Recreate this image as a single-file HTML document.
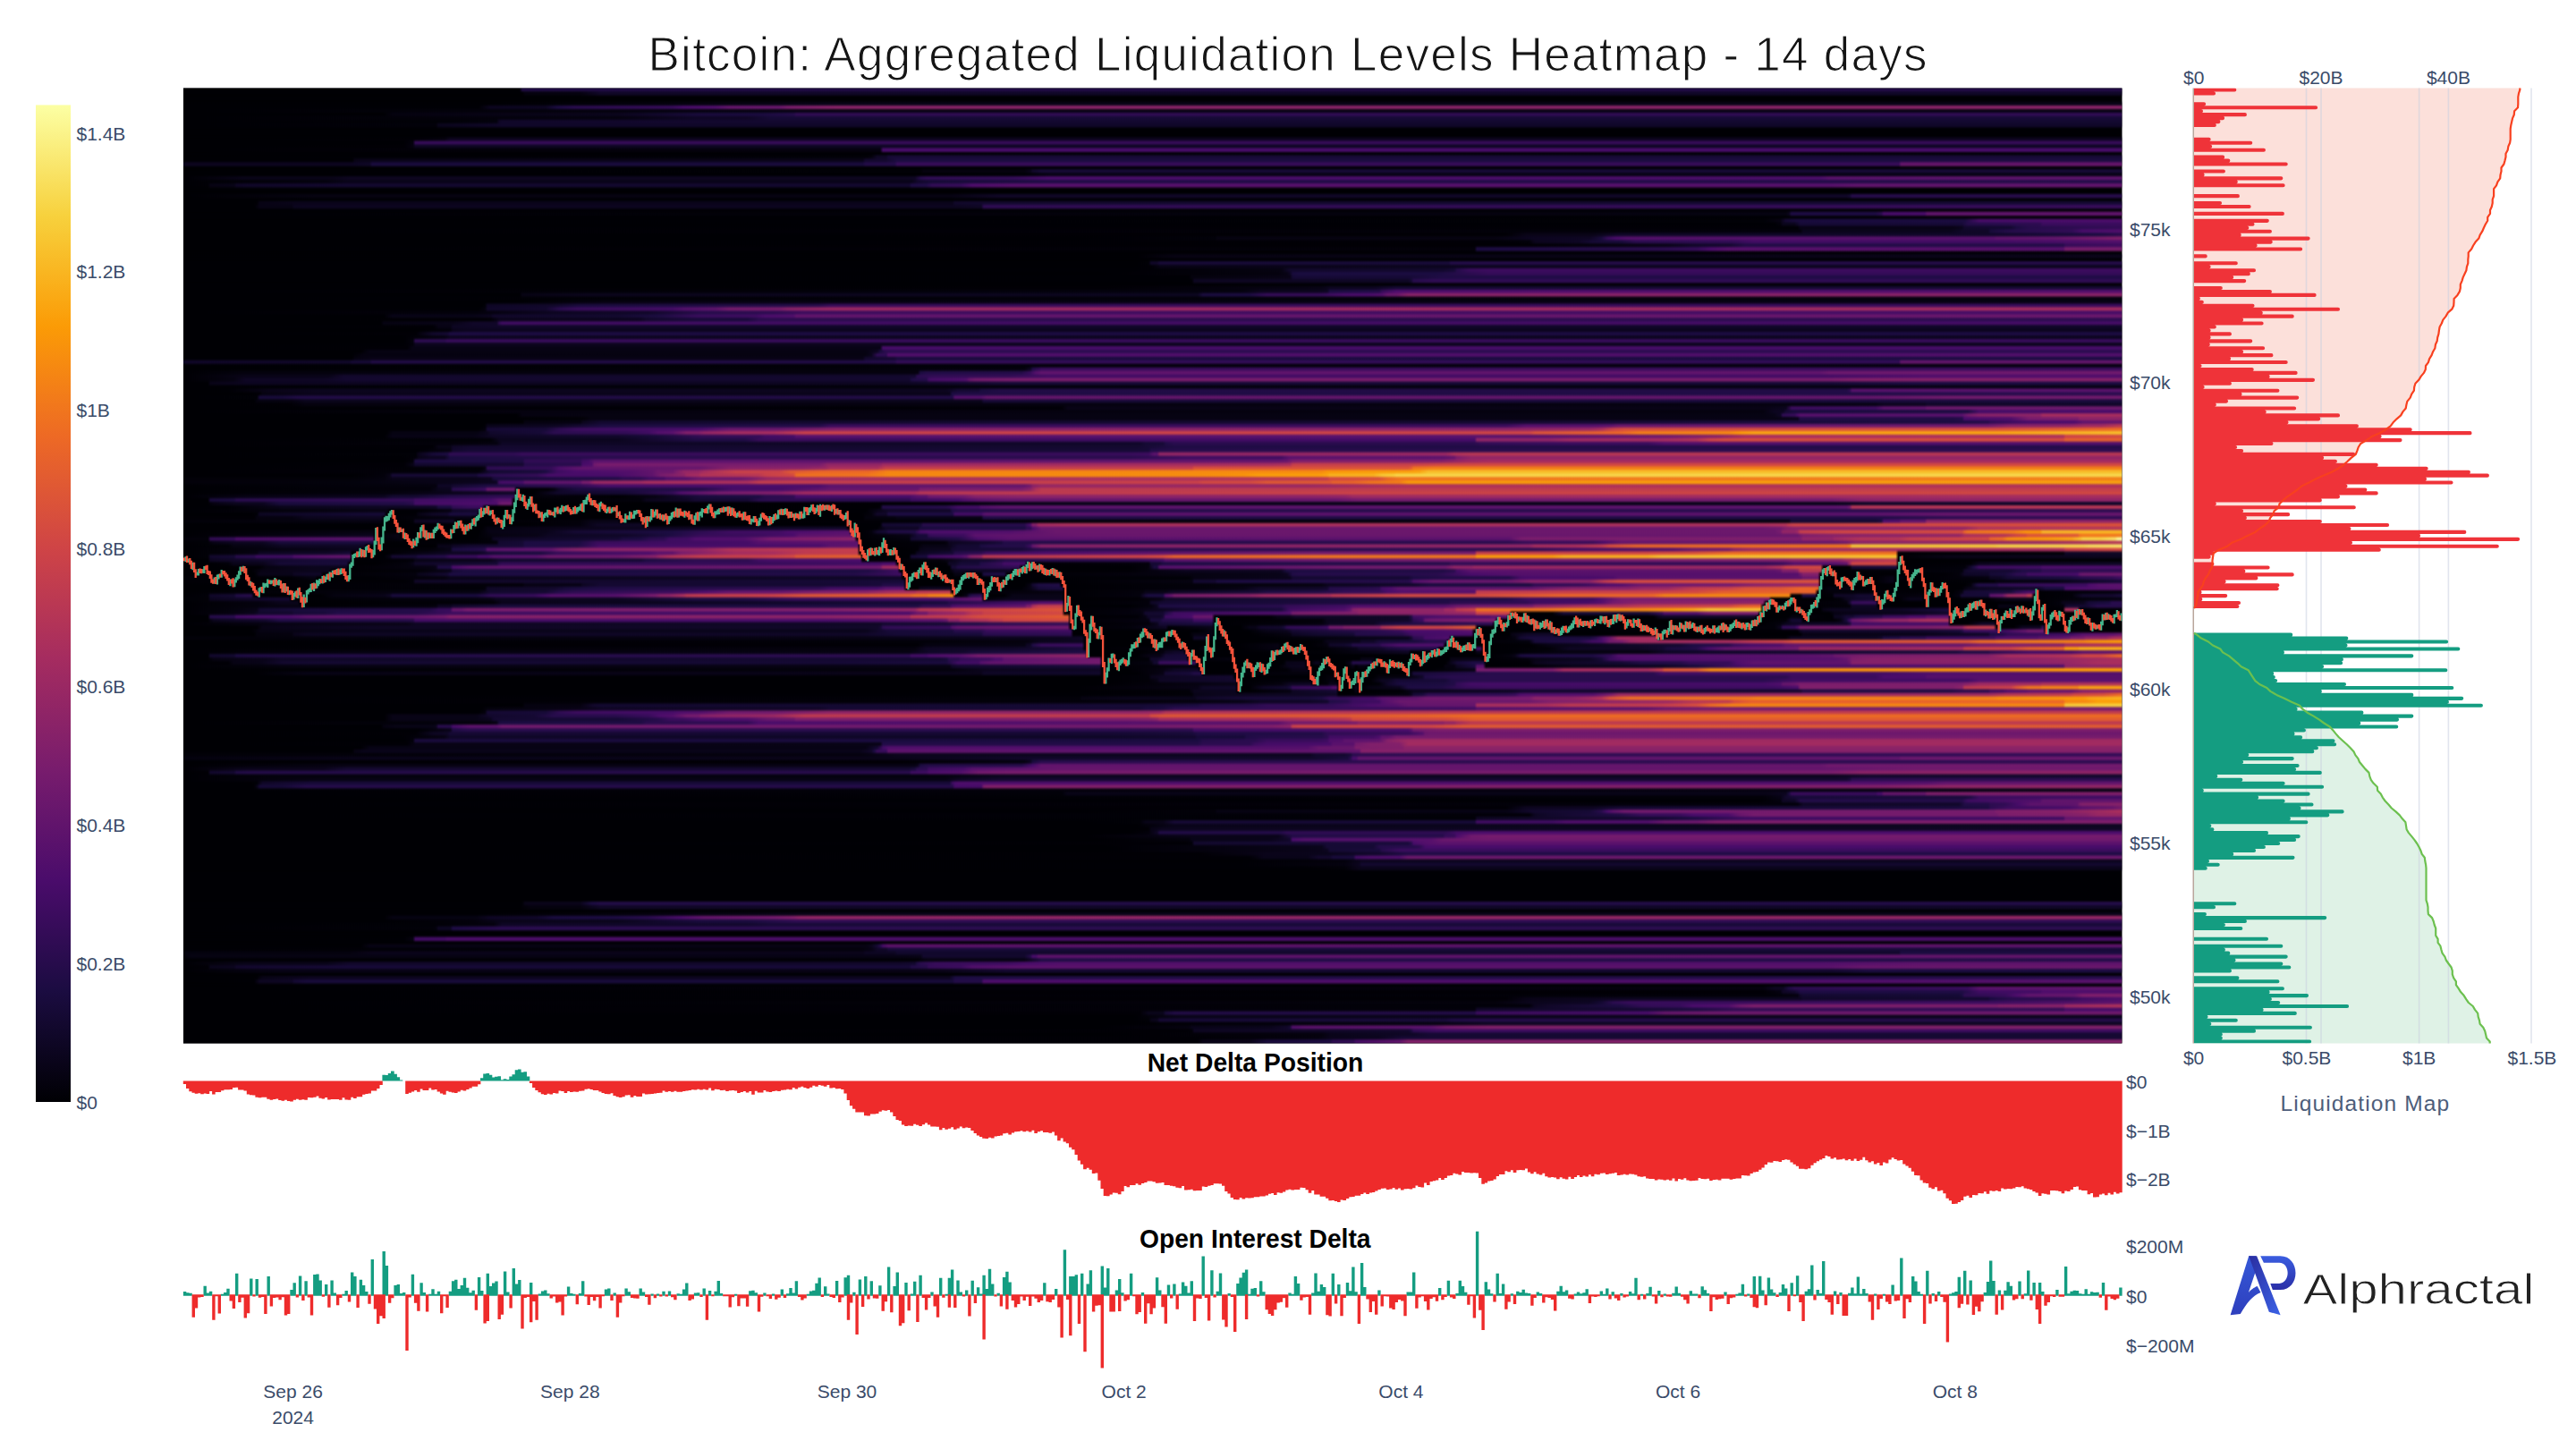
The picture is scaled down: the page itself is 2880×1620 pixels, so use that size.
<!DOCTYPE html><html><head><meta charset="utf-8"><title>Bitcoin: Aggregated Liquidation Levels Heatmap - 14 days</title>
<style>html,body{margin:0;padding:0;background:#fff}svg{display:block}text{font-family:"Liberation Sans", sans-serif}</style></head><body>
<svg width="2880" height="1620" viewBox="0 0 2880 1620">
<defs>
<linearGradient id="cb" x1="0" x2="0" y1="1" y2="0"><stop offset="0.0000" stop-color="#000004"/><stop offset="0.1111" stop-color="#1b0c41"/><stop offset="0.2222" stop-color="#4a0c6b"/><stop offset="0.3333" stop-color="#781c6d"/><stop offset="0.4444" stop-color="#a52c60"/><stop offset="0.5556" stop-color="#cf4446"/><stop offset="0.6667" stop-color="#ed6925"/><stop offset="0.7778" stop-color="#fb9b06"/><stop offset="0.8889" stop-color="#f7d13d"/><stop offset="1.0000" stop-color="#fcffa4"/></linearGradient>
<filter id="vb" x="0" y="-0.01" width="1" height="1.02" color-interpolation-filters="sRGB"><feGaussianBlur stdDeviation="0 0.85"/></filter>
<clipPath id="hc"><rect x="205" y="98.5" width="2167.5" height="1068"/></clipPath>
<linearGradient id="lg1" x1="0" x2="1" y1="0" y2="1"><stop offset="0" stop-color="#2a2da0"/><stop offset="1" stop-color="#3b62e6"/></linearGradient>
<linearGradient id="lg2" x1="0" x2="0" y1="0" y2="1"><stop offset="0" stop-color="#3558d8"/><stop offset="1" stop-color="#2e3fbd"/></linearGradient>
<linearGradient id="lg3" x1="0" x2="0" y1="0" y2="1"><stop offset="0" stop-color="#3a5de0"/><stop offset="1" stop-color="#2a2ea6"/></linearGradient>
<linearGradient id="h0" gradientUnits="userSpaceOnUse" x1="205" x2="2372.5" y1="0" y2="0"><stop offset="0" stop-color="#000004"/><stop offset="0.1719" stop-color="#000004"/><stop offset="0.1734" stop-color="#010006"/><stop offset="0.1749" stop-color="#210c47"/><stop offset="1" stop-color="#230c48"/></linearGradient>
<linearGradient id="h1" gradientUnits="userSpaceOnUse" x1="205" x2="2372.5" y1="0" y2="0"><stop offset="0" stop-color="#000004"/><stop offset="0.1749" stop-color="#000004"/><stop offset="0.1763" stop-color="#05020e"/><stop offset="0.2046" stop-color="#05020f"/><stop offset="0.215" stop-color="#100727"/><stop offset="1" stop-color="#100728"/></linearGradient>
<linearGradient id="h4" gradientUnits="userSpaceOnUse" x1="205" x2="2372.5" y1="0" y2="0"><stop offset="0" stop-color="#000004"/><stop offset="0.154" stop-color="#000004"/><stop offset="0.3341" stop-color="#080417"/><stop offset="1" stop-color="#090417"/></linearGradient>
<linearGradient id="h5" gradientUnits="userSpaceOnUse" x1="205" x2="2372.5" y1="0" y2="0"><stop offset="0" stop-color="#000004"/><stop offset="0.1525" stop-color="#000005"/><stop offset="0.1585" stop-color="#0c051f"/><stop offset="0.1868" stop-color="#0d0622"/><stop offset="0.1927" stop-color="#1b0c41"/><stop offset="0.2016" stop-color="#290c4e"/><stop offset="0.2522" stop-color="#370c5a"/><stop offset="0.2582" stop-color="#480c69"/><stop offset="0.2746" stop-color="#510f6b"/><stop offset="0.282" stop-color="#66166c"/><stop offset="0.3073" stop-color="#69176c"/><stop offset="0.3118" stop-color="#7a1d6c"/><stop offset="0.3371" stop-color="#8a2368"/><stop offset="1" stop-color="#8a2368"/></linearGradient>
<linearGradient id="h6" gradientUnits="userSpaceOnUse" x1="205" x2="2372.5" y1="0" y2="0"><stop offset="0" stop-color="#000004"/><stop offset="0.3192" stop-color="#060312"/><stop offset="1" stop-color="#060313"/></linearGradient>
<linearGradient id="h7" gradientUnits="userSpaceOnUse" x1="205" x2="2372.5" y1="0" y2="0"><stop offset="0" stop-color="#000004"/><stop offset="0.1034" stop-color="#000004"/><stop offset="0.1079" stop-color="#05020f"/><stop offset="0.224" stop-color="#0b051d"/><stop offset="0.2656" stop-color="#190b3b"/><stop offset="0.2969" stop-color="#1a0b3e"/><stop offset="0.3147" stop-color="#240c49"/><stop offset="0.3162" stop-color="#300c53"/><stop offset="1" stop-color="#300c54"/></linearGradient>
<linearGradient id="h8" gradientUnits="userSpaceOnUse" x1="205" x2="2372.5" y1="0" y2="0"><stop offset="0" stop-color="#000004"/><stop offset="0.2254" stop-color="#05020f"/><stop offset="0.2641" stop-color="#0e0625"/><stop offset="0.2909" stop-color="#0f0625"/><stop offset="0.3028" stop-color="#160a36"/><stop offset="1" stop-color="#170a37"/></linearGradient>
<linearGradient id="h9" gradientUnits="userSpaceOnUse" x1="205" x2="2372.5" y1="0" y2="0"><stop offset="0" stop-color="#000004"/><stop offset="0.1391" stop-color="#010107"/><stop offset="0.1615" stop-color="#03020c"/><stop offset="0.1629" stop-color="#0e0624"/><stop offset="0.1644" stop-color="#100729"/><stop offset="0.2954" stop-color="#13082f"/><stop offset="1" stop-color="#130930"/></linearGradient>
<linearGradient id="h10" gradientUnits="userSpaceOnUse" x1="205" x2="2372.5" y1="0" y2="0"><stop offset="0" stop-color="#000004"/><stop offset="0.1287" stop-color="#02010a"/><stop offset="0.1302" stop-color="#03010a"/><stop offset="0.1317" stop-color="#0a051c"/><stop offset="0.1644" stop-color="#100729"/><stop offset="1" stop-color="#100729"/></linearGradient>
<linearGradient id="h14" gradientUnits="userSpaceOnUse" x1="205" x2="2372.5" y1="0" y2="0"><stop offset="0" stop-color="#000004"/><stop offset="0.1198" stop-color="#010006"/><stop offset="0.1347" stop-color="#04020e"/><stop offset="0.1376" stop-color="#0c051f"/><stop offset="1" stop-color="#0c051f"/></linearGradient>
<linearGradient id="h15" gradientUnits="userSpaceOnUse" x1="205" x2="2372.5" y1="0" y2="0"><stop offset="0" stop-color="#000004"/><stop offset="0.1138" stop-color="#000004"/><stop offset="0.1183" stop-color="#04020d"/><stop offset="0.1198" stop-color="#370c5a"/><stop offset="1" stop-color="#370c5a"/></linearGradient>
<linearGradient id="h16" gradientUnits="userSpaceOnUse" x1="205" x2="2372.5" y1="0" y2="0"><stop offset="0" stop-color="#000004"/><stop offset="0.1138" stop-color="#010005"/><stop offset="0.1183" stop-color="#050210"/><stop offset="0.1198" stop-color="#0d0622"/><stop offset="1" stop-color="#0d0622"/></linearGradient>
<linearGradient id="h17" gradientUnits="userSpaceOnUse" x1="205" x2="2372.5" y1="0" y2="0"><stop offset="0" stop-color="#000004"/><stop offset="0.3594" stop-color="#060210"/><stop offset="0.3609" stop-color="#470c68"/><stop offset="0.3624" stop-color="#480c6a"/><stop offset="1" stop-color="#480c6a"/></linearGradient>
<linearGradient id="h19" gradientUnits="userSpaceOnUse" x1="205" x2="2372.5" y1="0" y2="0"><stop offset="0" stop-color="#000004"/><stop offset="0.3519" stop-color="#020108"/><stop offset="0.3549" stop-color="#04020c"/><stop offset="0.3579" stop-color="#0f0726"/><stop offset="0.3624" stop-color="#0f0726"/><stop offset="0.3638" stop-color="#160a36"/><stop offset="0.3668" stop-color="#170a37"/><stop offset="1" stop-color="#170a37"/></linearGradient>
<linearGradient id="h20" gradientUnits="userSpaceOnUse" x1="205" x2="2372.5" y1="0" y2="0"><stop offset="0" stop-color="#000004"/><stop offset="0.0871" stop-color="#000004"/><stop offset="0.0885" stop-color="#080315"/><stop offset="0.0915" stop-color="#090418"/><stop offset="0.349" stop-color="#090418"/><stop offset="0.3504" stop-color="#090419"/><stop offset="0.3519" stop-color="#13082e"/><stop offset="0.3624" stop-color="#13082e"/><stop offset="0.3683" stop-color="#1b0c40"/><stop offset="1" stop-color="#1b0c40"/></linearGradient>
<linearGradient id="h21" gradientUnits="userSpaceOnUse" x1="205" x2="2372.5" y1="0" y2="0"><stop offset="0" stop-color="#0c051f"/><stop offset="0.0856" stop-color="#0c0520"/><stop offset="0.096" stop-color="#0f0726"/><stop offset="0.0975" stop-color="#190b3d"/><stop offset="0.3504" stop-color="#190b3d"/><stop offset="0.3519" stop-color="#230c48"/><stop offset="0.3668" stop-color="#230c48"/><stop offset="0.3683" stop-color="#360c59"/><stop offset="0.8847" stop-color="#360c59"/><stop offset="0.8862" stop-color="#65156c"/><stop offset="1" stop-color="#65156c"/></linearGradient>
<linearGradient id="h23" gradientUnits="userSpaceOnUse" x1="205" x2="2372.5" y1="0" y2="0"><stop offset="0" stop-color="#000004"/><stop offset="0.3802" stop-color="#010107"/><stop offset="0.3817" stop-color="#05020f"/><stop offset="0.4338" stop-color="#05020f"/><stop offset="0.4368" stop-color="#0a041b"/><stop offset="0.4382" stop-color="#12082c"/><stop offset="0.4427" stop-color="#170a37"/><stop offset="1" stop-color="#170a38"/></linearGradient>
<linearGradient id="h24" gradientUnits="userSpaceOnUse" x1="205" x2="2372.5" y1="0" y2="0"><stop offset="0" stop-color="#000004"/><stop offset="0.3787" stop-color="#000004"/><stop offset="0.4338" stop-color="#010107"/><stop offset="0.4472" stop-color="#070314"/><stop offset="1" stop-color="#070315"/></linearGradient>
<linearGradient id="h25" gradientUnits="userSpaceOnUse" x1="205" x2="2372.5" y1="0" y2="0"><stop offset="0" stop-color="#000004"/><stop offset="0.0305" stop-color="#090418"/><stop offset="0.0766" stop-color="#090418"/><stop offset="0.0856" stop-color="#0d0620"/><stop offset="0.3698" stop-color="#0d0620"/><stop offset="0.3772" stop-color="#0e0623"/><stop offset="0.3802" stop-color="#250c4a"/><stop offset="0.3832" stop-color="#300c54"/><stop offset="0.4278" stop-color="#340c58"/><stop offset="0.4457" stop-color="#4b0c6b"/><stop offset="0.8445" stop-color="#4d0d6b"/><stop offset="0.849" stop-color="#5b126c"/><stop offset="1" stop-color="#5f136c"/></linearGradient>
<linearGradient id="h26" gradientUnits="userSpaceOnUse" x1="205" x2="2372.5" y1="0" y2="0"><stop offset="0" stop-color="#000004"/><stop offset="0.0737" stop-color="#04020e"/><stop offset="0.0841" stop-color="#090419"/><stop offset="0.3757" stop-color="#090419"/><stop offset="0.3787" stop-color="#11072a"/><stop offset="0.3862" stop-color="#150a35"/><stop offset="0.4457" stop-color="#1f0c45"/><stop offset="1" stop-color="#240c49"/></linearGradient>
<linearGradient id="h27" gradientUnits="userSpaceOnUse" x1="205" x2="2372.5" y1="0" y2="0"><stop offset="0" stop-color="#000004"/><stop offset="0.0126" stop-color="#010006"/><stop offset="0.0141" stop-color="#070313"/><stop offset="0.026" stop-color="#080417"/><stop offset="0.0275" stop-color="#0e0624"/><stop offset="0.032" stop-color="#100728"/><stop offset="0.0841" stop-color="#13082f"/><stop offset="0.3743" stop-color="#13082f"/><stop offset="0.3757" stop-color="#1e0c44"/><stop offset="0.3832" stop-color="#200c46"/><stop offset="0.3862" stop-color="#310c55"/><stop offset="0.401" stop-color="#360c59"/><stop offset="0.407" stop-color="#4e0d6b"/><stop offset="0.4278" stop-color="#57106c"/><stop offset="0.849" stop-color="#57106c"/><stop offset="0.8638" stop-color="#60146c"/><stop offset="1" stop-color="#61146c"/></linearGradient>
<linearGradient id="h30" gradientUnits="userSpaceOnUse" x1="205" x2="2372.5" y1="0" y2="0"><stop offset="0" stop-color="#000004"/><stop offset="0.0677" stop-color="#060311"/><stop offset="0.3951" stop-color="#060312"/><stop offset="0.4219" stop-color="#100727"/><stop offset="0.8519" stop-color="#100728"/><stop offset="0.8579" stop-color="#100728"/><stop offset="0.8594" stop-color="#130930"/><stop offset="0.8609" stop-color="#260c4b"/><stop offset="1" stop-color="#270c4b"/></linearGradient>
<linearGradient id="h32" gradientUnits="userSpaceOnUse" x1="205" x2="2372.5" y1="0" y2="0"><stop offset="0" stop-color="#000004"/><stop offset="0.035" stop-color="#000004"/><stop offset="0.0379" stop-color="#010005"/><stop offset="0.0394" stop-color="#070314"/><stop offset="0.0588" stop-color="#0a041a"/><stop offset="0.3966" stop-color="#0a041a"/><stop offset="0.3981" stop-color="#11082b"/><stop offset="0.4144" stop-color="#12082d"/><stop offset="1" stop-color="#140932"/></linearGradient>
<linearGradient id="h33" gradientUnits="userSpaceOnUse" x1="205" x2="2372.5" y1="0" y2="0"><stop offset="0" stop-color="#000004"/><stop offset="0.0365" stop-color="#000004"/><stop offset="0.0394" stop-color="#070314"/><stop offset="0.0558" stop-color="#070314"/><stop offset="0.0573" stop-color="#0b051e"/><stop offset="0.0632" stop-color="#0c051f"/><stop offset="0.3966" stop-color="#0c051f"/><stop offset="0.4115" stop-color="#0f0725"/><stop offset="0.4129" stop-color="#2c0c50"/><stop offset="0.4144" stop-color="#2e0c52"/><stop offset="1" stop-color="#360c59"/></linearGradient>
<linearGradient id="h35" gradientUnits="userSpaceOnUse" x1="205" x2="2372.5" y1="0" y2="0"><stop offset="0" stop-color="#000004"/><stop offset="0.8266" stop-color="#060312"/><stop offset="0.8281" stop-color="#0b051d"/><stop offset="0.8296" stop-color="#1e0c44"/><stop offset="0.8728" stop-color="#1e0c44"/><stop offset="0.8757" stop-color="#2b0c4f"/><stop offset="0.8772" stop-color="#470c69"/><stop offset="0.8981" stop-color="#490c6a"/><stop offset="0.8996" stop-color="#60146c"/><stop offset="1" stop-color="#60146c"/></linearGradient>
<linearGradient id="h37" gradientUnits="userSpaceOnUse" x1="205" x2="2372.5" y1="0" y2="0"><stop offset="0" stop-color="#000004"/><stop offset="0.8147" stop-color="#010107"/><stop offset="0.8237" stop-color="#070313"/><stop offset="0.8266" stop-color="#150934"/><stop offset="0.8326" stop-color="#190b3e"/><stop offset="0.9189" stop-color="#1b0c40"/><stop offset="0.9263" stop-color="#480c69"/><stop offset="1" stop-color="#4d0d6b"/></linearGradient>
<linearGradient id="h38" gradientUnits="userSpaceOnUse" x1="205" x2="2372.5" y1="0" y2="0"><stop offset="0" stop-color="#000004"/><stop offset="0.8207" stop-color="#000005"/><stop offset="0.8237" stop-color="#03010b"/><stop offset="0.8251" stop-color="#0a051b"/><stop offset="0.8311" stop-color="#0a051b"/><stop offset="0.8341" stop-color="#160a36"/><stop offset="0.9174" stop-color="#160a37"/><stop offset="0.9204" stop-color="#240c49"/><stop offset="0.9576" stop-color="#2d0c51"/><stop offset="0.9591" stop-color="#3a0c5d"/><stop offset="1" stop-color="#3a0c5d"/></linearGradient>
<linearGradient id="h39" gradientUnits="userSpaceOnUse" x1="205" x2="2372.5" y1="0" y2="0"><stop offset="0" stop-color="#000004"/><stop offset="0.8326" stop-color="#010006"/><stop offset="0.8341" stop-color="#070315"/><stop offset="0.9129" stop-color="#080315"/><stop offset="0.9174" stop-color="#0b051c"/><stop offset="0.9189" stop-color="#12082c"/><stop offset="0.9427" stop-color="#130930"/><stop offset="0.9457" stop-color="#1b0c40"/><stop offset="0.9516" stop-color="#260c4a"/><stop offset="1" stop-color="#330c56"/></linearGradient>
<linearGradient id="h40" gradientUnits="userSpaceOnUse" x1="205" x2="2372.5" y1="0" y2="0"><stop offset="0" stop-color="#000004"/><stop offset="0.8341" stop-color="#03010b"/><stop offset="0.8356" stop-color="#0a051b"/><stop offset="0.9115" stop-color="#0a051b"/><stop offset="0.9174" stop-color="#0f0727"/><stop offset="0.9308" stop-color="#100727"/><stop offset="0.9323" stop-color="#180b3b"/><stop offset="0.9412" stop-color="#250c4a"/><stop offset="0.974" stop-color="#320c56"/><stop offset="0.9799" stop-color="#490c6a"/><stop offset="1" stop-color="#500e6b"/></linearGradient>
<linearGradient id="h41" gradientUnits="userSpaceOnUse" x1="205" x2="2372.5" y1="0" y2="0"><stop offset="0" stop-color="#000004"/><stop offset="0.6823" stop-color="#010005"/><stop offset="0.6927" stop-color="#090417"/><stop offset="0.7269" stop-color="#090417"/><stop offset="0.7403" stop-color="#0f0727"/><stop offset="0.9308" stop-color="#100729"/><stop offset="0.9888" stop-color="#1b0c41"/><stop offset="1" stop-color="#290c4d"/></linearGradient>
<linearGradient id="h42" gradientUnits="userSpaceOnUse" x1="205" x2="2372.5" y1="0" y2="0"><stop offset="0" stop-color="#000004"/><stop offset="0.4621" stop-color="#000004"/><stop offset="0.532" stop-color="#02010a"/><stop offset="0.5335" stop-color="#060311"/><stop offset="0.6763" stop-color="#060311"/><stop offset="0.6957" stop-color="#0c0520"/><stop offset="0.7254" stop-color="#0e0623"/><stop offset="0.7314" stop-color="#190b3c"/><stop offset="0.7344" stop-color="#350c58"/><stop offset="0.7388" stop-color="#4b0c6b"/><stop offset="0.7448" stop-color="#56106c"/><stop offset="0.9338" stop-color="#59116c"/><stop offset="0.9353" stop-color="#60146c"/><stop offset="0.965" stop-color="#63156c"/><stop offset="1" stop-color="#811f6a"/></linearGradient>
<linearGradient id="h43" gradientUnits="userSpaceOnUse" x1="205" x2="2372.5" y1="0" y2="0"><stop offset="0" stop-color="#000004"/><stop offset="0.6763" stop-color="#010006"/><stop offset="0.6942" stop-color="#020109"/><stop offset="0.6972" stop-color="#0b051d"/><stop offset="0.7195" stop-color="#0e0624"/><stop offset="0.7269" stop-color="#160a35"/><stop offset="0.7418" stop-color="#180b3b"/><stop offset="0.7493" stop-color="#2a0c4f"/><stop offset="0.7984" stop-color="#310c55"/><stop offset="0.8103" stop-color="#420c64"/><stop offset="0.9353" stop-color="#420c64"/><stop offset="1" stop-color="#510f6b"/></linearGradient>
<linearGradient id="h44" gradientUnits="userSpaceOnUse" x1="205" x2="2372.5" y1="0" y2="0"><stop offset="0" stop-color="#000004"/><stop offset="0.6957" stop-color="#010005"/><stop offset="0.7656" stop-color="#090417"/><stop offset="0.779" stop-color="#100728"/><stop offset="0.7969" stop-color="#13082e"/><stop offset="0.8058" stop-color="#200c45"/><stop offset="0.9591" stop-color="#230c48"/><stop offset="0.9695" stop-color="#250c4a"/><stop offset="0.971" stop-color="#340c58"/><stop offset="0.9725" stop-color="#360c59"/><stop offset="1" stop-color="#3e0c60"/></linearGradient>
<linearGradient id="h45" gradientUnits="userSpaceOnUse" x1="205" x2="2372.5" y1="0" y2="0"><stop offset="0" stop-color="#000004"/><stop offset="0.6659" stop-color="#03010a"/><stop offset="0.6674" stop-color="#1b0c41"/><stop offset="0.7626" stop-color="#2a0c4e"/><stop offset="0.7805" stop-color="#340c58"/><stop offset="0.7879" stop-color="#4b0c6b"/><stop offset="0.7969" stop-color="#57106c"/><stop offset="0.9695" stop-color="#57106c"/><stop offset="0.971" stop-color="#771c6d"/><stop offset="1" stop-color="#771c6d"/></linearGradient>
<linearGradient id="h47" gradientUnits="userSpaceOnUse" x1="205" x2="2372.5" y1="0" y2="0"><stop offset="0" stop-color="#000004"/><stop offset="0.4918" stop-color="#000004"/><stop offset="0.5112" stop-color="#070313"/><stop offset="1" stop-color="#0a041a"/></linearGradient>
<linearGradient id="h49" gradientUnits="userSpaceOnUse" x1="205" x2="2372.5" y1="0" y2="0"><stop offset="0" stop-color="#000004"/><stop offset="0.4903" stop-color="#000004"/><stop offset="0.4978" stop-color="#010107"/><stop offset="0.4993" stop-color="#100729"/><stop offset="0.5022" stop-color="#110729"/><stop offset="0.5037" stop-color="#170a37"/><stop offset="0.6525" stop-color="#180b39"/><stop offset="0.654" stop-color="#220c47"/><stop offset="0.6659" stop-color="#240c49"/><stop offset="1" stop-color="#240c49"/></linearGradient>
<linearGradient id="h50" gradientUnits="userSpaceOnUse" x1="205" x2="2372.5" y1="0" y2="0"><stop offset="0" stop-color="#000004"/><stop offset="0.4888" stop-color="#000004"/><stop offset="0.4993" stop-color="#010006"/><stop offset="0.5037" stop-color="#070314"/><stop offset="0.6659" stop-color="#0c051f"/><stop offset="1" stop-color="#0c051f"/></linearGradient>
<linearGradient id="h51" gradientUnits="userSpaceOnUse" x1="205" x2="2372.5" y1="0" y2="0"><stop offset="0" stop-color="#000004"/><stop offset="0.4888" stop-color="#000005"/><stop offset="0.5662" stop-color="#060311"/><stop offset="0.5707" stop-color="#11082b"/><stop offset="0.6496" stop-color="#12082c"/><stop offset="0.6555" stop-color="#160a36"/><stop offset="0.657" stop-color="#240c49"/><stop offset="0.6629" stop-color="#370c5a"/><stop offset="0.6734" stop-color="#3c0c5e"/><stop offset="1" stop-color="#3c0c5e"/></linearGradient>
<linearGradient id="h52" gradientUnits="userSpaceOnUse" x1="205" x2="2372.5" y1="0" y2="0"><stop offset="0" stop-color="#000004"/><stop offset="0.4725" stop-color="#000004"/><stop offset="0.5647" stop-color="#05020e"/><stop offset="0.5692" stop-color="#070314"/><stop offset="0.5707" stop-color="#0c051f"/><stop offset="0.5722" stop-color="#180b3b"/><stop offset="0.5751" stop-color="#1a0c3f"/><stop offset="0.6466" stop-color="#1b0c41"/><stop offset="0.6734" stop-color="#350c58"/><stop offset="1" stop-color="#350c58"/></linearGradient>
<linearGradient id="h53" gradientUnits="userSpaceOnUse" x1="205" x2="2372.5" y1="0" y2="0"><stop offset="0" stop-color="#000004"/><stop offset="0.5186" stop-color="#000005"/><stop offset="0.5201" stop-color="#04020d"/><stop offset="0.5707" stop-color="#080315"/><stop offset="0.5722" stop-color="#140931"/><stop offset="0.5737" stop-color="#160a36"/><stop offset="0.6317" stop-color="#160a36"/><stop offset="0.6496" stop-color="#1f0c45"/><stop offset="1" stop-color="#1f0c45"/></linearGradient>
<linearGradient id="h54" gradientUnits="userSpaceOnUse" x1="205" x2="2372.5" y1="0" y2="0"><stop offset="0" stop-color="#000004"/><stop offset="0.5171" stop-color="#000005"/><stop offset="0.5201" stop-color="#010006"/><stop offset="0.5216" stop-color="#0d0621"/><stop offset="0.6317" stop-color="#0f0725"/><stop offset="0.6332" stop-color="#140931"/><stop offset="0.6347" stop-color="#270c4c"/><stop offset="0.6451" stop-color="#2f0c53"/><stop offset="1" stop-color="#2f0c53"/></linearGradient>
<linearGradient id="h56" gradientUnits="userSpaceOnUse" x1="205" x2="2372.5" y1="0" y2="0"><stop offset="0" stop-color="#000004"/><stop offset="0.4754" stop-color="#010005"/><stop offset="0.5871" stop-color="#070314"/><stop offset="0.5915" stop-color="#0c051f"/><stop offset="0.6138" stop-color="#0c051f"/><stop offset="0.6257" stop-color="#140932"/><stop offset="1" stop-color="#150933"/></linearGradient>
<linearGradient id="h57" gradientUnits="userSpaceOnUse" x1="205" x2="2372.5" y1="0" y2="0"><stop offset="0" stop-color="#000004"/><stop offset="0.5454" stop-color="#04020e"/><stop offset="0.5558" stop-color="#0b051c"/><stop offset="0.5856" stop-color="#0b051d"/><stop offset="0.59" stop-color="#0d0622"/><stop offset="0.5915" stop-color="#1a0c40"/><stop offset="0.6168" stop-color="#200c46"/><stop offset="0.6183" stop-color="#340c57"/><stop offset="0.6257" stop-color="#4c0d6b"/><stop offset="1" stop-color="#500e6b"/></linearGradient>
<linearGradient id="h58" gradientUnits="userSpaceOnUse" x1="205" x2="2372.5" y1="0" y2="0"><stop offset="0" stop-color="#000004"/><stop offset="0.1734" stop-color="#000004"/><stop offset="0.1749" stop-color="#070314"/><stop offset="0.2091" stop-color="#0b051c"/><stop offset="0.5231" stop-color="#0c0620"/><stop offset="0.526" stop-color="#1a0c3f"/><stop offset="0.5499" stop-color="#1b0c41"/><stop offset="0.5588" stop-color="#350c58"/><stop offset="0.5856" stop-color="#350c58"/><stop offset="0.599" stop-color="#490c6a"/><stop offset="0.6109" stop-color="#4a0c6b"/><stop offset="0.6183" stop-color="#530f6b"/><stop offset="0.6213" stop-color="#6a176c"/><stop offset="0.6257" stop-color="#6a176c"/><stop offset="0.6317" stop-color="#892268"/><stop offset="1" stop-color="#892268"/></linearGradient>
<linearGradient id="h59" gradientUnits="userSpaceOnUse" x1="205" x2="2372.5" y1="0" y2="0"><stop offset="0" stop-color="#000004"/><stop offset="1" stop-color="#04020e"/></linearGradient>
<linearGradient id="h60" gradientUnits="userSpaceOnUse" x1="205" x2="2372.5" y1="0" y2="0"><stop offset="0" stop-color="#000004"/><stop offset="0.1749" stop-color="#000004"/><stop offset="0.2165" stop-color="#060211"/><stop offset="1" stop-color="#070314"/></linearGradient>
<linearGradient id="h61" gradientUnits="userSpaceOnUse" x1="205" x2="2372.5" y1="0" y2="0"><stop offset="0" stop-color="#000004"/><stop offset="0.154" stop-color="#000004"/><stop offset="0.1555" stop-color="#010107"/><stop offset="0.157" stop-color="#0e0625"/><stop offset="0.1912" stop-color="#11082a"/><stop offset="0.2046" stop-color="#1a0b3e"/><stop offset="0.3207" stop-color="#250c4a"/><stop offset="0.3281" stop-color="#280c4d"/><stop offset="0.3341" stop-color="#370c5a"/><stop offset="1" stop-color="#3a0c5d"/></linearGradient>
<linearGradient id="h62" gradientUnits="userSpaceOnUse" x1="205" x2="2372.5" y1="0" y2="0"><stop offset="0" stop-color="#000004"/><stop offset="0.1525" stop-color="#000005"/><stop offset="0.1555" stop-color="#04020d"/><stop offset="0.157" stop-color="#100729"/><stop offset="0.1868" stop-color="#13082e"/><stop offset="0.1942" stop-color="#2a0c4f"/><stop offset="0.2031" stop-color="#390c5b"/><stop offset="0.2522" stop-color="#460c67"/><stop offset="0.2582" stop-color="#55106b"/><stop offset="0.2746" stop-color="#60146c"/><stop offset="0.282" stop-color="#781c6d"/><stop offset="0.3073" stop-color="#7b1d6c"/><stop offset="0.3118" stop-color="#8a2368"/><stop offset="0.3371" stop-color="#9e2962"/><stop offset="1" stop-color="#a62d5f"/></linearGradient>
<linearGradient id="h63" gradientUnits="userSpaceOnUse" x1="205" x2="2372.5" y1="0" y2="0"><stop offset="0" stop-color="#000004"/><stop offset="0.151" stop-color="#03010b"/><stop offset="0.1897" stop-color="#0c0520"/><stop offset="0.2403" stop-color="#100728"/><stop offset="0.2671" stop-color="#250c4a"/><stop offset="0.3043" stop-color="#2b0c50"/><stop offset="0.3192" stop-color="#3a0c5c"/><stop offset="1" stop-color="#450c66"/></linearGradient>
<linearGradient id="h64" gradientUnits="userSpaceOnUse" x1="205" x2="2372.5" y1="0" y2="0"><stop offset="0" stop-color="#000004"/><stop offset="0.1034" stop-color="#000004"/><stop offset="0.1079" stop-color="#080417"/><stop offset="0.1496" stop-color="#080417"/><stop offset="0.1585" stop-color="#0c051e"/><stop offset="0.16" stop-color="#11072a"/><stop offset="0.224" stop-color="#130930"/><stop offset="0.2448" stop-color="#1c0c41"/><stop offset="0.2656" stop-color="#390c5c"/><stop offset="0.2954" stop-color="#3e0c60"/><stop offset="0.2999" stop-color="#4c0d6b"/><stop offset="0.3147" stop-color="#520f6b"/><stop offset="0.3162" stop-color="#63156c"/><stop offset="0.3177" stop-color="#63156c"/><stop offset="1" stop-color="#6d186d"/></linearGradient>
<linearGradient id="h65" gradientUnits="userSpaceOnUse" x1="205" x2="2372.5" y1="0" y2="0"><stop offset="0" stop-color="#000004"/><stop offset="0.1585" stop-color="#010005"/><stop offset="0.1629" stop-color="#0a041a"/><stop offset="0.2359" stop-color="#0b051e"/><stop offset="0.2388" stop-color="#11082a"/><stop offset="0.2641" stop-color="#170a38"/><stop offset="0.2909" stop-color="#170a39"/><stop offset="0.2969" stop-color="#280c4d"/><stop offset="0.3028" stop-color="#2a0c4e"/><stop offset="1" stop-color="#2c0c50"/></linearGradient>
<linearGradient id="h66" gradientUnits="userSpaceOnUse" x1="205" x2="2372.5" y1="0" y2="0"><stop offset="0" stop-color="#000004"/><stop offset="0.1019" stop-color="#000004"/><stop offset="0.1034" stop-color="#060312"/><stop offset="0.1391" stop-color="#090418"/><stop offset="0.1496" stop-color="#110729"/><stop offset="0.1615" stop-color="#110729"/><stop offset="0.1629" stop-color="#300c53"/><stop offset="0.1644" stop-color="#3f0c61"/><stop offset="0.1689" stop-color="#410c63"/><stop offset="1" stop-color="#460c67"/></linearGradient>
<linearGradient id="h67" gradientUnits="userSpaceOnUse" x1="205" x2="2372.5" y1="0" y2="0"><stop offset="0" stop-color="#000004"/><stop offset="0.1287" stop-color="#010006"/><stop offset="0.1317" stop-color="#070314"/><stop offset="0.1376" stop-color="#070314"/><stop offset="0.1391" stop-color="#0d0622"/><stop offset="0.1644" stop-color="#100729"/><stop offset="1" stop-color="#100729"/></linearGradient>
<linearGradient id="h68" gradientUnits="userSpaceOnUse" x1="205" x2="2372.5" y1="0" y2="0"><stop offset="0" stop-color="#000004"/><stop offset="0.1213" stop-color="#000004"/><stop offset="0.1376" stop-color="#03010b"/><stop offset="0.1391" stop-color="#0a041a"/><stop offset="0.1466" stop-color="#0c051f"/><stop offset="1" stop-color="#0c051f"/></linearGradient>
<linearGradient id="h69" gradientUnits="userSpaceOnUse" x1="205" x2="2372.5" y1="0" y2="0"><stop offset="0" stop-color="#000004"/><stop offset="0.1198" stop-color="#010006"/><stop offset="0.1287" stop-color="#11082a"/><stop offset="0.1362" stop-color="#140932"/><stop offset="0.1376" stop-color="#1c0c42"/><stop offset="1" stop-color="#1c0c42"/></linearGradient>
<linearGradient id="h70" gradientUnits="userSpaceOnUse" x1="205" x2="2372.5" y1="0" y2="0"><stop offset="0" stop-color="#000004"/><stop offset="0.1124" stop-color="#000004"/><stop offset="0.1347" stop-color="#060312"/><stop offset="0.1376" stop-color="#0c051f"/><stop offset="1" stop-color="#0c051f"/></linearGradient>
<linearGradient id="h71" gradientUnits="userSpaceOnUse" x1="205" x2="2372.5" y1="0" y2="0"><stop offset="0" stop-color="#000004"/><stop offset="0.1138" stop-color="#000004"/><stop offset="0.1183" stop-color="#04020d"/><stop offset="0.1198" stop-color="#2d0c51"/><stop offset="0.1347" stop-color="#2d0c51"/><stop offset="0.1362" stop-color="#370c5a"/><stop offset="1" stop-color="#370c5a"/></linearGradient>
<linearGradient id="h72" gradientUnits="userSpaceOnUse" x1="205" x2="2372.5" y1="0" y2="0"><stop offset="0" stop-color="#000004"/><stop offset="0.1138" stop-color="#000005"/><stop offset="0.1183" stop-color="#03010b"/><stop offset="0.1198" stop-color="#0c051e"/><stop offset="1" stop-color="#0c051e"/></linearGradient>
<linearGradient id="h73" gradientUnits="userSpaceOnUse" x1="205" x2="2372.5" y1="0" y2="0"><stop offset="0" stop-color="#000004"/><stop offset="0.1153" stop-color="#010006"/><stop offset="0.1183" stop-color="#070314"/><stop offset="0.3594" stop-color="#080316"/><stop offset="0.3609" stop-color="#460c67"/><stop offset="0.3624" stop-color="#480c69"/><stop offset="1" stop-color="#480c69"/></linearGradient>
<linearGradient id="h74" gradientUnits="userSpaceOnUse" x1="205" x2="2372.5" y1="0" y2="0"><stop offset="0" stop-color="#000004"/><stop offset="0.0915" stop-color="#000004"/><stop offset="0.096" stop-color="#060312"/><stop offset="0.3519" stop-color="#060312"/><stop offset="0.3579" stop-color="#0d0621"/><stop offset="0.3594" stop-color="#180b3b"/><stop offset="0.3624" stop-color="#2a0c4e"/><stop offset="0.3668" stop-color="#2c0c50"/><stop offset="1" stop-color="#2c0c50"/></linearGradient>
<linearGradient id="h75" gradientUnits="userSpaceOnUse" x1="205" x2="2372.5" y1="0" y2="0"><stop offset="0" stop-color="#000004"/><stop offset="0.0871" stop-color="#000004"/><stop offset="0.093" stop-color="#050210"/><stop offset="0.3519" stop-color="#060311"/><stop offset="0.3549" stop-color="#0a051c"/><stop offset="0.3579" stop-color="#2e0c52"/><stop offset="0.3624" stop-color="#2e0c52"/><stop offset="0.3638" stop-color="#510e6b"/><stop offset="1" stop-color="#520f6b"/></linearGradient>
<linearGradient id="h76" gradientUnits="userSpaceOnUse" x1="205" x2="2372.5" y1="0" y2="0"><stop offset="0" stop-color="#000004"/><stop offset="0.0871" stop-color="#000004"/><stop offset="0.0885" stop-color="#050210"/><stop offset="0.0975" stop-color="#080315"/><stop offset="0.349" stop-color="#080315"/><stop offset="0.3504" stop-color="#080416"/><stop offset="0.3519" stop-color="#12082d"/><stop offset="0.3668" stop-color="#140931"/><stop offset="0.3683" stop-color="#190b3c"/><stop offset="1" stop-color="#1b0c41"/></linearGradient>
<linearGradient id="h77" gradientUnits="userSpaceOnUse" x1="205" x2="2372.5" y1="0" y2="0"><stop offset="0" stop-color="#11072a"/><stop offset="0.0856" stop-color="#11082b"/><stop offset="0.0871" stop-color="#160a35"/><stop offset="0.096" stop-color="#160a35"/><stop offset="0.0975" stop-color="#210c46"/><stop offset="0.3504" stop-color="#210c46"/><stop offset="0.3668" stop-color="#260c4b"/><stop offset="0.3683" stop-color="#330c57"/><stop offset="0.8847" stop-color="#330c57"/><stop offset="0.8862" stop-color="#65156c"/><stop offset="1" stop-color="#65156c"/></linearGradient>
<linearGradient id="h78" gradientUnits="userSpaceOnUse" x1="205" x2="2372.5" y1="0" y2="0"><stop offset="0" stop-color="#000004"/><stop offset="1" stop-color="#050210"/></linearGradient>
<linearGradient id="h79" gradientUnits="userSpaceOnUse" x1="205" x2="2372.5" y1="0" y2="0"><stop offset="0" stop-color="#000004"/><stop offset="0.4338" stop-color="#04020d"/><stop offset="0.4368" stop-color="#0d0621"/><stop offset="0.4382" stop-color="#200c46"/><stop offset="0.4427" stop-color="#380c5b"/><stop offset="1" stop-color="#390c5c"/></linearGradient>
<linearGradient id="h80" gradientUnits="userSpaceOnUse" x1="205" x2="2372.5" y1="0" y2="0"><stop offset="0" stop-color="#000004"/><stop offset="0.0305" stop-color="#04020d"/><stop offset="0.3787" stop-color="#05020e"/><stop offset="0.3802" stop-color="#1a0b3e"/><stop offset="0.3832" stop-color="#210c46"/><stop offset="0.4323" stop-color="#230c48"/><stop offset="0.4368" stop-color="#370c5a"/><stop offset="0.4397" stop-color="#55106b"/><stop offset="0.4427" stop-color="#61146c"/><stop offset="0.8445" stop-color="#63156c"/><stop offset="0.849" stop-color="#6e196d"/><stop offset="1" stop-color="#711a6d"/></linearGradient>
<linearGradient id="h81" gradientUnits="userSpaceOnUse" x1="205" x2="2372.5" y1="0" y2="0"><stop offset="0" stop-color="#000004"/><stop offset="0.032" stop-color="#090417"/><stop offset="0.0751" stop-color="#090418"/><stop offset="0.0826" stop-color="#12082c"/><stop offset="0.3698" stop-color="#12082d"/><stop offset="0.3772" stop-color="#140931"/><stop offset="0.3787" stop-color="#290c4e"/><stop offset="0.3876" stop-color="#310c54"/><stop offset="0.4263" stop-color="#320c55"/><stop offset="0.4457" stop-color="#420c64"/><stop offset="0.8445" stop-color="#420c64"/><stop offset="0.8966" stop-color="#4e0d6b"/><stop offset="1" stop-color="#4e0d6b"/></linearGradient>
<linearGradient id="h82" gradientUnits="userSpaceOnUse" x1="205" x2="2372.5" y1="0" y2="0"><stop offset="0" stop-color="#000004"/><stop offset="0.026" stop-color="#060311"/><stop offset="0.032" stop-color="#0e0624"/><stop offset="0.0722" stop-color="#0e0624"/><stop offset="0.0841" stop-color="#13082f"/><stop offset="0.3743" stop-color="#13082f"/><stop offset="0.3757" stop-color="#1d0c43"/><stop offset="0.3772" stop-color="#220c48"/><stop offset="0.3832" stop-color="#240c49"/><stop offset="0.3847" stop-color="#420c64"/><stop offset="0.3862" stop-color="#460c67"/><stop offset="0.4025" stop-color="#4e0d6b"/><stop offset="0.404" stop-color="#530f6b"/><stop offset="0.4055" stop-color="#68166c"/><stop offset="0.4085" stop-color="#731a6d"/><stop offset="0.4278" stop-color="#7b1d6c"/><stop offset="0.849" stop-color="#7b1d6c"/><stop offset="0.8638" stop-color="#852169"/><stop offset="1" stop-color="#872169"/></linearGradient>
<linearGradient id="h83" gradientUnits="userSpaceOnUse" x1="205" x2="2372.5" y1="0" y2="0"><stop offset="0" stop-color="#000004"/><stop offset="0.0126" stop-color="#000004"/><stop offset="0.0141" stop-color="#090418"/><stop offset="0.0335" stop-color="#0c0520"/><stop offset="0.3713" stop-color="#0d0622"/><stop offset="0.4263" stop-color="#160a36"/><stop offset="0.8504" stop-color="#160a36"/><stop offset="0.8906" stop-color="#1c0c42"/><stop offset="1" stop-color="#1c0c42"/></linearGradient>
<linearGradient id="h84" gradientUnits="userSpaceOnUse" x1="205" x2="2372.5" y1="0" y2="0"><stop offset="0" stop-color="#000004"/><stop offset="1" stop-color="#070315"/></linearGradient>
<linearGradient id="h85" gradientUnits="userSpaceOnUse" x1="205" x2="2372.5" y1="0" y2="0"><stop offset="0" stop-color="#000004"/><stop offset="0.0231" stop-color="#000005"/><stop offset="0.0454" stop-color="#0a0419"/><stop offset="0.0692" stop-color="#0b051e"/><stop offset="0.3936" stop-color="#0c051f"/><stop offset="0.3996" stop-color="#150933"/><stop offset="0.41" stop-color="#150933"/><stop offset="0.4115" stop-color="#1a0c3f"/><stop offset="0.4219" stop-color="#210c46"/><stop offset="0.8519" stop-color="#210c46"/><stop offset="0.8579" stop-color="#220c47"/><stop offset="0.8594" stop-color="#2e0c52"/><stop offset="0.8609" stop-color="#58116c"/><stop offset="1" stop-color="#5a126c"/></linearGradient>
<linearGradient id="h86" gradientUnits="userSpaceOnUse" x1="205" x2="2372.5" y1="0" y2="0"><stop offset="0" stop-color="#000004"/><stop offset="0.035" stop-color="#000004"/><stop offset="0.0394" stop-color="#010006"/><stop offset="0.0409" stop-color="#060311"/><stop offset="0.0662" stop-color="#0a041a"/><stop offset="0.3951" stop-color="#0a041a"/><stop offset="0.3966" stop-color="#1b0c41"/><stop offset="0.3996" stop-color="#1f0c44"/><stop offset="0.8698" stop-color="#200c46"/><stop offset="1" stop-color="#2a0c4e"/></linearGradient>
<linearGradient id="h87" gradientUnits="userSpaceOnUse" x1="205" x2="2372.5" y1="0" y2="0"><stop offset="0" stop-color="#000004"/><stop offset="0.0379" stop-color="#010107"/><stop offset="0.0394" stop-color="#180b3b"/><stop offset="0.0513" stop-color="#180b3b"/><stop offset="0.0588" stop-color="#210c47"/><stop offset="0.3966" stop-color="#220c47"/><stop offset="0.3981" stop-color="#55106b"/><stop offset="0.4115" stop-color="#55106b"/><stop offset="0.4144" stop-color="#66166c"/><stop offset="0.8713" stop-color="#66166c"/><stop offset="0.91" stop-color="#731a6d"/><stop offset="1" stop-color="#731a6d"/></linearGradient>
<linearGradient id="h88" gradientUnits="userSpaceOnUse" x1="205" x2="2372.5" y1="0" y2="0"><stop offset="0" stop-color="#000004"/><stop offset="0.0365" stop-color="#000004"/><stop offset="0.0379" stop-color="#04020e"/><stop offset="0.0558" stop-color="#05020f"/><stop offset="0.0632" stop-color="#0a051b"/><stop offset="0.4115" stop-color="#0a051b"/><stop offset="0.4129" stop-color="#160a36"/><stop offset="0.4144" stop-color="#170a37"/><stop offset="1" stop-color="#190b3d"/></linearGradient>
<linearGradient id="h89" gradientUnits="userSpaceOnUse" x1="205" x2="2372.5" y1="0" y2="0"><stop offset="0" stop-color="#000004"/><stop offset="0.0543" stop-color="#010005"/><stop offset="0.0632" stop-color="#05020f"/><stop offset="0.8281" stop-color="#050210"/><stop offset="0.8728" stop-color="#070313"/><stop offset="0.8772" stop-color="#0c051e"/><stop offset="0.8981" stop-color="#0c051f"/><stop offset="0.8996" stop-color="#100728"/><stop offset="1" stop-color="#100729"/></linearGradient>
<linearGradient id="h90" gradientUnits="userSpaceOnUse" x1="205" x2="2372.5" y1="0" y2="0"><stop offset="0" stop-color="#000004"/><stop offset="0.4531" stop-color="#010007"/><stop offset="0.4561" stop-color="#080316"/><stop offset="0.8162" stop-color="#080316"/><stop offset="0.8266" stop-color="#0b051d"/><stop offset="0.8296" stop-color="#3c0c5e"/><stop offset="0.8311" stop-color="#3d0c5f"/><stop offset="0.8728" stop-color="#3f0c61"/><stop offset="0.8772" stop-color="#5e136c"/><stop offset="0.8981" stop-color="#5f136c"/><stop offset="0.8996" stop-color="#6d186d"/><stop offset="1" stop-color="#6f196d"/></linearGradient>
<linearGradient id="h91" gradientUnits="userSpaceOnUse" x1="205" x2="2372.5" y1="0" y2="0"><stop offset="0" stop-color="#000004"/><stop offset="0.1734" stop-color="#05020f"/><stop offset="0.8147" stop-color="#05020f"/><stop offset="0.8207" stop-color="#0c0520"/><stop offset="0.8251" stop-color="#0c0520"/><stop offset="0.8266" stop-color="#150933"/><stop offset="0.8311" stop-color="#190b3d"/><stop offset="0.9204" stop-color="#1b0c41"/><stop offset="0.9263" stop-color="#450c67"/><stop offset="1" stop-color="#490c6a"/></linearGradient>
<linearGradient id="h92" gradientUnits="userSpaceOnUse" x1="205" x2="2372.5" y1="0" y2="0"><stop offset="0" stop-color="#000004"/><stop offset="0.1719" stop-color="#000004"/><stop offset="0.1749" stop-color="#050210"/><stop offset="0.2091" stop-color="#060311"/><stop offset="0.8147" stop-color="#060313"/><stop offset="0.8207" stop-color="#080417"/><stop offset="0.8237" stop-color="#0e0625"/><stop offset="0.8251" stop-color="#2e0c52"/><stop offset="0.8311" stop-color="#350c58"/><stop offset="0.8326" stop-color="#490c6a"/><stop offset="0.8341" stop-color="#57106c"/><stop offset="0.9174" stop-color="#58116c"/><stop offset="0.9204" stop-color="#721a6d"/><stop offset="0.9263" stop-color="#862169"/><stop offset="0.9576" stop-color="#8d2467"/><stop offset="0.9591" stop-color="#a62d5f"/><stop offset="1" stop-color="#a62d5f"/></linearGradient>
<linearGradient id="h93" gradientUnits="userSpaceOnUse" x1="205" x2="2372.5" y1="0" y2="0"><stop offset="0" stop-color="#000004"/><stop offset="0.1734" stop-color="#000004"/><stop offset="0.2061" stop-color="#020107"/><stop offset="0.2106" stop-color="#060311"/><stop offset="0.8207" stop-color="#070314"/><stop offset="0.8326" stop-color="#090419"/><stop offset="0.8341" stop-color="#200c45"/><stop offset="0.9129" stop-color="#200c45"/><stop offset="0.9174" stop-color="#260c4b"/><stop offset="0.9189" stop-color="#4b0c6b"/><stop offset="0.9427" stop-color="#4f0e6b"/><stop offset="0.9516" stop-color="#791c6d"/><stop offset="0.9769" stop-color="#7e1e6b"/><stop offset="0.9784" stop-color="#8e2467"/><stop offset="1" stop-color="#8e2467"/></linearGradient>
<linearGradient id="h94" gradientUnits="userSpaceOnUse" x1="205" x2="2372.5" y1="0" y2="0"><stop offset="0" stop-color="#000004"/><stop offset="0.1749" stop-color="#000004"/><stop offset="0.1763" stop-color="#050210"/><stop offset="0.2046" stop-color="#050210"/><stop offset="0.2061" stop-color="#0b051c"/><stop offset="0.215" stop-color="#12082e"/><stop offset="0.6838" stop-color="#140930"/><stop offset="0.9115" stop-color="#1b0c41"/><stop offset="0.9308" stop-color="#250c4a"/><stop offset="0.9323" stop-color="#300c54"/><stop offset="0.9531" stop-color="#490c6a"/><stop offset="0.9754" stop-color="#4d0d6b"/><stop offset="0.9799" stop-color="#61146c"/><stop offset="1" stop-color="#66166c"/></linearGradient>
<linearGradient id="h95" gradientUnits="userSpaceOnUse" x1="205" x2="2372.5" y1="0" y2="0"><stop offset="0" stop-color="#000004"/><stop offset="0.154" stop-color="#000004"/><stop offset="0.1555" stop-color="#010006"/><stop offset="0.157" stop-color="#090419"/><stop offset="0.1927" stop-color="#0d0621"/><stop offset="0.2165" stop-color="#1b0c40"/><stop offset="0.3281" stop-color="#230c48"/><stop offset="0.3341" stop-color="#380c5b"/><stop offset="0.6823" stop-color="#3a0c5c"/><stop offset="0.6927" stop-color="#55106b"/><stop offset="0.7269" stop-color="#55106b"/><stop offset="0.7359" stop-color="#5b126c"/><stop offset="0.7403" stop-color="#6a176c"/><stop offset="0.9308" stop-color="#70196d"/><stop offset="0.9412" stop-color="#882268"/><stop offset="0.9725" stop-color="#8f2466"/><stop offset="0.9814" stop-color="#a02a61"/><stop offset="0.9888" stop-color="#a02a61"/><stop offset="1" stop-color="#bc3952"/></linearGradient>
<linearGradient id="h96" gradientUnits="userSpaceOnUse" x1="205" x2="2372.5" y1="0" y2="0"><stop offset="0" stop-color="#000004"/><stop offset="0.1525" stop-color="#000004"/><stop offset="0.1555" stop-color="#03010b"/><stop offset="0.157" stop-color="#150934"/><stop offset="0.1868" stop-color="#170a37"/><stop offset="0.1942" stop-color="#2d0c51"/><stop offset="0.2031" stop-color="#3b0c5e"/><stop offset="0.2671" stop-color="#490c6a"/><stop offset="0.282" stop-color="#67166c"/><stop offset="0.3073" stop-color="#68166c"/><stop offset="0.3371" stop-color="#83206a"/><stop offset="0.6823" stop-color="#8c2367"/><stop offset="0.7254" stop-color="#992864"/><stop offset="0.7314" stop-color="#a82e5e"/><stop offset="0.7374" stop-color="#cb4249"/><stop offset="0.7433" stop-color="#d54b40"/><stop offset="0.9338" stop-color="#d74e3d"/><stop offset="1" stop-color="#ed6a24"/></linearGradient>
<linearGradient id="h97" gradientUnits="userSpaceOnUse" x1="205" x2="2372.5" y1="0" y2="0"><stop offset="0" stop-color="#000004"/><stop offset="0.1049" stop-color="#000004"/><stop offset="0.1079" stop-color="#060312"/><stop offset="0.151" stop-color="#060312"/><stop offset="0.157" stop-color="#0c051e"/><stop offset="0.1585" stop-color="#11082b"/><stop offset="0.1838" stop-color="#160a36"/><stop offset="0.1912" stop-color="#2b0c4f"/><stop offset="0.2284" stop-color="#320c56"/><stop offset="0.2403" stop-color="#400c62"/><stop offset="0.2448" stop-color="#520f6b"/><stop offset="0.2522" stop-color="#58116c"/><stop offset="0.2597" stop-color="#82206a"/><stop offset="0.2656" stop-color="#82206a"/><stop offset="0.2686" stop-color="#922565"/><stop offset="0.285" stop-color="#a42c60"/><stop offset="0.3043" stop-color="#a62d5f"/><stop offset="0.3207" stop-color="#ca4149"/><stop offset="0.6942" stop-color="#cf4545"/><stop offset="0.6972" stop-color="#db5339"/><stop offset="0.7418" stop-color="#ec6727"/><stop offset="0.7507" stop-color="#f37e18"/><stop offset="0.7969" stop-color="#f68911"/><stop offset="0.8028" stop-color="#fb9b06"/><stop offset="0.8103" stop-color="#faa611"/><stop offset="0.9353" stop-color="#faa611"/><stop offset="1" stop-color="#f8bf2b"/></linearGradient>
<linearGradient id="h98" gradientUnits="userSpaceOnUse" x1="205" x2="2372.5" y1="0" y2="0"><stop offset="0" stop-color="#000004"/><stop offset="0.1034" stop-color="#000004"/><stop offset="0.1079" stop-color="#070315"/><stop offset="0.1496" stop-color="#070315"/><stop offset="0.16" stop-color="#0e0624"/><stop offset="0.224" stop-color="#11082b"/><stop offset="0.2448" stop-color="#180b3a"/><stop offset="0.2671" stop-color="#310c54"/><stop offset="0.2969" stop-color="#340c58"/><stop offset="0.2999" stop-color="#400c62"/><stop offset="0.3147" stop-color="#450c67"/><stop offset="0.3162" stop-color="#57116c"/><stop offset="0.6957" stop-color="#5a126c"/><stop offset="0.7656" stop-color="#6f196d"/><stop offset="0.7924" stop-color="#882268"/><stop offset="0.8058" stop-color="#a72d5f"/><stop offset="0.9695" stop-color="#ac305c"/><stop offset="0.971" stop-color="#cc4248"/><stop offset="1" stop-color="#d44b40"/></linearGradient>
<linearGradient id="h99" gradientUnits="userSpaceOnUse" x1="205" x2="2372.5" y1="0" y2="0"><stop offset="0" stop-color="#000004"/><stop offset="0.1585" stop-color="#010107"/><stop offset="0.1629" stop-color="#0b051d"/><stop offset="0.224" stop-color="#0b051e"/><stop offset="0.2641" stop-color="#1f0c45"/><stop offset="0.2894" stop-color="#1f0c45"/><stop offset="0.2969" stop-color="#360c59"/><stop offset="0.3028" stop-color="#390c5b"/><stop offset="0.6659" stop-color="#470c69"/><stop offset="0.6674" stop-color="#902566"/><stop offset="0.7046" stop-color="#912566"/><stop offset="0.715" stop-color="#a02a62"/><stop offset="0.7626" stop-color="#a52c60"/><stop offset="0.7805" stop-color="#b03259"/><stop offset="0.7879" stop-color="#cf4446"/><stop offset="0.7954" stop-color="#d54b3f"/><stop offset="0.9695" stop-color="#d54c3f"/><stop offset="0.971" stop-color="#e5602d"/><stop offset="1" stop-color="#e5602d"/></linearGradient>
<linearGradient id="h100" gradientUnits="userSpaceOnUse" x1="205" x2="2372.5" y1="0" y2="0"><stop offset="0" stop-color="#000004"/><stop offset="0.1391" stop-color="#03010a"/><stop offset="0.1615" stop-color="#05020f"/><stop offset="0.1644" stop-color="#0e0624"/><stop offset="0.1689" stop-color="#0e0624"/><stop offset="0.4933" stop-color="#100729"/><stop offset="0.4963" stop-color="#150a34"/><stop offset="0.5052" stop-color="#160a35"/><stop offset="0.5067" stop-color="#1f0c45"/><stop offset="0.5112" stop-color="#290c4e"/><stop offset="0.6659" stop-color="#2a0c4e"/><stop offset="0.6689" stop-color="#320c56"/><stop offset="0.7121" stop-color="#3b0c5e"/><stop offset="0.7552" stop-color="#3b0c5e"/><stop offset="0.7641" stop-color="#500e6b"/><stop offset="0.785" stop-color="#520f6b"/><stop offset="1" stop-color="#520f6b"/></linearGradient>
<linearGradient id="h101" gradientUnits="userSpaceOnUse" x1="205" x2="2372.5" y1="0" y2="0"><stop offset="0" stop-color="#000004"/><stop offset="0.1287" stop-color="#010006"/><stop offset="0.1317" stop-color="#080416"/><stop offset="0.1376" stop-color="#080416"/><stop offset="0.1391" stop-color="#0f0726"/><stop offset="0.1481" stop-color="#13082e"/><stop offset="0.4918" stop-color="#13092f"/><stop offset="0.5112" stop-color="#1f0c44"/><stop offset="1" stop-color="#230c49"/></linearGradient>
<linearGradient id="h102" gradientUnits="userSpaceOnUse" x1="205" x2="2372.5" y1="0" y2="0"><stop offset="0" stop-color="#000004"/><stop offset="0.1213" stop-color="#000005"/><stop offset="0.1376" stop-color="#060311"/><stop offset="0.1391" stop-color="#11082c"/><stop offset="0.1466" stop-color="#150933"/><stop offset="0.4903" stop-color="#160a35"/><stop offset="0.4978" stop-color="#160a37"/><stop offset="0.4993" stop-color="#210c47"/><stop offset="0.5126" stop-color="#260c4b"/><stop offset="1" stop-color="#2c0c50"/></linearGradient>
<linearGradient id="h103" gradientUnits="userSpaceOnUse" x1="205" x2="2372.5" y1="0" y2="0"><stop offset="0" stop-color="#000004"/><stop offset="0.1198" stop-color="#010107"/><stop offset="0.1213" stop-color="#0a041a"/><stop offset="0.1287" stop-color="#170a38"/><stop offset="0.1362" stop-color="#1c0c42"/><stop offset="0.1376" stop-color="#2f0c53"/><stop offset="0.1704" stop-color="#2f0c53"/><stop offset="0.1749" stop-color="#380c5b"/><stop offset="0.4888" stop-color="#380c5b"/><stop offset="0.4978" stop-color="#3d0c5f"/><stop offset="0.5007" stop-color="#5c126c"/><stop offset="0.5022" stop-color="#5c126c"/><stop offset="0.5037" stop-color="#932665"/><stop offset="0.651" stop-color="#9b2863"/><stop offset="0.6555" stop-color="#b13359"/><stop offset="0.6659" stop-color="#b83754"/><stop offset="1" stop-color="#b83754"/></linearGradient>
<linearGradient id="h104" gradientUnits="userSpaceOnUse" x1="205" x2="2372.5" y1="0" y2="0"><stop offset="0" stop-color="#000004"/><stop offset="0.1124" stop-color="#000005"/><stop offset="0.1198" stop-color="#020108"/><stop offset="0.1213" stop-color="#080416"/><stop offset="0.1272" stop-color="#0c051f"/><stop offset="0.1347" stop-color="#0c051f"/><stop offset="0.1376" stop-color="#1a0c40"/><stop offset="0.2091" stop-color="#280c4d"/><stop offset="0.4888" stop-color="#290c4d"/><stop offset="0.5171" stop-color="#3d0c60"/><stop offset="0.5662" stop-color="#3e0c60"/><stop offset="0.5707" stop-color="#59116c"/><stop offset="0.6496" stop-color="#5a126c"/><stop offset="0.6555" stop-color="#65156c"/><stop offset="0.657" stop-color="#7b1d6c"/><stop offset="0.6644" stop-color="#912566"/><stop offset="1" stop-color="#922565"/></linearGradient>
<linearGradient id="h105" gradientUnits="userSpaceOnUse" x1="205" x2="2372.5" y1="0" y2="0"><stop offset="0" stop-color="#000004"/><stop offset="0.1138" stop-color="#000004"/><stop offset="0.1183" stop-color="#03010a"/><stop offset="0.1198" stop-color="#1c0c42"/><stop offset="0.1749" stop-color="#1e0c43"/><stop offset="0.1763" stop-color="#2f0c53"/><stop offset="0.1778" stop-color="#310c54"/><stop offset="0.2046" stop-color="#310c55"/><stop offset="0.2061" stop-color="#400c62"/><stop offset="0.2091" stop-color="#460c67"/><stop offset="0.2121" stop-color="#5a126c"/><stop offset="0.5647" stop-color="#63156c"/><stop offset="0.5692" stop-color="#68166c"/><stop offset="0.5722" stop-color="#7d1e6b"/><stop offset="0.5751" stop-color="#801f6b"/><stop offset="0.6481" stop-color="#811f6a"/><stop offset="0.6615" stop-color="#9b2863"/><stop offset="0.6734" stop-color="#a32b61"/><stop offset="1" stop-color="#a32b61"/></linearGradient>
<linearGradient id="h106" gradientUnits="userSpaceOnUse" x1="205" x2="2372.5" y1="0" y2="0"><stop offset="0" stop-color="#000004"/><stop offset="0.1138" stop-color="#010006"/><stop offset="0.1183" stop-color="#090418"/><stop offset="0.1198" stop-color="#12082e"/><stop offset="0.1749" stop-color="#140930"/><stop offset="0.1763" stop-color="#240c49"/><stop offset="0.2046" stop-color="#280c4c"/><stop offset="0.2061" stop-color="#480c69"/><stop offset="0.2106" stop-color="#4d0d6b"/><stop offset="0.2121" stop-color="#711a6d"/><stop offset="0.215" stop-color="#781c6d"/><stop offset="0.3281" stop-color="#791d6d"/><stop offset="0.3326" stop-color="#912566"/><stop offset="0.3594" stop-color="#922565"/><stop offset="0.3609" stop-color="#a02a61"/><stop offset="0.5603" stop-color="#a72d5f"/><stop offset="0.5707" stop-color="#ad305b"/><stop offset="0.5722" stop-color="#c43d4d"/><stop offset="0.5737" stop-color="#c73f4b"/><stop offset="0.6317" stop-color="#c7404b"/><stop offset="0.6496" stop-color="#d14743"/><stop offset="1" stop-color="#d14743"/></linearGradient>
<linearGradient id="h107" gradientUnits="userSpaceOnUse" x1="205" x2="2372.5" y1="0" y2="0"><stop offset="0" stop-color="#000004"/><stop offset="0.154" stop-color="#020108"/><stop offset="0.1555" stop-color="#060311"/><stop offset="0.157" stop-color="#2f0c53"/><stop offset="0.1897" stop-color="#350c58"/><stop offset="0.1942" stop-color="#4f0e6b"/><stop offset="0.2046" stop-color="#61146c"/><stop offset="0.2671" stop-color="#66166c"/><stop offset="0.282" stop-color="#872169"/><stop offset="0.3192" stop-color="#8b2368"/><stop offset="0.3311" stop-color="#992863"/><stop offset="0.3341" stop-color="#aa2f5d"/><stop offset="0.3579" stop-color="#aa2f5d"/><stop offset="0.3624" stop-color="#c63f4b"/><stop offset="0.5171" stop-color="#c7404b"/><stop offset="0.5201" stop-color="#c8404a"/><stop offset="0.5216" stop-color="#d9503b"/><stop offset="0.6317" stop-color="#dc5438"/><stop offset="0.6332" stop-color="#e35c31"/><stop offset="0.6347" stop-color="#f0751e"/><stop offset="0.6451" stop-color="#f38017"/><stop offset="1" stop-color="#f38017"/></linearGradient>
<linearGradient id="h108" gradientUnits="userSpaceOnUse" x1="205" x2="2372.5" y1="0" y2="0"><stop offset="0" stop-color="#000004"/><stop offset="0.1525" stop-color="#03010b"/><stop offset="0.1585" stop-color="#130930"/><stop offset="0.1838" stop-color="#180b3a"/><stop offset="0.1868" stop-color="#1a0c40"/><stop offset="0.1927" stop-color="#3c0c5f"/><stop offset="0.2016" stop-color="#4a0c6b"/><stop offset="0.2299" stop-color="#530f6b"/><stop offset="0.2418" stop-color="#61146c"/><stop offset="0.2448" stop-color="#6d186d"/><stop offset="0.2522" stop-color="#6d186d"/><stop offset="0.2537" stop-color="#771c6d"/><stop offset="0.2582" stop-color="#952665"/><stop offset="0.2656" stop-color="#982764"/><stop offset="0.2686" stop-color="#a72d5f"/><stop offset="0.285" stop-color="#c9414a"/><stop offset="0.3073" stop-color="#cb4249"/><stop offset="0.3132" stop-color="#de5735"/><stop offset="0.3266" stop-color="#ea6628"/><stop offset="0.3534" stop-color="#ed6925"/><stop offset="0.3638" stop-color="#f58513"/><stop offset="0.5871" stop-color="#f78d0f"/><stop offset="0.59" stop-color="#fa9808"/><stop offset="0.6347" stop-color="#fba10c"/><stop offset="0.6376" stop-color="#faa510"/><stop offset="0.6421" stop-color="#f8bd29"/><stop offset="1" stop-color="#f8bd29"/></linearGradient>
<linearGradient id="h109" gradientUnits="userSpaceOnUse" x1="205" x2="2372.5" y1="0" y2="0"><stop offset="0" stop-color="#000004"/><stop offset="0.0871" stop-color="#000004"/><stop offset="0.1034" stop-color="#03010b"/><stop offset="0.1064" stop-color="#080416"/><stop offset="0.1079" stop-color="#160a35"/><stop offset="0.151" stop-color="#160a35"/><stop offset="0.1525" stop-color="#1e0c44"/><stop offset="0.16" stop-color="#2a0c4f"/><stop offset="0.1823" stop-color="#330c56"/><stop offset="0.1882" stop-color="#480c69"/><stop offset="0.2225" stop-color="#480c69"/><stop offset="0.2418" stop-color="#5f136c"/><stop offset="0.2463" stop-color="#771c6d"/><stop offset="0.2582" stop-color="#8f2466"/><stop offset="0.2597" stop-color="#a02a61"/><stop offset="0.2656" stop-color="#a52c60"/><stop offset="0.2671" stop-color="#b13358"/><stop offset="0.2969" stop-color="#ba3853"/><stop offset="0.2999" stop-color="#c8404a"/><stop offset="0.3118" stop-color="#d14743"/><stop offset="0.3147" stop-color="#d64c3f"/><stop offset="0.3162" stop-color="#ee6d22"/><stop offset="0.3177" stop-color="#ef7120"/><stop offset="0.3504" stop-color="#f0741e"/><stop offset="0.3638" stop-color="#f68911"/><stop offset="0.5216" stop-color="#f78e0e"/><stop offset="0.5469" stop-color="#f9940a"/><stop offset="0.5543" stop-color="#fb9f0a"/><stop offset="0.5856" stop-color="#fb9f0a"/><stop offset="0.59" stop-color="#faa611"/><stop offset="0.5915" stop-color="#f9b31e"/><stop offset="0.6138" stop-color="#f9b31e"/><stop offset="0.6183" stop-color="#f8c834"/><stop offset="0.6243" stop-color="#f7d03c"/><stop offset="0.6257" stop-color="#f8d649"/><stop offset="1" stop-color="#f8d84d"/></linearGradient>
<linearGradient id="h110" gradientUnits="userSpaceOnUse" x1="205" x2="2372.5" y1="0" y2="0"><stop offset="0" stop-color="#020108"/><stop offset="0.0856" stop-color="#020108"/><stop offset="0.1034" stop-color="#04020e"/><stop offset="0.1079" stop-color="#090418"/><stop offset="0.1496" stop-color="#090418"/><stop offset="0.1585" stop-color="#0c051e"/><stop offset="0.16" stop-color="#170a37"/><stop offset="0.1615" stop-color="#190b3c"/><stop offset="0.224" stop-color="#210c47"/><stop offset="0.2269" stop-color="#2c0c51"/><stop offset="0.2359" stop-color="#2e0c52"/><stop offset="0.2403" stop-color="#3f0c62"/><stop offset="0.2478" stop-color="#430c64"/><stop offset="0.2493" stop-color="#510f6b"/><stop offset="0.2597" stop-color="#55106b"/><stop offset="0.2656" stop-color="#6a176c"/><stop offset="0.2879" stop-color="#6a176c"/><stop offset="0.2924" stop-color="#741b6d"/><stop offset="0.3013" stop-color="#962764"/><stop offset="0.3162" stop-color="#a12b61"/><stop offset="0.5231" stop-color="#ad315b"/><stop offset="0.5856" stop-color="#bd3a51"/><stop offset="0.59" stop-color="#c23d4e"/><stop offset="0.5915" stop-color="#d14644"/><stop offset="0.6168" stop-color="#d74e3d"/><stop offset="0.6213" stop-color="#e96429"/><stop offset="0.6272" stop-color="#f0741e"/><stop offset="1" stop-color="#f37e18"/></linearGradient>
<linearGradient id="h111" gradientUnits="userSpaceOnUse" x1="205" x2="2372.5" y1="0" y2="0"><stop offset="0" stop-color="#03010a"/><stop offset="0.0856" stop-color="#03020c"/><stop offset="0.16" stop-color="#0c051f"/><stop offset="0.1615" stop-color="#0e0624"/><stop offset="0.1629" stop-color="#3e0c60"/><stop offset="0.1644" stop-color="#450c67"/><stop offset="0.1749" stop-color="#470c68"/><stop offset="0.1763" stop-color="#5f136c"/><stop offset="0.2046" stop-color="#60146c"/><stop offset="0.2061" stop-color="#771c6d"/><stop offset="0.2091" stop-color="#7a1d6d"/><stop offset="0.2121" stop-color="#9a2863"/><stop offset="0.2359" stop-color="#9f2a62"/><stop offset="0.2388" stop-color="#a92e5e"/><stop offset="0.2909" stop-color="#ad315b"/><stop offset="0.2969" stop-color="#c43e4d"/><stop offset="0.5231" stop-color="#cb4249"/><stop offset="0.526" stop-color="#d34941"/><stop offset="0.5499" stop-color="#d44a41"/><stop offset="0.5588" stop-color="#e05933"/><stop offset="0.5915" stop-color="#e05933"/><stop offset="0.593" stop-color="#e8632a"/><stop offset="0.6034" stop-color="#e96429"/><stop offset="0.6124" stop-color="#f1761d"/><stop offset="0.6272" stop-color="#f38017"/><stop offset="0.6317" stop-color="#fb9c08"/><stop offset="1" stop-color="#faa30f"/></linearGradient>
<linearGradient id="h112" gradientUnits="userSpaceOnUse" x1="205" x2="2372.5" y1="0" y2="0"><stop offset="0" stop-color="#000004"/><stop offset="0.1287" stop-color="#04020e"/><stop offset="0.1302" stop-color="#05020f"/><stop offset="0.1317" stop-color="#0e0625"/><stop offset="0.1376" stop-color="#0e0625"/><stop offset="0.1391" stop-color="#13092f"/><stop offset="0.157" stop-color="#1d0c43"/><stop offset="0.2031" stop-color="#2e0c52"/><stop offset="0.2165" stop-color="#460c68"/><stop offset="0.3281" stop-color="#4b0c6b"/><stop offset="0.3341" stop-color="#5c126c"/><stop offset="0.4338" stop-color="#63156c"/><stop offset="0.4368" stop-color="#721a6d"/><stop offset="0.4382" stop-color="#872169"/><stop offset="0.4427" stop-color="#962764"/><stop offset="0.5796" stop-color="#982764"/><stop offset="0.6317" stop-color="#ae315a"/><stop offset="1" stop-color="#af325a"/></linearGradient>
<linearGradient id="h113" gradientUnits="userSpaceOnUse" x1="205" x2="2372.5" y1="0" y2="0"><stop offset="0" stop-color="#000004"/><stop offset="0.1272" stop-color="#03010b"/><stop offset="0.1317" stop-color="#0a051b"/><stop offset="0.1376" stop-color="#0b051d"/><stop offset="0.1391" stop-color="#290c4d"/><stop offset="0.154" stop-color="#380c5b"/><stop offset="0.1555" stop-color="#3d0c60"/><stop offset="0.157" stop-color="#6a176c"/><stop offset="0.1704" stop-color="#6d186d"/><stop offset="0.1719" stop-color="#000004"/><stop offset="0.1882" stop-color="#010005"/><stop offset="0.1912" stop-color="#050210"/><stop offset="0.1942" stop-color="#100729"/><stop offset="0.2031" stop-color="#1a0b3e"/><stop offset="0.2671" stop-color="#220c48"/><stop offset="0.2835" stop-color="#460c67"/><stop offset="0.3073" stop-color="#460c67"/><stop offset="0.3341" stop-color="#66166c"/><stop offset="0.3787" stop-color="#67166c"/><stop offset="0.3802" stop-color="#7a1d6d"/><stop offset="0.3832" stop-color="#7c1e6c"/><stop offset="0.4323" stop-color="#7d1e6c"/><stop offset="0.4368" stop-color="#8d2467"/><stop offset="0.4397" stop-color="#ae315a"/><stop offset="0.4427" stop-color="#bd3a51"/><stop offset="1" stop-color="#c53f4c"/></linearGradient>
<linearGradient id="h114" gradientUnits="userSpaceOnUse" x1="205" x2="2372.5" y1="0" y2="0"><stop offset="0" stop-color="#000004"/><stop offset="0.1049" stop-color="#04020d"/><stop offset="0.1704" stop-color="#100728"/><stop offset="0.1719" stop-color="#000004"/><stop offset="0.1808" stop-color="#000004"/><stop offset="0.1927" stop-color="#100729"/><stop offset="0.2284" stop-color="#150934"/><stop offset="0.2522" stop-color="#320c56"/><stop offset="0.2567" stop-color="#4f0e6b"/><stop offset="0.276" stop-color="#751b6d"/><stop offset="0.3073" stop-color="#821f6a"/><stop offset="0.3207" stop-color="#a12a61"/><stop offset="0.3772" stop-color="#a62c60"/><stop offset="0.3802" stop-color="#b53556"/><stop offset="0.3891" stop-color="#ba3853"/><stop offset="0.6079" stop-color="#cb4248"/><stop offset="1" stop-color="#d14743"/></linearGradient>
<linearGradient id="h115" gradientUnits="userSpaceOnUse" x1="205" x2="2372.5" y1="0" y2="0"><stop offset="0" stop-color="#000004"/><stop offset="0.032" stop-color="#070314"/><stop offset="0.1034" stop-color="#0b051e"/><stop offset="0.1079" stop-color="#130930"/><stop offset="0.1198" stop-color="#140931"/><stop offset="0.1376" stop-color="#240c49"/><stop offset="0.1704" stop-color="#310c55"/><stop offset="0.1719" stop-color="#000004"/><stop offset="0.1868" stop-color="#04020c"/><stop offset="0.224" stop-color="#000004"/><stop offset="0.2433" stop-color="#070313"/><stop offset="0.2671" stop-color="#1a0b3e"/><stop offset="0.2969" stop-color="#1d0c43"/><stop offset="0.2999" stop-color="#2a0c4e"/><stop offset="0.3147" stop-color="#300c54"/><stop offset="0.3162" stop-color="#460c67"/><stop offset="0.3177" stop-color="#470c68"/><stop offset="0.3743" stop-color="#480c69"/><stop offset="0.3787" stop-color="#58116c"/><stop offset="0.3832" stop-color="#58116c"/><stop offset="0.3847" stop-color="#6b176c"/><stop offset="0.3862" stop-color="#6e186d"/><stop offset="0.4025" stop-color="#721a6d"/><stop offset="0.4085" stop-color="#862169"/><stop offset="0.4308" stop-color="#8b2368"/><stop offset="0.5811" stop-color="#8d2367"/><stop offset="0.599" stop-color="#922566"/><stop offset="0.6034" stop-color="#9e2a62"/><stop offset="1" stop-color="#a62d5f"/></linearGradient>
<linearGradient id="h116" gradientUnits="userSpaceOnUse" x1="205" x2="2372.5" y1="0" y2="0"><stop offset="0" stop-color="#000004"/><stop offset="0.0126" stop-color="#000004"/><stop offset="0.0141" stop-color="#190b3c"/><stop offset="0.026" stop-color="#1b0c40"/><stop offset="0.0275" stop-color="#280c4d"/><stop offset="0.1183" stop-color="#340c57"/><stop offset="0.1198" stop-color="#400c62"/><stop offset="0.1585" stop-color="#450c67"/><stop offset="0.1629" stop-color="#57116c"/><stop offset="0.1689" stop-color="#57116c"/><stop offset="0.1704" stop-color="#000004"/><stop offset="0.2359" stop-color="#03010b"/><stop offset="0.2388" stop-color="#0a041b"/><stop offset="0.2597" stop-color="#0f0625"/><stop offset="0.2641" stop-color="#150932"/><stop offset="0.2909" stop-color="#150934"/><stop offset="0.2969" stop-color="#280c4d"/><stop offset="0.3028" stop-color="#2c0c50"/><stop offset="0.3743" stop-color="#2e0c52"/><stop offset="0.3757" stop-color="#3c0c5f"/><stop offset="0.3996" stop-color="#460c68"/><stop offset="0.4025" stop-color="#500e6b"/><stop offset="0.41" stop-color="#5e136c"/><stop offset="0.4263" stop-color="#66166c"/><stop offset="0.5945" stop-color="#67166c"/><stop offset="0.6064" stop-color="#741b6d"/><stop offset="0.8504" stop-color="#741b6d"/><stop offset="0.8653" stop-color="#892268"/><stop offset="0.8906" stop-color="#902466"/><stop offset="1" stop-color="#902466"/></linearGradient>
<linearGradient id="h117" gradientUnits="userSpaceOnUse" x1="205" x2="2372.5" y1="0" y2="0"><stop offset="0" stop-color="#000004"/><stop offset="0.0126" stop-color="#000004"/><stop offset="0.0156" stop-color="#060211"/><stop offset="0.026" stop-color="#0b051c"/><stop offset="0.0409" stop-color="#0c051f"/><stop offset="0.0499" stop-color="#190b3c"/><stop offset="0.1138" stop-color="#220c47"/><stop offset="0.1183" stop-color="#2b0c4f"/><stop offset="0.1198" stop-color="#430c65"/><stop offset="0.1615" stop-color="#4e0d6b"/><stop offset="0.1629" stop-color="#66166c"/><stop offset="0.1644" stop-color="#6e196d"/><stop offset="0.1689" stop-color="#6f196d"/><stop offset="0.1704" stop-color="#000004"/><stop offset="0.3921" stop-color="#010005"/><stop offset="0.4234" stop-color="#090418"/><stop offset="0.8519" stop-color="#090419"/><stop offset="0.8698" stop-color="#100728"/><stop offset="1" stop-color="#100729"/></linearGradient>
<linearGradient id="h118" gradientUnits="userSpaceOnUse" x1="205" x2="2372.5" y1="0" y2="0"><stop offset="0" stop-color="#000004"/><stop offset="0.0231" stop-color="#000005"/><stop offset="0.0513" stop-color="#0a051b"/><stop offset="0.1287" stop-color="#0f0726"/><stop offset="0.1302" stop-color="#110729"/><stop offset="0.1317" stop-color="#1b0c40"/><stop offset="0.1376" stop-color="#1b0c40"/><stop offset="0.1391" stop-color="#2f0c53"/><stop offset="0.1481" stop-color="#3a0c5c"/><stop offset="0.154" stop-color="#3a0c5c"/><stop offset="0.1555" stop-color="#000004"/><stop offset="0.3579" stop-color="#010005"/><stop offset="0.3594" stop-color="#020108"/><stop offset="0.3609" stop-color="#220c47"/><stop offset="0.3936" stop-color="#260c4b"/><stop offset="0.3996" stop-color="#420c64"/><stop offset="0.41" stop-color="#420c64"/><stop offset="0.4115" stop-color="#520f6b"/><stop offset="0.4219" stop-color="#5d136c"/><stop offset="0.8519" stop-color="#5d136c"/><stop offset="0.8579" stop-color="#60146c"/><stop offset="0.8594" stop-color="#731a6d"/><stop offset="0.8609" stop-color="#b63656"/><stop offset="1" stop-color="#b93754"/></linearGradient>
<linearGradient id="h119" gradientUnits="userSpaceOnUse" x1="205" x2="2372.5" y1="0" y2="0"><stop offset="0" stop-color="#000004"/><stop offset="0.096" stop-color="#070314"/><stop offset="0.1049" stop-color="#070314"/><stop offset="0.1064" stop-color="#000004"/><stop offset="0.1213" stop-color="#000005"/><stop offset="0.1376" stop-color="#060211"/><stop offset="0.1391" stop-color="#100728"/><stop offset="0.1525" stop-color="#13082f"/><stop offset="0.154" stop-color="#000004"/><stop offset="0.3519" stop-color="#000005"/><stop offset="0.3638" stop-color="#100727"/><stop offset="0.3951" stop-color="#100728"/><stop offset="0.3966" stop-color="#1e0c44"/><stop offset="0.3996" stop-color="#230c48"/><stop offset="1" stop-color="#2c0c50"/></linearGradient>
<linearGradient id="h120" gradientUnits="userSpaceOnUse" x1="205" x2="2372.5" y1="0" y2="0"><stop offset="0" stop-color="#000004"/><stop offset="0.035" stop-color="#000004"/><stop offset="0.0379" stop-color="#010107"/><stop offset="0.0394" stop-color="#0d0622"/><stop offset="0.099" stop-color="#150a35"/><stop offset="0.1034" stop-color="#150a35"/><stop offset="0.1049" stop-color="#000004"/><stop offset="0.1198" stop-color="#010006"/><stop offset="0.1213" stop-color="#070313"/><stop offset="0.1287" stop-color="#0f0725"/><stop offset="0.1362" stop-color="#11082b"/><stop offset="0.1376" stop-color="#190b3d"/><stop offset="0.151" stop-color="#190b3d"/><stop offset="0.1525" stop-color="#000004"/><stop offset="0.349" stop-color="#000004"/><stop offset="0.3549" stop-color="#04020c"/><stop offset="0.3579" stop-color="#110729"/><stop offset="0.3624" stop-color="#110729"/><stop offset="0.3638" stop-color="#1d0c43"/><stop offset="0.3966" stop-color="#1d0c43"/><stop offset="0.3981" stop-color="#430c65"/><stop offset="0.4115" stop-color="#430c65"/><stop offset="0.4129" stop-color="#56106c"/><stop offset="0.4144" stop-color="#5c126c"/><stop offset="0.8713" stop-color="#5c126c"/><stop offset="0.91" stop-color="#67166c"/><stop offset="1" stop-color="#67166c"/></linearGradient>
<linearGradient id="h121" gradientUnits="userSpaceOnUse" x1="205" x2="2372.5" y1="0" y2="0"><stop offset="0" stop-color="#010005"/><stop offset="0.0365" stop-color="#010005"/><stop offset="0.0379" stop-color="#05020f"/><stop offset="0.0558" stop-color="#050210"/><stop offset="0.0632" stop-color="#0b051d"/><stop offset="0.1019" stop-color="#0d0620"/><stop offset="0.1034" stop-color="#000004"/><stop offset="0.1481" stop-color="#070314"/><stop offset="0.1496" stop-color="#000004"/><stop offset="0.3504" stop-color="#000004"/><stop offset="0.3519" stop-color="#04020d"/><stop offset="0.3668" stop-color="#04020d"/><stop offset="0.3683" stop-color="#070315"/><stop offset="0.4115" stop-color="#070315"/><stop offset="0.4129" stop-color="#1f0c44"/><stop offset="0.4144" stop-color="#200c45"/><stop offset="0.8713" stop-color="#200c45"/><stop offset="0.91" stop-color="#2d0c51"/><stop offset="1" stop-color="#300c54"/></linearGradient>
<linearGradient id="h122" gradientUnits="userSpaceOnUse" x1="205" x2="2372.5" y1="0" y2="0"><stop offset="0" stop-color="#020108"/><stop offset="0.1019" stop-color="#060312"/><stop offset="0.1034" stop-color="#000004"/><stop offset="0.1138" stop-color="#000004"/><stop offset="0.1183" stop-color="#010107"/><stop offset="0.1198" stop-color="#0e0623"/><stop offset="0.1362" stop-color="#0e0623"/><stop offset="0.1391" stop-color="#0e0623"/><stop offset="0.1406" stop-color="#000004"/><stop offset="0.2046" stop-color="#03010a"/><stop offset="0.2106" stop-color="#080416"/><stop offset="0.224" stop-color="#080416"/><stop offset="0.2254" stop-color="#000004"/><stop offset="0.8266" stop-color="#05020f"/><stop offset="0.8281" stop-color="#060312"/><stop offset="0.8296" stop-color="#140931"/><stop offset="0.8728" stop-color="#140931"/><stop offset="0.8757" stop-color="#190b3d"/><stop offset="0.8772" stop-color="#4c0d6b"/><stop offset="0.8847" stop-color="#500e6b"/><stop offset="0.8862" stop-color="#61146c"/><stop offset="0.8981" stop-color="#61146c"/><stop offset="0.8996" stop-color="#8e2467"/><stop offset="1" stop-color="#902466"/></linearGradient>
<linearGradient id="h123" gradientUnits="userSpaceOnUse" x1="205" x2="2372.5" y1="0" y2="0"><stop offset="0" stop-color="#000004"/><stop offset="0.1749" stop-color="#000004"/><stop offset="0.2046" stop-color="#03010c"/><stop offset="0.2135" stop-color="#0e0623"/><stop offset="0.2359" stop-color="#0e0624"/><stop offset="0.2374" stop-color="#000004"/><stop offset="0.3594" stop-color="#000005"/><stop offset="0.3609" stop-color="#140932"/><stop offset="0.3802" stop-color="#150a35"/><stop offset="0.3817" stop-color="#270c4c"/><stop offset="0.4338" stop-color="#270c4c"/><stop offset="0.4368" stop-color="#4d0d6b"/><stop offset="0.4382" stop-color="#842069"/><stop offset="0.4397" stop-color="#842069"/><stop offset="0.4412" stop-color="#a22b61"/><stop offset="0.4546" stop-color="#ab305c"/><stop offset="0.8162" stop-color="#ab305c"/><stop offset="0.8266" stop-color="#b33457"/><stop offset="0.8281" stop-color="#c43e4d"/><stop offset="0.8311" stop-color="#cf4446"/><stop offset="1" stop-color="#db5239"/></linearGradient>
<linearGradient id="h124" gradientUnits="userSpaceOnUse" x1="205" x2="2372.5" y1="0" y2="0"><stop offset="0" stop-color="#000004"/><stop offset="0.154" stop-color="#000004"/><stop offset="0.157" stop-color="#050210"/><stop offset="0.2046" stop-color="#0a041a"/><stop offset="0.3415" stop-color="#11082a"/><stop offset="0.343" stop-color="#000004"/><stop offset="0.3579" stop-color="#000005"/><stop offset="0.3624" stop-color="#0d0622"/><stop offset="0.3787" stop-color="#0e0623"/><stop offset="0.3802" stop-color="#180b3a"/><stop offset="0.3832" stop-color="#190b3d"/><stop offset="0.4338" stop-color="#1b0c41"/><stop offset="0.4353" stop-color="#2c0c50"/><stop offset="0.4368" stop-color="#2c0c51"/><stop offset="0.4382" stop-color="#470c68"/><stop offset="0.4427" stop-color="#69176c"/><stop offset="0.8147" stop-color="#6a176c"/><stop offset="0.8237" stop-color="#711a6d"/><stop offset="0.8266" stop-color="#83206a"/><stop offset="0.8326" stop-color="#892268"/><stop offset="0.9189" stop-color="#902466"/><stop offset="0.9263" stop-color="#af325a"/><stop offset="1" stop-color="#b33457"/></linearGradient>
<linearGradient id="h125" gradientUnits="userSpaceOnUse" x1="205" x2="2372.5" y1="0" y2="0"><stop offset="0" stop-color="#000004"/><stop offset="0.0975" stop-color="#060311"/><stop offset="0.099" stop-color="#000004"/><stop offset="0.1525" stop-color="#000004"/><stop offset="0.1585" stop-color="#070315"/><stop offset="0.1868" stop-color="#090419"/><stop offset="0.2016" stop-color="#150933"/><stop offset="0.2522" stop-color="#1c0c42"/><stop offset="0.282" stop-color="#3e0c60"/><stop offset="0.3073" stop-color="#410c63"/><stop offset="0.3118" stop-color="#4a0c6b"/><stop offset="0.343" stop-color="#58116c"/><stop offset="0.3445" stop-color="#000004"/><stop offset="0.349" stop-color="#000004"/><stop offset="0.3549" stop-color="#03010c"/><stop offset="0.3579" stop-color="#11082b"/><stop offset="0.3624" stop-color="#150a35"/><stop offset="0.3638" stop-color="#1e0c43"/><stop offset="0.3772" stop-color="#210c47"/><stop offset="0.3802" stop-color="#460c67"/><stop offset="0.3832" stop-color="#4d0d6b"/><stop offset="0.4263" stop-color="#520f6b"/><stop offset="0.4501" stop-color="#6a176c"/><stop offset="0.8207" stop-color="#6c186c"/><stop offset="0.8237" stop-color="#771c6d"/><stop offset="0.8251" stop-color="#932565"/><stop offset="0.8311" stop-color="#932565"/><stop offset="0.8326" stop-color="#a02a62"/><stop offset="0.8341" stop-color="#c63f4b"/><stop offset="0.8504" stop-color="#d14644"/><stop offset="0.9174" stop-color="#d64c3f"/><stop offset="0.9189" stop-color="#eb6727"/><stop offset="0.9204" stop-color="#f1761d"/><stop offset="0.9442" stop-color="#f37d19"/><stop offset="0.9501" stop-color="#fa9609"/><stop offset="0.9576" stop-color="#fa9609"/><stop offset="0.9591" stop-color="#f9b723"/><stop offset="1" stop-color="#f9b723"/></linearGradient>
<linearGradient id="h126" gradientUnits="userSpaceOnUse" x1="205" x2="2372.5" y1="0" y2="0"><stop offset="0" stop-color="#000004"/><stop offset="0.0975" stop-color="#0b051d"/><stop offset="0.099" stop-color="#000004"/><stop offset="0.1109" stop-color="#070313"/><stop offset="0.1124" stop-color="#000004"/><stop offset="0.151" stop-color="#000004"/><stop offset="0.16" stop-color="#060311"/><stop offset="0.1823" stop-color="#080416"/><stop offset="0.1882" stop-color="#0d0622"/><stop offset="0.2284" stop-color="#0f0727"/><stop offset="0.2507" stop-color="#1b0c40"/><stop offset="0.2671" stop-color="#360c59"/><stop offset="0.2969" stop-color="#3c0c5e"/><stop offset="0.3147" stop-color="#4a0c6b"/><stop offset="0.3177" stop-color="#5b126c"/><stop offset="0.346" stop-color="#61146c"/><stop offset="0.3475" stop-color="#000004"/><stop offset="0.3743" stop-color="#070314"/><stop offset="0.3787" stop-color="#170a39"/><stop offset="0.3832" stop-color="#170a39"/><stop offset="0.3847" stop-color="#310c55"/><stop offset="0.3862" stop-color="#360c59"/><stop offset="0.4025" stop-color="#3c0c5e"/><stop offset="0.4085" stop-color="#5b126c"/><stop offset="0.4621" stop-color="#68166c"/><stop offset="0.8326" stop-color="#69176c"/><stop offset="0.8356" stop-color="#7f1e6b"/><stop offset="0.8519" stop-color="#862169"/><stop offset="0.9159" stop-color="#8f2466"/><stop offset="0.9189" stop-color="#a82e5e"/><stop offset="0.9397" stop-color="#b23358"/><stop offset="0.9457" stop-color="#ca4149"/><stop offset="0.9501" stop-color="#d04545"/><stop offset="0.9516" stop-color="#da523a"/><stop offset="0.9754" stop-color="#dc5438"/><stop offset="0.9769" stop-color="#de5636"/><stop offset="0.9784" stop-color="#ef7021"/><stop offset="0.9799" stop-color="#f1761d"/><stop offset="1" stop-color="#f1761d"/></linearGradient>
<linearGradient id="h127" gradientUnits="userSpaceOnUse" x1="205" x2="2372.5" y1="0" y2="0"><stop offset="0" stop-color="#03010a"/><stop offset="0.0126" stop-color="#03010a"/><stop offset="0.0141" stop-color="#320c55"/><stop offset="0.026" stop-color="#360c59"/><stop offset="0.0275" stop-color="#4d0d6b"/><stop offset="0.0975" stop-color="#5e136c"/><stop offset="0.099" stop-color="#000004"/><stop offset="0.1124" stop-color="#050210"/><stop offset="0.1138" stop-color="#000004"/><stop offset="0.1496" stop-color="#000004"/><stop offset="0.1585" stop-color="#03010a"/><stop offset="0.16" stop-color="#0c0620"/><stop offset="0.1615" stop-color="#0e0624"/><stop offset="0.224" stop-color="#140932"/><stop offset="0.2269" stop-color="#1a0b3e"/><stop offset="0.2359" stop-color="#1b0c41"/><stop offset="0.2403" stop-color="#290c4d"/><stop offset="0.2478" stop-color="#2d0c51"/><stop offset="0.2507" stop-color="#3e0c60"/><stop offset="0.2597" stop-color="#3f0c61"/><stop offset="0.2641" stop-color="#4f0e6b"/><stop offset="0.2894" stop-color="#520f6b"/><stop offset="0.3028" stop-color="#791c6d"/><stop offset="0.346" stop-color="#8d2367"/><stop offset="0.3475" stop-color="#000004"/><stop offset="0.3743" stop-color="#04020e"/><stop offset="0.3757" stop-color="#130930"/><stop offset="0.3996" stop-color="#210c46"/><stop offset="0.41" stop-color="#4c0d6b"/><stop offset="0.4263" stop-color="#5a116c"/><stop offset="0.6838" stop-color="#5b126c"/><stop offset="0.6897" stop-color="#781c6d"/><stop offset="0.6927" stop-color="#7b1d6c"/><stop offset="0.8341" stop-color="#801f6b"/><stop offset="0.8356" stop-color="#942665"/><stop offset="0.8504" stop-color="#942665"/><stop offset="0.8519" stop-color="#a02a62"/><stop offset="0.8653" stop-color="#b53556"/><stop offset="0.8847" stop-color="#b63655"/><stop offset="0.8906" stop-color="#c8404a"/><stop offset="0.9308" stop-color="#d44a40"/><stop offset="0.9323" stop-color="#eb6727"/><stop offset="0.9382" stop-color="#ef6f21"/><stop offset="0.9412" stop-color="#f88f0d"/><stop offset="0.9621" stop-color="#fb9e09"/><stop offset="0.974" stop-color="#faaa15"/><stop offset="0.9784" stop-color="#f8c430"/><stop offset="0.9799" stop-color="#f7d546"/><stop offset="0.9888" stop-color="#f7d546"/><stop offset="0.9963" stop-color="#f9e569"/><stop offset="0.9978" stop-color="#fbf995"/><stop offset="1" stop-color="#fcffa4"/></linearGradient>
<linearGradient id="h128" gradientUnits="userSpaceOnUse" x1="205" x2="2372.5" y1="0" y2="0"><stop offset="0" stop-color="#010005"/><stop offset="0.0126" stop-color="#010107"/><stop offset="0.0156" stop-color="#070315"/><stop offset="0.026" stop-color="#0c051f"/><stop offset="0.0409" stop-color="#0d0621"/><stop offset="0.0499" stop-color="#180a39"/><stop offset="0.0871" stop-color="#190b3d"/><stop offset="0.0975" stop-color="#190b3d"/><stop offset="0.099" stop-color="#000004"/><stop offset="0.16" stop-color="#020109"/><stop offset="0.1615" stop-color="#03010b"/><stop offset="0.1629" stop-color="#13082f"/><stop offset="0.1749" stop-color="#150a34"/><stop offset="0.1763" stop-color="#1c0c42"/><stop offset="0.2046" stop-color="#1d0c43"/><stop offset="0.2135" stop-color="#390c5b"/><stop offset="0.2909" stop-color="#450c67"/><stop offset="0.2969" stop-color="#540f6b"/><stop offset="0.3475" stop-color="#5c126c"/><stop offset="0.349" stop-color="#000004"/><stop offset="0.3921" stop-color="#020109"/><stop offset="0.3936" stop-color="#04020c"/><stop offset="0.3951" stop-color="#0c051e"/><stop offset="0.4159" stop-color="#12082d"/><stop offset="0.4219" stop-color="#180a39"/><stop offset="0.4234" stop-color="#210c46"/><stop offset="0.6823" stop-color="#280c4d"/><stop offset="0.6942" stop-color="#350c58"/><stop offset="0.7269" stop-color="#370c5a"/><stop offset="0.7329" stop-color="#490c6a"/><stop offset="0.7418" stop-color="#63156c"/><stop offset="0.8519" stop-color="#65166c"/><stop offset="0.8579" stop-color="#6f196d"/><stop offset="0.8624" stop-color="#852169"/><stop offset="0.9561" stop-color="#942665"/><stop offset="1" stop-color="#b43556"/></linearGradient>
<linearGradient id="h129" gradientUnits="userSpaceOnUse" x1="205" x2="2372.5" y1="0" y2="0"><stop offset="0" stop-color="#000004"/><stop offset="0.0231" stop-color="#010107"/><stop offset="0.026" stop-color="#060311"/><stop offset="0.0394" stop-color="#060313"/><stop offset="0.0513" stop-color="#0d0622"/><stop offset="0.093" stop-color="#0e0624"/><stop offset="0.0945" stop-color="#000004"/><stop offset="0.1287" stop-color="#000004"/><stop offset="0.1302" stop-color="#010005"/><stop offset="0.1317" stop-color="#090419"/><stop offset="0.1376" stop-color="#090419"/><stop offset="0.1391" stop-color="#0e0624"/><stop offset="0.1481" stop-color="#13082e"/><stop offset="0.1749" stop-color="#170a37"/><stop offset="0.1763" stop-color="#1d0c43"/><stop offset="0.2031" stop-color="#1f0c44"/><stop offset="0.215" stop-color="#440c66"/><stop offset="0.3281" stop-color="#490c6a"/><stop offset="0.3341" stop-color="#5a126c"/><stop offset="0.3475" stop-color="#5e136c"/><stop offset="0.349" stop-color="#000004"/><stop offset="0.3787" stop-color="#010007"/><stop offset="0.3817" stop-color="#070314"/><stop offset="0.3936" stop-color="#070314"/><stop offset="0.3996" stop-color="#140932"/><stop offset="0.41" stop-color="#140932"/><stop offset="0.4115" stop-color="#1b0c41"/><stop offset="0.4159" stop-color="#220c47"/><stop offset="0.4338" stop-color="#240c49"/><stop offset="0.4368" stop-color="#3b0c5e"/><stop offset="0.4382" stop-color="#66166c"/><stop offset="0.4427" stop-color="#892268"/><stop offset="0.6942" stop-color="#942665"/><stop offset="0.6972" stop-color="#a82e5e"/><stop offset="0.718" stop-color="#ab2f5c"/><stop offset="0.7314" stop-color="#c13c4f"/><stop offset="0.7359" stop-color="#d74e3d"/><stop offset="0.7493" stop-color="#e96529"/><stop offset="0.8519" stop-color="#f1771c"/><stop offset="0.8579" stop-color="#f2791b"/><stop offset="0.8594" stop-color="#f68a10"/><stop offset="0.8609" stop-color="#f8c834"/><stop offset="0.9338" stop-color="#f7cd39"/><stop offset="0.9368" stop-color="#f7d443"/><stop offset="0.9799" stop-color="#f8d84d"/><stop offset="0.9829" stop-color="#f8de5a"/><stop offset="1" stop-color="#f9e469"/></linearGradient>
<linearGradient id="h130" gradientUnits="userSpaceOnUse" x1="205" x2="2372.5" y1="0" y2="0"><stop offset="0" stop-color="#000004"/><stop offset="0.0856" stop-color="#0a041b"/><stop offset="0.09" stop-color="#0a041b"/><stop offset="0.0915" stop-color="#000004"/><stop offset="0.1272" stop-color="#020108"/><stop offset="0.1376" stop-color="#080416"/><stop offset="0.1391" stop-color="#1a0c3f"/><stop offset="0.154" stop-color="#240c49"/><stop offset="0.1555" stop-color="#2a0c4f"/><stop offset="0.157" stop-color="#5c126c"/><stop offset="0.1897" stop-color="#62146c"/><stop offset="0.1942" stop-color="#7a1d6c"/><stop offset="0.2046" stop-color="#8b2368"/><stop offset="0.2671" stop-color="#922565"/><stop offset="0.282" stop-color="#b13358"/><stop offset="0.3356" stop-color="#c33d4e"/><stop offset="0.3475" stop-color="#c53e4c"/><stop offset="0.349" stop-color="#000004"/><stop offset="0.3698" stop-color="#000004"/><stop offset="0.3787" stop-color="#010006"/><stop offset="0.3802" stop-color="#080417"/><stop offset="0.3832" stop-color="#0a051b"/><stop offset="0.3951" stop-color="#0b051c"/><stop offset="0.3966" stop-color="#13082e"/><stop offset="0.3996" stop-color="#150933"/><stop offset="0.4323" stop-color="#160a35"/><stop offset="0.4397" stop-color="#240c49"/><stop offset="0.4472" stop-color="#290c4e"/><stop offset="0.6957" stop-color="#2b0c50"/><stop offset="0.7165" stop-color="#400c62"/><stop offset="0.7686" stop-color="#510f6b"/><stop offset="0.779" stop-color="#68176c"/><stop offset="0.7969" stop-color="#70196d"/><stop offset="0.7999" stop-color="#862169"/><stop offset="0.8088" stop-color="#992863"/><stop offset="0.9591" stop-color="#a92e5e"/><stop offset="0.9695" stop-color="#ac305c"/><stop offset="0.971" stop-color="#c33d4d"/><stop offset="0.9725" stop-color="#c73f4b"/><stop offset="1" stop-color="#d44a41"/></linearGradient>
<linearGradient id="h131" gradientUnits="userSpaceOnUse" x1="205" x2="2372.5" y1="0" y2="0"><stop offset="0" stop-color="#000004"/><stop offset="0.0275" stop-color="#04020c"/><stop offset="0.0379" stop-color="#070313"/><stop offset="0.0394" stop-color="#0d0622"/><stop offset="0.0737" stop-color="#0f0726"/><stop offset="0.0856" stop-color="#150934"/><stop offset="0.0871" stop-color="#000004"/><stop offset="0.1049" stop-color="#000004"/><stop offset="0.1376" stop-color="#0d0621"/><stop offset="0.1525" stop-color="#0d0622"/><stop offset="0.1585" stop-color="#160a35"/><stop offset="0.1659" stop-color="#180b3b"/><stop offset="0.1838" stop-color="#190b3d"/><stop offset="0.1927" stop-color="#330c57"/><stop offset="0.2403" stop-color="#4a0c6b"/><stop offset="0.2448" stop-color="#58116c"/><stop offset="0.2522" stop-color="#5b126c"/><stop offset="0.2567" stop-color="#771c6d"/><stop offset="0.285" stop-color="#a52c60"/><stop offset="0.3043" stop-color="#a72d5f"/><stop offset="0.3207" stop-color="#be3a50"/><stop offset="0.3475" stop-color="#c33d4d"/><stop offset="0.349" stop-color="#000004"/><stop offset="0.3757" stop-color="#000005"/><stop offset="0.3772" stop-color="#020108"/><stop offset="0.3787" stop-color="#0c0520"/><stop offset="0.3966" stop-color="#150934"/><stop offset="0.3981" stop-color="#240c49"/><stop offset="0.4115" stop-color="#2d0c51"/><stop offset="0.4144" stop-color="#3d0c5f"/><stop offset="0.4457" stop-color="#4e0d6b"/><stop offset="0.5841" stop-color="#781c6d"/><stop offset="0.6659" stop-color="#7b1d6c"/><stop offset="0.6674" stop-color="#c7404b"/><stop offset="0.7507" stop-color="#d14644"/><stop offset="0.779" stop-color="#da513a"/><stop offset="0.7984" stop-color="#ee6d23"/><stop offset="0.8504" stop-color="#ef7021"/><stop offset="0.8832" stop-color="#ef7120"/><stop offset="0.8847" stop-color="#000004"/><stop offset="0.9695" stop-color="#020108"/><stop offset="0.971" stop-color="#0e0625"/><stop offset="1" stop-color="#0f0725"/></linearGradient>
<linearGradient id="h132" gradientUnits="userSpaceOnUse" x1="205" x2="2372.5" y1="0" y2="0"><stop offset="0" stop-color="#000004"/><stop offset="0.0126" stop-color="#020108"/><stop offset="0.0141" stop-color="#12082d"/><stop offset="0.026" stop-color="#150934"/><stop offset="0.0275" stop-color="#260c4a"/><stop offset="0.0365" stop-color="#2b0c50"/><stop offset="0.0379" stop-color="#3c0c5f"/><stop offset="0.0543" stop-color="#3d0c5f"/><stop offset="0.0558" stop-color="#3e0c61"/><stop offset="0.0573" stop-color="#510e6b"/><stop offset="0.0856" stop-color="#66166c"/><stop offset="0.0871" stop-color="#000004"/><stop offset="0.1034" stop-color="#000005"/><stop offset="0.1064" stop-color="#070314"/><stop offset="0.1079" stop-color="#150932"/><stop offset="0.1198" stop-color="#160a35"/><stop offset="0.1213" stop-color="#1d0c43"/><stop offset="0.1347" stop-color="#250c4a"/><stop offset="0.1376" stop-color="#380c5b"/><stop offset="0.151" stop-color="#390c5c"/><stop offset="0.1525" stop-color="#480c69"/><stop offset="0.157" stop-color="#480c6a"/><stop offset="0.16" stop-color="#57116c"/><stop offset="0.1823" stop-color="#5a126c"/><stop offset="0.1882" stop-color="#6c186c"/><stop offset="0.224" stop-color="#6e196d"/><stop offset="0.2433" stop-color="#892268"/><stop offset="0.2463" stop-color="#9f2a62"/><stop offset="0.2522" stop-color="#b13359"/><stop offset="0.2671" stop-color="#c53e4c"/><stop offset="0.2969" stop-color="#c8404a"/><stop offset="0.3147" stop-color="#d44a40"/><stop offset="0.3162" stop-color="#e05933"/><stop offset="0.349" stop-color="#e5602d"/><stop offset="0.3504" stop-color="#000004"/><stop offset="0.3743" stop-color="#000004"/><stop offset="0.3757" stop-color="#160a36"/><stop offset="0.3832" stop-color="#1a0b3e"/><stop offset="0.3847" stop-color="#3c0c5f"/><stop offset="0.3862" stop-color="#410c63"/><stop offset="0.401" stop-color="#4f0e6b"/><stop offset="0.404" stop-color="#5f136c"/><stop offset="0.4055" stop-color="#7c1e6c"/><stop offset="0.407" stop-color="#892268"/><stop offset="0.4115" stop-color="#942665"/><stop offset="0.4129" stop-color="#bb3952"/><stop offset="0.4933" stop-color="#cd4347"/><stop offset="0.5052" stop-color="#d74e3d"/><stop offset="0.5112" stop-color="#e8632b"/><stop offset="0.6004" stop-color="#f1781c"/><stop offset="0.6659" stop-color="#f1781c"/><stop offset="0.6674" stop-color="#fb9c07"/><stop offset="0.7061" stop-color="#fb9e09"/><stop offset="0.7121" stop-color="#f9b01c"/><stop offset="0.7552" stop-color="#f9b01c"/><stop offset="0.7626" stop-color="#f8c32f"/><stop offset="0.8832" stop-color="#f8c32f"/><stop offset="0.8847" stop-color="#000004"/><stop offset="0.91" stop-color="#080417"/><stop offset="1" stop-color="#0c051f"/></linearGradient>
<linearGradient id="h133" gradientUnits="userSpaceOnUse" x1="205" x2="2372.5" y1="0" y2="0"><stop offset="0" stop-color="#000004"/><stop offset="0.0126" stop-color="#000004"/><stop offset="0.0141" stop-color="#0c0520"/><stop offset="0.0156" stop-color="#0d0621"/><stop offset="0.0722" stop-color="#170a38"/><stop offset="0.0856" stop-color="#170a38"/><stop offset="0.0871" stop-color="#000004"/><stop offset="0.1138" stop-color="#010007"/><stop offset="0.1183" stop-color="#020108"/><stop offset="0.1198" stop-color="#080416"/><stop offset="0.1585" stop-color="#0a041a"/><stop offset="0.1629" stop-color="#12082d"/><stop offset="0.2359" stop-color="#150934"/><stop offset="0.2388" stop-color="#1b0c41"/><stop offset="0.2641" stop-color="#2c0c50"/><stop offset="0.2909" stop-color="#2d0c51"/><stop offset="0.2969" stop-color="#400c62"/><stop offset="0.3028" stop-color="#450c67"/><stop offset="0.346" stop-color="#4a0c6b"/><stop offset="0.349" stop-color="#4b0c6b"/><stop offset="0.3504" stop-color="#000004"/><stop offset="0.3906" stop-color="#03010a"/><stop offset="0.4025" stop-color="#11082a"/><stop offset="0.4159" stop-color="#140932"/><stop offset="0.4249" stop-color="#250c4a"/><stop offset="0.4918" stop-color="#2f0c53"/><stop offset="0.5037" stop-color="#3e0c61"/><stop offset="0.5052" stop-color="#430c64"/><stop offset="0.5067" stop-color="#59116c"/><stop offset="0.6004" stop-color="#6f196d"/><stop offset="0.8266" stop-color="#801f6b"/><stop offset="0.8296" stop-color="#8a2368"/><stop offset="0.8549" stop-color="#8e2467"/><stop offset="0.8579" stop-color="#a02a61"/><stop offset="0.8624" stop-color="#aa2f5d"/><stop offset="0.8817" stop-color="#bd3a51"/><stop offset="0.8832" stop-color="#bd3a51"/><stop offset="0.8847" stop-color="#000004"/><stop offset="1" stop-color="#000004"/></linearGradient>
<linearGradient id="h134" gradientUnits="userSpaceOnUse" x1="205" x2="2372.5" y1="0" y2="0"><stop offset="0" stop-color="#000004"/><stop offset="0.0141" stop-color="#000004"/><stop offset="0.0231" stop-color="#020109"/><stop offset="0.026" stop-color="#090419"/><stop offset="0.0409" stop-color="#0a041a"/><stop offset="0.0499" stop-color="#160a35"/><stop offset="0.0841" stop-color="#180b3a"/><stop offset="0.0856" stop-color="#000004"/><stop offset="0.099" stop-color="#000004"/><stop offset="0.1153" stop-color="#04020d"/><stop offset="0.1183" stop-color="#080417"/><stop offset="0.1198" stop-color="#100728"/><stop offset="0.1615" stop-color="#160a35"/><stop offset="0.1629" stop-color="#290c4e"/><stop offset="0.1644" stop-color="#310c54"/><stop offset="0.2924" stop-color="#360c59"/><stop offset="0.3594" stop-color="#430c65"/><stop offset="0.3609" stop-color="#4b0d6b"/><stop offset="0.3668" stop-color="#4d0d6b"/><stop offset="0.3683" stop-color="#000004"/><stop offset="0.3936" stop-color="#010006"/><stop offset="0.3951" stop-color="#0f0725"/><stop offset="0.3981" stop-color="#0f0726"/><stop offset="0.401" stop-color="#160a36"/><stop offset="0.41" stop-color="#160a37"/><stop offset="0.4115" stop-color="#210c47"/><stop offset="0.4219" stop-color="#360c59"/><stop offset="0.4234" stop-color="#440c66"/><stop offset="0.4338" stop-color="#460c68"/><stop offset="0.4353" stop-color="#000004"/><stop offset="0.4978" stop-color="#03010b"/><stop offset="0.4993" stop-color="#140932"/><stop offset="0.5037" stop-color="#150932"/><stop offset="0.5052" stop-color="#1b0c41"/><stop offset="0.5126" stop-color="#1d0c43"/><stop offset="0.6525" stop-color="#260c4b"/><stop offset="0.654" stop-color="#320c55"/><stop offset="0.8162" stop-color="#320c56"/><stop offset="0.8251" stop-color="#3b0c5d"/><stop offset="0.8311" stop-color="#55106b"/><stop offset="0.8519" stop-color="#57106c"/><stop offset="0.8564" stop-color="#60146c"/><stop offset="0.8579" stop-color="#65156c"/><stop offset="0.8594" stop-color="#9a2863"/><stop offset="0.8609" stop-color="#d04545"/><stop offset="0.8757" stop-color="#d24842"/><stop offset="0.8832" stop-color="#d24842"/><stop offset="0.8847" stop-color="#000004"/><stop offset="0.9219" stop-color="#010006"/><stop offset="0.9263" stop-color="#0b051d"/><stop offset="1" stop-color="#0f0725"/></linearGradient>
<linearGradient id="h135" gradientUnits="userSpaceOnUse" x1="205" x2="2372.5" y1="0" y2="0"><stop offset="0" stop-color="#000004"/><stop offset="0.0394" stop-color="#010005"/><stop offset="0.0424" stop-color="#060311"/><stop offset="0.0677" stop-color="#0b051d"/><stop offset="0.0841" stop-color="#0b051d"/><stop offset="0.0856" stop-color="#000004"/><stop offset="0.1287" stop-color="#070313"/><stop offset="0.1302" stop-color="#0a041a"/><stop offset="0.1317" stop-color="#1f0c44"/><stop offset="0.1376" stop-color="#1f0c45"/><stop offset="0.1391" stop-color="#4a0c6b"/><stop offset="0.1481" stop-color="#5e136c"/><stop offset="0.1644" stop-color="#61146c"/><stop offset="0.3579" stop-color="#6f196d"/><stop offset="0.3594" stop-color="#741b6d"/><stop offset="0.3609" stop-color="#9e2962"/><stop offset="0.3683" stop-color="#a52c60"/><stop offset="0.3698" stop-color="#000004"/><stop offset="0.3951" stop-color="#000004"/><stop offset="0.3966" stop-color="#160a35"/><stop offset="0.3981" stop-color="#160a35"/><stop offset="0.3996" stop-color="#200c45"/><stop offset="0.4308" stop-color="#320c56"/><stop offset="0.4323" stop-color="#000004"/><stop offset="0.4888" stop-color="#000005"/><stop offset="0.4978" stop-color="#04020c"/><stop offset="0.5007" stop-color="#1a0b3e"/><stop offset="0.5022" stop-color="#1a0c3f"/><stop offset="0.5037" stop-color="#56106c"/><stop offset="0.6004" stop-color="#721a6d"/><stop offset="0.651" stop-color="#721a6d"/><stop offset="0.6555" stop-color="#912566"/><stop offset="0.6644" stop-color="#912566"/><stop offset="0.6659" stop-color="#9b2863"/><stop offset="0.8147" stop-color="#9b2863"/><stop offset="0.8237" stop-color="#b33457"/><stop offset="0.8266" stop-color="#cd4347"/><stop offset="0.8326" stop-color="#d24842"/><stop offset="0.8445" stop-color="#d34942"/><stop offset="0.846" stop-color="#000004"/><stop offset="0.8594" stop-color="#000004"/><stop offset="0.8609" stop-color="#150933"/><stop offset="0.8832" stop-color="#190b3c"/><stop offset="0.8847" stop-color="#000004"/><stop offset="0.9189" stop-color="#02010a"/><stop offset="0.9234" stop-color="#1b0c41"/><stop offset="0.9263" stop-color="#3e0c60"/><stop offset="0.9576" stop-color="#420c63"/><stop offset="0.9591" stop-color="#4e0d6b"/><stop offset="1" stop-color="#4e0d6b"/></linearGradient>
<linearGradient id="h136" gradientUnits="userSpaceOnUse" x1="205" x2="2372.5" y1="0" y2="0"><stop offset="0" stop-color="#000004"/><stop offset="0.035" stop-color="#000004"/><stop offset="0.0409" stop-color="#080315"/><stop offset="0.0647" stop-color="#0b051c"/><stop offset="0.0751" stop-color="#0b051c"/><stop offset="0.0766" stop-color="#000004"/><stop offset="0.1213" stop-color="#020108"/><stop offset="0.1376" stop-color="#090419"/><stop offset="0.1391" stop-color="#160a36"/><stop offset="0.1451" stop-color="#1a0c3f"/><stop offset="0.346" stop-color="#1d0c43"/><stop offset="0.3534" stop-color="#200c45"/><stop offset="0.3683" stop-color="#3d0c5f"/><stop offset="0.3698" stop-color="#000004"/><stop offset="0.3951" stop-color="#000004"/><stop offset="0.3981" stop-color="#0c0520"/><stop offset="0.4144" stop-color="#0e0623"/><stop offset="0.4263" stop-color="#0e0624"/><stop offset="0.4278" stop-color="#000004"/><stop offset="0.4888" stop-color="#010006"/><stop offset="0.5171" stop-color="#0b051e"/><stop offset="0.5662" stop-color="#0d0621"/><stop offset="0.5692" stop-color="#1a0c3f"/><stop offset="0.5707" stop-color="#1d0c42"/><stop offset="0.6496" stop-color="#200c45"/><stop offset="0.6555" stop-color="#2b0c4f"/><stop offset="0.657" stop-color="#420c64"/><stop offset="0.6644" stop-color="#5a126c"/><stop offset="0.8207" stop-color="#5d136c"/><stop offset="0.8237" stop-color="#66166c"/><stop offset="0.8251" stop-color="#7e1e6b"/><stop offset="0.8311" stop-color="#7e1e6b"/><stop offset="0.8326" stop-color="#892268"/><stop offset="0.8341" stop-color="#ba3853"/><stop offset="0.8445" stop-color="#ba3853"/><stop offset="0.846" stop-color="#000004"/><stop offset="0.9174" stop-color="#03020c"/><stop offset="0.9189" stop-color="#100728"/><stop offset="0.9204" stop-color="#13092f"/><stop offset="0.9427" stop-color="#150933"/><stop offset="0.9487" stop-color="#1f0c45"/><stop offset="0.9576" stop-color="#210c47"/><stop offset="0.9591" stop-color="#2e0c52"/><stop offset="1" stop-color="#2e0c52"/></linearGradient>
<linearGradient id="h137" gradientUnits="userSpaceOnUse" x1="205" x2="2372.5" y1="0" y2="0"><stop offset="0" stop-color="#000004"/><stop offset="0.0365" stop-color="#000004"/><stop offset="0.0394" stop-color="#090418"/><stop offset="0.0558" stop-color="#090419"/><stop offset="0.0573" stop-color="#0e0623"/><stop offset="0.0632" stop-color="#0f0727"/><stop offset="0.0707" stop-color="#0f0727"/><stop offset="0.0722" stop-color="#000004"/><stop offset="0.1198" stop-color="#04020e"/><stop offset="0.1213" stop-color="#0a051b"/><stop offset="0.1362" stop-color="#140931"/><stop offset="0.1376" stop-color="#1c0c42"/><stop offset="0.346" stop-color="#230c48"/><stop offset="0.3698" stop-color="#3d0c60"/><stop offset="0.3713" stop-color="#000004"/><stop offset="0.3966" stop-color="#000004"/><stop offset="0.3981" stop-color="#060312"/><stop offset="0.401" stop-color="#060312"/><stop offset="0.4025" stop-color="#000004"/><stop offset="0.4115" stop-color="#000004"/><stop offset="0.4129" stop-color="#1a0c3f"/><stop offset="0.4144" stop-color="#1d0c43"/><stop offset="0.4234" stop-color="#1e0c44"/><stop offset="0.4249" stop-color="#000004"/><stop offset="0.5647" stop-color="#090418"/><stop offset="0.5692" stop-color="#0c051f"/><stop offset="0.5722" stop-color="#200c46"/><stop offset="0.5751" stop-color="#240c49"/><stop offset="0.6466" stop-color="#280c4d"/><stop offset="0.6644" stop-color="#4a0c6b"/><stop offset="0.6853" stop-color="#54106b"/><stop offset="0.8326" stop-color="#56106c"/><stop offset="0.8356" stop-color="#83206a"/><stop offset="0.8385" stop-color="#83206a"/><stop offset="0.843" stop-color="#83206a"/><stop offset="0.8445" stop-color="#000004"/><stop offset="0.9085" stop-color="#010006"/><stop offset="0.9159" stop-color="#04020c"/><stop offset="0.9189" stop-color="#0f0727"/><stop offset="0.9308" stop-color="#100729"/><stop offset="0.9323" stop-color="#160a36"/><stop offset="0.9397" stop-color="#180b3b"/><stop offset="0.9457" stop-color="#2c0c51"/><stop offset="0.9501" stop-color="#300c54"/><stop offset="0.9516" stop-color="#400c62"/><stop offset="0.9754" stop-color="#450c66"/><stop offset="0.9769" stop-color="#490c6a"/><stop offset="0.9784" stop-color="#65156c"/><stop offset="0.9799" stop-color="#6b186c"/><stop offset="1" stop-color="#6d186d"/></linearGradient>
<linearGradient id="h138" gradientUnits="userSpaceOnUse" x1="205" x2="2372.5" y1="0" y2="0"><stop offset="0" stop-color="#010107"/><stop offset="0.0543" stop-color="#000004"/><stop offset="0.0677" stop-color="#060313"/><stop offset="0.0692" stop-color="#000004"/><stop offset="0.096" stop-color="#000005"/><stop offset="0.1347" stop-color="#05020e"/><stop offset="0.1376" stop-color="#090419"/><stop offset="0.3698" stop-color="#100728"/><stop offset="0.3713" stop-color="#000004"/><stop offset="0.5186" stop-color="#010107"/><stop offset="0.5216" stop-color="#060312"/><stop offset="0.5707" stop-color="#0a041b"/><stop offset="0.5722" stop-color="#13082e"/><stop offset="0.5737" stop-color="#140931"/><stop offset="0.6317" stop-color="#150933"/><stop offset="0.6347" stop-color="#1c0c42"/><stop offset="0.6496" stop-color="#230c48"/><stop offset="0.6838" stop-color="#230c49"/><stop offset="0.6897" stop-color="#450c66"/><stop offset="0.6927" stop-color="#490c6a"/><stop offset="0.7269" stop-color="#490c6a"/><stop offset="0.7374" stop-color="#4d0d6b"/><stop offset="0.7403" stop-color="#58116c"/><stop offset="0.8281" stop-color="#59116c"/><stop offset="0.8341" stop-color="#5c126c"/><stop offset="0.8356" stop-color="#6b186c"/><stop offset="0.843" stop-color="#6c186c"/><stop offset="0.8445" stop-color="#000004"/><stop offset="0.8728" stop-color="#000004"/><stop offset="0.8817" stop-color="#080316"/><stop offset="0.8832" stop-color="#000004"/><stop offset="0.8862" stop-color="#05020f"/><stop offset="0.8891" stop-color="#000004"/><stop offset="0.8981" stop-color="#000004"/><stop offset="0.9308" stop-color="#050210"/><stop offset="0.9323" stop-color="#0d0621"/><stop offset="0.9368" stop-color="#0d0622"/><stop offset="0.9412" stop-color="#150a34"/><stop offset="0.9725" stop-color="#1a0c3f"/><stop offset="0.9799" stop-color="#280c4d"/><stop offset="0.9948" stop-color="#300c53"/><stop offset="1" stop-color="#3f0c61"/></linearGradient>
<linearGradient id="h139" gradientUnits="userSpaceOnUse" x1="205" x2="2372.5" y1="0" y2="0"><stop offset="0" stop-color="#010006"/><stop offset="0.1138" stop-color="#010005"/><stop offset="0.1183" stop-color="#020109"/><stop offset="0.1198" stop-color="#100727"/><stop offset="0.3713" stop-color="#170a38"/><stop offset="0.3728" stop-color="#000004"/><stop offset="0.4531" stop-color="#000004"/><stop offset="0.5201" stop-color="#060311"/><stop offset="0.5216" stop-color="#130930"/><stop offset="0.532" stop-color="#140931"/><stop offset="0.5335" stop-color="#1a0c3f"/><stop offset="0.6317" stop-color="#260c4b"/><stop offset="0.6332" stop-color="#320c55"/><stop offset="0.6347" stop-color="#500e6b"/><stop offset="0.6451" stop-color="#67166c"/><stop offset="0.6823" stop-color="#68176c"/><stop offset="0.6957" stop-color="#872169"/><stop offset="0.7254" stop-color="#892268"/><stop offset="0.7329" stop-color="#bc3951"/><stop offset="0.7403" stop-color="#d24842"/><stop offset="0.8371" stop-color="#d9513b"/><stop offset="0.843" stop-color="#d9513a"/><stop offset="0.8445" stop-color="#000004"/><stop offset="0.8728" stop-color="#000004"/><stop offset="0.8802" stop-color="#070314"/><stop offset="0.8817" stop-color="#070314"/><stop offset="0.8832" stop-color="#000004"/><stop offset="0.9338" stop-color="#010107"/><stop offset="0.9353" stop-color="#050210"/><stop offset="0.965" stop-color="#070315"/><stop offset="1" stop-color="#180a39"/></linearGradient>
<linearGradient id="h140" gradientUnits="userSpaceOnUse" x1="205" x2="2372.5" y1="0" y2="0"><stop offset="0" stop-color="#000004"/><stop offset="0.1749" stop-color="#03010a"/><stop offset="0.1763" stop-color="#070314"/><stop offset="0.2046" stop-color="#070315"/><stop offset="0.2061" stop-color="#0d0621"/><stop offset="0.215" stop-color="#140931"/><stop offset="0.3281" stop-color="#140932"/><stop offset="0.3594" stop-color="#180a39"/><stop offset="0.3609" stop-color="#200c45"/><stop offset="0.3713" stop-color="#210c47"/><stop offset="0.3728" stop-color="#000004"/><stop offset="0.4338" stop-color="#000004"/><stop offset="0.4368" stop-color="#070313"/><stop offset="0.4382" stop-color="#13082f"/><stop offset="0.4412" stop-color="#1c0c41"/><stop offset="0.4516" stop-color="#200c45"/><stop offset="0.4531" stop-color="#000004"/><stop offset="0.5871" stop-color="#060311"/><stop offset="0.59" stop-color="#0b051d"/><stop offset="0.6347" stop-color="#11082b"/><stop offset="0.6421" stop-color="#1a0b3e"/><stop offset="0.6942" stop-color="#1b0c41"/><stop offset="0.6972" stop-color="#2e0c52"/><stop offset="0.7195" stop-color="#340c58"/><stop offset="0.7344" stop-color="#4f0e6b"/><stop offset="0.7418" stop-color="#530f6b"/><stop offset="0.7507" stop-color="#6a176c"/><stop offset="0.7969" stop-color="#721a6d"/><stop offset="0.8103" stop-color="#882268"/><stop offset="0.843" stop-color="#9a2863"/><stop offset="0.8445" stop-color="#000004"/><stop offset="0.9189" stop-color="#000004"/><stop offset="0.9219" stop-color="#04020c"/><stop offset="0.9249" stop-color="#190b3b"/><stop offset="0.9263" stop-color="#200c46"/><stop offset="0.9353" stop-color="#210c46"/><stop offset="0.9368" stop-color="#2f0c53"/><stop offset="0.9814" stop-color="#3d0c60"/><stop offset="0.9829" stop-color="#4b0c6b"/><stop offset="0.9888" stop-color="#58116c"/><stop offset="1" stop-color="#5a126c"/></linearGradient>
<linearGradient id="h141" gradientUnits="userSpaceOnUse" x1="205" x2="2372.5" y1="0" y2="0"><stop offset="0" stop-color="#000004"/><stop offset="0.154" stop-color="#020108"/><stop offset="0.1555" stop-color="#03010b"/><stop offset="0.157" stop-color="#0f0726"/><stop offset="0.1912" stop-color="#12082c"/><stop offset="0.1972" stop-color="#180b3a"/><stop offset="0.2121" stop-color="#1e0c44"/><stop offset="0.3281" stop-color="#300c53"/><stop offset="0.3341" stop-color="#400c62"/><stop offset="0.3579" stop-color="#460c68"/><stop offset="0.3624" stop-color="#5a126c"/><stop offset="0.3713" stop-color="#5d136c"/><stop offset="0.3728" stop-color="#000004"/><stop offset="0.3787" stop-color="#000004"/><stop offset="0.3802" stop-color="#0a041a"/><stop offset="0.3832" stop-color="#0c0520"/><stop offset="0.3951" stop-color="#0d0621"/><stop offset="0.3966" stop-color="#000004"/><stop offset="0.4323" stop-color="#000005"/><stop offset="0.4368" stop-color="#070314"/><stop offset="0.4412" stop-color="#160a36"/><stop offset="0.4487" stop-color="#190b3d"/><stop offset="0.4531" stop-color="#190b3e"/><stop offset="0.4546" stop-color="#000004"/><stop offset="0.5216" stop-color="#03010b"/><stop offset="0.5469" stop-color="#070314"/><stop offset="0.5543" stop-color="#0f0725"/><stop offset="0.5856" stop-color="#100728"/><stop offset="0.59" stop-color="#13082f"/><stop offset="0.5915" stop-color="#240c49"/><stop offset="0.6138" stop-color="#290c4d"/><stop offset="0.6168" stop-color="#2d0c51"/><stop offset="0.6183" stop-color="#430c65"/><stop offset="0.6228" stop-color="#4d0d6b"/><stop offset="0.6272" stop-color="#5e136c"/><stop offset="0.6957" stop-color="#62156c"/><stop offset="0.7031" stop-color="#741b6d"/><stop offset="0.7165" stop-color="#872169"/><stop offset="0.7448" stop-color="#892268"/><stop offset="0.7537" stop-color="#9a2863"/><stop offset="0.7656" stop-color="#9c2962"/><stop offset="0.779" stop-color="#c03b4f"/><stop offset="0.7969" stop-color="#c9414a"/><stop offset="0.8058" stop-color="#da523a"/><stop offset="0.8237" stop-color="#dd5636"/><stop offset="0.8341" stop-color="#ec6727"/><stop offset="0.843" stop-color="#ec6726"/><stop offset="0.8445" stop-color="#000004"/><stop offset="0.849" stop-color="#04020e"/><stop offset="0.8594" stop-color="#04020e"/><stop offset="0.8609" stop-color="#000004"/><stop offset="0.9174" stop-color="#000004"/><stop offset="0.9204" stop-color="#080417"/><stop offset="0.9263" stop-color="#0d0621"/><stop offset="0.9576" stop-color="#11082b"/><stop offset="0.9606" stop-color="#1a0c3f"/><stop offset="0.9695" stop-color="#1a0c3f"/><stop offset="0.971" stop-color="#470c69"/><stop offset="0.9725" stop-color="#4b0c6b"/><stop offset="1" stop-color="#59116c"/></linearGradient>
<linearGradient id="h142" gradientUnits="userSpaceOnUse" x1="205" x2="2372.5" y1="0" y2="0"><stop offset="0" stop-color="#000004"/><stop offset="0.1525" stop-color="#060312"/><stop offset="0.1585" stop-color="#12082d"/><stop offset="0.1868" stop-color="#140931"/><stop offset="0.1942" stop-color="#230c48"/><stop offset="0.2016" stop-color="#2c0c50"/><stop offset="0.2522" stop-color="#3a0c5c"/><stop offset="0.2686" stop-color="#4d0d6b"/><stop offset="0.282" stop-color="#62146c"/><stop offset="0.3073" stop-color="#65156c"/><stop offset="0.3266" stop-color="#7d1e6c"/><stop offset="0.3519" stop-color="#882268"/><stop offset="0.3638" stop-color="#a22b61"/><stop offset="0.3772" stop-color="#aa2f5d"/><stop offset="0.3787" stop-color="#b73655"/><stop offset="0.3951" stop-color="#be3a50"/><stop offset="0.3966" stop-color="#000004"/><stop offset="0.4501" stop-color="#060210"/><stop offset="0.4531" stop-color="#060211"/><stop offset="0.4546" stop-color="#000004"/><stop offset="0.4948" stop-color="#04020c"/><stop offset="0.4963" stop-color="#080416"/><stop offset="0.5067" stop-color="#080416"/><stop offset="0.5097" stop-color="#0d0622"/><stop offset="0.5543" stop-color="#160a36"/><stop offset="0.5588" stop-color="#1c0c42"/><stop offset="0.5856" stop-color="#1e0c44"/><stop offset="0.599" stop-color="#310c55"/><stop offset="0.6168" stop-color="#350c58"/><stop offset="0.6213" stop-color="#480c69"/><stop offset="0.6287" stop-color="#530f6b"/><stop offset="0.6659" stop-color="#56106c"/><stop offset="0.6674" stop-color="#c03b4f"/><stop offset="0.7626" stop-color="#cc4248"/><stop offset="0.7805" stop-color="#d24842"/><stop offset="0.7939" stop-color="#e25c31"/><stop offset="0.8385" stop-color="#e96429"/><stop offset="0.8415" stop-color="#e96429"/><stop offset="0.843" stop-color="#000004"/><stop offset="0.8504" stop-color="#03010b"/><stop offset="0.9129" stop-color="#000004"/><stop offset="0.9174" stop-color="#060311"/><stop offset="0.9189" stop-color="#150934"/><stop offset="0.9427" stop-color="#190b3c"/><stop offset="0.9457" stop-color="#2d0c51"/><stop offset="0.9516" stop-color="#430c65"/><stop offset="0.9546" stop-color="#430c65"/><stop offset="0.9561" stop-color="#000004"/><stop offset="1" stop-color="#050210"/></linearGradient>
<linearGradient id="h143" gradientUnits="userSpaceOnUse" x1="205" x2="2372.5" y1="0" y2="0"><stop offset="0" stop-color="#000005"/><stop offset="0.0126" stop-color="#020109"/><stop offset="0.0141" stop-color="#100729"/><stop offset="0.026" stop-color="#13092f"/><stop offset="0.0275" stop-color="#200c45"/><stop offset="0.032" stop-color="#250c4a"/><stop offset="0.035" stop-color="#260c4a"/><stop offset="0.0365" stop-color="#000004"/><stop offset="0.0707" stop-color="#000004"/><stop offset="0.0781" stop-color="#050210"/><stop offset="0.1034" stop-color="#090419"/><stop offset="0.1064" stop-color="#0e0623"/><stop offset="0.1079" stop-color="#190b3c"/><stop offset="0.151" stop-color="#190b3d"/><stop offset="0.1585" stop-color="#300c54"/><stop offset="0.1808" stop-color="#360c59"/><stop offset="0.1868" stop-color="#4b0c6b"/><stop offset="0.1897" stop-color="#530f6b"/><stop offset="0.2225" stop-color="#54106b"/><stop offset="0.2433" stop-color="#781c6d"/><stop offset="0.2463" stop-color="#8b2367"/><stop offset="0.2507" stop-color="#8e2467"/><stop offset="0.2582" stop-color="#ad315b"/><stop offset="0.2597" stop-color="#bc3952"/><stop offset="0.2671" stop-color="#c43d4d"/><stop offset="0.3043" stop-color="#cd4347"/><stop offset="0.3192" stop-color="#dc5537"/><stop offset="0.3743" stop-color="#e9632a"/><stop offset="0.3772" stop-color="#ef7220"/><stop offset="0.3832" stop-color="#f0741e"/><stop offset="0.3847" stop-color="#f48216"/><stop offset="0.3966" stop-color="#f78c0f"/><stop offset="0.3981" stop-color="#000004"/><stop offset="0.401" stop-color="#000004"/><stop offset="0.404" stop-color="#080417"/><stop offset="0.4055" stop-color="#1a0c3e"/><stop offset="0.407" stop-color="#260c4b"/><stop offset="0.4115" stop-color="#300c54"/><stop offset="0.4129" stop-color="#000004"/><stop offset="0.4234" stop-color="#000004"/><stop offset="0.4278" stop-color="#080416"/><stop offset="0.4531" stop-color="#090417"/><stop offset="0.4546" stop-color="#000004"/><stop offset="0.4933" stop-color="#04020e"/><stop offset="0.4963" stop-color="#170a37"/><stop offset="0.4978" stop-color="#1a0c40"/><stop offset="0.5052" stop-color="#1b0c41"/><stop offset="0.5067" stop-color="#530f6b"/><stop offset="0.5097" stop-color="#66166c"/><stop offset="0.5112" stop-color="#7a1d6c"/><stop offset="0.5499" stop-color="#8b2368"/><stop offset="0.5573" stop-color="#9f2a62"/><stop offset="0.5915" stop-color="#ae315a"/><stop offset="0.593" stop-color="#bb3853"/><stop offset="0.6317" stop-color="#d34942"/><stop offset="0.6659" stop-color="#d34942"/><stop offset="0.7121" stop-color="#ea6529"/><stop offset="0.7552" stop-color="#ea6529"/><stop offset="0.7582" stop-color="#ec6826"/><stop offset="0.7641" stop-color="#f48315"/><stop offset="0.785" stop-color="#f58712"/><stop offset="0.8281" stop-color="#f68812"/><stop offset="0.8296" stop-color="#000004"/><stop offset="0.8341" stop-color="#000004"/><stop offset="0.8356" stop-color="#1d0c43"/><stop offset="0.8415" stop-color="#1d0c43"/><stop offset="0.843" stop-color="#000004"/><stop offset="0.8504" stop-color="#010107"/><stop offset="0.8519" stop-color="#0f0725"/><stop offset="0.8609" stop-color="#0f0725"/><stop offset="0.8638" stop-color="#13092f"/><stop offset="0.8713" stop-color="#13092f"/><stop offset="0.8728" stop-color="#000004"/><stop offset="0.8966" stop-color="#05020e"/><stop offset="0.8981" stop-color="#000004"/><stop offset="0.9115" stop-color="#000005"/><stop offset="0.9159" stop-color="#050210"/><stop offset="0.9174" stop-color="#160a35"/><stop offset="0.9308" stop-color="#160a37"/><stop offset="0.9323" stop-color="#5c126c"/><stop offset="0.9382" stop-color="#6a176c"/><stop offset="0.9412" stop-color="#9d2962"/><stop offset="0.9501" stop-color="#a62d5f"/><stop offset="0.9516" stop-color="#bb3952"/><stop offset="0.9531" stop-color="#be3b50"/><stop offset="0.9546" stop-color="#000004"/><stop offset="0.974" stop-color="#020109"/><stop offset="0.9799" stop-color="#11082b"/><stop offset="0.9948" stop-color="#13082e"/><stop offset="1" stop-color="#190b3c"/></linearGradient>
<linearGradient id="h144" gradientUnits="userSpaceOnUse" x1="205" x2="2372.5" y1="0" y2="0"><stop offset="0" stop-color="#010107"/><stop offset="0.0126" stop-color="#020107"/><stop offset="0.0141" stop-color="#0c051f"/><stop offset="0.0484" stop-color="#13082e"/><stop offset="0.0543" stop-color="#13082e"/><stop offset="0.0558" stop-color="#000004"/><stop offset="0.1496" stop-color="#05020f"/><stop offset="0.1585" stop-color="#060312"/><stop offset="0.1615" stop-color="#0c051e"/><stop offset="0.224" stop-color="#0c0520"/><stop offset="0.2641" stop-color="#1e0c43"/><stop offset="0.2894" stop-color="#1f0c45"/><stop offset="0.3162" stop-color="#380c5b"/><stop offset="0.3906" stop-color="#4b0c6b"/><stop offset="0.4115" stop-color="#67166c"/><stop offset="0.4129" stop-color="#000004"/><stop offset="0.4249" stop-color="#090419"/><stop offset="0.4531" stop-color="#0a041a"/><stop offset="0.4546" stop-color="#000004"/><stop offset="0.4918" stop-color="#010005"/><stop offset="0.5037" stop-color="#060211"/><stop offset="0.5067" stop-color="#100727"/><stop offset="0.6094" stop-color="#1b0c41"/><stop offset="0.6823" stop-color="#210c46"/><stop offset="0.6942" stop-color="#3d0c5f"/><stop offset="0.7269" stop-color="#3e0c60"/><stop offset="0.7299" stop-color="#4a0c6b"/><stop offset="0.7418" stop-color="#791c6d"/><stop offset="0.8132" stop-color="#7e1e6b"/><stop offset="0.8177" stop-color="#7e1e6b"/><stop offset="0.8192" stop-color="#000004"/><stop offset="0.8504" stop-color="#000004"/><stop offset="0.8549" stop-color="#020109"/><stop offset="0.8579" stop-color="#0b051c"/><stop offset="0.8624" stop-color="#0f0727"/><stop offset="0.8698" stop-color="#13082e"/><stop offset="0.8713" stop-color="#13082e"/><stop offset="0.8728" stop-color="#000004"/><stop offset="0.8847" stop-color="#000004"/><stop offset="0.8906" stop-color="#090419"/><stop offset="0.8966" stop-color="#090419"/><stop offset="0.8981" stop-color="#000004"/><stop offset="0.9308" stop-color="#010005"/><stop offset="0.9397" stop-color="#0a041a"/><stop offset="0.9531" stop-color="#0a051b"/><stop offset="0.9546" stop-color="#000004"/><stop offset="1" stop-color="#060311"/></linearGradient>
<linearGradient id="h145" gradientUnits="userSpaceOnUse" x1="205" x2="2372.5" y1="0" y2="0"><stop offset="0" stop-color="#000004"/><stop offset="0.0409" stop-color="#05020f"/><stop offset="0.0499" stop-color="#0a041a"/><stop offset="0.0588" stop-color="#0a041a"/><stop offset="0.0603" stop-color="#000004"/><stop offset="0.16" stop-color="#020108"/><stop offset="0.1644" stop-color="#0a041b"/><stop offset="0.2359" stop-color="#0b051d"/><stop offset="0.3802" stop-color="#160a37"/><stop offset="0.3936" stop-color="#190b3e"/><stop offset="0.3951" stop-color="#230c48"/><stop offset="0.4353" stop-color="#420c64"/><stop offset="0.4427" stop-color="#510f6b"/><stop offset="0.4531" stop-color="#530f6b"/><stop offset="0.4546" stop-color="#000004"/><stop offset="0.4978" stop-color="#03010b"/><stop offset="0.4993" stop-color="#0f0726"/><stop offset="0.5052" stop-color="#140932"/><stop offset="0.6525" stop-color="#200c45"/><stop offset="0.654" stop-color="#290c4d"/><stop offset="0.6927" stop-color="#2e0c52"/><stop offset="0.6972" stop-color="#3b0c5e"/><stop offset="0.724" stop-color="#440c66"/><stop offset="0.7314" stop-color="#530f6b"/><stop offset="0.7374" stop-color="#731a6d"/><stop offset="0.7493" stop-color="#852169"/><stop offset="0.8118" stop-color="#8c2367"/><stop offset="0.8147" stop-color="#8c2367"/><stop offset="0.8162" stop-color="#000004"/><stop offset="0.8564" stop-color="#03010a"/><stop offset="0.8579" stop-color="#04020c"/><stop offset="0.8594" stop-color="#11082a"/><stop offset="0.8609" stop-color="#340c58"/><stop offset="0.8668" stop-color="#370c5a"/><stop offset="0.8728" stop-color="#380c5b"/><stop offset="0.8743" stop-color="#000004"/><stop offset="0.9606" stop-color="#000004"/><stop offset="0.968" stop-color="#03020c"/><stop offset="0.9695" stop-color="#0a041a"/><stop offset="0.9799" stop-color="#0b051c"/><stop offset="0.9829" stop-color="#160a36"/><stop offset="0.9933" stop-color="#1a0c3f"/><stop offset="0.9948" stop-color="#280c4d"/><stop offset="1" stop-color="#280c4d"/></linearGradient>
<linearGradient id="h146" gradientUnits="userSpaceOnUse" x1="205" x2="2372.5" y1="0" y2="0"><stop offset="0" stop-color="#000004"/><stop offset="0.0513" stop-color="#060311"/><stop offset="0.0603" stop-color="#060311"/><stop offset="0.0618" stop-color="#000004"/><stop offset="0.1287" stop-color="#04020c"/><stop offset="0.1302" stop-color="#04020d"/><stop offset="0.1317" stop-color="#0c051f"/><stop offset="0.1376" stop-color="#0c051f"/><stop offset="0.1391" stop-color="#11082a"/><stop offset="0.1644" stop-color="#180b3b"/><stop offset="0.3787" stop-color="#1e0c44"/><stop offset="0.3817" stop-color="#2f0c53"/><stop offset="0.3951" stop-color="#330c56"/><stop offset="0.3966" stop-color="#480c69"/><stop offset="0.3996" stop-color="#500e6b"/><stop offset="0.4338" stop-color="#61146c"/><stop offset="0.4353" stop-color="#7c1d6c"/><stop offset="0.4368" stop-color="#7f1e6b"/><stop offset="0.4382" stop-color="#aa2f5d"/><stop offset="0.4412" stop-color="#c13c4f"/><stop offset="0.4531" stop-color="#c63f4c"/><stop offset="0.4546" stop-color="#000004"/><stop offset="0.4888" stop-color="#000005"/><stop offset="0.4993" stop-color="#04020e"/><stop offset="0.5022" stop-color="#0c0620"/><stop offset="0.5037" stop-color="#1c0c42"/><stop offset="0.5662" stop-color="#280c4d"/><stop offset="0.5692" stop-color="#330c56"/><stop offset="0.599" stop-color="#3f0c61"/><stop offset="0.6034" stop-color="#500e6b"/><stop offset="0.651" stop-color="#55106b"/><stop offset="0.657" stop-color="#6b176c"/><stop offset="0.6659" stop-color="#731a6d"/><stop offset="0.6957" stop-color="#781c6d"/><stop offset="0.6972" stop-color="#8c2367"/><stop offset="0.7254" stop-color="#b03259"/><stop offset="0.7418" stop-color="#b03259"/><stop offset="0.7522" stop-color="#c03b50"/><stop offset="0.7969" stop-color="#d24743"/><stop offset="0.8028" stop-color="#e15a32"/><stop offset="0.8103" stop-color="#e7622c"/><stop offset="0.8132" stop-color="#e7622c"/><stop offset="0.8147" stop-color="#000004"/><stop offset="0.8594" stop-color="#020108"/><stop offset="0.8609" stop-color="#0e0623"/><stop offset="0.8713" stop-color="#0e0624"/><stop offset="0.8728" stop-color="#0e0624"/><stop offset="0.8743" stop-color="#000004"/><stop offset="0.9353" stop-color="#000004"/><stop offset="0.9368" stop-color="#070315"/><stop offset="0.9457" stop-color="#070315"/><stop offset="0.9472" stop-color="#000004"/><stop offset="0.9591" stop-color="#000004"/><stop offset="0.9695" stop-color="#03010a"/><stop offset="0.971" stop-color="#110729"/><stop offset="0.9725" stop-color="#140931"/><stop offset="0.9814" stop-color="#140931"/><stop offset="0.9874" stop-color="#260c4b"/><stop offset="1" stop-color="#260c4b"/></linearGradient>
<linearGradient id="h147" gradientUnits="userSpaceOnUse" x1="205" x2="2372.5" y1="0" y2="0"><stop offset="0" stop-color="#000004"/><stop offset="0.0275" stop-color="#04020e"/><stop offset="0.0379" stop-color="#090417"/><stop offset="0.0394" stop-color="#12082d"/><stop offset="0.0409" stop-color="#130930"/><stop offset="0.0588" stop-color="#180b3a"/><stop offset="0.1272" stop-color="#250c4a"/><stop offset="0.1317" stop-color="#350c59"/><stop offset="0.1376" stop-color="#370c5a"/><stop offset="0.1391" stop-color="#6b176c"/><stop offset="0.1436" stop-color="#6c186c"/><stop offset="0.1466" stop-color="#7b1d6c"/><stop offset="0.3311" stop-color="#82206a"/><stop offset="0.3772" stop-color="#952665"/><stop offset="0.3802" stop-color="#b93754"/><stop offset="0.3951" stop-color="#c03c4f"/><stop offset="0.3981" stop-color="#cb4248"/><stop offset="0.4531" stop-color="#db5339"/><stop offset="0.4546" stop-color="#000004"/><stop offset="0.4874" stop-color="#03010b"/><stop offset="0.5171" stop-color="#12082d"/><stop offset="0.5662" stop-color="#180b3b"/><stop offset="0.5707" stop-color="#3f0c61"/><stop offset="0.599" stop-color="#510e6b"/><stop offset="0.6019" stop-color="#63156c"/><stop offset="0.6034" stop-color="#862169"/><stop offset="0.6064" stop-color="#902566"/><stop offset="0.6496" stop-color="#902566"/><stop offset="0.651" stop-color="#a22b61"/><stop offset="0.6555" stop-color="#a42b60"/><stop offset="0.657" stop-color="#bc3952"/><stop offset="0.6659" stop-color="#cc4248"/><stop offset="0.6674" stop-color="#ef7021"/><stop offset="0.7031" stop-color="#f1761d"/><stop offset="0.7165" stop-color="#f58712"/><stop offset="0.7507" stop-color="#f58712"/><stop offset="0.7686" stop-color="#fb9b06"/><stop offset="0.779" stop-color="#faa813"/><stop offset="0.7865" stop-color="#f8c32f"/><stop offset="0.8132" stop-color="#f8c32f"/><stop offset="0.8147" stop-color="#000004"/><stop offset="0.8445" stop-color="#000004"/><stop offset="0.846" stop-color="#070314"/><stop offset="0.8504" stop-color="#0c051e"/><stop offset="0.8817" stop-color="#0c051f"/><stop offset="0.91" stop-color="#190b3d"/><stop offset="0.9115" stop-color="#000004"/><stop offset="0.9695" stop-color="#000004"/><stop offset="0.971" stop-color="#ad315b"/><stop offset="0.9725" stop-color="#ae315a"/><stop offset="0.9769" stop-color="#ae315a"/><stop offset="0.9784" stop-color="#000004"/><stop offset="1" stop-color="#000004"/></linearGradient>
<linearGradient id="h148" gradientUnits="userSpaceOnUse" x1="205" x2="2372.5" y1="0" y2="0"><stop offset="0" stop-color="#000004"/><stop offset="0.026" stop-color="#060211"/><stop offset="0.0365" stop-color="#0a051b"/><stop offset="0.0394" stop-color="#11082c"/><stop offset="0.0558" stop-color="#12082d"/><stop offset="0.0573" stop-color="#160a36"/><stop offset="0.0722" stop-color="#180a39"/><stop offset="0.0796" stop-color="#210c47"/><stop offset="0.1198" stop-color="#240c49"/><stop offset="0.1376" stop-color="#3b0c5e"/><stop offset="0.3743" stop-color="#490c6a"/><stop offset="0.3787" stop-color="#68166c"/><stop offset="0.3832" stop-color="#69176c"/><stop offset="0.3847" stop-color="#842069"/><stop offset="0.4025" stop-color="#9c2963"/><stop offset="0.407" stop-color="#b93754"/><stop offset="0.4115" stop-color="#bb3852"/><stop offset="0.4129" stop-color="#c7404b"/><stop offset="0.4531" stop-color="#d24843"/><stop offset="0.4546" stop-color="#000004"/><stop offset="0.4933" stop-color="#04020e"/><stop offset="0.4948" stop-color="#070314"/><stop offset="0.4963" stop-color="#13092f"/><stop offset="0.5052" stop-color="#140930"/><stop offset="0.5067" stop-color="#200c45"/><stop offset="0.5112" stop-color="#3f0c61"/><stop offset="0.5201" stop-color="#420c64"/><stop offset="0.5692" stop-color="#510e6b"/><stop offset="0.5707" stop-color="#56106c"/><stop offset="0.5722" stop-color="#771c6d"/><stop offset="0.5751" stop-color="#7c1d6c"/><stop offset="0.6049" stop-color="#82206a"/><stop offset="0.6064" stop-color="#8c2367"/><stop offset="0.6451" stop-color="#8d2367"/><stop offset="0.6659" stop-color="#9b2963"/><stop offset="0.6674" stop-color="#cc4348"/><stop offset="0.6749" stop-color="#ce4347"/><stop offset="0.6838" stop-color="#ce4347"/><stop offset="0.6853" stop-color="#000004"/><stop offset="0.7061" stop-color="#000004"/><stop offset="0.7121" stop-color="#160a35"/><stop offset="0.7552" stop-color="#160a36"/><stop offset="0.7626" stop-color="#370c5a"/><stop offset="0.7641" stop-color="#520f6b"/><stop offset="0.7805" stop-color="#520f6b"/><stop offset="0.785" stop-color="#6d186d"/><stop offset="0.7894" stop-color="#781c6d"/><stop offset="0.8118" stop-color="#781c6d"/><stop offset="0.8132" stop-color="#000004"/><stop offset="0.849" stop-color="#000004"/><stop offset="0.8519" stop-color="#070314"/><stop offset="0.8906" stop-color="#0b051c"/><stop offset="0.91" stop-color="#11082b"/><stop offset="0.9115" stop-color="#000004"/><stop offset="1" stop-color="#000004"/></linearGradient>
<linearGradient id="h149" gradientUnits="userSpaceOnUse" x1="205" x2="2372.5" y1="0" y2="0"><stop offset="0" stop-color="#000004"/><stop offset="0.0126" stop-color="#000004"/><stop offset="0.0141" stop-color="#260c4b"/><stop offset="0.026" stop-color="#2a0c4f"/><stop offset="0.0275" stop-color="#430c65"/><stop offset="0.0379" stop-color="#4c0d6b"/><stop offset="0.0543" stop-color="#4e0d6b"/><stop offset="0.0632" stop-color="#5f136c"/><stop offset="0.0751" stop-color="#64156c"/><stop offset="0.1198" stop-color="#69176c"/><stop offset="0.1347" stop-color="#771c6d"/><stop offset="0.1376" stop-color="#862169"/><stop offset="0.3311" stop-color="#8e2467"/><stop offset="0.3743" stop-color="#9f2a62"/><stop offset="0.3757" stop-color="#bb3853"/><stop offset="0.401" stop-color="#c8404a"/><stop offset="0.41" stop-color="#d64d3e"/><stop offset="0.4561" stop-color="#e25b31"/><stop offset="0.4576" stop-color="#000004"/><stop offset="0.4918" stop-color="#010006"/><stop offset="0.4963" stop-color="#070313"/><stop offset="0.4978" stop-color="#100728"/><stop offset="0.5037" stop-color="#100728"/><stop offset="0.5052" stop-color="#140931"/><stop offset="0.5067" stop-color="#3d0c60"/><stop offset="0.5186" stop-color="#470c68"/><stop offset="0.5201" stop-color="#4c0d6b"/><stop offset="0.5216" stop-color="#68166c"/><stop offset="0.5305" stop-color="#6a176c"/><stop offset="0.532" stop-color="#000004"/><stop offset="0.5603" stop-color="#010006"/><stop offset="0.5647" stop-color="#080316"/><stop offset="0.5707" stop-color="#080416"/><stop offset="0.5737" stop-color="#0e0625"/><stop offset="0.6317" stop-color="#0f0726"/><stop offset="0.6332" stop-color="#190b3d"/><stop offset="0.6347" stop-color="#400c62"/><stop offset="0.6496" stop-color="#4e0e6b"/><stop offset="0.6734" stop-color="#500e6b"/><stop offset="0.6749" stop-color="#5a126c"/><stop offset="0.6823" stop-color="#5a126c"/><stop offset="0.6838" stop-color="#000004"/><stop offset="0.7582" stop-color="#000004"/><stop offset="0.7626" stop-color="#0f0726"/><stop offset="0.8103" stop-color="#0f0726"/><stop offset="0.8118" stop-color="#000004"/><stop offset="0.8281" stop-color="#000004"/><stop offset="0.8296" stop-color="#04020e"/><stop offset="0.8504" stop-color="#000004"/><stop offset="0.8519" stop-color="#0c0620"/><stop offset="0.8549" stop-color="#0c0620"/><stop offset="0.8579" stop-color="#150933"/><stop offset="0.8609" stop-color="#150933"/><stop offset="0.8624" stop-color="#1b0c41"/><stop offset="0.8653" stop-color="#220c48"/><stop offset="0.8757" stop-color="#270c4b"/><stop offset="0.8772" stop-color="#3a0c5d"/><stop offset="0.8876" stop-color="#3e0c60"/><stop offset="0.8906" stop-color="#4a0c6b"/><stop offset="0.8981" stop-color="#4a0c6b"/><stop offset="0.8996" stop-color="#5c126c"/><stop offset="0.904" stop-color="#5d136c"/><stop offset="0.91" stop-color="#5d136c"/><stop offset="0.9115" stop-color="#000004"/><stop offset="1" stop-color="#000004"/></linearGradient>
<linearGradient id="h150" gradientUnits="userSpaceOnUse" x1="205" x2="2372.5" y1="0" y2="0"><stop offset="0" stop-color="#000004"/><stop offset="0.0126" stop-color="#000004"/><stop offset="0.0156" stop-color="#0b051c"/><stop offset="0.0424" stop-color="#12082d"/><stop offset="0.0499" stop-color="#200c46"/><stop offset="0.1138" stop-color="#250c4a"/><stop offset="0.1183" stop-color="#280c4c"/><stop offset="0.1198" stop-color="#430c65"/><stop offset="0.3311" stop-color="#4a0c6b"/><stop offset="0.3906" stop-color="#5c126c"/><stop offset="0.3936" stop-color="#66166c"/><stop offset="0.3951" stop-color="#8b2367"/><stop offset="0.3996" stop-color="#8d2367"/><stop offset="0.401" stop-color="#a42b60"/><stop offset="0.4144" stop-color="#b13359"/><stop offset="0.4174" stop-color="#bf3b50"/><stop offset="0.4219" stop-color="#c23d4e"/><stop offset="0.4234" stop-color="#ce4347"/><stop offset="0.4561" stop-color="#d34a41"/><stop offset="0.4576" stop-color="#000004"/><stop offset="0.4978" stop-color="#050210"/><stop offset="0.4993" stop-color="#180b3a"/><stop offset="0.5037" stop-color="#180b3a"/><stop offset="0.5052" stop-color="#240c49"/><stop offset="0.5201" stop-color="#280c4d"/><stop offset="0.5216" stop-color="#3f0c61"/><stop offset="0.5305" stop-color="#400c62"/><stop offset="0.532" stop-color="#000004"/><stop offset="0.5871" stop-color="#03010a"/><stop offset="0.59" stop-color="#0b051c"/><stop offset="0.6317" stop-color="#100728"/><stop offset="0.6332" stop-color="#160a35"/><stop offset="0.6347" stop-color="#2d0c51"/><stop offset="0.6391" stop-color="#3d0c5f"/><stop offset="0.6406" stop-color="#69176c"/><stop offset="0.6421" stop-color="#70196d"/><stop offset="0.6659" stop-color="#7e1e6b"/><stop offset="0.6763" stop-color="#7e1e6b"/><stop offset="0.6778" stop-color="#000004"/><stop offset="0.8162" stop-color="#000004"/><stop offset="0.8266" stop-color="#020108"/><stop offset="0.8296" stop-color="#12082d"/><stop offset="0.8311" stop-color="#13082f"/><stop offset="0.8341" stop-color="#13082f"/><stop offset="0.8356" stop-color="#000004"/><stop offset="0.8519" stop-color="#010005"/><stop offset="0.8549" stop-color="#060311"/><stop offset="0.8579" stop-color="#190b3c"/><stop offset="0.8594" stop-color="#3c0c5f"/><stop offset="0.8609" stop-color="#6a176c"/><stop offset="0.8772" stop-color="#962764"/><stop offset="0.8891" stop-color="#962764"/><stop offset="0.8906" stop-color="#a52c60"/><stop offset="0.8996" stop-color="#ad315b"/><stop offset="0.91" stop-color="#ad315b"/><stop offset="0.9115" stop-color="#000004"/><stop offset="1" stop-color="#000004"/></linearGradient>
<linearGradient id="h151" gradientUnits="userSpaceOnUse" x1="205" x2="2372.5" y1="0" y2="0"><stop offset="0" stop-color="#000004"/><stop offset="0.0513" stop-color="#070314"/><stop offset="0.1153" stop-color="#090417"/><stop offset="0.1198" stop-color="#0d0621"/><stop offset="0.3594" stop-color="#0f0725"/><stop offset="0.3609" stop-color="#13082e"/><stop offset="0.3936" stop-color="#150932"/><stop offset="0.3996" stop-color="#1e0c44"/><stop offset="0.41" stop-color="#1f0c45"/><stop offset="0.4159" stop-color="#2b0c4f"/><stop offset="0.4561" stop-color="#320c55"/><stop offset="0.4576" stop-color="#000004"/><stop offset="0.4978" stop-color="#03010b"/><stop offset="0.5022" stop-color="#0b051c"/><stop offset="0.5037" stop-color="#160a35"/><stop offset="0.5305" stop-color="#1b0c41"/><stop offset="0.532" stop-color="#000004"/><stop offset="0.5871" stop-color="#05020f"/><stop offset="0.5915" stop-color="#0d0622"/><stop offset="0.6138" stop-color="#0e0623"/><stop offset="0.6183" stop-color="#170a39"/><stop offset="0.6257" stop-color="#1c0c42"/><stop offset="0.6719" stop-color="#2f0c53"/><stop offset="0.6749" stop-color="#2f0c53"/><stop offset="0.6763" stop-color="#000004"/><stop offset="0.8147" stop-color="#000004"/><stop offset="0.8237" stop-color="#04020d"/><stop offset="0.8266" stop-color="#0b051d"/><stop offset="0.8326" stop-color="#0e0624"/><stop offset="0.8579" stop-color="#0f0727"/><stop offset="0.8594" stop-color="#170a38"/><stop offset="0.8609" stop-color="#410c63"/><stop offset="0.9085" stop-color="#450c66"/><stop offset="0.91" stop-color="#450c66"/><stop offset="0.9115" stop-color="#000004"/><stop offset="0.9204" stop-color="#010006"/><stop offset="0.9278" stop-color="#0f0727"/><stop offset="0.9338" stop-color="#0f0727"/><stop offset="0.9353" stop-color="#000004"/><stop offset="1" stop-color="#000004"/></linearGradient>
<linearGradient id="h152" gradientUnits="userSpaceOnUse" x1="205" x2="2372.5" y1="0" y2="0"><stop offset="0" stop-color="#000004"/><stop offset="0.035" stop-color="#000004"/><stop offset="0.0379" stop-color="#010005"/><stop offset="0.0409" stop-color="#080316"/><stop offset="0.096" stop-color="#0e0623"/><stop offset="0.3579" stop-color="#11082a"/><stop offset="0.3594" stop-color="#150932"/><stop offset="0.3609" stop-color="#2c0c51"/><stop offset="0.3624" stop-color="#310c55"/><stop offset="0.3951" stop-color="#370c5a"/><stop offset="0.3966" stop-color="#56106c"/><stop offset="0.3996" stop-color="#62146c"/><stop offset="0.4561" stop-color="#721a6d"/><stop offset="0.4576" stop-color="#000004"/><stop offset="0.4888" stop-color="#03020c"/><stop offset="0.5067" stop-color="#0e0624"/><stop offset="0.5082" stop-color="#000004"/><stop offset="0.5305" stop-color="#090419"/><stop offset="0.532" stop-color="#000004"/><stop offset="0.5454" stop-color="#000004"/><stop offset="0.5499" stop-color="#080417"/><stop offset="0.5528" stop-color="#080417"/><stop offset="0.5558" stop-color="#11072a"/><stop offset="0.5662" stop-color="#12082d"/><stop offset="0.5677" stop-color="#180b3b"/><stop offset="0.5692" stop-color="#2d0c51"/><stop offset="0.5707" stop-color="#320c56"/><stop offset="0.5856" stop-color="#350c58"/><stop offset="0.59" stop-color="#400c62"/><stop offset="0.5915" stop-color="#751b6d"/><stop offset="0.5975" stop-color="#761b6d"/><stop offset="0.599" stop-color="#84206a"/><stop offset="0.6168" stop-color="#882268"/><stop offset="0.6183" stop-color="#b33458"/><stop offset="0.6272" stop-color="#cf4446"/><stop offset="0.6496" stop-color="#cf4446"/><stop offset="0.6644" stop-color="#e25c31"/><stop offset="0.6659" stop-color="#e25c31"/><stop offset="0.6674" stop-color="#000004"/><stop offset="0.8207" stop-color="#020109"/><stop offset="0.8237" stop-color="#0c051f"/><stop offset="0.8251" stop-color="#320c56"/><stop offset="0.8311" stop-color="#370c5a"/><stop offset="0.8326" stop-color="#4f0e6b"/><stop offset="0.8341" stop-color="#7a1d6c"/><stop offset="0.8996" stop-color="#7f1e6b"/><stop offset="0.9174" stop-color="#8d2467"/><stop offset="0.9189" stop-color="#ad305b"/><stop offset="0.9204" stop-color="#bd3a51"/><stop offset="0.9293" stop-color="#c43e4d"/><stop offset="0.9338" stop-color="#c43e4d"/><stop offset="0.9353" stop-color="#000004"/><stop offset="0.9442" stop-color="#000004"/><stop offset="0.9487" stop-color="#0b051e"/><stop offset="0.9576" stop-color="#0d0620"/><stop offset="0.9591" stop-color="#300c53"/><stop offset="0.9606" stop-color="#000004"/><stop offset="1" stop-color="#000004"/></linearGradient>
<linearGradient id="h153" gradientUnits="userSpaceOnUse" x1="205" x2="2372.5" y1="0" y2="0"><stop offset="0" stop-color="#000004"/><stop offset="0.035" stop-color="#000004"/><stop offset="0.0394" stop-color="#060312"/><stop offset="0.0945" stop-color="#090419"/><stop offset="0.3519" stop-color="#0a051b"/><stop offset="0.3638" stop-color="#170a37"/><stop offset="0.3966" stop-color="#190b3c"/><stop offset="0.3981" stop-color="#250c4a"/><stop offset="0.4115" stop-color="#270c4b"/><stop offset="0.4144" stop-color="#370c5a"/><stop offset="0.4576" stop-color="#3e0c60"/><stop offset="0.4591" stop-color="#000004"/><stop offset="0.5231" stop-color="#000005"/><stop offset="0.5305" stop-color="#060312"/><stop offset="0.532" stop-color="#000004"/><stop offset="0.5499" stop-color="#000005"/><stop offset="0.5588" stop-color="#080417"/><stop offset="0.5692" stop-color="#0a051b"/><stop offset="0.5722" stop-color="#140931"/><stop offset="0.6183" stop-color="#2b0c50"/><stop offset="0.6272" stop-color="#370c5a"/><stop offset="0.6317" stop-color="#490c6b"/><stop offset="0.6481" stop-color="#4a0c6b"/><stop offset="0.6644" stop-color="#5a116c"/><stop offset="0.6659" stop-color="#000004"/><stop offset="0.8326" stop-color="#010006"/><stop offset="0.8341" stop-color="#0d0621"/><stop offset="0.8356" stop-color="#110729"/><stop offset="0.8966" stop-color="#12082c"/><stop offset="0.9159" stop-color="#180a39"/><stop offset="0.9174" stop-color="#1f0c44"/><stop offset="0.9189" stop-color="#360c59"/><stop offset="0.9397" stop-color="#3e0c60"/><stop offset="0.9501" stop-color="#64156c"/><stop offset="0.9516" stop-color="#721a6d"/><stop offset="0.9591" stop-color="#731a6d"/><stop offset="0.9606" stop-color="#000004"/><stop offset="1" stop-color="#000004"/></linearGradient>
<linearGradient id="h154" gradientUnits="userSpaceOnUse" x1="205" x2="2372.5" y1="0" y2="0"><stop offset="0" stop-color="#000004"/><stop offset="0.0365" stop-color="#000004"/><stop offset="0.0379" stop-color="#04020d"/><stop offset="0.0558" stop-color="#05020e"/><stop offset="0.0573" stop-color="#0a041a"/><stop offset="0.0632" stop-color="#0d0621"/><stop offset="0.0915" stop-color="#0e0624"/><stop offset="0.349" stop-color="#100728"/><stop offset="0.3683" stop-color="#160a36"/><stop offset="0.4115" stop-color="#180b3b"/><stop offset="0.4129" stop-color="#280c4d"/><stop offset="0.4576" stop-color="#2f0c53"/><stop offset="0.4591" stop-color="#000004"/><stop offset="0.5186" stop-color="#000004"/><stop offset="0.5216" stop-color="#060312"/><stop offset="0.5305" stop-color="#060313"/><stop offset="0.532" stop-color="#000004"/><stop offset="0.5499" stop-color="#000004"/><stop offset="0.5707" stop-color="#060311"/><stop offset="0.5722" stop-color="#0d0622"/><stop offset="0.5856" stop-color="#13092f"/><stop offset="0.6034" stop-color="#150a34"/><stop offset="0.6049" stop-color="#230c48"/><stop offset="0.6287" stop-color="#280c4c"/><stop offset="0.6347" stop-color="#410c63"/><stop offset="0.6496" stop-color="#480c69"/><stop offset="0.6644" stop-color="#480c69"/><stop offset="0.6659" stop-color="#000004"/><stop offset="0.6838" stop-color="#000004"/><stop offset="0.6853" stop-color="#070313"/><stop offset="0.6927" stop-color="#100728"/><stop offset="0.7061" stop-color="#100728"/><stop offset="0.7076" stop-color="#000004"/><stop offset="0.8341" stop-color="#000004"/><stop offset="0.8356" stop-color="#070314"/><stop offset="0.8981" stop-color="#090419"/><stop offset="0.9308" stop-color="#100729"/><stop offset="0.9323" stop-color="#1c0c42"/><stop offset="0.9382" stop-color="#210c46"/><stop offset="0.9412" stop-color="#300c54"/><stop offset="0.974" stop-color="#410c63"/><stop offset="0.9799" stop-color="#58116c"/><stop offset="0.9948" stop-color="#5d126c"/><stop offset="1" stop-color="#6b176c"/></linearGradient>
<linearGradient id="h155" gradientUnits="userSpaceOnUse" x1="205" x2="2372.5" y1="0" y2="0"><stop offset="0" stop-color="#020109"/><stop offset="0.3504" stop-color="#070314"/><stop offset="0.4531" stop-color="#0c051e"/><stop offset="0.4635" stop-color="#100727"/><stop offset="0.465" stop-color="#000004"/><stop offset="0.5171" stop-color="#000004"/><stop offset="0.5201" stop-color="#000005"/><stop offset="0.5216" stop-color="#0f0727"/><stop offset="0.529" stop-color="#0f0727"/><stop offset="0.5305" stop-color="#000004"/><stop offset="0.535" stop-color="#060311"/><stop offset="0.5365" stop-color="#000004"/><stop offset="0.5603" stop-color="#000005"/><stop offset="0.6317" stop-color="#0a051c"/><stop offset="0.6332" stop-color="#12082c"/><stop offset="0.6347" stop-color="#2c0c50"/><stop offset="0.6391" stop-color="#320c55"/><stop offset="0.6406" stop-color="#460c68"/><stop offset="0.6525" stop-color="#4f0e6b"/><stop offset="0.654" stop-color="#000004"/><stop offset="0.6823" stop-color="#010006"/><stop offset="0.6868" stop-color="#05020f"/><stop offset="0.6897" stop-color="#130930"/><stop offset="0.6942" stop-color="#180b3b"/><stop offset="0.7254" stop-color="#1a0b3e"/><stop offset="0.7284" stop-color="#280c4d"/><stop offset="0.7329" stop-color="#540f6b"/><stop offset="0.7359" stop-color="#6b176c"/><stop offset="0.7403" stop-color="#a32b61"/><stop offset="0.7597" stop-color="#a72d5f"/><stop offset="0.7612" stop-color="#000004"/><stop offset="0.8266" stop-color="#020108"/><stop offset="0.8296" stop-color="#0d0621"/><stop offset="0.8728" stop-color="#0e0623"/><stop offset="0.8757" stop-color="#11082b"/><stop offset="0.8772" stop-color="#1c0c42"/><stop offset="0.8847" stop-color="#1e0c44"/><stop offset="0.8862" stop-color="#2a0c4f"/><stop offset="0.8981" stop-color="#2a0c4f"/><stop offset="0.8996" stop-color="#3a0c5d"/><stop offset="0.9338" stop-color="#3b0c5d"/><stop offset="0.9353" stop-color="#4b0c6b"/><stop offset="0.9397" stop-color="#510e6b"/><stop offset="0.9561" stop-color="#510e6b"/><stop offset="0.9576" stop-color="#5a126c"/><stop offset="0.968" stop-color="#5f136c"/><stop offset="0.9725" stop-color="#69176c"/><stop offset="0.974" stop-color="#781c6d"/><stop offset="0.9799" stop-color="#7b1d6c"/><stop offset="0.9814" stop-color="#8b2368"/><stop offset="0.9918" stop-color="#8f2466"/><stop offset="0.9948" stop-color="#a52c60"/><stop offset="1" stop-color="#b03259"/></linearGradient>
<linearGradient id="h156" gradientUnits="userSpaceOnUse" x1="205" x2="2372.5" y1="0" y2="0"><stop offset="0" stop-color="#000004"/><stop offset="0.3802" stop-color="#020109"/><stop offset="0.4353" stop-color="#05020e"/><stop offset="0.4412" stop-color="#0a041b"/><stop offset="0.4635" stop-color="#0d0621"/><stop offset="0.465" stop-color="#000004"/><stop offset="0.5811" stop-color="#000004"/><stop offset="0.5871" stop-color="#010107"/><stop offset="0.59" stop-color="#090419"/><stop offset="0.6064" stop-color="#0a041a"/><stop offset="0.6079" stop-color="#100728"/><stop offset="0.6138" stop-color="#100728"/><stop offset="0.6168" stop-color="#180a39"/><stop offset="0.6347" stop-color="#190b3c"/><stop offset="0.6421" stop-color="#260c4b"/><stop offset="0.651" stop-color="#260c4b"/><stop offset="0.6525" stop-color="#000004"/><stop offset="0.6927" stop-color="#03020c"/><stop offset="0.6942" stop-color="#04020e"/><stop offset="0.6972" stop-color="#180b3b"/><stop offset="0.7195" stop-color="#200c45"/><stop offset="0.7269" stop-color="#410c63"/><stop offset="0.7314" stop-color="#460c68"/><stop offset="0.7329" stop-color="#540f6b"/><stop offset="0.7359" stop-color="#721a6d"/><stop offset="0.7418" stop-color="#791c6d"/><stop offset="0.7463" stop-color="#982764"/><stop offset="0.7507" stop-color="#a12b61"/><stop offset="0.7984" stop-color="#a92e5d"/><stop offset="0.8103" stop-color="#c13c4e"/><stop offset="0.8251" stop-color="#cb4248"/><stop offset="0.8311" stop-color="#dc5438"/><stop offset="0.9204" stop-color="#de5735"/><stop offset="0.9263" stop-color="#ed6b24"/><stop offset="0.9338" stop-color="#ed6b24"/><stop offset="0.9368" stop-color="#f1761d"/><stop offset="0.9799" stop-color="#f58414"/><stop offset="0.9829" stop-color="#f8900d"/><stop offset="1" stop-color="#fb9c07"/></linearGradient>
<linearGradient id="h157" gradientUnits="userSpaceOnUse" x1="205" x2="2372.5" y1="0" y2="0"><stop offset="0" stop-color="#000004"/><stop offset="0.3787" stop-color="#010006"/><stop offset="0.3832" stop-color="#050210"/><stop offset="0.4338" stop-color="#060312"/><stop offset="0.4353" stop-color="#0e0624"/><stop offset="0.4368" stop-color="#0f0726"/><stop offset="0.4382" stop-color="#1f0c45"/><stop offset="0.4427" stop-color="#380c5b"/><stop offset="0.4635" stop-color="#3b0c5e"/><stop offset="0.465" stop-color="#000004"/><stop offset="0.5439" stop-color="#000004"/><stop offset="0.5647" stop-color="#070313"/><stop offset="0.5662" stop-color="#000004"/><stop offset="0.5811" stop-color="#000004"/><stop offset="0.59" stop-color="#05020f"/><stop offset="0.5915" stop-color="#100728"/><stop offset="0.599" stop-color="#12082d"/><stop offset="0.6019" stop-color="#160a36"/><stop offset="0.6034" stop-color="#240c49"/><stop offset="0.6168" stop-color="#270c4b"/><stop offset="0.6183" stop-color="#380c5b"/><stop offset="0.6272" stop-color="#4f0e6b"/><stop offset="0.6496" stop-color="#4f0e6b"/><stop offset="0.651" stop-color="#000004"/><stop offset="0.6957" stop-color="#010005"/><stop offset="0.7046" stop-color="#070314"/><stop offset="0.7716" stop-color="#140931"/><stop offset="0.779" stop-color="#1e0c44"/><stop offset="0.7969" stop-color="#260c4b"/><stop offset="0.7999" stop-color="#380c5b"/><stop offset="0.8088" stop-color="#480c6a"/><stop offset="0.8237" stop-color="#4e0d6b"/><stop offset="0.8266" stop-color="#5d136c"/><stop offset="0.8341" stop-color="#64156c"/><stop offset="0.9189" stop-color="#67166c"/><stop offset="0.9263" stop-color="#791c6d"/><stop offset="0.9695" stop-color="#872169"/><stop offset="0.971" stop-color="#a02a61"/><stop offset="0.9725" stop-color="#a32b61"/><stop offset="1" stop-color="#af325a"/></linearGradient>
<linearGradient id="h158" gradientUnits="userSpaceOnUse" x1="205" x2="2372.5" y1="0" y2="0"><stop offset="0" stop-color="#000004"/><stop offset="0.3772" stop-color="#05020e"/><stop offset="0.3832" stop-color="#0e0623"/><stop offset="0.4278" stop-color="#100728"/><stop offset="0.4635" stop-color="#190b3c"/><stop offset="0.465" stop-color="#010006"/><stop offset="0.4665" stop-color="#000004"/><stop offset="0.5126" stop-color="#03010b"/><stop offset="0.5231" stop-color="#000004"/><stop offset="0.526" stop-color="#05020e"/><stop offset="0.5275" stop-color="#000004"/><stop offset="0.5454" stop-color="#000004"/><stop offset="0.5647" stop-color="#060312"/><stop offset="0.5662" stop-color="#000004"/><stop offset="0.5856" stop-color="#000004"/><stop offset="0.6049" stop-color="#090419"/><stop offset="0.6064" stop-color="#0f0726"/><stop offset="0.6183" stop-color="#12082c"/><stop offset="0.6213" stop-color="#180a39"/><stop offset="0.6317" stop-color="#210c47"/><stop offset="0.6466" stop-color="#210c47"/><stop offset="0.6481" stop-color="#000004"/><stop offset="0.6659" stop-color="#000004"/><stop offset="0.6674" stop-color="#400c62"/><stop offset="0.6689" stop-color="#400c62"/><stop offset="0.6704" stop-color="#000004"/><stop offset="0.7046" stop-color="#020108"/><stop offset="0.715" stop-color="#0e0623"/><stop offset="0.7507" stop-color="#0e0623"/><stop offset="0.7626" stop-color="#13082f"/><stop offset="0.7656" stop-color="#1a0b3e"/><stop offset="0.7775" stop-color="#1f0c45"/><stop offset="0.7805" stop-color="#240c49"/><stop offset="0.7865" stop-color="#480c69"/><stop offset="0.7954" stop-color="#64156c"/><stop offset="0.8311" stop-color="#721a6d"/><stop offset="0.8326" stop-color="#751b6d"/><stop offset="0.8341" stop-color="#9a2863"/><stop offset="0.9174" stop-color="#a72d5f"/><stop offset="0.9189" stop-color="#c8404a"/><stop offset="0.9204" stop-color="#cc4248"/><stop offset="0.9427" stop-color="#cf4446"/><stop offset="0.9516" stop-color="#e5602d"/><stop offset="0.9695" stop-color="#ec6726"/><stop offset="0.971" stop-color="#fb9f0a"/><stop offset="0.9769" stop-color="#fb9f0a"/><stop offset="0.9784" stop-color="#faad18"/><stop offset="1" stop-color="#faae19"/></linearGradient>
<linearGradient id="h159" gradientUnits="userSpaceOnUse" x1="205" x2="2372.5" y1="0" y2="0"><stop offset="0" stop-color="#000004"/><stop offset="0.0841" stop-color="#050210"/><stop offset="0.3743" stop-color="#060312"/><stop offset="0.3847" stop-color="#0f0727"/><stop offset="0.4025" stop-color="#12082c"/><stop offset="0.407" stop-color="#160a37"/><stop offset="0.465" stop-color="#1e0c44"/><stop offset="0.4665" stop-color="#000004"/><stop offset="0.4933" stop-color="#000004"/><stop offset="0.5052" stop-color="#05020f"/><stop offset="0.5067" stop-color="#0b051c"/><stop offset="0.5112" stop-color="#100728"/><stop offset="0.5156" stop-color="#100728"/><stop offset="0.5171" stop-color="#000004"/><stop offset="0.5915" stop-color="#010107"/><stop offset="0.6317" stop-color="#0e0623"/><stop offset="0.6332" stop-color="#000004"/><stop offset="0.6659" stop-color="#000004"/><stop offset="0.6674" stop-color="#070314"/><stop offset="0.6689" stop-color="#080315"/><stop offset="0.6704" stop-color="#000004"/><stop offset="0.6838" stop-color="#000005"/><stop offset="0.7121" stop-color="#060311"/><stop offset="0.7552" stop-color="#060311"/><stop offset="0.7641" stop-color="#0e0625"/><stop offset="0.9144" stop-color="#180b3b"/><stop offset="0.9174" stop-color="#1f0c45"/><stop offset="0.9308" stop-color="#200c45"/><stop offset="0.9323" stop-color="#2b0c4f"/><stop offset="0.9531" stop-color="#440c66"/><stop offset="0.974" stop-color="#470c68"/><stop offset="0.9799" stop-color="#5b126c"/><stop offset="1" stop-color="#60146c"/></linearGradient>
<linearGradient id="h160" gradientUnits="userSpaceOnUse" x1="205" x2="2372.5" y1="0" y2="0"><stop offset="0" stop-color="#000004"/><stop offset="0.0126" stop-color="#000004"/><stop offset="0.0141" stop-color="#12082c"/><stop offset="0.026" stop-color="#130930"/><stop offset="0.0275" stop-color="#1c0c42"/><stop offset="0.0335" stop-color="#1f0c44"/><stop offset="0.3713" stop-color="#2d0c51"/><stop offset="0.3743" stop-color="#2e0c52"/><stop offset="0.3757" stop-color="#410c63"/><stop offset="0.3832" stop-color="#430c65"/><stop offset="0.3847" stop-color="#4d0d6b"/><stop offset="0.401" stop-color="#58116c"/><stop offset="0.41" stop-color="#771c6d"/><stop offset="0.465" stop-color="#8f2466"/><stop offset="0.4665" stop-color="#000004"/><stop offset="0.4918" stop-color="#000004"/><stop offset="0.4978" stop-color="#070314"/><stop offset="0.5037" stop-color="#070314"/><stop offset="0.5067" stop-color="#150934"/><stop offset="0.5171" stop-color="#170a38"/><stop offset="0.5186" stop-color="#000004"/><stop offset="0.6734" stop-color="#000004"/><stop offset="0.6838" stop-color="#04020c"/><stop offset="0.6868" stop-color="#080417"/><stop offset="0.6897" stop-color="#190b3c"/><stop offset="0.6927" stop-color="#1d0c43"/><stop offset="0.7269" stop-color="#1e0c44"/><stop offset="0.7359" stop-color="#330c57"/><stop offset="0.7403" stop-color="#510f6b"/><stop offset="0.8341" stop-color="#5a116c"/><stop offset="0.8504" stop-color="#60146c"/><stop offset="0.8519" stop-color="#6b176c"/><stop offset="0.8653" stop-color="#7a1d6c"/><stop offset="0.9308" stop-color="#83206a"/><stop offset="0.9412" stop-color="#a72d5f"/><stop offset="0.965" stop-color="#af315a"/><stop offset="0.9725" stop-color="#b53556"/><stop offset="0.9814" stop-color="#d14644"/><stop offset="0.9888" stop-color="#d14644"/><stop offset="1" stop-color="#ee6c23"/></linearGradient>
<linearGradient id="h161" gradientUnits="userSpaceOnUse" x1="205" x2="2372.5" y1="0" y2="0"><stop offset="0" stop-color="#000004"/><stop offset="0.0126" stop-color="#000004"/><stop offset="0.0156" stop-color="#060311"/><stop offset="0.0424" stop-color="#0a041a"/><stop offset="0.0499" stop-color="#0f0726"/><stop offset="0.3906" stop-color="#150934"/><stop offset="0.3936" stop-color="#180b3a"/><stop offset="0.3951" stop-color="#280c4d"/><stop offset="0.3996" stop-color="#290c4d"/><stop offset="0.401" stop-color="#340c58"/><stop offset="0.4159" stop-color="#3e0c60"/><stop offset="0.4189" stop-color="#4c0d6b"/><stop offset="0.4219" stop-color="#4d0d6b"/><stop offset="0.4234" stop-color="#5e136c"/><stop offset="0.4725" stop-color="#71196d"/><stop offset="0.474" stop-color="#000004"/><stop offset="0.4978" stop-color="#010107"/><stop offset="0.4993" stop-color="#100728"/><stop offset="0.5022" stop-color="#100729"/><stop offset="0.5052" stop-color="#170a38"/><stop offset="0.5171" stop-color="#180b3a"/><stop offset="0.5186" stop-color="#000004"/><stop offset="0.5394" stop-color="#04020e"/><stop offset="0.5409" stop-color="#000004"/><stop offset="0.6064" stop-color="#000004"/><stop offset="0.6079" stop-color="#070314"/><stop offset="0.6138" stop-color="#070314"/><stop offset="0.6153" stop-color="#000004"/><stop offset="0.6525" stop-color="#000004"/><stop offset="0.654" stop-color="#070313"/><stop offset="0.6659" stop-color="#080315"/><stop offset="0.6689" stop-color="#080315"/><stop offset="0.6704" stop-color="#000004"/><stop offset="0.6927" stop-color="#03010a"/><stop offset="0.6972" stop-color="#080416"/><stop offset="0.7254" stop-color="#0d0621"/><stop offset="0.7314" stop-color="#170a37"/><stop offset="0.7359" stop-color="#390c5c"/><stop offset="0.7433" stop-color="#4e0d6b"/><stop offset="0.8519" stop-color="#57116c"/><stop offset="0.8579" stop-color="#64156c"/><stop offset="0.8609" stop-color="#7d1e6c"/><stop offset="0.8698" stop-color="#852169"/><stop offset="0.9561" stop-color="#902466"/><stop offset="1" stop-color="#aa2f5d"/></linearGradient>
<linearGradient id="h162" gradientUnits="userSpaceOnUse" x1="205" x2="2372.5" y1="0" y2="0"><stop offset="0" stop-color="#000004"/><stop offset="0.0231" stop-color="#010006"/><stop offset="0.026" stop-color="#070314"/><stop offset="0.0394" stop-color="#080417"/><stop offset="0.0513" stop-color="#13082e"/><stop offset="0.0692" stop-color="#140931"/><stop offset="0.3311" stop-color="#150934"/><stop offset="0.3936" stop-color="#1a0b3e"/><stop offset="0.3996" stop-color="#3f0c62"/><stop offset="0.41" stop-color="#410c63"/><stop offset="0.4115" stop-color="#54106b"/><stop offset="0.4159" stop-color="#5f136c"/><stop offset="0.4725" stop-color="#731a6d"/><stop offset="0.474" stop-color="#000004"/><stop offset="0.4978" stop-color="#04020e"/><stop offset="0.4993" stop-color="#070314"/><stop offset="0.5007" stop-color="#12082d"/><stop offset="0.5022" stop-color="#140930"/><stop offset="0.5037" stop-color="#370c5a"/><stop offset="0.5216" stop-color="#3b0c5e"/><stop offset="0.5231" stop-color="#000004"/><stop offset="0.5662" stop-color="#000004"/><stop offset="0.5677" stop-color="#010107"/><stop offset="0.5692" stop-color="#090419"/><stop offset="0.5781" stop-color="#0a041a"/><stop offset="0.5796" stop-color="#000004"/><stop offset="0.5811" stop-color="#000004"/><stop offset="0.5841" stop-color="#0a051c"/><stop offset="0.5856" stop-color="#0a051c"/><stop offset="0.5871" stop-color="#000004"/><stop offset="0.599" stop-color="#000004"/><stop offset="0.6019" stop-color="#0a041a"/><stop offset="0.6034" stop-color="#230c48"/><stop offset="0.6079" stop-color="#240c49"/><stop offset="0.6124" stop-color="#240c49"/><stop offset="0.6138" stop-color="#000004"/><stop offset="0.651" stop-color="#000004"/><stop offset="0.657" stop-color="#140932"/><stop offset="0.6659" stop-color="#1d0c43"/><stop offset="0.6704" stop-color="#1d0c43"/><stop offset="0.6719" stop-color="#000004"/><stop offset="0.6942" stop-color="#010006"/><stop offset="0.6972" stop-color="#0a041a"/><stop offset="0.7046" stop-color="#0d0622"/><stop offset="0.7418" stop-color="#140932"/><stop offset="0.7522" stop-color="#200c45"/><stop offset="0.7716" stop-color="#230c48"/><stop offset="0.7775" stop-color="#330c57"/><stop offset="0.7969" stop-color="#360c59"/><stop offset="0.8013" stop-color="#4d0d6b"/><stop offset="0.8103" stop-color="#5e136c"/><stop offset="0.8579" stop-color="#5f136c"/><stop offset="0.8594" stop-color="#68166c"/><stop offset="0.8609" stop-color="#852169"/><stop offset="0.9353" stop-color="#872169"/><stop offset="0.9695" stop-color="#912566"/><stop offset="0.9874" stop-color="#a92e5e"/><stop offset="1" stop-color="#a92e5d"/></linearGradient>
<linearGradient id="h163" gradientUnits="userSpaceOnUse" x1="205" x2="2372.5" y1="0" y2="0"><stop offset="0" stop-color="#000004"/><stop offset="0.0662" stop-color="#060311"/><stop offset="0.3951" stop-color="#070314"/><stop offset="0.3966" stop-color="#0f0727"/><stop offset="0.3996" stop-color="#13082e"/><stop offset="0.4725" stop-color="#170a39"/><stop offset="0.474" stop-color="#000004"/><stop offset="0.5216" stop-color="#05020f"/><stop offset="0.5231" stop-color="#000004"/><stop offset="0.5647" stop-color="#000004"/><stop offset="0.5707" stop-color="#0a051b"/><stop offset="0.5781" stop-color="#0b051d"/><stop offset="0.5796" stop-color="#000004"/><stop offset="0.6004" stop-color="#000004"/><stop offset="0.6034" stop-color="#070315"/><stop offset="0.6049" stop-color="#000004"/><stop offset="0.6064" stop-color="#050210"/><stop offset="0.6094" stop-color="#050210"/><stop offset="0.6109" stop-color="#000004"/><stop offset="0.6496" stop-color="#000004"/><stop offset="0.651" stop-color="#05020f"/><stop offset="0.6555" stop-color="#050210"/><stop offset="0.657" stop-color="#0d0621"/><stop offset="0.6659" stop-color="#190b3d"/><stop offset="0.6674" stop-color="#5a126c"/><stop offset="0.6704" stop-color="#5b126c"/><stop offset="0.6719" stop-color="#000004"/><stop offset="0.6972" stop-color="#010107"/><stop offset="0.7165" stop-color="#090419"/><stop offset="0.7626" stop-color="#0d0622"/><stop offset="0.7805" stop-color="#1a0b3e"/><stop offset="0.8058" stop-color="#4b0c6b"/><stop offset="0.9695" stop-color="#510e6b"/><stop offset="0.971" stop-color="#8c2367"/><stop offset="1" stop-color="#922565"/></linearGradient>
<linearGradient id="h164" gradientUnits="userSpaceOnUse" x1="205" x2="2372.5" y1="0" y2="0"><stop offset="0" stop-color="#000004"/><stop offset="0.3966" stop-color="#04020d"/><stop offset="0.4144" stop-color="#0c051e"/><stop offset="0.4725" stop-color="#0e0623"/><stop offset="0.474" stop-color="#000004"/><stop offset="0.4874" stop-color="#000004"/><stop offset="0.5052" stop-color="#060211"/><stop offset="0.5112" stop-color="#0d0622"/><stop offset="0.5231" stop-color="#0e0624"/><stop offset="0.5246" stop-color="#000004"/><stop offset="0.5692" stop-color="#010006"/><stop offset="0.5722" stop-color="#070313"/><stop offset="0.5796" stop-color="#080315"/><stop offset="0.5811" stop-color="#000004"/><stop offset="0.6436" stop-color="#000004"/><stop offset="0.6659" stop-color="#080416"/><stop offset="0.6674" stop-color="#771c6d"/><stop offset="0.7061" stop-color="#7c1d6c"/><stop offset="0.7121" stop-color="#a62c5f"/><stop offset="0.7552" stop-color="#a82e5e"/><stop offset="0.7626" stop-color="#c8404a"/><stop offset="0.7641" stop-color="#df5834"/><stop offset="0.7805" stop-color="#e05934"/><stop offset="0.7879" stop-color="#f78c0f"/><stop offset="1" stop-color="#fb9b06"/></linearGradient>
<linearGradient id="h165" gradientUnits="userSpaceOnUse" x1="205" x2="2372.5" y1="0" y2="0"><stop offset="0" stop-color="#000004"/><stop offset="0.0365" stop-color="#000004"/><stop offset="0.0632" stop-color="#070315"/><stop offset="0.4115" stop-color="#0a041a"/><stop offset="0.4129" stop-color="#0f0726"/><stop offset="0.4725" stop-color="#11082b"/><stop offset="0.474" stop-color="#000004"/><stop offset="0.4918" stop-color="#000004"/><stop offset="0.5052" stop-color="#080315"/><stop offset="0.5067" stop-color="#140931"/><stop offset="0.5186" stop-color="#170a38"/><stop offset="0.5216" stop-color="#210c46"/><stop offset="0.5246" stop-color="#210c47"/><stop offset="0.526" stop-color="#000004"/><stop offset="0.5796" stop-color="#04020d"/><stop offset="0.5811" stop-color="#000004"/><stop offset="0.6317" stop-color="#000004"/><stop offset="0.6332" stop-color="#070314"/><stop offset="0.6347" stop-color="#180a39"/><stop offset="0.6749" stop-color="#270c4c"/><stop offset="0.7582" stop-color="#2a0c4f"/><stop offset="0.7626" stop-color="#410c63"/><stop offset="0.8713" stop-color="#410c63"/><stop offset="0.904" stop-color="#500e6b"/><stop offset="1" stop-color="#530f6b"/></linearGradient>
<linearGradient id="h166" gradientUnits="userSpaceOnUse" x1="205" x2="2372.5" y1="0" y2="0"><stop offset="0" stop-color="#000004"/><stop offset="0.4769" stop-color="#000004"/><stop offset="0.4978" stop-color="#020109"/><stop offset="0.4993" stop-color="#0a041a"/><stop offset="0.5052" stop-color="#0d0622"/><stop offset="0.5409" stop-color="#13082e"/><stop offset="0.5424" stop-color="#000004"/><stop offset="0.5871" stop-color="#000004"/><stop offset="0.593" stop-color="#04020c"/><stop offset="0.5945" stop-color="#000004"/><stop offset="0.6138" stop-color="#000004"/><stop offset="0.6168" stop-color="#04020d"/><stop offset="0.6317" stop-color="#04020d"/><stop offset="0.6391" stop-color="#100729"/><stop offset="0.6406" stop-color="#1e0c44"/><stop offset="0.654" stop-color="#280c4d"/><stop offset="0.8266" stop-color="#2a0c4e"/><stop offset="0.8296" stop-color="#390c5c"/><stop offset="0.8728" stop-color="#390c5c"/><stop offset="0.8772" stop-color="#4a0c6b"/><stop offset="0.8981" stop-color="#4b0c6b"/><stop offset="0.8996" stop-color="#55106b"/><stop offset="1" stop-color="#55106b"/></linearGradient>
<linearGradient id="h167" gradientUnits="userSpaceOnUse" x1="205" x2="2372.5" y1="0" y2="0"><stop offset="0" stop-color="#000004"/><stop offset="0.4754" stop-color="#000004"/><stop offset="0.4978" stop-color="#020108"/><stop offset="0.5022" stop-color="#070314"/><stop offset="0.5037" stop-color="#0e0624"/><stop offset="0.5424" stop-color="#12082c"/><stop offset="0.5439" stop-color="#000004"/><stop offset="0.5796" stop-color="#03010c"/><stop offset="0.5871" stop-color="#000004"/><stop offset="0.593" stop-color="#050210"/><stop offset="0.5945" stop-color="#000004"/><stop offset="0.6124" stop-color="#000004"/><stop offset="0.6183" stop-color="#0d0621"/><stop offset="0.6213" stop-color="#0d0621"/><stop offset="0.6257" stop-color="#150934"/><stop offset="0.651" stop-color="#170a37"/><stop offset="0.654" stop-color="#200c46"/><stop offset="0.6659" stop-color="#280c4c"/><stop offset="0.8147" stop-color="#290c4e"/><stop offset="0.8311" stop-color="#3f0c61"/><stop offset="0.9204" stop-color="#410c63"/><stop offset="0.9263" stop-color="#55106b"/><stop offset="1" stop-color="#58116c"/></linearGradient>
<linearGradient id="h168" gradientUnits="userSpaceOnUse" x1="205" x2="2372.5" y1="0" y2="0"><stop offset="0" stop-color="#000004"/><stop offset="0.4754" stop-color="#000004"/><stop offset="0.5424" stop-color="#090417"/><stop offset="0.5439" stop-color="#000004"/><stop offset="0.5454" stop-color="#000004"/><stop offset="0.5662" stop-color="#05020f"/><stop offset="0.5707" stop-color="#0d0621"/><stop offset="0.5811" stop-color="#0d0622"/><stop offset="0.5826" stop-color="#000004"/><stop offset="0.59" stop-color="#020108"/><stop offset="0.5915" stop-color="#090418"/><stop offset="0.5945" stop-color="#090418"/><stop offset="0.596" stop-color="#000004"/><stop offset="0.6109" stop-color="#000004"/><stop offset="0.6168" stop-color="#010107"/><stop offset="0.6213" stop-color="#100729"/><stop offset="0.6272" stop-color="#1a0b3e"/><stop offset="0.6496" stop-color="#1b0c40"/><stop offset="0.6555" stop-color="#220c47"/><stop offset="0.657" stop-color="#320c56"/><stop offset="0.6644" stop-color="#440c66"/><stop offset="0.8147" stop-color="#460c68"/><stop offset="0.8237" stop-color="#4f0e6b"/><stop offset="0.8251" stop-color="#64156c"/><stop offset="0.8311" stop-color="#6b176c"/><stop offset="0.8341" stop-color="#7c1d6c"/><stop offset="0.9174" stop-color="#7d1e6c"/><stop offset="0.9263" stop-color="#9d2962"/><stop offset="0.9576" stop-color="#a12b61"/><stop offset="0.9591" stop-color="#ad315b"/><stop offset="1" stop-color="#ad315b"/></linearGradient>
<linearGradient id="h169" gradientUnits="userSpaceOnUse" x1="205" x2="2372.5" y1="0" y2="0"><stop offset="0" stop-color="#000004"/><stop offset="0.4591" stop-color="#000004"/><stop offset="0.5231" stop-color="#080316"/><stop offset="0.526" stop-color="#0f0726"/><stop offset="0.5424" stop-color="#100729"/><stop offset="0.5439" stop-color="#000004"/><stop offset="0.5499" stop-color="#000004"/><stop offset="0.5573" stop-color="#0e0624"/><stop offset="0.5692" stop-color="#130930"/><stop offset="0.5707" stop-color="#190b3d"/><stop offset="0.5722" stop-color="#360c59"/><stop offset="0.5915" stop-color="#400c62"/><stop offset="0.593" stop-color="#540f6b"/><stop offset="0.5945" stop-color="#540f6b"/><stop offset="0.596" stop-color="#000004"/><stop offset="0.6034" stop-color="#000004"/><stop offset="0.6049" stop-color="#0b051c"/><stop offset="0.6064" stop-color="#000004"/><stop offset="0.6079" stop-color="#000004"/><stop offset="0.6124" stop-color="#060312"/><stop offset="0.6272" stop-color="#0b051d"/><stop offset="0.6317" stop-color="#1d0c43"/><stop offset="0.6481" stop-color="#1f0c44"/><stop offset="0.6615" stop-color="#370c5a"/><stop offset="0.6734" stop-color="#3d0c5f"/><stop offset="0.8207" stop-color="#3e0c61"/><stop offset="0.8326" stop-color="#4c0d6b"/><stop offset="0.8341" stop-color="#801f6b"/><stop offset="0.9129" stop-color="#801f6b"/><stop offset="0.9174" stop-color="#8e2467"/><stop offset="0.9189" stop-color="#c03b4f"/><stop offset="0.9427" stop-color="#c9414a"/><stop offset="0.9457" stop-color="#e05934"/><stop offset="0.9516" stop-color="#f1791b"/><stop offset="0.9576" stop-color="#f1791b"/><stop offset="0.9591" stop-color="#f58514"/><stop offset="0.9769" stop-color="#f58514"/><stop offset="0.9784" stop-color="#faa410"/><stop offset="1" stop-color="#faa410"/></linearGradient>
<linearGradient id="h170" gradientUnits="userSpaceOnUse" x1="205" x2="2372.5" y1="0" y2="0"><stop offset="0" stop-color="#000004"/><stop offset="0.4561" stop-color="#000004"/><stop offset="0.5186" stop-color="#020108"/><stop offset="0.5216" stop-color="#0b051c"/><stop offset="0.5424" stop-color="#0b051e"/><stop offset="0.5439" stop-color="#000004"/><stop offset="0.5499" stop-color="#000004"/><stop offset="0.5707" stop-color="#050210"/><stop offset="0.5722" stop-color="#0d0621"/><stop offset="0.5737" stop-color="#0e0623"/><stop offset="0.5945" stop-color="#140931"/><stop offset="0.596" stop-color="#000004"/><stop offset="0.6034" stop-color="#000004"/><stop offset="0.6049" stop-color="#070314"/><stop offset="0.6064" stop-color="#000004"/><stop offset="0.6079" stop-color="#000004"/><stop offset="0.6287" stop-color="#010006"/><stop offset="0.6347" stop-color="#0a041b"/><stop offset="0.6838" stop-color="#0d0621"/><stop offset="0.6912" stop-color="#12082d"/><stop offset="0.8341" stop-color="#12082d"/><stop offset="0.8356" stop-color="#1b0c41"/><stop offset="0.9115" stop-color="#1b0c41"/><stop offset="0.9174" stop-color="#280c4c"/><stop offset="0.9308" stop-color="#280c4d"/><stop offset="0.9323" stop-color="#3c0c5e"/><stop offset="0.9382" stop-color="#400c62"/><stop offset="0.9412" stop-color="#4f0e6b"/><stop offset="0.9501" stop-color="#54106b"/><stop offset="0.9531" stop-color="#60146c"/><stop offset="0.974" stop-color="#65156c"/><stop offset="0.9799" stop-color="#83206a"/><stop offset="1" stop-color="#902466"/></linearGradient>
<linearGradient id="h171" gradientUnits="userSpaceOnUse" x1="205" x2="2372.5" y1="0" y2="0"><stop offset="0" stop-color="#000004"/><stop offset="0.4621" stop-color="#000005"/><stop offset="0.5201" stop-color="#020108"/><stop offset="0.5216" stop-color="#080417"/><stop offset="0.5335" stop-color="#0b051c"/><stop offset="0.5945" stop-color="#0f0725"/><stop offset="0.596" stop-color="#000004"/><stop offset="0.6317" stop-color="#05020f"/><stop offset="0.6332" stop-color="#090419"/><stop offset="0.6347" stop-color="#150934"/><stop offset="0.6391" stop-color="#180b3b"/><stop offset="0.6421" stop-color="#2d0c51"/><stop offset="0.6823" stop-color="#2f0c53"/><stop offset="0.6868" stop-color="#360c59"/><stop offset="0.6897" stop-color="#4c0d6b"/><stop offset="0.6927" stop-color="#510e6b"/><stop offset="0.7269" stop-color="#540f6b"/><stop offset="0.7359" stop-color="#761b6d"/><stop offset="0.7403" stop-color="#972764"/><stop offset="0.7418" stop-color="#992864"/><stop offset="0.9308" stop-color="#9d2962"/><stop offset="0.9397" stop-color="#b33457"/><stop offset="0.9725" stop-color="#c13c4f"/><stop offset="0.9754" stop-color="#d04545"/><stop offset="0.9903" stop-color="#d74e3d"/><stop offset="1" stop-color="#ee6c23"/></linearGradient>
<linearGradient id="h172" gradientUnits="userSpaceOnUse" x1="205" x2="2372.5" y1="0" y2="0"><stop offset="0" stop-color="#000004"/><stop offset="0.4621" stop-color="#020109"/><stop offset="0.4635" stop-color="#060311"/><stop offset="0.4874" stop-color="#0a051b"/><stop offset="0.5216" stop-color="#0a051b"/><stop offset="0.5231" stop-color="#0f0726"/><stop offset="0.5499" stop-color="#170a37"/><stop offset="0.5811" stop-color="#180b3a"/><stop offset="0.5871" stop-color="#1c0c41"/><stop offset="0.5915" stop-color="#320c55"/><stop offset="0.599" stop-color="#320c56"/><stop offset="0.6079" stop-color="#440c65"/><stop offset="0.6138" stop-color="#440c65"/><stop offset="0.6183" stop-color="#5a126c"/><stop offset="0.6362" stop-color="#63156c"/><stop offset="0.6406" stop-color="#70196d"/><stop offset="0.6942" stop-color="#791c6d"/><stop offset="0.6972" stop-color="#8e2467"/><stop offset="0.7165" stop-color="#8f2466"/><stop offset="0.7254" stop-color="#a12b61"/><stop offset="0.7314" stop-color="#b43457"/><stop offset="0.7359" stop-color="#da523a"/><stop offset="0.7463" stop-color="#ef7021"/><stop offset="0.8073" stop-color="#f27a1a"/><stop offset="0.8118" stop-color="#f48414"/><stop offset="0.9338" stop-color="#f58414"/><stop offset="0.9368" stop-color="#f78e0e"/><stop offset="0.9799" stop-color="#fb9b06"/><stop offset="0.9829" stop-color="#faa612"/><stop offset="1" stop-color="#f9b31e"/></linearGradient>
<linearGradient id="h173" gradientUnits="userSpaceOnUse" x1="205" x2="2372.5" y1="0" y2="0"><stop offset="0" stop-color="#000004"/><stop offset="0.4754" stop-color="#03010a"/><stop offset="0.5216" stop-color="#05020e"/><stop offset="0.5454" stop-color="#070314"/><stop offset="0.5558" stop-color="#0e0623"/><stop offset="0.5811" stop-color="#0e0624"/><stop offset="0.59" stop-color="#12082c"/><stop offset="0.5915" stop-color="#200c45"/><stop offset="0.6004" stop-color="#280c4c"/><stop offset="0.6034" stop-color="#390c5c"/><stop offset="0.6168" stop-color="#3e0c60"/><stop offset="0.6183" stop-color="#500e6b"/><stop offset="0.6272" stop-color="#69176c"/><stop offset="0.6942" stop-color="#6c186c"/><stop offset="0.7046" stop-color="#7f1f6b"/><stop offset="0.7656" stop-color="#9b2863"/><stop offset="0.779" stop-color="#b63655"/><stop offset="0.7969" stop-color="#bd3a51"/><stop offset="0.7999" stop-color="#d44a41"/><stop offset="0.8088" stop-color="#e45d2f"/><stop offset="0.9695" stop-color="#eb6727"/><stop offset="0.971" stop-color="#f48315"/><stop offset="0.9725" stop-color="#f68812"/><stop offset="0.9814" stop-color="#f68812"/><stop offset="0.9874" stop-color="#fb9d08"/><stop offset="1" stop-color="#fb9d08"/></linearGradient>
<linearGradient id="h174" gradientUnits="userSpaceOnUse" x1="205" x2="2372.5" y1="0" y2="0"><stop offset="0" stop-color="#000004"/><stop offset="0.1749" stop-color="#000004"/><stop offset="0.1763" stop-color="#050210"/><stop offset="0.2046" stop-color="#060210"/><stop offset="0.2121" stop-color="#13082e"/><stop offset="0.215" stop-color="#130930"/><stop offset="0.4948" stop-color="#160a35"/><stop offset="0.5231" stop-color="#1b0c41"/><stop offset="0.526" stop-color="#240c49"/><stop offset="0.5499" stop-color="#260c4b"/><stop offset="0.5588" stop-color="#320c56"/><stop offset="0.5915" stop-color="#330c57"/><stop offset="0.6124" stop-color="#4c0d6b"/><stop offset="0.6257" stop-color="#55106b"/><stop offset="0.6317" stop-color="#64156c"/><stop offset="0.6659" stop-color="#64156c"/><stop offset="0.6674" stop-color="#a92f5d"/><stop offset="0.7031" stop-color="#ac305c"/><stop offset="0.715" stop-color="#bd3a51"/><stop offset="0.7626" stop-color="#c53e4c"/><stop offset="0.7805" stop-color="#d74e3d"/><stop offset="0.7879" stop-color="#ee6c23"/><stop offset="0.7984" stop-color="#f58513"/><stop offset="0.9695" stop-color="#f68911"/><stop offset="0.971" stop-color="#f7cd39"/><stop offset="1" stop-color="#f7d03c"/></linearGradient>
<linearGradient id="h175" gradientUnits="userSpaceOnUse" x1="205" x2="2372.5" y1="0" y2="0"><stop offset="0" stop-color="#000004"/><stop offset="0.154" stop-color="#000004"/><stop offset="0.157" stop-color="#04020c"/><stop offset="0.2031" stop-color="#080315"/><stop offset="0.2165" stop-color="#0e0623"/><stop offset="0.3281" stop-color="#100727"/><stop offset="0.3341" stop-color="#140932"/><stop offset="0.4933" stop-color="#150933"/><stop offset="0.4963" stop-color="#190b3d"/><stop offset="0.5052" stop-color="#1a0b3e"/><stop offset="0.5112" stop-color="#2b0c4f"/><stop offset="0.6659" stop-color="#400c62"/><stop offset="0.6674" stop-color="#510e6b"/><stop offset="0.6689" stop-color="#510f6b"/><stop offset="0.7552" stop-color="#5a126c"/><stop offset="0.7641" stop-color="#6b176c"/><stop offset="0.7879" stop-color="#711a6d"/><stop offset="1" stop-color="#711a6d"/></linearGradient>
<linearGradient id="h176" gradientUnits="userSpaceOnUse" x1="205" x2="2372.5" y1="0" y2="0"><stop offset="0" stop-color="#000004"/><stop offset="0.1525" stop-color="#000004"/><stop offset="0.1555" stop-color="#04020c"/><stop offset="0.157" stop-color="#150933"/><stop offset="0.1868" stop-color="#170a38"/><stop offset="0.1942" stop-color="#2f0c53"/><stop offset="0.2031" stop-color="#3d0c5f"/><stop offset="0.2522" stop-color="#480c69"/><stop offset="0.2567" stop-color="#500e6b"/><stop offset="0.2671" stop-color="#520f6b"/><stop offset="0.282" stop-color="#70196d"/><stop offset="0.3073" stop-color="#711a6d"/><stop offset="0.3341" stop-color="#8f2466"/><stop offset="0.4918" stop-color="#902566"/><stop offset="0.5037" stop-color="#9b2863"/><stop offset="0.5067" stop-color="#b03359"/><stop offset="0.5112" stop-color="#b33458"/><stop offset="0.7626" stop-color="#c13c4e"/><stop offset="1" stop-color="#c13c4e"/></linearGradient>
<linearGradient id="h177" gradientUnits="userSpaceOnUse" x1="205" x2="2372.5" y1="0" y2="0"><stop offset="0" stop-color="#000004"/><stop offset="0.1034" stop-color="#000004"/><stop offset="0.1079" stop-color="#080416"/><stop offset="0.151" stop-color="#080416"/><stop offset="0.1585" stop-color="#12082d"/><stop offset="0.1808" stop-color="#150933"/><stop offset="0.1912" stop-color="#270c4c"/><stop offset="0.2225" stop-color="#290c4d"/><stop offset="0.2403" stop-color="#390c5c"/><stop offset="0.2463" stop-color="#4e0d6b"/><stop offset="0.2522" stop-color="#530f6b"/><stop offset="0.2597" stop-color="#741b6d"/><stop offset="0.2656" stop-color="#751b6d"/><stop offset="0.2671" stop-color="#83206a"/><stop offset="0.276" stop-color="#8d2467"/><stop offset="0.3043" stop-color="#992863"/><stop offset="0.3207" stop-color="#be3a50"/><stop offset="0.4978" stop-color="#c23d4e"/><stop offset="0.4993" stop-color="#d64c3e"/><stop offset="0.5052" stop-color="#dd5636"/><stop offset="0.599" stop-color="#e15a32"/><stop offset="0.6659" stop-color="#ee6c23"/><stop offset="1" stop-color="#ee6c23"/></linearGradient>
<linearGradient id="h178" gradientUnits="userSpaceOnUse" x1="205" x2="2372.5" y1="0" y2="0"><stop offset="0" stop-color="#000004"/><stop offset="0.1034" stop-color="#000004"/><stop offset="0.1079" stop-color="#080416"/><stop offset="0.1496" stop-color="#080416"/><stop offset="0.1585" stop-color="#0b051e"/><stop offset="0.16" stop-color="#13082f"/><stop offset="0.1615" stop-color="#140931"/><stop offset="0.224" stop-color="#160a36"/><stop offset="0.2448" stop-color="#260c4b"/><stop offset="0.2507" stop-color="#390c5b"/><stop offset="0.2582" stop-color="#3b0c5d"/><stop offset="0.2656" stop-color="#4b0c6b"/><stop offset="0.2909" stop-color="#4e0d6b"/><stop offset="0.3013" stop-color="#67166c"/><stop offset="0.3147" stop-color="#6c186c"/><stop offset="0.3162" stop-color="#7d1e6c"/><stop offset="0.4888" stop-color="#7e1e6b"/><stop offset="0.4993" stop-color="#852169"/><stop offset="0.5022" stop-color="#8f2466"/><stop offset="0.5037" stop-color="#a32b61"/><stop offset="0.5662" stop-color="#a72d5f"/><stop offset="0.599" stop-color="#b63656"/><stop offset="0.6019" stop-color="#be3a51"/><stop offset="0.6034" stop-color="#d34941"/><stop offset="0.651" stop-color="#d44b40"/><stop offset="0.6659" stop-color="#e35c30"/><stop offset="1" stop-color="#e35c30"/></linearGradient>
<linearGradient id="h179" gradientUnits="userSpaceOnUse" x1="205" x2="2372.5" y1="0" y2="0"><stop offset="0" stop-color="#000004"/><stop offset="0.1585" stop-color="#04020d"/><stop offset="0.1615" stop-color="#070314"/><stop offset="0.1629" stop-color="#190b3c"/><stop offset="0.1644" stop-color="#1b0c41"/><stop offset="0.2359" stop-color="#1e0c44"/><stop offset="0.2388" stop-color="#290c4e"/><stop offset="0.2909" stop-color="#320c56"/><stop offset="0.2969" stop-color="#4a0c6b"/><stop offset="0.5647" stop-color="#5a116c"/><stop offset="0.5707" stop-color="#721a6d"/><stop offset="0.6004" stop-color="#751b6d"/><stop offset="0.6049" stop-color="#781c6d"/><stop offset="0.6064" stop-color="#862169"/><stop offset="0.6496" stop-color="#862169"/><stop offset="0.651" stop-color="#912566"/><stop offset="0.6555" stop-color="#922566"/><stop offset="0.657" stop-color="#a12b61"/><stop offset="0.6644" stop-color="#bb3852"/><stop offset="0.6734" stop-color="#be3a50"/><stop offset="1" stop-color="#be3a50"/></linearGradient>
<linearGradient id="h180" gradientUnits="userSpaceOnUse" x1="205" x2="2372.5" y1="0" y2="0"><stop offset="0" stop-color="#000004"/><stop offset="0.1019" stop-color="#000004"/><stop offset="0.1034" stop-color="#050210"/><stop offset="0.1094" stop-color="#080416"/><stop offset="0.1287" stop-color="#080417"/><stop offset="0.1302" stop-color="#0b051c"/><stop offset="0.1317" stop-color="#280c4c"/><stop offset="0.1376" stop-color="#280c4c"/><stop offset="0.1391" stop-color="#460c68"/><stop offset="0.1481" stop-color="#5e136c"/><stop offset="0.1615" stop-color="#5e136c"/><stop offset="0.1644" stop-color="#711a6d"/><stop offset="0.4725" stop-color="#721a6d"/><stop offset="0.5618" stop-color="#811f6a"/><stop offset="0.5707" stop-color="#8e2467"/><stop offset="0.5722" stop-color="#c9404a"/><stop offset="0.5751" stop-color="#cf4446"/><stop offset="0.6436" stop-color="#d04644"/><stop offset="0.66" stop-color="#e05933"/><stop offset="1" stop-color="#e25c31"/></linearGradient>
<linearGradient id="h181" gradientUnits="userSpaceOnUse" x1="205" x2="2372.5" y1="0" y2="0"><stop offset="0" stop-color="#000004"/><stop offset="0.1213" stop-color="#000005"/><stop offset="0.1376" stop-color="#090419"/><stop offset="0.1391" stop-color="#1e0c43"/><stop offset="0.1466" stop-color="#280c4d"/><stop offset="0.5171" stop-color="#2a0c4e"/><stop offset="0.5201" stop-color="#2c0c50"/><stop offset="0.5216" stop-color="#420c64"/><stop offset="0.6317" stop-color="#4b0c6b"/><stop offset="0.6332" stop-color="#57106c"/><stop offset="0.6347" stop-color="#711a6d"/><stop offset="0.6481" stop-color="#7c1d6c"/><stop offset="1" stop-color="#7c1d6c"/></linearGradient>
<linearGradient id="h182" gradientUnits="userSpaceOnUse" x1="205" x2="2372.5" y1="0" y2="0"><stop offset="0" stop-color="#000004"/><stop offset="0.1198" stop-color="#010006"/><stop offset="0.1287" stop-color="#0d0621"/><stop offset="0.1362" stop-color="#0f0726"/><stop offset="0.1376" stop-color="#150933"/><stop offset="0.4769" stop-color="#150933"/><stop offset="0.5201" stop-color="#180b39"/><stop offset="0.5231" stop-color="#1f0c45"/><stop offset="0.5871" stop-color="#210c46"/><stop offset="0.59" stop-color="#2f0c53"/><stop offset="0.6317" stop-color="#3b0c5e"/><stop offset="0.6391" stop-color="#520f6b"/><stop offset="0.6406" stop-color="#6a176c"/><stop offset="0.6436" stop-color="#6e186d"/><stop offset="1" stop-color="#6e186d"/></linearGradient>
<linearGradient id="h183" gradientUnits="userSpaceOnUse" x1="205" x2="2372.5" y1="0" y2="0"><stop offset="0" stop-color="#000004"/><stop offset="0.1124" stop-color="#000005"/><stop offset="0.1347" stop-color="#070313"/><stop offset="0.1376" stop-color="#0f0727"/><stop offset="0.4754" stop-color="#0f0727"/><stop offset="0.5216" stop-color="#13082f"/><stop offset="0.5231" stop-color="#170a39"/><stop offset="0.5469" stop-color="#170a39"/><stop offset="0.5484" stop-color="#1f0c45"/><stop offset="0.5543" stop-color="#240c49"/><stop offset="0.5871" stop-color="#260c4b"/><stop offset="0.59" stop-color="#2e0c52"/><stop offset="0.5915" stop-color="#410c63"/><stop offset="0.6138" stop-color="#430c64"/><stop offset="0.6168" stop-color="#4d0d6b"/><stop offset="0.6183" stop-color="#5f136c"/><stop offset="0.6213" stop-color="#5f136c"/><stop offset="0.6257" stop-color="#741b6d"/><stop offset="1" stop-color="#771c6d"/></linearGradient>
<linearGradient id="h184" gradientUnits="userSpaceOnUse" x1="205" x2="2372.5" y1="0" y2="0"><stop offset="0" stop-color="#000004"/><stop offset="0.1138" stop-color="#000004"/><stop offset="0.1183" stop-color="#03010b"/><stop offset="0.1198" stop-color="#190b3c"/><stop offset="0.5231" stop-color="#1a0c40"/><stop offset="0.526" stop-color="#250c4a"/><stop offset="0.5528" stop-color="#2a0c4f"/><stop offset="0.5588" stop-color="#390c5c"/><stop offset="0.5856" stop-color="#390c5c"/><stop offset="0.59" stop-color="#3f0c61"/><stop offset="0.5915" stop-color="#510e6b"/><stop offset="0.5975" stop-color="#530f6b"/><stop offset="0.599" stop-color="#5d136c"/><stop offset="0.6168" stop-color="#61146c"/><stop offset="0.6213" stop-color="#862169"/><stop offset="0.6317" stop-color="#9f2a62"/><stop offset="1" stop-color="#a02a61"/></linearGradient>
<linearGradient id="h185" gradientUnits="userSpaceOnUse" x1="205" x2="2372.5" y1="0" y2="0"><stop offset="0" stop-color="#000004"/><stop offset="0.1153" stop-color="#010006"/><stop offset="0.1198" stop-color="#080315"/><stop offset="0.3594" stop-color="#080416"/><stop offset="0.3609" stop-color="#220c47"/><stop offset="0.3624" stop-color="#220c48"/><stop offset="0.5231" stop-color="#230c48"/><stop offset="0.526" stop-color="#2c0c50"/><stop offset="0.5499" stop-color="#2c0c50"/><stop offset="0.5528" stop-color="#3b0c5e"/><stop offset="0.5588" stop-color="#440c66"/><stop offset="0.5915" stop-color="#490c6a"/><stop offset="0.593" stop-color="#59116c"/><stop offset="0.6034" stop-color="#59116c"/><stop offset="0.6049" stop-color="#731a6d"/><stop offset="0.6124" stop-color="#801f6b"/><stop offset="0.6272" stop-color="#83206a"/><stop offset="0.6317" stop-color="#a22b61"/><stop offset="1" stop-color="#a22b61"/></linearGradient>
<linearGradient id="h186" gradientUnits="userSpaceOnUse" x1="205" x2="2372.5" y1="0" y2="0"><stop offset="0" stop-color="#000004"/><stop offset="0.0915" stop-color="#000004"/><stop offset="0.096" stop-color="#070314"/><stop offset="0.3519" stop-color="#070315"/><stop offset="0.3579" stop-color="#140931"/><stop offset="0.3609" stop-color="#3f0c62"/><stop offset="0.3638" stop-color="#510e6b"/><stop offset="0.5796" stop-color="#530f6b"/><stop offset="0.5856" stop-color="#66166c"/><stop offset="0.6034" stop-color="#68176c"/><stop offset="0.6049" stop-color="#7d1e6b"/><stop offset="0.6287" stop-color="#811f6a"/><stop offset="0.6302" stop-color="#8b2367"/><stop offset="1" stop-color="#8b2367"/></linearGradient>
<linearGradient id="h187" gradientUnits="userSpaceOnUse" x1="205" x2="2372.5" y1="0" y2="0"><stop offset="0" stop-color="#000004"/><stop offset="0.0871" stop-color="#000004"/><stop offset="0.0885" stop-color="#070313"/><stop offset="0.093" stop-color="#090419"/><stop offset="0.349" stop-color="#090419"/><stop offset="0.3549" stop-color="#11072a"/><stop offset="0.3564" stop-color="#1d0c43"/><stop offset="0.3579" stop-color="#380c5a"/><stop offset="0.3624" stop-color="#380c5b"/><stop offset="0.3638" stop-color="#5e136c"/><stop offset="0.6064" stop-color="#62146c"/><stop offset="0.6079" stop-color="#862169"/><stop offset="1" stop-color="#862169"/></linearGradient>
<linearGradient id="h188" gradientUnits="userSpaceOnUse" x1="205" x2="2372.5" y1="0" y2="0"><stop offset="0" stop-color="#020108"/><stop offset="0.349" stop-color="#05020f"/><stop offset="0.3683" stop-color="#0b051c"/><stop offset="0.5811" stop-color="#0c0520"/><stop offset="0.5841" stop-color="#12082d"/><stop offset="0.599" stop-color="#13082f"/><stop offset="0.6019" stop-color="#180b39"/><stop offset="0.6034" stop-color="#280c4c"/><stop offset="0.6079" stop-color="#2c0c50"/><stop offset="1" stop-color="#330c56"/></linearGradient>
<linearGradient id="h189" gradientUnits="userSpaceOnUse" x1="205" x2="2372.5" y1="0" y2="0"><stop offset="0" stop-color="#04020e"/><stop offset="0.0975" stop-color="#090419"/><stop offset="0.3668" stop-color="#090419"/><stop offset="0.4368" stop-color="#100729"/><stop offset="0.5811" stop-color="#11082a"/><stop offset="0.6004" stop-color="#180b3b"/><stop offset="0.6019" stop-color="#260c4b"/><stop offset="0.6034" stop-color="#490c6a"/><stop offset="0.6049" stop-color="#490c6a"/><stop offset="0.6064" stop-color="#62156c"/><stop offset="0.8847" stop-color="#62156c"/><stop offset="0.8862" stop-color="#6d186d"/><stop offset="1" stop-color="#6d186d"/></linearGradient>
<linearGradient id="h190" gradientUnits="userSpaceOnUse" x1="205" x2="2372.5" y1="0" y2="0"><stop offset="0" stop-color="#000004"/><stop offset="0.3683" stop-color="#010005"/><stop offset="0.4338" stop-color="#04020e"/><stop offset="0.4368" stop-color="#0c051e"/><stop offset="0.4382" stop-color="#180b3b"/><stop offset="0.4427" stop-color="#280c4d"/><stop offset="1" stop-color="#2c0c50"/></linearGradient>
<linearGradient id="h191" gradientUnits="userSpaceOnUse" x1="205" x2="2372.5" y1="0" y2="0"><stop offset="0" stop-color="#000004"/><stop offset="0.0856" stop-color="#070313"/><stop offset="0.3772" stop-color="#070314"/><stop offset="0.3787" stop-color="#0a051b"/><stop offset="0.3802" stop-color="#1a0c3f"/><stop offset="0.3832" stop-color="#220c47"/><stop offset="0.4323" stop-color="#260c4b"/><stop offset="0.4382" stop-color="#480c69"/><stop offset="0.4427" stop-color="#62146c"/><stop offset="0.8445" stop-color="#66166c"/><stop offset="0.849" stop-color="#70196d"/><stop offset="1" stop-color="#731a6d"/></linearGradient>
<linearGradient id="h192" gradientUnits="userSpaceOnUse" x1="205" x2="2372.5" y1="0" y2="0"><stop offset="0" stop-color="#000004"/><stop offset="0.032" stop-color="#0a041a"/><stop offset="0.0722" stop-color="#0a041a"/><stop offset="0.0841" stop-color="#140930"/><stop offset="0.3743" stop-color="#140931"/><stop offset="0.3772" stop-color="#180b3b"/><stop offset="0.3787" stop-color="#2a0c4f"/><stop offset="0.3832" stop-color="#2b0c50"/><stop offset="0.3847" stop-color="#3d0c5f"/><stop offset="0.4025" stop-color="#450c66"/><stop offset="0.407" stop-color="#56106c"/><stop offset="0.4516" stop-color="#64156c"/><stop offset="0.8445" stop-color="#64156c"/><stop offset="0.8966" stop-color="#6f196d"/><stop offset="1" stop-color="#6f196d"/></linearGradient>
<linearGradient id="h193" gradientUnits="userSpaceOnUse" x1="205" x2="2372.5" y1="0" y2="0"><stop offset="0" stop-color="#000004"/><stop offset="0.0126" stop-color="#010005"/><stop offset="0.0141" stop-color="#12082d"/><stop offset="0.026" stop-color="#140931"/><stop offset="0.0275" stop-color="#200c45"/><stop offset="0.0335" stop-color="#240c49"/><stop offset="0.3713" stop-color="#290c4d"/><stop offset="0.3743" stop-color="#290c4e"/><stop offset="0.3757" stop-color="#3e0c61"/><stop offset="0.3832" stop-color="#400c62"/><stop offset="0.3847" stop-color="#4d0d6b"/><stop offset="0.401" stop-color="#55106b"/><stop offset="0.41" stop-color="#731a6d"/><stop offset="0.4263" stop-color="#791c6d"/><stop offset="0.849" stop-color="#7a1d6d"/><stop offset="0.8653" stop-color="#8c2367"/><stop offset="1" stop-color="#902466"/></linearGradient>
<linearGradient id="h194" gradientUnits="userSpaceOnUse" x1="205" x2="2372.5" y1="0" y2="0"><stop offset="0" stop-color="#000004"/><stop offset="0.0499" stop-color="#04020d"/><stop offset="0.3906" stop-color="#04020e"/><stop offset="0.4249" stop-color="#0c051e"/><stop offset="0.8519" stop-color="#0c051e"/><stop offset="0.8698" stop-color="#11072a"/><stop offset="1" stop-color="#11082b"/></linearGradient>
<linearGradient id="h195" gradientUnits="userSpaceOnUse" x1="205" x2="2372.5" y1="0" y2="0"><stop offset="0" stop-color="#000004"/><stop offset="0.0692" stop-color="#070313"/><stop offset="0.3936" stop-color="#070314"/><stop offset="0.3996" stop-color="#0d0622"/><stop offset="0.4234" stop-color="#13082e"/><stop offset="0.8519" stop-color="#13082e"/><stop offset="0.8579" stop-color="#13082f"/><stop offset="0.8594" stop-color="#170a38"/><stop offset="0.8609" stop-color="#2a0c4e"/><stop offset="1" stop-color="#2b0c4f"/></linearGradient>
<linearGradient id="h196" gradientUnits="userSpaceOnUse" x1="205" x2="2372.5" y1="0" y2="0"><stop offset="0" stop-color="#000004"/><stop offset="0.035" stop-color="#000004"/><stop offset="0.0379" stop-color="#010107"/><stop offset="0.0409" stop-color="#0f0727"/><stop offset="0.0662" stop-color="#170a38"/><stop offset="0.3951" stop-color="#170a38"/><stop offset="0.3966" stop-color="#390c5c"/><stop offset="0.3981" stop-color="#490c6b"/><stop offset="0.3996" stop-color="#4e0d6b"/><stop offset="0.8698" stop-color="#510e6b"/><stop offset="0.8996" stop-color="#55106b"/><stop offset="0.9085" stop-color="#61146c"/><stop offset="1" stop-color="#61146c"/></linearGradient>
<linearGradient id="h197" gradientUnits="userSpaceOnUse" x1="205" x2="2372.5" y1="0" y2="0"><stop offset="0" stop-color="#000004"/><stop offset="0.035" stop-color="#000004"/><stop offset="0.0365" stop-color="#010006"/><stop offset="0.0379" stop-color="#080417"/><stop offset="0.0394" stop-color="#160a37"/><stop offset="0.0513" stop-color="#160a37"/><stop offset="0.0632" stop-color="#250c4a"/><stop offset="0.3966" stop-color="#250c4a"/><stop offset="0.3981" stop-color="#460c67"/><stop offset="0.4115" stop-color="#460c67"/><stop offset="0.4129" stop-color="#7a1d6c"/><stop offset="0.4144" stop-color="#821f6a"/><stop offset="0.8713" stop-color="#821f6a"/><stop offset="0.91" stop-color="#912566"/><stop offset="1" stop-color="#922565"/></linearGradient>
<linearGradient id="h198" gradientUnits="userSpaceOnUse" x1="205" x2="2372.5" y1="0" y2="0"><stop offset="0" stop-color="#000004"/><stop offset="1" stop-color="#070314"/></linearGradient>
<linearGradient id="h199" gradientUnits="userSpaceOnUse" x1="205" x2="2372.5" y1="0" y2="0"><stop offset="0" stop-color="#000004"/><stop offset="0.4531" stop-color="#020109"/><stop offset="0.4561" stop-color="#090418"/><stop offset="0.8162" stop-color="#090418"/><stop offset="0.8266" stop-color="#0c051f"/><stop offset="0.8281" stop-color="#190b3d"/><stop offset="0.8296" stop-color="#370c5a"/><stop offset="0.8311" stop-color="#390c5c"/><stop offset="0.8728" stop-color="#3a0c5d"/><stop offset="0.8743" stop-color="#490c6a"/><stop offset="0.8757" stop-color="#490c6a"/><stop offset="0.8772" stop-color="#65156c"/><stop offset="0.8981" stop-color="#67166c"/><stop offset="0.8996" stop-color="#7e1e6b"/><stop offset="1" stop-color="#811f6a"/></linearGradient>
<linearGradient id="h200" gradientUnits="userSpaceOnUse" x1="205" x2="2372.5" y1="0" y2="0"><stop offset="0" stop-color="#000004"/><stop offset="0.8147" stop-color="#020108"/><stop offset="0.8237" stop-color="#070315"/><stop offset="0.8266" stop-color="#12082d"/><stop offset="0.8326" stop-color="#170a38"/><stop offset="0.9189" stop-color="#180b3b"/><stop offset="0.9219" stop-color="#1e0c43"/><stop offset="0.9263" stop-color="#3b0c5e"/><stop offset="1" stop-color="#3f0c62"/></linearGradient>
<linearGradient id="h201" gradientUnits="userSpaceOnUse" x1="205" x2="2372.5" y1="0" y2="0"><stop offset="0" stop-color="#000004"/><stop offset="0.8132" stop-color="#000005"/><stop offset="0.8237" stop-color="#04020e"/><stop offset="0.8251" stop-color="#0e0624"/><stop offset="0.8311" stop-color="#0f0726"/><stop offset="0.8341" stop-color="#230c48"/><stop offset="0.9174" stop-color="#240c49"/><stop offset="0.9204" stop-color="#3d0c60"/><stop offset="0.9576" stop-color="#520f6b"/><stop offset="0.9591" stop-color="#61146c"/><stop offset="1" stop-color="#61146c"/></linearGradient>
<linearGradient id="h202" gradientUnits="userSpaceOnUse" x1="205" x2="2372.5" y1="0" y2="0"><stop offset="0" stop-color="#000004"/><stop offset="0.8326" stop-color="#03010b"/><stop offset="0.8356" stop-color="#0f0726"/><stop offset="0.9159" stop-color="#11082b"/><stop offset="0.9189" stop-color="#210c47"/><stop offset="0.9308" stop-color="#230c48"/><stop offset="0.9323" stop-color="#2d0c51"/><stop offset="0.9397" stop-color="#310c55"/><stop offset="0.9472" stop-color="#4a0c6b"/><stop offset="0.9531" stop-color="#5d136c"/><stop offset="0.9754" stop-color="#60146c"/><stop offset="0.9769" stop-color="#63156c"/><stop offset="0.9784" stop-color="#7d1e6c"/><stop offset="0.9799" stop-color="#83206a"/><stop offset="1" stop-color="#852169"/></linearGradient>
<linearGradient id="h203" gradientUnits="userSpaceOnUse" x1="205" x2="2372.5" y1="0" y2="0"><stop offset="0" stop-color="#000004"/><stop offset="0.6823" stop-color="#010006"/><stop offset="0.6927" stop-color="#0d0620"/><stop offset="0.7269" stop-color="#0d0621"/><stop offset="0.7403" stop-color="#140932"/><stop offset="0.9115" stop-color="#190b3d"/><stop offset="0.9308" stop-color="#1e0c44"/><stop offset="0.9323" stop-color="#2b0c50"/><stop offset="0.9412" stop-color="#3e0c60"/><stop offset="0.9725" stop-color="#480c69"/><stop offset="0.9799" stop-color="#5a126c"/><stop offset="0.9948" stop-color="#65156c"/><stop offset="1" stop-color="#761b6d"/></linearGradient>
<linearGradient id="h204" gradientUnits="userSpaceOnUse" x1="205" x2="2372.5" y1="0" y2="0"><stop offset="0" stop-color="#000004"/><stop offset="0.4621" stop-color="#000004"/><stop offset="0.532" stop-color="#03010a"/><stop offset="0.5335" stop-color="#070313"/><stop offset="0.6823" stop-color="#070315"/><stop offset="0.6957" stop-color="#12082d"/><stop offset="0.7254" stop-color="#160a35"/><stop offset="0.7314" stop-color="#280c4d"/><stop offset="0.7344" stop-color="#480c69"/><stop offset="0.7374" stop-color="#5b126c"/><stop offset="0.7433" stop-color="#6f196d"/><stop offset="0.7493" stop-color="#721a6d"/><stop offset="0.9338" stop-color="#771c6d"/><stop offset="0.9353" stop-color="#801f6b"/><stop offset="0.968" stop-color="#872169"/><stop offset="1" stop-color="#ab2f5c"/></linearGradient>
<linearGradient id="h205" gradientUnits="userSpaceOnUse" x1="205" x2="2372.5" y1="0" y2="0"><stop offset="0" stop-color="#000004"/><stop offset="0.6942" stop-color="#020109"/><stop offset="0.6972" stop-color="#0d0622"/><stop offset="0.7046" stop-color="#11082b"/><stop offset="0.7418" stop-color="#200c46"/><stop offset="0.7522" stop-color="#360c59"/><stop offset="0.7716" stop-color="#380c5b"/><stop offset="0.779" stop-color="#4a0c6b"/><stop offset="0.7969" stop-color="#4c0d6b"/><stop offset="0.8028" stop-color="#68166c"/><stop offset="0.8103" stop-color="#751b6d"/><stop offset="0.9353" stop-color="#751b6d"/><stop offset="0.9368" stop-color="#7d1e6c"/><stop offset="0.9695" stop-color="#801f6b"/><stop offset="0.9814" stop-color="#882268"/><stop offset="0.9874" stop-color="#982764"/><stop offset="1" stop-color="#992863"/></linearGradient>
<linearGradient id="h206" gradientUnits="userSpaceOnUse" x1="205" x2="2372.5" y1="0" y2="0"><stop offset="0" stop-color="#000004"/><stop offset="0.6659" stop-color="#010107"/><stop offset="0.6674" stop-color="#0d0621"/><stop offset="0.7626" stop-color="#150934"/><stop offset="0.7775" stop-color="#1c0c42"/><stop offset="0.8058" stop-color="#3e0c61"/><stop offset="0.9695" stop-color="#400c62"/><stop offset="0.971" stop-color="#64156c"/><stop offset="1" stop-color="#68176c"/></linearGradient>
<linearGradient id="h207" gradientUnits="userSpaceOnUse" x1="205" x2="2372.5" y1="0" y2="0"><stop offset="0" stop-color="#000004"/><stop offset="0.4635" stop-color="#000004"/><stop offset="0.4933" stop-color="#010107"/><stop offset="0.4963" stop-color="#080417"/><stop offset="0.5052" stop-color="#090417"/><stop offset="0.5112" stop-color="#160a35"/><stop offset="0.6659" stop-color="#160a37"/><stop offset="0.6674" stop-color="#3f0c61"/><stop offset="0.6689" stop-color="#400c62"/><stop offset="0.7061" stop-color="#400c62"/><stop offset="0.7135" stop-color="#500e6b"/><stop offset="0.7552" stop-color="#510e6b"/><stop offset="0.7641" stop-color="#6a176c"/><stop offset="0.7805" stop-color="#6b176c"/><stop offset="0.7909" stop-color="#7e1e6b"/><stop offset="1" stop-color="#7e1e6b"/></linearGradient>
<linearGradient id="h208" gradientUnits="userSpaceOnUse" x1="205" x2="2372.5" y1="0" y2="0"><stop offset="0" stop-color="#000004"/><stop offset="0.4918" stop-color="#000004"/><stop offset="0.5112" stop-color="#090419"/><stop offset="1" stop-color="#0d0621"/></linearGradient>
<linearGradient id="h209" gradientUnits="userSpaceOnUse" x1="205" x2="2372.5" y1="0" y2="0"><stop offset="0" stop-color="#000004"/><stop offset="0.4903" stop-color="#000004"/><stop offset="0.4978" stop-color="#010005"/><stop offset="0.4993" stop-color="#070315"/><stop offset="0.5052" stop-color="#0b051d"/><stop offset="0.5126" stop-color="#0b051e"/><stop offset="1" stop-color="#0f0725"/></linearGradient>
<linearGradient id="h210" gradientUnits="userSpaceOnUse" x1="205" x2="2372.5" y1="0" y2="0"><stop offset="0" stop-color="#000004"/><stop offset="0.4888" stop-color="#000004"/><stop offset="0.4978" stop-color="#03010b"/><stop offset="0.5022" stop-color="#0f0625"/><stop offset="0.5037" stop-color="#200c45"/><stop offset="0.5662" stop-color="#240c49"/><stop offset="0.5692" stop-color="#2e0c52"/><stop offset="0.651" stop-color="#2e0c52"/><stop offset="0.657" stop-color="#430c65"/><stop offset="0.6659" stop-color="#4c0d6b"/><stop offset="1" stop-color="#4c0d6b"/></linearGradient>
<linearGradient id="h211" gradientUnits="userSpaceOnUse" x1="205" x2="2372.5" y1="0" y2="0"><stop offset="0" stop-color="#000004"/><stop offset="0.465" stop-color="#000004"/><stop offset="0.5171" stop-color="#090418"/><stop offset="0.5647" stop-color="#090419"/><stop offset="0.5722" stop-color="#210c46"/><stop offset="0.6496" stop-color="#250c4a"/><stop offset="0.651" stop-color="#340c58"/><stop offset="0.6555" stop-color="#360c59"/><stop offset="0.657" stop-color="#4b0c6b"/><stop offset="0.6644" stop-color="#6f196d"/><stop offset="0.6734" stop-color="#751b6d"/><stop offset="1" stop-color="#751b6d"/></linearGradient>
<linearGradient id="h212" gradientUnits="userSpaceOnUse" x1="205" x2="2372.5" y1="0" y2="0"><stop offset="0" stop-color="#000004"/><stop offset="0.4725" stop-color="#000004"/><stop offset="0.5186" stop-color="#04020c"/><stop offset="0.5201" stop-color="#080417"/><stop offset="0.5603" stop-color="#090419"/><stop offset="0.5692" stop-color="#100727"/><stop offset="0.5707" stop-color="#12082d"/><stop offset="0.5722" stop-color="#4b0c6b"/><stop offset="0.5781" stop-color="#54106b"/><stop offset="0.6436" stop-color="#57106c"/><stop offset="0.6496" stop-color="#69176c"/><stop offset="0.6734" stop-color="#6f196d"/><stop offset="1" stop-color="#6f196d"/></linearGradient>
<linearGradient id="h213" gradientUnits="userSpaceOnUse" x1="205" x2="2372.5" y1="0" y2="0"><stop offset="0" stop-color="#000004"/><stop offset="0.5171" stop-color="#010006"/><stop offset="0.5201" stop-color="#020109"/><stop offset="0.5216" stop-color="#13092f"/><stop offset="0.6317" stop-color="#180b3a"/><stop offset="0.6332" stop-color="#240c49"/><stop offset="0.6347" stop-color="#480c69"/><stop offset="0.6406" stop-color="#530f6b"/><stop offset="0.6481" stop-color="#5b126c"/><stop offset="1" stop-color="#5b126c"/></linearGradient>
<linearGradient id="h214" gradientUnits="userSpaceOnUse" x1="205" x2="2372.5" y1="0" y2="0"><stop offset="0" stop-color="#000004"/><stop offset="0.4754" stop-color="#000004"/><stop offset="0.5871" stop-color="#0a051b"/><stop offset="0.59" stop-color="#150a34"/><stop offset="0.6138" stop-color="#150a34"/><stop offset="0.6168" stop-color="#240c49"/><stop offset="0.6347" stop-color="#260c4b"/><stop offset="0.6376" stop-color="#2c0c50"/><stop offset="0.6406" stop-color="#460c68"/><stop offset="0.6421" stop-color="#480c6a"/><stop offset="1" stop-color="#480c6a"/></linearGradient>
<linearGradient id="h215" gradientUnits="userSpaceOnUse" x1="205" x2="2372.5" y1="0" y2="0"><stop offset="0" stop-color="#000004"/><stop offset="0.4754" stop-color="#000004"/><stop offset="0.5856" stop-color="#0a041a"/><stop offset="0.59" stop-color="#0c051f"/><stop offset="0.5915" stop-color="#150a34"/><stop offset="0.6168" stop-color="#190b3c"/><stop offset="0.6183" stop-color="#260c4b"/><stop offset="0.6272" stop-color="#3a0c5d"/><stop offset="1" stop-color="#3c0c5e"/></linearGradient>
<linearGradient id="h216" gradientUnits="userSpaceOnUse" x1="205" x2="2372.5" y1="0" y2="0"><stop offset="0" stop-color="#000004"/><stop offset="0.5231" stop-color="#010005"/><stop offset="0.5588" stop-color="#0a041a"/><stop offset="0.59" stop-color="#0a051b"/><stop offset="0.6168" stop-color="#12082d"/><stop offset="0.6317" stop-color="#1f0c45"/><stop offset="1" stop-color="#1f0c45"/></linearGradient>
<linearGradient id="h217" gradientUnits="userSpaceOnUse" x1="205" x2="2372.5" y1="0" y2="0"><stop offset="0" stop-color="#000004"/><stop offset="0.5499" stop-color="#010006"/><stop offset="0.5573" stop-color="#090419"/><stop offset="0.5796" stop-color="#090419"/><stop offset="0.5856" stop-color="#13082e"/><stop offset="0.5915" stop-color="#13082e"/><stop offset="0.593" stop-color="#190b3c"/><stop offset="0.6034" stop-color="#190b3d"/><stop offset="0.6049" stop-color="#430c65"/><stop offset="0.6124" stop-color="#4f0e6b"/><stop offset="0.6272" stop-color="#500e6b"/><stop offset="0.6317" stop-color="#6e186d"/><stop offset="1" stop-color="#6e186d"/></linearGradient>
<linearGradient id="h218" gradientUnits="userSpaceOnUse" x1="205" x2="2372.5" y1="0" y2="0"><stop offset="0" stop-color="#000004"/><stop offset="0.5439" stop-color="#000004"/><stop offset="0.599" stop-color="#03010b"/><stop offset="0.6079" stop-color="#0b051d"/><stop offset="1" stop-color="#0b051d"/></linearGradient>
<linearGradient id="h219" gradientUnits="userSpaceOnUse" x1="205" x2="2372.5" y1="0" y2="0"><stop offset="0" stop-color="#000004"/><stop offset="0.5439" stop-color="#000005"/><stop offset="0.599" stop-color="#050210"/><stop offset="0.6064" stop-color="#0c051f"/><stop offset="0.6079" stop-color="#13082f"/><stop offset="1" stop-color="#13082f"/></linearGradient>
<linearGradient id="h220" gradientUnits="userSpaceOnUse" x1="205" x2="2372.5" y1="0" y2="0"><stop offset="0" stop-color="#000004"/><stop offset="0.5811" stop-color="#000005"/><stop offset="0.599" stop-color="#020108"/><stop offset="0.6064" stop-color="#0a041a"/><stop offset="1" stop-color="#0a041a"/></linearGradient>
<linearGradient id="h230" gradientUnits="userSpaceOnUse" x1="205" x2="2372.5" y1="0" y2="0"><stop offset="0" stop-color="#000004"/><stop offset="0.1734" stop-color="#000004"/><stop offset="0.1749" stop-color="#010107"/><stop offset="0.1763" stop-color="#090418"/><stop offset="0.1793" stop-color="#0a041a"/><stop offset="0.2046" stop-color="#0a041a"/><stop offset="0.2106" stop-color="#1b0c40"/><stop offset="0.215" stop-color="#220c47"/><stop offset="1" stop-color="#230c48"/></linearGradient>
<linearGradient id="h231" gradientUnits="userSpaceOnUse" x1="205" x2="2372.5" y1="0" y2="0"><stop offset="0" stop-color="#000004"/><stop offset="0.1734" stop-color="#000004"/><stop offset="0.1793" stop-color="#05020f"/><stop offset="0.2046" stop-color="#05020f"/><stop offset="0.215" stop-color="#100727"/><stop offset="1" stop-color="#100728"/></linearGradient>
<linearGradient id="h233" gradientUnits="userSpaceOnUse" x1="205" x2="2372.5" y1="0" y2="0"><stop offset="0" stop-color="#000004"/><stop offset="0.1525" stop-color="#000004"/><stop offset="0.3356" stop-color="#090418"/><stop offset="1" stop-color="#090418"/></linearGradient>
<linearGradient id="h234" gradientUnits="userSpaceOnUse" x1="205" x2="2372.5" y1="0" y2="0"><stop offset="0" stop-color="#000004"/><stop offset="0.1034" stop-color="#000004"/><stop offset="0.1079" stop-color="#060312"/><stop offset="0.151" stop-color="#060312"/><stop offset="0.1585" stop-color="#0e0624"/><stop offset="0.1823" stop-color="#100729"/><stop offset="0.1912" stop-color="#1a0c3f"/><stop offset="0.2225" stop-color="#1d0c43"/><stop offset="0.2403" stop-color="#2a0c4e"/><stop offset="0.2567" stop-color="#4c0d6b"/><stop offset="0.2686" stop-color="#64156c"/><stop offset="0.3043" stop-color="#751b6d"/><stop offset="0.3147" stop-color="#83206a"/><stop offset="0.3177" stop-color="#912566"/><stop offset="0.3266" stop-color="#952665"/><stop offset="1" stop-color="#962764"/></linearGradient>
<linearGradient id="h235" gradientUnits="userSpaceOnUse" x1="205" x2="2372.5" y1="0" y2="0"><stop offset="0" stop-color="#000004"/><stop offset="0.1034" stop-color="#000004"/><stop offset="0.1496" stop-color="#03010b"/><stop offset="0.1629" stop-color="#090419"/><stop offset="0.224" stop-color="#0a051b"/><stop offset="0.2656" stop-color="#190b3d"/><stop offset="0.2909" stop-color="#1a0c3f"/><stop offset="0.3162" stop-color="#2f0c53"/><stop offset="1" stop-color="#300c54"/></linearGradient>
<linearGradient id="h236" gradientUnits="userSpaceOnUse" x1="205" x2="2372.5" y1="0" y2="0"><stop offset="0" stop-color="#000004"/><stop offset="0.1302" stop-color="#010107"/><stop offset="0.16" stop-color="#04020d"/><stop offset="0.1644" stop-color="#0e0624"/><stop offset="0.2909" stop-color="#12082d"/><stop offset="0.3028" stop-color="#170a37"/><stop offset="1" stop-color="#170a38"/></linearGradient>
<linearGradient id="h237" gradientUnits="userSpaceOnUse" x1="205" x2="2372.5" y1="0" y2="0"><stop offset="0" stop-color="#000004"/><stop offset="0.1287" stop-color="#020109"/><stop offset="0.1302" stop-color="#04020d"/><stop offset="0.1317" stop-color="#0d0622"/><stop offset="0.1376" stop-color="#0d0622"/><stop offset="0.1391" stop-color="#1d0c43"/><stop offset="0.1644" stop-color="#2a0c4f"/><stop offset="1" stop-color="#2b0c4f"/></linearGradient>
<linearGradient id="h240" gradientUnits="userSpaceOnUse" x1="205" x2="2372.5" y1="0" y2="0"><stop offset="0" stop-color="#000004"/><stop offset="0.1138" stop-color="#000005"/><stop offset="0.1183" stop-color="#060311"/><stop offset="0.1198" stop-color="#420c64"/><stop offset="0.1347" stop-color="#430c65"/><stop offset="0.1362" stop-color="#4c0d6b"/><stop offset="1" stop-color="#4c0d6b"/></linearGradient>
<linearGradient id="h242" gradientUnits="userSpaceOnUse" x1="205" x2="2372.5" y1="0" y2="0"><stop offset="0" stop-color="#000004"/><stop offset="0.0915" stop-color="#000004"/><stop offset="0.096" stop-color="#070314"/><stop offset="0.3519" stop-color="#070314"/><stop offset="0.3549" stop-color="#0b051c"/><stop offset="0.3579" stop-color="#160a35"/><stop offset="0.3594" stop-color="#270c4c"/><stop offset="0.3609" stop-color="#490c6a"/><stop offset="0.3638" stop-color="#5d126c"/><stop offset="1" stop-color="#5f136c"/></linearGradient>
<linearGradient id="h243" gradientUnits="userSpaceOnUse" x1="205" x2="2372.5" y1="0" y2="0"><stop offset="0" stop-color="#000004"/><stop offset="0.349" stop-color="#04020c"/><stop offset="0.3549" stop-color="#070314"/><stop offset="0.3579" stop-color="#0f0726"/><stop offset="0.3624" stop-color="#0f0727"/><stop offset="0.3638" stop-color="#160a36"/><stop offset="0.3683" stop-color="#170a38"/><stop offset="1" stop-color="#170a38"/></linearGradient>
<linearGradient id="h244" gradientUnits="userSpaceOnUse" x1="205" x2="2372.5" y1="0" y2="0"><stop offset="0" stop-color="#04020e"/><stop offset="0.0856" stop-color="#05020e"/><stop offset="0.0975" stop-color="#0a041a"/><stop offset="0.3504" stop-color="#0a041a"/><stop offset="0.3519" stop-color="#0d0622"/><stop offset="0.3668" stop-color="#0d0622"/><stop offset="0.3683" stop-color="#11082c"/><stop offset="0.8847" stop-color="#11082c"/><stop offset="0.8862" stop-color="#1b0c40"/><stop offset="1" stop-color="#1b0c40"/></linearGradient>
<linearGradient id="h245" gradientUnits="userSpaceOnUse" x1="205" x2="2372.5" y1="0" y2="0"><stop offset="0" stop-color="#020109"/><stop offset="0.0037" stop-color="#060312"/><stop offset="0.3683" stop-color="#070315"/><stop offset="0.3802" stop-color="#080417"/><stop offset="0.3817" stop-color="#12082d"/><stop offset="0.4338" stop-color="#12082d"/><stop offset="0.4368" stop-color="#250c4a"/><stop offset="0.4382" stop-color="#490c6b"/><stop offset="0.4397" stop-color="#490c6b"/><stop offset="0.4412" stop-color="#5d126c"/><stop offset="1" stop-color="#65156c"/></linearGradient>
<linearGradient id="h246" gradientUnits="userSpaceOnUse" x1="205" x2="2372.5" y1="0" y2="0"><stop offset="0" stop-color="#000004"/><stop offset="0.3787" stop-color="#010006"/><stop offset="0.3832" stop-color="#060311"/><stop offset="0.4338" stop-color="#070313"/><stop offset="0.4427" stop-color="#1f0c44"/><stop offset="1" stop-color="#220c47"/></linearGradient>
<linearGradient id="h247" gradientUnits="userSpaceOnUse" x1="205" x2="2372.5" y1="0" y2="0"><stop offset="0" stop-color="#000004"/><stop offset="0.032" stop-color="#090418"/><stop offset="0.0737" stop-color="#090418"/><stop offset="0.0856" stop-color="#11072a"/><stop offset="0.3698" stop-color="#11072a"/><stop offset="0.3772" stop-color="#13082f"/><stop offset="0.3787" stop-color="#210c46"/><stop offset="0.3802" stop-color="#290c4d"/><stop offset="0.3876" stop-color="#380c5b"/><stop offset="0.4249" stop-color="#3f0c61"/><stop offset="0.4338" stop-color="#4a0c6b"/><stop offset="0.4516" stop-color="#520f6b"/><stop offset="0.8445" stop-color="#520f6b"/><stop offset="0.8966" stop-color="#5f136c"/><stop offset="1" stop-color="#5f136c"/></linearGradient>
<linearGradient id="h248" gradientUnits="userSpaceOnUse" x1="205" x2="2372.5" y1="0" y2="0"><stop offset="0" stop-color="#000004"/><stop offset="0.0126" stop-color="#010006"/><stop offset="0.0141" stop-color="#0a051b"/><stop offset="0.026" stop-color="#0c051f"/><stop offset="0.0275" stop-color="#11082b"/><stop offset="0.032" stop-color="#13082f"/><stop offset="0.0841" stop-color="#170a38"/><stop offset="0.3743" stop-color="#170a38"/><stop offset="0.3757" stop-color="#220c47"/><stop offset="0.3832" stop-color="#270c4b"/><stop offset="0.3847" stop-color="#350c58"/><stop offset="0.401" stop-color="#3c0c5e"/><stop offset="0.407" stop-color="#510f6b"/><stop offset="0.4323" stop-color="#5b126c"/><stop offset="0.849" stop-color="#5b126c"/><stop offset="0.8653" stop-color="#67166c"/><stop offset="1" stop-color="#69176c"/></linearGradient>
<linearGradient id="h249" gradientUnits="userSpaceOnUse" x1="205" x2="2372.5" y1="0" y2="0"><stop offset="0" stop-color="#000004"/><stop offset="0.0499" stop-color="#070315"/><stop offset="0.3713" stop-color="#080315"/><stop offset="0.3921" stop-color="#090418"/><stop offset="0.4249" stop-color="#13082f"/><stop offset="0.8504" stop-color="#13082f"/><stop offset="0.8698" stop-color="#1b0c40"/><stop offset="1" stop-color="#1c0c42"/></linearGradient>
<linearGradient id="h251" gradientUnits="userSpaceOnUse" x1="205" x2="2372.5" y1="0" y2="0"><stop offset="0" stop-color="#000004"/><stop offset="0.035" stop-color="#000004"/><stop offset="0.0379" stop-color="#010005"/><stop offset="0.0409" stop-color="#080416"/><stop offset="0.0662" stop-color="#0c051f"/><stop offset="0.3951" stop-color="#0c051f"/><stop offset="0.3981" stop-color="#1a0c40"/><stop offset="0.3996" stop-color="#1c0c42"/><stop offset="0.4219" stop-color="#1e0c43"/><stop offset="1" stop-color="#260c4b"/></linearGradient>
<linearGradient id="h252" gradientUnits="userSpaceOnUse" x1="205" x2="2372.5" y1="0" y2="0"><stop offset="0" stop-color="#000004"/><stop offset="0.0365" stop-color="#000005"/><stop offset="0.0394" stop-color="#0d0621"/><stop offset="0.0558" stop-color="#0e0624"/><stop offset="0.0573" stop-color="#140932"/><stop offset="0.0632" stop-color="#180b3a"/><stop offset="0.3966" stop-color="#180b3a"/><stop offset="0.3981" stop-color="#230c48"/><stop offset="0.4115" stop-color="#230c48"/><stop offset="0.4129" stop-color="#4d0d6b"/><stop offset="0.8713" stop-color="#500e6b"/><stop offset="1" stop-color="#5a126c"/></linearGradient>
<linearGradient id="h254" gradientUnits="userSpaceOnUse" x1="205" x2="2372.5" y1="0" y2="0"><stop offset="0" stop-color="#000004"/><stop offset="0.8147" stop-color="#05020f"/><stop offset="0.8207" stop-color="#0d0621"/><stop offset="0.8251" stop-color="#0d0621"/><stop offset="0.8281" stop-color="#1e0c44"/><stop offset="0.8311" stop-color="#2c0c50"/><stop offset="0.9204" stop-color="#3a0c5d"/><stop offset="0.9263" stop-color="#5b126c"/><stop offset="1" stop-color="#60146c"/></linearGradient>
<linearGradient id="h255" gradientUnits="userSpaceOnUse" x1="205" x2="2372.5" y1="0" y2="0"><stop offset="0" stop-color="#000004"/><stop offset="0.8147" stop-color="#010005"/><stop offset="0.8237" stop-color="#050210"/><stop offset="0.8251" stop-color="#0f0625"/><stop offset="0.8311" stop-color="#12082d"/><stop offset="0.8341" stop-color="#1d0c43"/><stop offset="0.9174" stop-color="#1e0c44"/><stop offset="0.9263" stop-color="#3d0c60"/><stop offset="0.9576" stop-color="#430c65"/><stop offset="0.9591" stop-color="#4e0d6b"/><stop offset="1" stop-color="#4e0d6b"/></linearGradient>
<linearGradient id="h256" gradientUnits="userSpaceOnUse" x1="205" x2="2372.5" y1="0" y2="0"><stop offset="0" stop-color="#000004"/><stop offset="0.8207" stop-color="#020109"/><stop offset="0.8326" stop-color="#050210"/><stop offset="0.8341" stop-color="#11072a"/><stop offset="0.8356" stop-color="#140931"/><stop offset="0.9159" stop-color="#160a36"/><stop offset="0.9174" stop-color="#1a0c3f"/><stop offset="0.9189" stop-color="#2d0c51"/><stop offset="0.9397" stop-color="#380c5b"/><stop offset="0.9457" stop-color="#4e0d6b"/><stop offset="0.9516" stop-color="#60146c"/><stop offset="0.9754" stop-color="#66166c"/><stop offset="0.9799" stop-color="#7f1e6b"/><stop offset="1" stop-color="#7f1f6b"/></linearGradient>
<linearGradient id="h257" gradientUnits="userSpaceOnUse" x1="205" x2="2372.5" y1="0" y2="0"><stop offset="0" stop-color="#000004"/><stop offset="0.6823" stop-color="#010005"/><stop offset="0.6927" stop-color="#080316"/><stop offset="0.7403" stop-color="#0c051f"/><stop offset="0.8341" stop-color="#0c0520"/><stop offset="0.8356" stop-color="#100728"/><stop offset="0.9308" stop-color="#130930"/><stop offset="0.9323" stop-color="#190b3e"/><stop offset="0.9412" stop-color="#260c4a"/><stop offset="0.9725" stop-color="#2f0c53"/><stop offset="0.9799" stop-color="#400c62"/><stop offset="1" stop-color="#500e6b"/></linearGradient>
<linearGradient id="h258" gradientUnits="userSpaceOnUse" x1="205" x2="2372.5" y1="0" y2="0"><stop offset="0" stop-color="#000004"/><stop offset="0.6763" stop-color="#04020c"/><stop offset="0.6957" stop-color="#0b051c"/><stop offset="0.7254" stop-color="#0d0622"/><stop offset="0.7314" stop-color="#140932"/><stop offset="0.7374" stop-color="#2a0c4e"/><stop offset="0.7463" stop-color="#370c5a"/><stop offset="0.9338" stop-color="#3b0c5e"/><stop offset="1" stop-color="#5b126c"/></linearGradient>
<linearGradient id="h259" gradientUnits="userSpaceOnUse" x1="205" x2="2372.5" y1="0" y2="0"><stop offset="0" stop-color="#000004"/><stop offset="0.6942" stop-color="#020109"/><stop offset="0.6972" stop-color="#0c0520"/><stop offset="0.7046" stop-color="#110729"/><stop offset="0.7418" stop-color="#1d0c43"/><stop offset="0.7522" stop-color="#310c55"/><stop offset="0.7716" stop-color="#360c5a"/><stop offset="0.779" stop-color="#4b0c6b"/><stop offset="0.7969" stop-color="#510e6b"/><stop offset="0.8028" stop-color="#70196d"/><stop offset="0.8103" stop-color="#7e1e6b"/><stop offset="0.9353" stop-color="#7e1e6b"/><stop offset="0.9368" stop-color="#852169"/><stop offset="0.9695" stop-color="#892268"/><stop offset="0.971" stop-color="#9c2963"/><stop offset="0.9725" stop-color="#a02a61"/><stop offset="1" stop-color="#b03359"/></linearGradient>
<linearGradient id="h260" gradientUnits="userSpaceOnUse" x1="205" x2="2372.5" y1="0" y2="0"><stop offset="0" stop-color="#000004"/><stop offset="0.6659" stop-color="#03010a"/><stop offset="0.6674" stop-color="#0f0727"/><stop offset="0.7507" stop-color="#140931"/><stop offset="0.7805" stop-color="#1b0c40"/><stop offset="0.7999" stop-color="#2f0c52"/><stop offset="0.9695" stop-color="#310c55"/><stop offset="0.971" stop-color="#440c66"/><stop offset="1" stop-color="#460c67"/></linearGradient>
<linearGradient id="h261" gradientUnits="userSpaceOnUse" x1="205" x2="2372.5" y1="0" y2="0"><stop offset="0" stop-color="#000004"/><stop offset="0.4933" stop-color="#010006"/><stop offset="0.4978" stop-color="#0a051b"/><stop offset="0.5052" stop-color="#0a051b"/><stop offset="0.5067" stop-color="#170a37"/><stop offset="0.5112" stop-color="#220c47"/><stop offset="0.6659" stop-color="#230c48"/><stop offset="0.6674" stop-color="#3b0c5e"/><stop offset="0.6689" stop-color="#3d0c5f"/><stop offset="0.7552" stop-color="#4b0c6b"/><stop offset="0.7641" stop-color="#67166c"/><stop offset="0.7879" stop-color="#70196d"/><stop offset="1" stop-color="#70196d"/></linearGradient>
<linearGradient id="h262" gradientUnits="userSpaceOnUse" x1="205" x2="2372.5" y1="0" y2="0"><stop offset="0" stop-color="#000004"/><stop offset="0.4903" stop-color="#000004"/><stop offset="0.5126" stop-color="#080416"/><stop offset="1" stop-color="#0a041b"/></linearGradient>
<linearGradient id="h263" gradientUnits="userSpaceOnUse" x1="205" x2="2372.5" y1="0" y2="0"><stop offset="0" stop-color="#000004"/><stop offset="0.4888" stop-color="#000004"/><stop offset="0.4978" stop-color="#010107"/><stop offset="0.4993" stop-color="#090417"/><stop offset="0.5022" stop-color="#0b051e"/><stop offset="0.5037" stop-color="#150934"/><stop offset="0.5275" stop-color="#170a37"/><stop offset="0.651" stop-color="#180b3a"/><stop offset="0.654" stop-color="#1f0c44"/><stop offset="0.6659" stop-color="#240c49"/><stop offset="1" stop-color="#240c49"/></linearGradient>
<linearGradient id="h264" gradientUnits="userSpaceOnUse" x1="205" x2="2372.5" y1="0" y2="0"><stop offset="0" stop-color="#000004"/><stop offset="0.4874" stop-color="#000004"/><stop offset="0.6496" stop-color="#060311"/><stop offset="0.6734" stop-color="#0d0621"/><stop offset="1" stop-color="#0d0621"/></linearGradient>
<linearGradient id="h265" gradientUnits="userSpaceOnUse" x1="205" x2="2372.5" y1="0" y2="0"><stop offset="0" stop-color="#000004"/><stop offset="0.4725" stop-color="#000004"/><stop offset="0.5186" stop-color="#050210"/><stop offset="0.5201" stop-color="#090419"/><stop offset="0.5603" stop-color="#0a051b"/><stop offset="0.5692" stop-color="#11072a"/><stop offset="0.5707" stop-color="#160a35"/><stop offset="0.5722" stop-color="#520f6b"/><stop offset="0.5781" stop-color="#5b126c"/><stop offset="0.6436" stop-color="#5d136c"/><stop offset="0.651" stop-color="#741b6d"/><stop offset="0.6734" stop-color="#83206a"/><stop offset="1" stop-color="#83206a"/></linearGradient>
<linearGradient id="h266" gradientUnits="userSpaceOnUse" x1="205" x2="2372.5" y1="0" y2="0"><stop offset="0" stop-color="#000004"/><stop offset="0.5171" stop-color="#010006"/><stop offset="0.5201" stop-color="#020108"/><stop offset="0.5216" stop-color="#0d0621"/><stop offset="0.6317" stop-color="#12082c"/><stop offset="0.6332" stop-color="#170a39"/><stop offset="0.6347" stop-color="#2d0c51"/><stop offset="0.6466" stop-color="#3b0c5e"/><stop offset="1" stop-color="#3c0c5e"/></linearGradient>
<linearGradient id="h267" gradientUnits="userSpaceOnUse" x1="205" x2="2372.5" y1="0" y2="0"><stop offset="0" stop-color="#000004"/><stop offset="0.4754" stop-color="#000004"/><stop offset="0.5871" stop-color="#05020e"/><stop offset="0.5915" stop-color="#090419"/><stop offset="0.6347" stop-color="#0f0726"/><stop offset="0.6421" stop-color="#150933"/><stop offset="1" stop-color="#150933"/></linearGradient>
<linearGradient id="h268" gradientUnits="userSpaceOnUse" x1="205" x2="2372.5" y1="0" y2="0"><stop offset="0" stop-color="#000004"/><stop offset="0.5216" stop-color="#010006"/><stop offset="0.5856" stop-color="#05020e"/><stop offset="0.5915" stop-color="#0a041a"/><stop offset="0.6168" stop-color="#0b051e"/><stop offset="0.6287" stop-color="#150933"/><stop offset="1" stop-color="#150933"/></linearGradient>
<linearGradient id="h269" gradientUnits="userSpaceOnUse" x1="205" x2="2372.5" y1="0" y2="0"><stop offset="0" stop-color="#000004"/><stop offset="0.5231" stop-color="#010006"/><stop offset="0.526" stop-color="#090418"/><stop offset="0.5499" stop-color="#0a0419"/><stop offset="0.5588" stop-color="#190b3d"/><stop offset="0.5915" stop-color="#1d0c43"/><stop offset="0.593" stop-color="#2e0c52"/><stop offset="0.6034" stop-color="#310c55"/><stop offset="0.6049" stop-color="#450c66"/><stop offset="0.6272" stop-color="#61146c"/><stop offset="0.6317" stop-color="#83206a"/><stop offset="1" stop-color="#83206a"/></linearGradient>
</defs>
<rect width="2880" height="1620" fill="#fff"/>
<text id="title" x="724.5" y="79.3" font-size="53" fill="#151515" stroke="#fff" stroke-width="1.1" textLength="1430" lengthAdjust="spacing">Bitcoin: Aggregated Liquidation Levels Heatmap - 14 days</text>
<rect x="40" y="117.4" width="39" height="1114.6" fill="url(#cb)"/>
<text x="85.5" y="1239.5" font-size="21" fill="#3a4b69">$0</text>
<text x="85.5" y="1084.8" font-size="21" fill="#3a4b69">$0.2B</text>
<text x="85.5" y="930.1" font-size="21" fill="#3a4b69">$0.4B</text>
<text x="85.5" y="775.4" font-size="21" fill="#3a4b69">$0.6B</text>
<text x="85.5" y="620.7" font-size="21" fill="#3a4b69">$0.8B</text>
<text x="85.5" y="466.0" font-size="21" fill="#3a4b69">$1B</text>
<text x="85.5" y="311.3" font-size="21" fill="#3a4b69">$1.2B</text>
<text x="85.5" y="156.6" font-size="21" fill="#3a4b69">$1.4B</text>
<rect x="205" y="98.5" width="2167.5" height="1068" fill="#000004"/>
<g clip-path="url(#hc)"><g filter="url(#vb)">
<rect x="205" y="98.20" width="2167.5" height="4.56" fill="url(#h0)"/>
<rect x="205" y="102.16" width="2167.5" height="4.56" fill="url(#h1)"/>
<rect x="205" y="114.02" width="2167.5" height="4.56" fill="url(#h4)"/>
<rect x="205" y="117.98" width="2167.5" height="4.56" fill="url(#h5)"/>
<rect x="205" y="121.93" width="2167.5" height="4.56" fill="url(#h6)"/>
<rect x="205" y="125.89" width="2167.5" height="4.56" fill="url(#h7)"/>
<rect x="205" y="129.84" width="2167.5" height="4.56" fill="url(#h8)"/>
<rect x="205" y="133.80" width="2167.5" height="4.56" fill="url(#h9)"/>
<rect x="205" y="137.76" width="2167.5" height="4.56" fill="url(#h10)"/>
<rect x="205" y="153.58" width="2167.5" height="4.56" fill="url(#h14)"/>
<rect x="205" y="157.53" width="2167.5" height="4.56" fill="url(#h15)"/>
<rect x="205" y="161.49" width="2167.5" height="4.56" fill="url(#h16)"/>
<rect x="205" y="165.44" width="2167.5" height="4.56" fill="url(#h17)"/>
<rect x="205" y="173.36" width="2167.5" height="4.56" fill="url(#h19)"/>
<rect x="205" y="177.31" width="2167.5" height="4.56" fill="url(#h20)"/>
<rect x="205" y="181.27" width="2167.5" height="4.56" fill="url(#h21)"/>
<rect x="205" y="189.18" width="2167.5" height="4.56" fill="url(#h23)"/>
<rect x="205" y="193.13" width="2167.5" height="4.56" fill="url(#h24)"/>
<rect x="205" y="197.09" width="2167.5" height="4.56" fill="url(#h25)"/>
<rect x="205" y="201.04" width="2167.5" height="4.56" fill="url(#h26)"/>
<rect x="205" y="205.00" width="2167.5" height="4.56" fill="url(#h27)"/>
<rect x="205" y="216.87" width="2167.5" height="4.56" fill="url(#h30)"/>
<rect x="205" y="224.78" width="2167.5" height="4.56" fill="url(#h32)"/>
<rect x="205" y="228.73" width="2167.5" height="4.56" fill="url(#h33)"/>
<rect x="205" y="236.64" width="2167.5" height="4.56" fill="url(#h35)"/>
<rect x="205" y="244.56" width="2167.5" height="4.56" fill="url(#h37)"/>
<rect x="205" y="248.51" width="2167.5" height="4.56" fill="url(#h38)"/>
<rect x="205" y="252.47" width="2167.5" height="4.56" fill="url(#h39)"/>
<rect x="205" y="256.42" width="2167.5" height="4.56" fill="url(#h40)"/>
<rect x="205" y="260.38" width="2167.5" height="4.56" fill="url(#h41)"/>
<rect x="205" y="264.33" width="2167.5" height="4.56" fill="url(#h42)"/>
<rect x="205" y="268.29" width="2167.5" height="4.56" fill="url(#h43)"/>
<rect x="205" y="272.24" width="2167.5" height="4.56" fill="url(#h44)"/>
<rect x="205" y="276.20" width="2167.5" height="4.56" fill="url(#h45)"/>
<rect x="205" y="284.11" width="2167.5" height="4.56" fill="url(#h47)"/>
<rect x="205" y="292.02" width="2167.5" height="4.56" fill="url(#h49)"/>
<rect x="205" y="295.98" width="2167.5" height="4.56" fill="url(#h50)"/>
<rect x="205" y="299.93" width="2167.5" height="4.56" fill="url(#h51)"/>
<rect x="205" y="303.89" width="2167.5" height="4.56" fill="url(#h52)"/>
<rect x="205" y="307.84" width="2167.5" height="4.56" fill="url(#h53)"/>
<rect x="205" y="311.80" width="2167.5" height="4.56" fill="url(#h54)"/>
<rect x="205" y="319.71" width="2167.5" height="4.56" fill="url(#h56)"/>
<rect x="205" y="323.67" width="2167.5" height="4.56" fill="url(#h57)"/>
<rect x="205" y="327.62" width="2167.5" height="4.56" fill="url(#h58)"/>
<rect x="205" y="331.58" width="2167.5" height="4.56" fill="url(#h59)"/>
<rect x="205" y="335.53" width="2167.5" height="4.56" fill="url(#h60)"/>
<rect x="205" y="339.49" width="2167.5" height="4.56" fill="url(#h61)"/>
<rect x="205" y="343.44" width="2167.5" height="4.56" fill="url(#h62)"/>
<rect x="205" y="347.40" width="2167.5" height="4.56" fill="url(#h63)"/>
<rect x="205" y="351.36" width="2167.5" height="4.56" fill="url(#h64)"/>
<rect x="205" y="355.31" width="2167.5" height="4.56" fill="url(#h65)"/>
<rect x="205" y="359.27" width="2167.5" height="4.56" fill="url(#h66)"/>
<rect x="205" y="363.22" width="2167.5" height="4.56" fill="url(#h67)"/>
<rect x="205" y="367.18" width="2167.5" height="4.56" fill="url(#h68)"/>
<rect x="205" y="371.13" width="2167.5" height="4.56" fill="url(#h69)"/>
<rect x="205" y="375.09" width="2167.5" height="4.56" fill="url(#h70)"/>
<rect x="205" y="379.04" width="2167.5" height="4.56" fill="url(#h71)"/>
<rect x="205" y="383.00" width="2167.5" height="4.56" fill="url(#h72)"/>
<rect x="205" y="386.96" width="2167.5" height="4.56" fill="url(#h73)"/>
<rect x="205" y="390.91" width="2167.5" height="4.56" fill="url(#h74)"/>
<rect x="205" y="394.87" width="2167.5" height="4.56" fill="url(#h75)"/>
<rect x="205" y="398.82" width="2167.5" height="4.56" fill="url(#h76)"/>
<rect x="205" y="402.78" width="2167.5" height="4.56" fill="url(#h77)"/>
<rect x="205" y="406.73" width="2167.5" height="4.56" fill="url(#h78)"/>
<rect x="205" y="410.69" width="2167.5" height="4.56" fill="url(#h79)"/>
<rect x="205" y="414.64" width="2167.5" height="4.56" fill="url(#h80)"/>
<rect x="205" y="418.60" width="2167.5" height="4.56" fill="url(#h81)"/>
<rect x="205" y="422.56" width="2167.5" height="4.56" fill="url(#h82)"/>
<rect x="205" y="426.51" width="2167.5" height="4.56" fill="url(#h83)"/>
<rect x="205" y="430.47" width="2167.5" height="4.56" fill="url(#h84)"/>
<rect x="205" y="434.42" width="2167.5" height="4.56" fill="url(#h85)"/>
<rect x="205" y="438.38" width="2167.5" height="4.56" fill="url(#h86)"/>
<rect x="205" y="442.33" width="2167.5" height="4.56" fill="url(#h87)"/>
<rect x="205" y="446.29" width="2167.5" height="4.56" fill="url(#h88)"/>
<rect x="205" y="450.24" width="2167.5" height="4.56" fill="url(#h89)"/>
<rect x="205" y="454.20" width="2167.5" height="4.56" fill="url(#h90)"/>
<rect x="205" y="458.16" width="2167.5" height="4.56" fill="url(#h91)"/>
<rect x="205" y="462.11" width="2167.5" height="4.56" fill="url(#h92)"/>
<rect x="205" y="466.07" width="2167.5" height="4.56" fill="url(#h93)"/>
<rect x="205" y="470.02" width="2167.5" height="4.56" fill="url(#h94)"/>
<rect x="205" y="473.98" width="2167.5" height="4.56" fill="url(#h95)"/>
<rect x="205" y="477.93" width="2167.5" height="4.56" fill="url(#h96)"/>
<rect x="205" y="481.89" width="2167.5" height="4.56" fill="url(#h97)"/>
<rect x="205" y="485.84" width="2167.5" height="4.56" fill="url(#h98)"/>
<rect x="205" y="489.80" width="2167.5" height="4.56" fill="url(#h99)"/>
<rect x="205" y="493.76" width="2167.5" height="4.56" fill="url(#h100)"/>
<rect x="205" y="497.71" width="2167.5" height="4.56" fill="url(#h101)"/>
<rect x="205" y="501.67" width="2167.5" height="4.56" fill="url(#h102)"/>
<rect x="205" y="505.62" width="2167.5" height="4.56" fill="url(#h103)"/>
<rect x="205" y="509.58" width="2167.5" height="4.56" fill="url(#h104)"/>
<rect x="205" y="513.53" width="2167.5" height="4.56" fill="url(#h105)"/>
<rect x="205" y="517.49" width="2167.5" height="4.56" fill="url(#h106)"/>
<rect x="205" y="521.44" width="2167.5" height="4.56" fill="url(#h107)"/>
<rect x="205" y="525.40" width="2167.5" height="4.56" fill="url(#h108)"/>
<rect x="205" y="529.36" width="2167.5" height="4.56" fill="url(#h109)"/>
<rect x="205" y="533.31" width="2167.5" height="4.56" fill="url(#h110)"/>
<rect x="205" y="537.27" width="2167.5" height="4.56" fill="url(#h111)"/>
<rect x="205" y="541.22" width="2167.5" height="4.56" fill="url(#h112)"/>
<rect x="205" y="545.18" width="2167.5" height="4.56" fill="url(#h113)"/>
<rect x="205" y="549.13" width="2167.5" height="4.56" fill="url(#h114)"/>
<rect x="205" y="553.09" width="2167.5" height="4.56" fill="url(#h115)"/>
<rect x="205" y="557.04" width="2167.5" height="4.56" fill="url(#h116)"/>
<rect x="205" y="561.00" width="2167.5" height="4.56" fill="url(#h117)"/>
<rect x="205" y="564.96" width="2167.5" height="4.56" fill="url(#h118)"/>
<rect x="205" y="568.91" width="2167.5" height="4.56" fill="url(#h119)"/>
<rect x="205" y="572.87" width="2167.5" height="4.56" fill="url(#h120)"/>
<rect x="205" y="576.82" width="2167.5" height="4.56" fill="url(#h121)"/>
<rect x="205" y="580.78" width="2167.5" height="4.56" fill="url(#h122)"/>
<rect x="205" y="584.73" width="2167.5" height="4.56" fill="url(#h123)"/>
<rect x="205" y="588.69" width="2167.5" height="4.56" fill="url(#h124)"/>
<rect x="205" y="592.64" width="2167.5" height="4.56" fill="url(#h125)"/>
<rect x="205" y="596.60" width="2167.5" height="4.56" fill="url(#h126)"/>
<rect x="205" y="600.56" width="2167.5" height="4.56" fill="url(#h127)"/>
<rect x="205" y="604.51" width="2167.5" height="4.56" fill="url(#h128)"/>
<rect x="205" y="608.47" width="2167.5" height="4.56" fill="url(#h129)"/>
<rect x="205" y="612.42" width="2167.5" height="4.56" fill="url(#h130)"/>
<rect x="205" y="616.38" width="2167.5" height="4.56" fill="url(#h131)"/>
<rect x="205" y="620.33" width="2167.5" height="4.56" fill="url(#h132)"/>
<rect x="205" y="624.29" width="2167.5" height="4.56" fill="url(#h133)"/>
<rect x="205" y="628.24" width="2167.5" height="4.56" fill="url(#h134)"/>
<rect x="205" y="632.20" width="2167.5" height="4.56" fill="url(#h135)"/>
<rect x="205" y="636.16" width="2167.5" height="4.56" fill="url(#h136)"/>
<rect x="205" y="640.11" width="2167.5" height="4.56" fill="url(#h137)"/>
<rect x="205" y="644.07" width="2167.5" height="4.56" fill="url(#h138)"/>
<rect x="205" y="648.02" width="2167.5" height="4.56" fill="url(#h139)"/>
<rect x="205" y="651.98" width="2167.5" height="4.56" fill="url(#h140)"/>
<rect x="205" y="655.93" width="2167.5" height="4.56" fill="url(#h141)"/>
<rect x="205" y="659.89" width="2167.5" height="4.56" fill="url(#h142)"/>
<rect x="205" y="663.84" width="2167.5" height="4.56" fill="url(#h143)"/>
<rect x="205" y="667.80" width="2167.5" height="4.56" fill="url(#h144)"/>
<rect x="205" y="671.76" width="2167.5" height="4.56" fill="url(#h145)"/>
<rect x="205" y="675.71" width="2167.5" height="4.56" fill="url(#h146)"/>
<rect x="205" y="679.67" width="2167.5" height="4.56" fill="url(#h147)"/>
<rect x="205" y="683.62" width="2167.5" height="4.56" fill="url(#h148)"/>
<rect x="205" y="687.58" width="2167.5" height="4.56" fill="url(#h149)"/>
<rect x="205" y="691.53" width="2167.5" height="4.56" fill="url(#h150)"/>
<rect x="205" y="695.49" width="2167.5" height="4.56" fill="url(#h151)"/>
<rect x="205" y="699.44" width="2167.5" height="4.56" fill="url(#h152)"/>
<rect x="205" y="703.40" width="2167.5" height="4.56" fill="url(#h153)"/>
<rect x="205" y="707.36" width="2167.5" height="4.56" fill="url(#h154)"/>
<rect x="205" y="711.31" width="2167.5" height="4.56" fill="url(#h155)"/>
<rect x="205" y="715.27" width="2167.5" height="4.56" fill="url(#h156)"/>
<rect x="205" y="719.22" width="2167.5" height="4.56" fill="url(#h157)"/>
<rect x="205" y="723.18" width="2167.5" height="4.56" fill="url(#h158)"/>
<rect x="205" y="727.13" width="2167.5" height="4.56" fill="url(#h159)"/>
<rect x="205" y="731.09" width="2167.5" height="4.56" fill="url(#h160)"/>
<rect x="205" y="735.04" width="2167.5" height="4.56" fill="url(#h161)"/>
<rect x="205" y="739.00" width="2167.5" height="4.56" fill="url(#h162)"/>
<rect x="205" y="742.96" width="2167.5" height="4.56" fill="url(#h163)"/>
<rect x="205" y="746.91" width="2167.5" height="4.56" fill="url(#h164)"/>
<rect x="205" y="750.87" width="2167.5" height="4.56" fill="url(#h165)"/>
<rect x="205" y="754.82" width="2167.5" height="4.56" fill="url(#h166)"/>
<rect x="205" y="758.78" width="2167.5" height="4.56" fill="url(#h167)"/>
<rect x="205" y="762.73" width="2167.5" height="4.56" fill="url(#h168)"/>
<rect x="205" y="766.69" width="2167.5" height="4.56" fill="url(#h169)"/>
<rect x="205" y="770.64" width="2167.5" height="4.56" fill="url(#h170)"/>
<rect x="205" y="774.60" width="2167.5" height="4.56" fill="url(#h171)"/>
<rect x="205" y="778.56" width="2167.5" height="4.56" fill="url(#h172)"/>
<rect x="205" y="782.51" width="2167.5" height="4.56" fill="url(#h173)"/>
<rect x="205" y="786.47" width="2167.5" height="4.56" fill="url(#h174)"/>
<rect x="205" y="790.42" width="2167.5" height="4.56" fill="url(#h175)"/>
<rect x="205" y="794.38" width="2167.5" height="4.56" fill="url(#h176)"/>
<rect x="205" y="798.33" width="2167.5" height="4.56" fill="url(#h177)"/>
<rect x="205" y="802.29" width="2167.5" height="4.56" fill="url(#h178)"/>
<rect x="205" y="806.24" width="2167.5" height="4.56" fill="url(#h179)"/>
<rect x="205" y="810.20" width="2167.5" height="4.56" fill="url(#h180)"/>
<rect x="205" y="814.16" width="2167.5" height="4.56" fill="url(#h181)"/>
<rect x="205" y="818.11" width="2167.5" height="4.56" fill="url(#h182)"/>
<rect x="205" y="822.07" width="2167.5" height="4.56" fill="url(#h183)"/>
<rect x="205" y="826.02" width="2167.5" height="4.56" fill="url(#h184)"/>
<rect x="205" y="829.98" width="2167.5" height="4.56" fill="url(#h185)"/>
<rect x="205" y="833.93" width="2167.5" height="4.56" fill="url(#h186)"/>
<rect x="205" y="837.89" width="2167.5" height="4.56" fill="url(#h187)"/>
<rect x="205" y="841.84" width="2167.5" height="4.56" fill="url(#h188)"/>
<rect x="205" y="845.80" width="2167.5" height="4.56" fill="url(#h189)"/>
<rect x="205" y="849.76" width="2167.5" height="4.56" fill="url(#h190)"/>
<rect x="205" y="853.71" width="2167.5" height="4.56" fill="url(#h191)"/>
<rect x="205" y="857.67" width="2167.5" height="4.56" fill="url(#h192)"/>
<rect x="205" y="861.62" width="2167.5" height="4.56" fill="url(#h193)"/>
<rect x="205" y="865.58" width="2167.5" height="4.56" fill="url(#h194)"/>
<rect x="205" y="869.53" width="2167.5" height="4.56" fill="url(#h195)"/>
<rect x="205" y="873.49" width="2167.5" height="4.56" fill="url(#h196)"/>
<rect x="205" y="877.44" width="2167.5" height="4.56" fill="url(#h197)"/>
<rect x="205" y="881.40" width="2167.5" height="4.56" fill="url(#h198)"/>
<rect x="205" y="885.36" width="2167.5" height="4.56" fill="url(#h199)"/>
<rect x="205" y="889.31" width="2167.5" height="4.56" fill="url(#h200)"/>
<rect x="205" y="893.27" width="2167.5" height="4.56" fill="url(#h201)"/>
<rect x="205" y="897.22" width="2167.5" height="4.56" fill="url(#h202)"/>
<rect x="205" y="901.18" width="2167.5" height="4.56" fill="url(#h203)"/>
<rect x="205" y="905.13" width="2167.5" height="4.56" fill="url(#h204)"/>
<rect x="205" y="909.09" width="2167.5" height="4.56" fill="url(#h205)"/>
<rect x="205" y="913.04" width="2167.5" height="4.56" fill="url(#h206)"/>
<rect x="205" y="917.00" width="2167.5" height="4.56" fill="url(#h207)"/>
<rect x="205" y="920.96" width="2167.5" height="4.56" fill="url(#h208)"/>
<rect x="205" y="924.91" width="2167.5" height="4.56" fill="url(#h209)"/>
<rect x="205" y="928.87" width="2167.5" height="4.56" fill="url(#h210)"/>
<rect x="205" y="932.82" width="2167.5" height="4.56" fill="url(#h211)"/>
<rect x="205" y="936.78" width="2167.5" height="4.56" fill="url(#h212)"/>
<rect x="205" y="940.73" width="2167.5" height="4.56" fill="url(#h213)"/>
<rect x="205" y="944.69" width="2167.5" height="4.56" fill="url(#h214)"/>
<rect x="205" y="948.64" width="2167.5" height="4.56" fill="url(#h215)"/>
<rect x="205" y="952.60" width="2167.5" height="4.56" fill="url(#h216)"/>
<rect x="205" y="956.56" width="2167.5" height="4.56" fill="url(#h217)"/>
<rect x="205" y="960.51" width="2167.5" height="4.56" fill="url(#h218)"/>
<rect x="205" y="964.47" width="2167.5" height="4.56" fill="url(#h219)"/>
<rect x="205" y="968.42" width="2167.5" height="4.56" fill="url(#h220)"/>
<rect x="205" y="1007.98" width="2167.5" height="4.56" fill="url(#h230)"/>
<rect x="205" y="1011.93" width="2167.5" height="4.56" fill="url(#h231)"/>
<rect x="205" y="1019.84" width="2167.5" height="4.56" fill="url(#h233)"/>
<rect x="205" y="1023.80" width="2167.5" height="4.56" fill="url(#h234)"/>
<rect x="205" y="1027.76" width="2167.5" height="4.56" fill="url(#h235)"/>
<rect x="205" y="1031.71" width="2167.5" height="4.56" fill="url(#h236)"/>
<rect x="205" y="1035.67" width="2167.5" height="4.56" fill="url(#h237)"/>
<rect x="205" y="1047.53" width="2167.5" height="4.56" fill="url(#h240)"/>
<rect x="205" y="1055.44" width="2167.5" height="4.56" fill="url(#h242)"/>
<rect x="205" y="1059.40" width="2167.5" height="4.56" fill="url(#h243)"/>
<rect x="205" y="1063.36" width="2167.5" height="4.56" fill="url(#h244)"/>
<rect x="205" y="1067.31" width="2167.5" height="4.56" fill="url(#h245)"/>
<rect x="205" y="1071.27" width="2167.5" height="4.56" fill="url(#h246)"/>
<rect x="205" y="1075.22" width="2167.5" height="4.56" fill="url(#h247)"/>
<rect x="205" y="1079.18" width="2167.5" height="4.56" fill="url(#h248)"/>
<rect x="205" y="1083.13" width="2167.5" height="4.56" fill="url(#h249)"/>
<rect x="205" y="1091.04" width="2167.5" height="4.56" fill="url(#h251)"/>
<rect x="205" y="1095.00" width="2167.5" height="4.56" fill="url(#h252)"/>
<rect x="205" y="1102.91" width="2167.5" height="4.56" fill="url(#h254)"/>
<rect x="205" y="1106.87" width="2167.5" height="4.56" fill="url(#h255)"/>
<rect x="205" y="1110.82" width="2167.5" height="4.56" fill="url(#h256)"/>
<rect x="205" y="1114.78" width="2167.5" height="4.56" fill="url(#h257)"/>
<rect x="205" y="1118.73" width="2167.5" height="4.56" fill="url(#h258)"/>
<rect x="205" y="1122.69" width="2167.5" height="4.56" fill="url(#h259)"/>
<rect x="205" y="1126.64" width="2167.5" height="4.56" fill="url(#h260)"/>
<rect x="205" y="1130.60" width="2167.5" height="4.56" fill="url(#h261)"/>
<rect x="205" y="1134.56" width="2167.5" height="4.56" fill="url(#h262)"/>
<rect x="205" y="1138.51" width="2167.5" height="4.56" fill="url(#h263)"/>
<rect x="205" y="1142.47" width="2167.5" height="4.56" fill="url(#h264)"/>
<rect x="205" y="1146.42" width="2167.5" height="4.56" fill="url(#h265)"/>
<rect x="205" y="1150.38" width="2167.5" height="4.56" fill="url(#h266)"/>
<rect x="205" y="1154.33" width="2167.5" height="4.56" fill="url(#h267)"/>
<rect x="205" y="1158.29" width="2167.5" height="4.56" fill="url(#h268)"/>
<rect x="205" y="1162.24" width="2167.5" height="4.56" fill="url(#h269)"/>
</g></g>
<g clip-path="url(#hc)" fill="none" stroke-width="2.3"><path stroke="#45b48c" d="M207.4 622.3V627.9M210.6 624.4V629.0M215.5 628.8V637.3M220.3 639.4V643.6M221.9 636.0V643.6M226.8 636.3V640.8M228.4 633.1V641.0M239.7 645.6V652.7M242.9 642.5V653.6M244.5 641.7V647.6M247.7 636.9V645.8M257.4 647.4V655.2M262.3 647.5V656.2M263.9 645.2V651.6M265.5 642.5V648.7M267.1 638.3V647.0M268.7 633.4V642.8M271.9 632.8V639.2M280.0 649.8V655.2M289.7 657.2V667.7M291.3 656.3V661.5M294.5 651.5V663.3M296.1 652.3V657.2M297.7 651.8V655.7M299.3 647.5V656.9M302.6 648.6V653.3M304.2 648.8V652.4M307.4 646.1V655.6M310.6 649.2V654.2M312.2 648.0V654.5M317.1 652.0V662.2M320.3 655.5V661.4M323.5 660.0V665.3M328.4 662.9V670.6M330.0 661.2V667.3M333.2 657.5V669.1M339.7 664.6V679.1M342.9 660.1V673.5M344.5 658.7V664.4M346.1 657.6V662.2M347.7 652.7V662.1M351.0 651.4V661.1M354.2 648.3V657.8M355.8 648.8V655.2M357.4 647.1V653.2M360.6 644.1V652.4M363.9 644.5V651.0M365.5 641.8V647.9M368.7 639.5V649.7M371.9 637.7V645.7M376.8 636.0V643.1M380.0 636.6V642.6M381.6 635.2V642.0M389.7 643.1V650.3M391.3 630.6V647.9M392.9 628.4V634.7M394.5 620.1V632.7M396.1 618.9V623.9M397.7 618.3V622.5M400.9 616.6V623.0M402.6 612.7V622.3M405.8 614.5V622.3M409.0 611.2V622.7M410.6 610.1V615.6M417.1 614.7V623.2M418.7 604.5V620.4M420.3 590.1V609.1M426.7 600.4V615.2M428.4 588.6V607.4M430.0 578.3V593.6M431.6 576.8V583.4M433.2 576.9V582.8M434.8 573.8V581.8M436.4 571.2V578.6M438.0 570.0V575.5M446.1 589.4V595.8M449.3 591.6V595.1M452.6 595.4V602.9M462.2 602.6V612.3M465.5 600.8V610.8M467.1 595.1V607.3M470.3 589.2V601.8M471.9 587.0V593.8M475.1 592.4V601.5M478.4 595.3V602.9M481.6 595.8V602.0M484.8 591.7V601.9M486.4 589.6V596.1M488.0 588.5V594.0M489.6 584.8V592.2M504.2 591.6V602.2M507.4 587.0V596.0M509.0 583.4V591.4M512.2 582.2V590.8M513.8 581.9V587.8M520.3 586.6V597.6M523.5 586.0V593.4M526.7 584.4V591.8M528.4 580.3V588.0M531.6 578.4V588.4M533.2 577.0V582.8M534.8 575.4V581.8M536.4 569.1V579.2M539.6 571.2V578.1M541.3 567.8V575.6M544.5 565.6V574.2M547.7 570.6V576.4M549.3 570.5V575.0M555.8 578.5V585.5M562.2 582.0V591.6M563.8 575.7V589.0M565.4 569.9V579.2M568.7 575.1V579.7M571.9 578.3V586.2M573.5 569.2V583.1M575.1 561.6V573.8M576.7 552.7V567.1M578.3 546.5V559.2M583.2 555.7V560.1M584.8 552.8V561.1M589.6 562.7V570.0M591.2 557.7V566.6M592.9 554.9V563.9M597.7 564.1V571.2M604.1 572.6V578.7M607.4 574.9V583.2M609.0 573.4V579.1M610.6 572.7V576.7M612.2 569.8V578.6M617.1 572.4V576.1M620.3 567.4V578.6M621.9 567.5V572.7M625.1 569.4V573.8M626.7 567.7V574.9M628.3 564.7V572.5M631.6 565.7V571.7M633.2 565.1V570.9M641.2 566.9V574.8M644.5 567.3V574.5M646.1 566.9V572.5M647.7 566.3V570.7M649.3 563.5V571.1M652.5 559.0V572.7M654.1 558.7V563.9M655.8 555.5V564.0M657.4 552.8V559.3M662.2 559.3V565.2M670.3 562.3V572.2M671.9 560.8V566.2M678.3 568.8V573.9M679.9 566.8V572.6M683.2 568.4V573.8M684.8 567.0V572.6M688.0 567.3V571.7M691.2 572.5V577.0M697.7 580.2V584.3M699.3 574.2V584.4M702.5 576.2V581.3M704.1 571.8V581.2M707.4 575.2V580.0M709.0 570.8V579.7M710.6 570.8V575.6M712.2 570.1V574.5M720.3 578.5V584.6M723.5 577.0V589.1M726.7 577.3V583.5M728.3 569.1V581.6M731.6 571.7V578.5M733.2 569.6V576.4M736.4 574.3V579.3M739.6 575.5V581.3M742.8 575.5V582.4M747.7 576.9V586.0M749.3 576.7V582.4M750.9 572.9V580.5M752.5 572.1V578.5M755.7 567.5V577.7M759.0 568.8V578.4M765.4 570.7V578.7M771.9 575.1V580.5M776.7 576.2V586.7M778.3 573.3V581.5M781.5 572.5V582.4M783.2 571.8V576.7M784.8 568.2V578.4M786.4 568.9V573.1M791.2 565.5V574.2M792.8 563.5V569.6M799.3 571.4V579.2M800.9 571.2V575.6M802.5 569.5V575.2M804.1 568.2V575.0M807.4 567.4V573.0M810.6 567.0V572.3M812.2 566.8V571.7M815.4 566.2V574.5M818.6 567.6V575.9M823.5 573.5V579.1M825.1 572.7V577.4M831.5 572.3V581.5M839.6 579.8V586.5M841.2 580.2V583.5M842.8 577.0V584.3M847.7 582.3V588.3M849.3 578.8V587.5M850.9 574.4V582.7M860.6 576.9V587.3M863.8 577.8V585.1M865.4 575.0V582.6M868.6 575.4V580.7M870.2 570.2V580.3M873.5 568.8V575.8M876.7 569.0V575.7M878.3 568.2V574.9M883.2 572.1V578.9M886.4 573.9V578.6M889.6 573.4V579.4M894.4 571.7V580.6M897.7 574.2V579.8M899.3 566.7V579.2M904.1 568.1V576.0M905.7 566.9V573.0M907.3 564.3V571.1M912.2 567.9V574.1M913.8 564.4V572.0M917.0 563.7V577.7M921.9 565.1V570.7M925.1 564.4V570.0M929.9 564.7V571.9M934.8 569.1V574.4M938.0 570.0V575.4M944.4 575.9V581.1M946.0 573.1V580.2M949.3 581.2V587.1M955.7 584.4V600.4M970.2 614.3V627.4M973.5 612.3V621.3M978.3 612.4V621.5M981.5 615.0V620.6M983.1 611.3V621.3M986.4 606.2V617.9M988.0 601.2V612.4M994.4 614.2V620.7M996.0 613.9V621.0M999.3 612.0V620.5M1007.3 630.3V637.2M1015.4 651.2V659.3M1017.0 644.7V656.8M1018.6 644.4V650.4M1020.2 641.1V649.2M1021.8 639.7V644.9M1026.7 637.1V647.1M1028.3 634.6V641.1M1031.5 631.3V643.6M1033.1 628.5V636.1M1041.2 639.8V647.8M1042.8 636.9V644.9M1046.0 634.6V642.8M1049.3 638.9V645.2M1054.1 643.2V649.4M1062.2 647.9V651.5M1068.6 658.3V664.6M1070.2 657.0V663.3M1071.8 653.6V661.2M1073.5 648.5V659.5M1075.1 644.7V653.9M1076.7 643.0V649.2M1078.3 642.0V647.5M1079.9 640.5V647.0M1083.1 639.9V646.8M1088.0 640.0V646.4M1094.4 646.2V654.0M1102.5 664.0V670.2M1104.1 656.7V667.4M1105.7 655.1V662.3M1107.3 650.9V660.2M1108.9 644.2V655.8M1113.8 645.9V651.1M1118.6 651.9V661.2M1121.8 648.1V656.7M1125.1 644.5V653.9M1126.7 642.5V649.1M1128.3 642.1V647.4M1131.5 640.7V648.5M1133.1 638.1V644.9M1134.7 636.0V642.7M1136.3 636.0V643.4M1139.6 635.7V645.0M1142.8 634.1V641.5M1144.4 632.8V639.7M1147.6 631.1V641.2M1149.2 627.7V635.1M1152.5 629.9V638.3M1154.1 628.3V636.3M1158.9 632.3V636.7M1162.2 630.6V638.7M1168.6 635.5V643.1M1173.4 636.9V643.4M1176.7 634.9V642.0M1179.9 636.6V644.3M1184.7 639.3V646.2M1192.8 673.9V683.7M1194.4 665.9V677.6M1200.9 699.7V704.3M1202.5 685.5V703.4M1204.1 676.7V689.7M1217.0 713.8V734.9M1218.6 697.5V718.7M1220.2 688.5V704.4M1228.3 706.8V714.5M1229.9 700.3V710.3M1236.3 751.8V764.5M1237.9 746.2V757.4M1239.6 735.5V750.4M1242.8 730.8V742.0M1244.4 730.5V735.4M1250.9 739.5V750.2M1252.5 737.4V743.9M1254.1 736.8V742.0M1255.7 735.3V740.8M1260.5 738.2V744.8M1262.1 729.2V743.3M1263.8 724.7V734.3M1265.4 720.3V728.6M1267.0 720.3V725.2M1268.6 717.9V724.9M1271.8 713.1V723.4M1275.0 708.6V718.6M1276.7 706.2V713.2M1278.3 702.4V712.3M1284.7 707.4V713.8M1291.2 714.5V724.8M1294.4 719.8V726.8M1296.0 718.1V724.2M1297.6 717.6V724.2M1299.2 713.4V724.3M1300.8 712.5V717.8M1304.1 706.5V717.3M1305.7 705.7V711.2M1308.9 705.5V712.0M1310.5 704.0V710.2M1321.8 717.5V724.6M1331.5 730.0V742.9M1333.1 726.5V733.9M1346.0 734.3V754.0M1347.6 722.1V739.0M1349.2 711.5V727.9M1355.7 723.8V734.8M1357.3 711.3V728.8M1358.9 696.0V715.3M1360.5 690.3V700.2M1368.6 704.4V711.7M1386.3 761.8V773.8M1387.9 752.0V767.2M1389.5 745.4V757.6M1391.2 740.4V752.3M1392.8 738.5V744.5M1396.0 740.4V747.0M1402.4 745.9V757.0M1404.1 743.5V750.1M1405.7 740.2V747.8M1407.3 740.8V746.1M1410.5 741.7V752.0M1415.3 748.8V753.8M1417.0 742.3V753.1M1418.6 740.7V747.8M1420.2 735.1V745.3M1421.8 727.3V740.0M1425.0 729.1V738.0M1426.6 726.7V732.5M1429.9 727.3V732.0M1431.5 726.2V731.7M1433.1 723.1V730.2M1436.3 719.6V727.5M1437.9 718.4V724.0M1442.8 722.0V728.4M1447.6 723.9V731.5M1449.2 723.2V731.8M1452.4 723.5V730.1M1454.1 719.9V727.3M1471.8 757.0V765.2M1473.4 750.6V766.5M1475.0 746.5V755.7M1476.6 744.3V750.1M1478.2 741.0V749.2M1479.9 736.3V747.3M1483.1 734.3V742.0M1494.4 751.7V756.5M1499.2 765.7V772.8M1500.8 756.9V770.0M1502.4 747.2V760.8M1504.0 745.2V753.2M1510.5 762.1V769.7M1512.1 760.7V765.7M1513.7 758.0V765.9M1515.3 751.3V764.2M1517.0 750.3V755.8M1521.8 757.3V772.4M1523.4 750.9V763.2M1525.0 751.3V757.5M1528.2 748.6V756.8M1529.9 745.3V753.0M1531.5 744.9V750.5M1533.1 742.0V748.2M1536.3 739.6V747.3M1539.5 736.2V744.4M1547.6 739.3V745.8M1552.4 743.3V753.0M1554.0 737.3V747.0M1560.5 740.8V745.5M1563.7 739.7V747.6M1566.9 740.6V746.7M1575.0 739.9V756.2M1576.6 736.5V744.0M1578.2 730.4V740.4M1581.5 732.0V736.9M1589.5 737.8V744.4M1591.1 728.1V742.2M1594.4 733.1V740.2M1596.0 731.8V737.7M1597.6 729.7V736.2M1600.8 726.9V735.3M1602.4 727.1V731.8M1605.7 728.4V734.6M1607.3 725.1V733.5M1610.5 727.0V733.3M1612.1 727.3V732.2M1613.7 726.3V731.1M1615.3 723.4V729.6M1616.9 722.7V729.1M1618.6 716.2V726.4M1621.8 713.7V723.2M1623.4 710.8V718.0M1628.2 716.5V724.5M1631.5 720.7V727.1M1634.7 723.7V729.3M1636.3 721.8V728.1M1637.9 721.3V728.1M1641.1 718.3V727.0M1646.0 720.4V727.5M1647.6 720.1V724.8M1649.2 707.7V725.3M1650.8 703.3V713.3M1654.0 701.1V710.8M1662.1 734.1V740.3M1663.7 731.1V739.7M1665.3 716.8V736.1M1666.9 708.6V721.3M1668.5 703.7V712.8M1670.2 703.3V708.7M1671.8 694.1V707.4M1673.4 693.4V700.7M1675.0 689.7V698.0M1681.4 696.0V705.7M1684.7 695.3V701.5M1686.3 687.7V699.7M1689.5 685.1V692.0M1692.7 685.4V690.7M1697.6 689.3V695.2M1702.4 689.7V695.9M1704.0 685.4V694.1M1707.3 687.7V696.0M1712.1 692.1V698.4M1716.9 693.4V702.7M1721.8 695.7V703.8M1723.4 696.2V702.0M1725.0 694.0V701.1M1728.2 692.6V702.3M1733.1 694.3V704.4M1736.3 701.0V707.5M1739.5 703.5V708.9M1744.3 705.0V710.8M1746.0 701.4V710.0M1747.6 699.7V707.7M1752.4 702.8V707.7M1754.0 700.4V706.7M1755.6 699.2V704.5M1757.2 696.8V703.4M1758.9 693.5V702.3M1760.5 690.3V698.0M1765.3 692.5V701.4M1770.1 694.2V700.9M1773.4 694.3V699.8M1778.2 693.4V702.4M1783.0 692.3V699.9M1784.7 691.5V696.2M1787.9 693.0V696.9M1789.5 688.5V697.5M1791.1 688.8V694.4M1794.3 689.0V698.2M1799.2 693.0V701.4M1802.4 691.7V698.1M1804.0 687.3V697.7M1807.2 687.1V696.3M1808.9 686.5V692.2M1812.1 687.4V694.5M1818.5 695.2V702.5M1820.1 692.2V699.8M1826.6 691.6V701.7M1831.4 691.4V701.0M1836.3 698.8V705.9M1839.5 699.3V705.2M1844.3 701.8V705.9M1850.8 701.4V709.4M1854.0 707.8V715.4M1858.8 705.5V715.2M1860.5 703.8V709.3M1862.1 703.7V707.9M1865.3 702.1V710.1M1866.9 694.2V706.0M1870.1 698.8V709.6M1873.4 699.1V704.5M1878.2 695.7V706.2M1881.4 698.6V703.4M1884.7 694.6V706.6M1887.9 695.7V703.4M1891.1 697.7V702.4M1892.7 695.9V701.9M1897.6 700.6V707.1M1900.8 699.3V706.5M1905.6 702.1V708.8M1907.2 700.8V706.5M1915.3 699.2V707.6M1918.5 702.3V707.2M1920.1 701.2V707.3M1921.7 699.4V707.7M1925.0 696.8V704.2M1928.2 697.6V705.1M1933.0 701.2V706.9M1934.6 698.0V705.8M1936.3 697.6V703.3M1937.9 696.0V701.9M1939.5 693.6V699.9M1942.7 694.8V701.8M1947.5 696.4V703.5M1952.4 696.2V704.2M1954.0 696.0V700.9M1957.2 697.9V704.7M1958.8 693.4V701.9M1962.1 692.5V700.0M1965.3 689.1V698.6M1968.5 684.3V695.7M1971.7 677.6V689.9M1975.0 673.6V683.5M1978.2 670.7V681.6M1979.8 669.8V676.0M1987.9 678.7V684.8M1989.5 676.8V682.4M1992.7 676.7V681.2M1995.9 673.7V681.6M1997.5 671.9V678.2M2000.8 670.3V677.7M2002.4 667.9V675.8M2004.0 668.1V672.5M2008.8 678.5V684.4M2013.7 680.8V685.6M2021.7 684.0V695.2M2023.3 681.3V687.8M2025.0 675.9V685.2M2026.6 675.5V680.8M2028.2 672.9V679.7M2031.4 667.5V679.6M2033.0 664.0V673.5M2034.6 655.3V669.4M2036.2 644.1V659.3M2037.9 636.5V648.0M2039.5 635.1V641.0M2042.7 633.9V644.2M2044.3 633.0V638.0M2049.1 638.7V644.3M2058.8 645.4V656.9M2060.4 644.9V650.4M2071.7 648.5V660.0M2073.3 646.0V654.4M2075.0 645.1V651.5M2076.6 639.0V649.6M2081.4 643.8V647.9M2084.6 650.3V655.6M2086.2 648.3V653.9M2087.9 647.1V653.4M2091.1 645.1V653.0M2099.1 666.2V671.4M2104.0 670.0V681.3M2105.6 670.3V675.7M2107.2 663.7V674.3M2108.8 660.5V667.6M2116.9 662.7V672.4M2118.5 657.1V667.3M2120.1 650.8V660.7M2121.7 636.6V656.0M2123.3 628.0V642.0M2124.9 621.9V631.7M2136.2 645.3V657.4M2137.8 642.1V649.4M2139.5 639.8V646.6M2141.1 636.2V644.0M2142.7 636.8V642.3M2144.3 636.3V640.4M2145.9 635.6V640.3M2155.6 661.4V678.7M2157.2 659.1V666.0M2158.8 651.1V662.6M2165.3 657.5V667.4M2168.5 657.5V666.3M2170.1 654.9V662.8M2171.7 651.0V659.0M2183.0 686.3V696.2M2184.6 682.2V692.8M2186.2 679.3V689.2M2192.7 683.3V690.9M2195.9 683.3V689.9M2197.5 679.7V689.2M2199.1 679.1V684.7M2200.7 675.6V684.6M2204.0 675.1V682.7M2205.6 673.8V680.3M2207.2 672.4V679.4M2210.4 671.8V681.8M2213.6 670.8V677.6M2220.1 681.4V689.2M2224.9 680.8V691.4M2229.8 682.1V692.6M2236.2 693.2V706.1M2237.8 688.9V697.1M2241.1 685.2V693.0M2242.7 682.6V689.7M2247.5 680.3V691.0M2250.7 686.3V690.0M2252.4 682.3V690.1M2254.0 678.0V686.6M2257.2 678.6V684.1M2260.4 677.3V685.1M2263.6 681.2V685.5M2268.5 681.2V689.7M2271.7 683.4V693.4M2273.3 677.4V688.2M2274.9 666.2V682.4M2276.5 658.3V672.3M2283.0 678.7V693.7M2284.6 675.9V682.8M2289.4 698.2V709.2M2291.1 695.9V702.7M2292.7 686.9V699.4M2294.3 684.7V692.4M2295.9 683.5V690.2M2302.3 682.8V694.2M2304.0 683.8V689.0M2312.0 701.3V707.9M2313.6 692.9V706.6M2315.2 690.1V698.4M2316.9 688.8V694.9M2320.1 681.7V693.5M2323.3 681.0V692.2M2326.5 681.4V687.5M2334.6 690.2V698.1M2339.4 696.1V705.7M2344.3 698.8V703.5M2349.1 694.8V704.7M2350.7 686.4V699.2M2354.0 685.3V693.2M2357.2 686.2V692.5M2363.6 686.8V697.3M2365.2 686.4V690.3M2366.9 682.0V689.9M2371.7 685.4V694.2"/><path stroke="#f4523b" d="M205.8 623.4V627.2M209.0 621.4V629.1M212.3 624.0V631.3M213.9 626.7V635.9M217.1 628.8V639.9M218.7 636.3V646.0M223.5 635.4V641.0M225.2 636.1V641.3M230.0 632.4V637.1M231.6 631.7V641.9M233.2 637.9V643.0M234.8 638.6V647.0M236.4 642.3V651.7M238.1 647.4V652.7M241.3 645.0V653.0M246.1 641.5V645.8M249.3 638.0V642.3M251.0 637.9V644.6M252.6 640.2V646.9M254.2 642.3V649.5M255.8 646.0V654.1M259.0 647.5V652.5M260.6 646.2V656.6M270.3 633.8V639.0M273.5 633.0V641.0M275.2 635.2V648.2M276.8 642.7V649.9M278.4 645.3V654.4M281.6 650.7V657.0M283.2 651.8V660.4M284.8 655.0V663.2M286.4 659.6V665.7M288.1 661.6V666.4M292.9 655.9V662.8M301.0 648.4V652.7M305.8 648.3V655.0M309.0 647.4V653.9M313.9 649.0V658.1M315.5 652.6V662.4M318.7 652.0V663.0M321.9 655.7V665.1M325.1 659.7V664.8M326.8 660.5V671.1M331.6 660.2V668.6M334.8 656.8V665.6M336.4 662.0V673.8M338.0 667.3V679.3M341.3 667.8V674.5M349.3 651.9V659.5M352.6 652.2V658.3M359.0 647.3V652.1M362.2 643.5V651.7M367.1 641.5V648.2M370.3 640.0V645.2M373.5 637.5V642.0M375.1 636.9V642.6M378.4 635.4V642.9M383.2 635.4V641.0M384.8 635.6V643.9M386.4 638.7V648.1M388.0 643.5V650.3M399.3 616.6V623.2M404.2 613.9V623.3M407.4 614.9V623.3M412.2 609.1V617.9M413.8 613.1V617.7M415.5 614.1V624.3M421.9 589.3V605.0M423.5 600.7V614.4M425.1 608.5V616.2M439.7 570.3V580.0M441.3 575.9V585.7M442.9 581.0V589.1M444.5 584.6V595.6M447.7 589.5V595.1M450.9 590.8V601.8M454.2 596.0V603.0M455.8 597.6V606.0M457.4 601.7V609.1M459.0 604.5V610.1M460.6 605.2V613.2M463.8 604.5V609.9M468.7 595.3V601.4M473.5 586.5V600.4M476.7 593.0V603.8M480.0 595.6V601.9M483.2 595.7V601.9M491.3 585.5V590.9M492.9 587.6V592.6M494.5 587.8V596.8M496.1 591.4V598.3M497.7 594.6V600.1M499.3 595.4V601.6M500.9 598.1V601.8M502.5 598.0V602.5M505.8 591.7V596.2M510.6 583.9V590.9M515.4 581.7V590.4M517.1 585.6V593.8M518.7 588.8V597.4M521.9 587.2V593.7M525.1 585.0V591.2M530.0 579.2V586.5M538.0 567.5V578.5M542.9 567.7V574.2M546.1 566.0V575.5M550.9 569.9V580.0M552.5 575.3V583.6M554.2 579.6V586.4M557.4 578.7V584.3M559.0 580.8V585.1M560.6 580.9V590.0M567.1 570.0V580.6M570.3 575.5V585.9M580.0 546.7V556.4M581.6 552.2V559.8M586.4 554.1V566.1M588.0 560.7V568.7M594.5 554.9V566.7M596.1 562.4V572.5M599.3 563.3V574.3M600.9 570.5V574.4M602.5 571.1V579.2M605.8 572.3V583.1M613.8 569.9V575.4M615.4 570.6V576.2M618.7 572.0V576.8M623.5 566.6V574.8M630.0 565.9V572.6M634.8 564.4V571.4M636.4 567.1V572.4M638.0 569.1V575.6M639.6 570.7V574.9M642.9 565.7V574.4M650.9 562.5V572.0M659.0 551.4V561.2M660.6 557.0V564.7M663.8 559.1V565.2M665.4 559.3V567.0M667.0 562.7V568.1M668.7 564.0V571.5M673.5 562.5V569.3M675.1 564.0V570.9M676.7 564.5V572.9M681.6 566.5V573.9M686.4 566.7V571.3M689.6 565.1V578.9M692.8 571.6V580.6M694.5 576.0V584.8M696.1 579.5V584.1M700.9 576.2V580.6M705.8 572.4V579.8M713.8 570.0V574.3M715.4 570.4V578.0M717.0 574.1V582.8M718.7 578.1V586.6M721.9 577.6V590.2M725.1 577.6V583.0M729.9 569.5V578.5M734.8 569.4V579.8M738.0 574.0V580.7M741.2 575.2V582.5M744.5 573.9V581.1M746.1 576.6V586.6M754.1 571.4V578.5M757.4 568.5V578.7M760.6 568.5V576.8M762.2 571.8V576.7M763.8 572.3V577.5M767.0 571.5V576.8M768.6 572.9V578.2M770.3 571.2V581.3M773.5 575.1V585.5M775.1 580.7V586.4M779.9 572.2V582.5M788.0 568.9V573.7M789.6 568.1V574.0M794.5 563.4V573.5M796.1 566.8V577.3M797.7 573.0V579.2M805.7 567.9V573.1M809.0 566.4V573.1M813.8 566.2V576.7M817.0 567.5V576.9M820.3 568.3V577.2M821.9 571.4V578.4M826.7 571.3V578.4M828.3 574.2V578.3M829.9 574.1V581.8M833.2 572.2V581.0M834.8 576.9V582.0M836.4 576.3V582.6M838.0 576.0V586.0M844.4 576.9V584.1M846.1 579.8V587.9M852.5 572.9V578.8M854.1 573.8V580.5M855.7 576.1V581.3M857.3 577.0V583.0M859.0 579.2V587.6M862.2 578.1V586.2M867.0 574.1V581.2M871.9 569.4V575.5M875.1 569.3V576.1M879.9 568.7V576.5M881.5 571.8V579.4M884.8 572.1V578.9M888.0 574.6V582.2M891.2 574.0V579.0M892.8 574.6V580.6M896.1 571.8V579.4M900.9 566.9V571.9M902.5 567.1V576.0M909.0 563.7V572.2M910.6 567.3V575.0M915.4 564.9V576.1M918.6 564.9V571.2M920.2 563.7V570.4M923.5 564.4V569.8M926.7 564.5V571.0M928.3 565.8V571.3M931.5 563.6V569.6M933.1 564.2V575.7M936.4 568.3V575.4M939.6 570.0V579.3M941.2 574.5V580.2M942.8 575.8V582.3M947.7 571.2V588.5M950.9 582.0V595.5M952.5 590.5V599.2M954.1 592.8V600.6M957.3 585.8V595.8M958.9 589.2V601.2M960.6 595.3V608.6M962.2 603.3V616.5M963.8 610.8V620.0M965.4 615.1V623.7M967.0 617.9V624.8M968.6 620.8V626.4M971.8 613.1V621.4M975.1 612.7V620.2M976.7 616.1V620.5M979.9 611.9V619.9M984.8 611.7V618.7M989.6 603.7V612.9M991.2 608.0V617.8M992.8 613.7V621.2M997.7 614.9V620.7M1000.9 612.6V619.4M1002.5 614.9V625.7M1004.1 621.5V628.8M1005.7 623.7V636.3M1008.9 630.8V636.9M1010.6 632.9V644.0M1012.2 638.9V645.4M1013.8 640.9V658.1M1023.5 639.8V645.4M1025.1 639.6V647.3M1029.9 634.4V643.3M1034.7 628.3V637.1M1036.4 632.2V640.4M1038.0 635.0V645.9M1039.6 639.3V646.2M1044.4 636.4V641.9M1047.6 634.7V643.3M1050.9 638.3V645.1M1052.5 640.7V647.8M1055.7 642.4V647.1M1057.3 642.2V651.6M1058.9 645.6V651.9M1060.5 647.2V651.7M1063.8 647.8V653.0M1065.4 647.8V660.1M1067.0 656.4V665.6M1081.5 640.0V646.0M1084.7 640.0V644.7M1086.4 640.2V645.3M1089.6 640.0V646.2M1091.2 641.8V647.3M1092.8 643.7V654.0M1096.0 646.7V652.1M1097.6 647.8V653.8M1099.3 650.0V662.7M1100.9 658.0V670.8M1110.5 645.6V651.0M1112.2 645.1V651.1M1115.4 645.2V655.8M1117.0 651.0V660.9M1120.2 650.7V657.6M1123.4 648.5V653.8M1129.9 641.7V647.0M1138.0 636.6V643.6M1141.2 635.6V640.0M1146.0 633.7V641.0M1150.9 628.6V638.5M1155.7 627.9V635.4M1157.3 630.0V637.0M1160.5 631.9V639.8M1163.8 631.0V637.0M1165.4 631.7V640.9M1167.0 634.8V642.2M1170.2 636.4V643.6M1171.8 636.9V643.0M1175.1 636.1V641.8M1178.3 635.6V643.6M1181.5 636.9V645.9M1183.1 639.6V645.7M1186.3 639.8V648.3M1188.0 643.9V653.1M1189.6 648.9V657.1M1191.2 653.2V684.3M1196.0 667.0V682.9M1197.6 677.1V696.9M1199.2 692.4V703.4M1205.7 676.4V687.9M1207.3 682.0V688.9M1208.9 683.6V693.7M1210.5 689.5V696.5M1212.1 692.7V708.8M1213.8 704.3V711.3M1215.4 706.7V735.5M1221.8 688.7V700.8M1223.4 696.1V706.2M1225.0 702.2V708.0M1226.7 703.6V714.2M1231.5 700.7V715.1M1233.1 710.0V745.9M1234.7 740.0V764.6M1241.2 735.9V741.0M1246.0 731.6V741.4M1247.6 736.8V745.9M1249.2 740.2V749.3M1257.3 736.7V742.6M1258.9 737.4V744.8M1270.2 717.3V724.0M1273.4 712.4V718.9M1279.9 702.2V706.9M1281.5 703.1V710.5M1283.1 705.9V713.6M1286.3 708.1V714.3M1287.9 710.1V719.8M1289.6 714.4V724.1M1292.8 715.3V728.0M1302.5 712.5V717.3M1307.3 705.4V711.4M1312.1 704.5V709.8M1313.7 704.8V712.6M1315.4 708.4V715.8M1317.0 711.8V718.7M1318.6 713.8V724.6M1320.2 719.3V725.9M1323.4 717.9V724.2M1325.0 719.0V726.6M1326.6 722.7V731.6M1328.3 725.9V734.1M1329.9 728.9V743.2M1334.7 726.4V737.7M1336.3 733.1V737.8M1337.9 733.6V741.2M1339.6 735.6V741.2M1341.2 736.3V746.0M1342.8 741.8V750.2M1344.4 746.1V754.1M1350.8 709.1V727.3M1352.5 723.4V729.5M1354.1 724.6V735.6M1362.1 691.0V698.5M1363.7 694.3V705.0M1365.4 699.2V708.4M1367.0 703.1V711.6M1370.2 705.8V714.2M1371.8 709.3V719.9M1373.4 715.7V721.9M1375.0 717.6V726.7M1376.6 723.0V731.0M1378.3 725.1V740.2M1379.9 734.8V747.7M1381.5 742.4V752.0M1383.1 747.4V762.5M1384.7 758.5V773.1M1394.4 736.8V747.2M1397.6 740.8V747.4M1399.2 741.7V751.3M1400.8 745.7V757.2M1408.9 740.3V751.0M1412.1 742.2V750.5M1413.7 745.9V754.6M1423.4 727.6V738.9M1428.3 726.6V732.4M1434.7 722.2V729.0M1439.5 717.7V726.3M1441.2 721.2V729.1M1444.4 722.8V728.6M1446.0 724.5V731.5M1450.8 723.0V729.7M1455.7 720.8V726.6M1457.3 722.9V727.9M1458.9 723.2V731.9M1460.5 727.6V737.4M1462.1 732.8V744.8M1463.7 738.7V749.0M1465.3 745.3V760.0M1467.0 755.0V761.1M1468.6 756.3V765.2M1470.2 759.1V765.2M1481.5 737.0V743.1M1484.7 734.0V740.2M1486.3 736.3V744.9M1487.9 741.0V746.3M1489.5 742.0V748.3M1491.1 743.8V749.5M1492.8 744.8V757.3M1496.0 751.5V760.1M1497.6 756.3V772.5M1505.7 745.4V759.1M1507.3 755.4V762.5M1508.9 758.4V769.9M1518.6 751.2V763.5M1520.2 759.2V774.4M1526.6 750.2V756.9M1534.7 740.7V747.5M1537.9 739.6V743.9M1541.1 736.5V740.6M1542.8 736.7V741.5M1544.4 736.9V745.7M1546.0 740.4V745.7M1549.2 740.4V746.4M1550.8 741.9V752.6M1555.7 739.1V745.2M1557.3 738.2V745.5M1558.9 739.9V746.8M1562.1 740.4V746.2M1565.3 740.9V746.5M1568.6 741.9V750.0M1570.2 745.1V751.1M1571.8 747.1V751.9M1573.4 747.3V755.4M1579.8 730.8V736.7M1583.1 731.2V738.5M1584.7 732.2V738.5M1586.3 734.3V740.8M1587.9 737.1V745.3M1592.7 728.2V741.1M1599.2 729.6V733.9M1604.0 726.1V734.3M1608.9 725.5V732.4M1620.2 715.6V722.9M1625.0 712.8V724.3M1626.6 718.0V724.1M1629.8 717.7V726.6M1633.1 721.9V729.2M1639.5 720.6V726.9M1642.7 718.3V727.4M1644.4 720.3V727.8M1652.4 703.0V710.3M1655.6 702.2V713.1M1657.3 708.8V719.6M1658.9 715.2V733.1M1660.5 728.7V739.8M1676.6 689.7V698.2M1678.2 692.8V702.3M1679.8 697.7V705.8M1683.1 696.8V701.0M1687.9 688.0V693.1M1691.1 684.7V689.0M1694.3 684.3V691.4M1696.0 686.0V696.9M1699.2 689.5V693.8M1700.8 689.7V695.8M1705.6 685.2V695.5M1708.9 688.8V697.3M1710.5 692.4V698.3M1713.7 691.4V697.7M1715.3 692.5V705.2M1718.5 694.3V703.6M1720.2 698.7V703.1M1726.6 694.3V703.0M1729.8 692.6V700.5M1731.4 696.4V703.7M1734.7 695.4V707.6M1737.9 701.0V708.8M1741.1 702.3V707.7M1742.7 702.8V710.8M1749.2 700.1V704.8M1750.8 699.6V707.3M1762.1 688.4V697.9M1763.7 690.6V701.4M1766.9 691.8V699.0M1768.5 694.4V700.1M1771.8 694.0V699.7M1775.0 693.9V699.6M1776.6 695.6V702.1M1779.8 692.9V700.3M1781.4 694.7V698.7M1786.3 692.0V696.9M1792.7 689.3V696.8M1796.0 688.7V696.6M1797.6 692.9V701.0M1800.8 691.9V698.7M1805.6 687.1V694.4M1810.5 686.5V694.2M1813.7 687.2V693.7M1815.3 689.0V697.0M1816.9 692.3V703.7M1821.8 692.6V696.6M1823.4 692.7V700.3M1825.0 697.0V701.8M1828.2 692.9V696.6M1829.8 692.9V700.1M1833.0 692.2V702.1M1834.7 697.0V705.9M1837.9 698.9V705.1M1841.1 698.8V706.6M1842.7 700.5V707.0M1845.9 702.1V708.7M1847.6 702.9V710.6M1849.2 704.7V710.0M1852.4 703.0V714.3M1855.6 708.3V712.4M1857.2 708.2V715.6M1863.7 704.6V712.8M1868.5 693.0V709.0M1871.7 699.2V704.2M1875.0 699.6V705.6M1876.6 701.4V706.8M1879.8 696.6V702.8M1883.0 698.7V706.5M1886.3 695.1V702.2M1889.5 694.4V702.9M1894.3 696.7V705.2M1895.9 700.6V706.2M1899.2 700.7V706.0M1902.4 698.7V708.0M1904.0 703.4V709.6M1908.8 699.3V705.5M1910.5 701.8V706.3M1912.1 702.4V708.3M1913.7 702.9V707.0M1916.9 699.2V708.6M1923.4 699.6V704.8M1926.6 696.1V707.0M1929.8 698.2V704.3M1931.4 700.4V706.8M1941.1 692.6V702.0M1944.3 695.1V702.1M1945.9 696.5V702.4M1949.2 696.0V702.3M1950.8 698.0V704.6M1955.6 696.7V704.3M1960.4 693.2V700.2M1963.7 692.9V700.3M1966.9 688.3V696.3M1970.1 685.0V690.3M1973.4 676.9V683.1M1976.6 673.4V681.3M1981.4 669.7V676.3M1983.0 670.6V676.3M1984.6 672.4V678.7M1986.3 673.2V684.7M1991.1 677.8V681.3M1994.3 677.7V682.4M1999.2 671.2V678.3M2005.6 668.1V674.2M2007.2 669.8V683.3M2010.4 678.5V683.1M2012.1 678.4V685.8M2015.3 681.5V687.8M2016.9 682.9V691.0M2018.5 685.2V693.1M2020.1 689.3V694.3M2029.8 671.0V678.0M2041.1 635.1V642.9M2045.9 632.0V641.9M2047.5 635.6V643.8M2050.8 637.5V644.3M2052.4 639.8V653.6M2054.0 648.0V655.6M2055.6 650.9V655.2M2057.2 650.1V658.7M2062.1 644.4V649.6M2063.7 645.7V650.1M2065.3 646.0V652.4M2066.9 647.8V654.3M2068.5 649.5V655.8M2070.1 650.7V659.5M2078.2 639.6V648.5M2079.8 642.4V648.7M2083.0 643.9V655.6M2089.5 647.0V652.9M2092.7 644.9V652.9M2094.3 648.8V659.9M2095.9 654.2V665.9M2097.5 662.3V671.8M2100.8 666.4V675.5M2102.4 670.9V681.8M2110.4 659.7V670.3M2112.0 664.8V669.6M2113.7 665.5V671.9M2115.3 667.9V672.4M2126.6 621.3V630.5M2128.2 626.7V637.5M2129.8 632.6V641.1M2131.4 636.7V643.6M2133.0 636.9V649.6M2134.6 646.3V654.9M2147.5 635.0V640.8M2149.1 634.2V649.7M2150.8 645.7V656.3M2152.4 652.1V669.7M2154.0 664.7V678.7M2160.4 651.2V660.9M2162.0 656.2V662.1M2163.7 657.3V667.8M2166.9 658.0V666.3M2173.3 652.1V658.0M2174.9 651.6V658.1M2176.6 654.2V667.8M2178.2 662.1V674.3M2179.8 668.3V688.6M2181.4 684.8V696.9M2187.8 678.0V685.9M2189.5 680.1V688.5M2191.1 684.8V691.2M2194.3 683.1V689.9M2202.4 673.9V683.0M2208.8 671.9V681.5M2212.0 672.2V677.7M2215.3 670.6V677.9M2216.9 673.9V679.7M2218.5 674.3V688.2M2221.7 682.9V687.9M2223.3 683.9V691.5M2226.5 680.8V691.1M2228.2 685.5V692.9M2231.4 681.3V690.8M2233.0 686.8V698.6M2234.6 694.7V707.9M2239.5 688.7V693.1M2244.3 682.9V691.1M2245.9 686.1V690.7M2249.1 681.7V692.0M2255.6 677.3V684.9M2258.8 680.4V686.2M2262.0 677.5V685.7M2265.3 679.6V685.5M2266.9 681.7V688.6M2270.1 680.0V693.9M2278.2 659.4V675.3M2279.8 670.5V691.3M2281.4 686.8V694.0M2286.2 674.9V696.6M2287.8 692.3V709.0M2297.5 682.0V689.4M2299.1 684.3V693.2M2300.7 687.8V694.4M2305.6 684.0V690.1M2307.2 685.9V698.6M2308.8 693.9V706.0M2310.4 699.8V707.5M2318.5 688.6V694.3M2321.7 683.1V691.0M2324.9 681.0V687.2M2328.2 681.1V688.3M2329.8 684.7V692.4M2331.4 687.5V696.9M2333.0 690.5V698.1M2336.2 690.9V699.4M2337.8 695.9V704.7M2341.1 696.3V702.5M2342.7 697.7V703.7M2345.9 698.2V702.7M2347.5 698.0V704.4M2352.3 686.9V693.6M2355.6 684.7V693.1M2358.8 687.3V693.0M2360.4 688.1V694.8M2362.0 691.1V696.5M2368.5 683.2V692.4M2370.1 687.9V693.8"/></g>
<text x="2381" y="1121.6" font-size="21" fill="#3a4b69">$50k</text>
<text x="2381" y="950.0" font-size="21" fill="#3a4b69">$55k</text>
<text x="2381" y="778.4" font-size="21" fill="#3a4b69">$60k</text>
<text x="2381" y="606.8" font-size="21" fill="#3a4b69">$65k</text>
<text x="2381" y="435.2" font-size="21" fill="#3a4b69">$70k</text>
<text x="2381" y="263.6" font-size="21" fill="#3a4b69">$75k</text>
<g>
<path d="M2453.0 680.0 L2454.4 678.0 L2455.9 674.0 L2456.1 670.1 L2457.2 666.1 L2457.4 662.2 L2460.1 658.2 L2462.8 654.3 L2463.8 650.3 L2465.8 646.3 L2468.9 642.4 L2470.5 638.4 L2472.9 634.5 L2473.5 630.5 L2473.5 626.6 L2474.1 622.6 L2474.7 618.7 L2480.6 614.7 L2490.2 610.7 L2495.2 606.8 L2505.5 602.8 L2512.7 598.9 L2521.3 594.9 L2526.3 591.0 L2532.4 587.0 L2536.5 583.1 L2538.1 579.1 L2541.2 575.1 L2542.7 571.2 L2547.8 567.2 L2548.5 563.3 L2552.5 559.3 L2557.1 555.4 L2563.0 551.4 L2568.4 547.5 L2573.3 543.5 L2581.5 539.5 L2588.8 535.6 L2598.2 531.6 L2606.9 527.7 L2614.3 523.7 L2620.1 519.8 L2624.6 515.8 L2628.7 511.9 L2633.8 507.9 L2635.4 503.9 L2636.7 500.0 L2639.2 496.0 L2645.8 492.1 L2651.7 488.1 L2660.5 484.2 L2667.4 480.2 L2672.6 476.3 L2675.6 472.3 L2679.6 468.3 L2684.2 464.4 L2686.4 460.4 L2689.7 456.5 L2690.4 452.5 L2691.4 448.6 L2694.7 444.6 L2696.2 440.7 L2698.9 436.7 L2699.2 432.7 L2700.4 428.8 L2704.2 424.8 L2706.6 420.9 L2709.9 416.9 L2711.8 413.0 L2712.0 409.0 L2714.9 405.1 L2716.1 401.1 L2718.6 397.1 L2720.1 393.2 L2722.4 389.2 L2722.9 385.3 L2724.7 381.3 L2725.2 377.4 L2726.4 373.4 L2726.9 369.5 L2727.6 365.5 L2729.8 361.5 L2731.3 357.6 L2734.5 353.6 L2736.7 349.7 L2741.3 345.7 L2743.2 341.8 L2743.5 337.8 L2743.6 333.9 L2747.5 329.9 L2749.9 325.9 L2750.8 322.0 L2750.8 318.0 L2752.5 314.1 L2753.7 310.1 L2755.5 306.2 L2757.4 302.2 L2757.9 298.3 L2759.3 294.3 L2759.3 290.3 L2759.7 286.4 L2759.7 282.4 L2763.1 278.5 L2765.1 274.5 L2767.6 270.6 L2771.3 266.6 L2772.7 262.7 L2775.2 258.7 L2776.9 254.7 L2778.8 250.8 L2781.2 246.8 L2781.2 242.9 L2784.0 238.9 L2784.0 235.0 L2785.8 231.0 L2786.7 227.1 L2786.7 223.1 L2788.1 219.1 L2788.1 215.2 L2788.1 211.2 L2791.0 207.3 L2792.4 203.3 L2795.2 199.4 L2795.5 195.4 L2796.5 191.5 L2796.5 187.5 L2799.4 183.5 L2800.5 179.6 L2801.5 175.6 L2801.5 171.7 L2803.7 167.7 L2804.3 163.8 L2806.1 159.8 L2806.7 155.9 L2806.7 151.9 L2806.7 147.9 L2806.7 144.0 L2807.3 140.0 L2808.2 136.1 L2809.1 132.1 L2810.8 128.2 L2811.1 124.2 L2815.0 120.3 L2815.3 116.3 L2815.3 112.3 L2815.3 108.4 L2816.0 104.4 L2817.3 100.5 L2817.3 98.5 L2453.0 98.5 Z" fill="#fce0da"/>
<path d="M2453.0 707.7 L2456.1 709.6 L2461.0 713.6 L2469.0 717.5 L2473.9 721.5 L2482.3 725.5 L2485.1 729.4 L2492.1 733.4 L2496.8 737.3 L2501.5 741.3 L2505.6 745.2 L2513.6 749.2 L2516.1 753.1 L2518.7 757.1 L2521.3 761.1 L2526.1 765.0 L2534.3 769.0 L2538.3 772.9 L2545.3 776.9 L2553.8 780.8 L2561.9 784.8 L2571.0 788.7 L2574.3 792.7 L2579.6 796.7 L2586.6 800.6 L2593.0 804.6 L2598.3 808.5 L2604.8 812.5 L2608.3 816.4 L2611.5 820.4 L2614.9 824.3 L2619.3 828.3 L2623.8 832.3 L2627.8 836.2 L2631.5 840.2 L2633.3 844.1 L2636.4 848.1 L2638.0 852.0 L2641.3 856.0 L2644.5 859.9 L2648.5 863.9 L2649.3 867.9 L2650.8 871.8 L2653.7 875.8 L2657.8 879.7 L2658.1 883.7 L2661.7 887.6 L2663.8 891.6 L2666.6 895.5 L2670.4 899.5 L2673.8 903.5 L2678.5 907.4 L2682.8 911.4 L2685.8 915.3 L2689.4 919.3 L2690.0 923.2 L2690.6 927.2 L2692.9 931.1 L2696.3 935.1 L2699.5 939.1 L2702.2 943.0 L2704.5 947.0 L2706.4 950.9 L2707.7 954.9 L2710.8 958.8 L2711.3 962.8 L2712.1 966.7 L2712.5 970.7 L2712.5 974.7 L2712.5 978.6 L2712.5 982.6 L2712.5 986.5 L2712.5 990.5 L2712.5 994.4 L2712.5 998.4 L2712.5 1002.3 L2712.5 1006.3 L2713.8 1010.3 L2714.5 1014.2 L2714.5 1018.2 L2714.9 1022.1 L2719.1 1026.1 L2720.7 1030.0 L2721.7 1034.0 L2723.2 1037.9 L2723.2 1041.9 L2723.2 1045.9 L2725.6 1049.8 L2725.6 1053.8 L2728.4 1057.7 L2729.4 1061.7 L2730.5 1065.6 L2733.4 1069.6 L2734.8 1073.5 L2737.6 1077.5 L2740.6 1081.5 L2741.8 1085.4 L2741.8 1089.4 L2743.2 1093.3 L2745.9 1097.3 L2745.9 1101.2 L2748.7 1105.2 L2751.1 1109.1 L2754.7 1113.1 L2757.2 1117.1 L2759.9 1121.0 L2764.8 1125.0 L2767.0 1128.9 L2770.2 1132.9 L2770.7 1136.8 L2772.0 1140.8 L2772.6 1144.7 L2776.3 1148.7 L2778.2 1152.7 L2779.1 1156.6 L2780.0 1160.6 L2783.7 1164.5 L2783.7 1166.5 L2453.0 1166.5 Z" fill="#dff2e6"/>
<rect x="2577.7" y="98.5" width="1.6" height="1068" fill="#c9cfe0" opacity="0.55"/>
<rect x="2594.2" y="98.5" width="1.6" height="1068" fill="#c9cfe0" opacity="0.55"/>
<rect x="2703.8" y="98.5" width="1.6" height="1068" fill="#c9cfe0" opacity="0.55"/>
<rect x="2736.6" y="98.5" width="1.6" height="1068" fill="#c9cfe0" opacity="0.55"/>
<rect x="2829.2" y="98.5" width="1.6" height="1068" fill="#c9cfe0" opacity="0.55"/>
<clipPath id="pc"><rect x="2453.0" y="98.5" width="420" height="1068"/></clipPath>
<g clip-path="url(#pc)" stroke-linecap="round" fill="none"><path d="M2450.0 100.48h48.3M2450.0 104.43h25.0M2450.0 116.30h14.1M2450.0 120.26h139.1M2450.0 124.21h11.0M2450.0 128.17h59.9M2450.0 132.12h35.1M2450.0 136.08h30.4M2450.0 140.03h25.8M2450.0 155.86h19.6M2450.0 159.81h66.2M2450.0 163.77h21.1M2450.0 167.72h80.9M2450.0 175.63h35.1M2450.0 179.59h41.3M2450.0 183.54h105.7M2450.0 191.46h35.9M2450.0 195.41h12.6M2450.0 199.37h100.3M2450.0 203.32h49.8M2450.0 207.28h102.6M2450.0 219.14h51.9M2450.0 227.06h32.0M2450.0 231.01h64.6M2450.0 238.92h101.9M2450.0 246.83h84.8M2450.0 250.79h68.5M2450.0 254.74h62.3M2450.0 258.70h87.9M2450.0 262.66h53.7M2450.0 266.61h130.6M2450.0 270.57h88.7M2450.0 274.52h71.6M2450.0 278.48h122.1M2450.0 286.39h15.7M2450.0 294.30h49.8M2450.0 298.26h19.6M2450.0 302.21h70.0M2450.0 306.17h63.8M2450.0 310.12h45.2M2450.0 314.08h59.2M2450.0 321.99h32.8M2450.0 325.94h87.9M2450.0 329.90h137.6M2450.0 333.86h7.9M2450.0 337.81h11.8M2450.0 341.77h68.5M2450.0 345.72h164.0M2450.0 349.68h77.8M2450.0 353.63h112.7M2450.0 357.59h56.1M2450.0 361.54h78.6M2450.0 365.50h25.8M2450.0 369.46h19.6M2450.0 373.41h42.9M2450.0 377.37h19.6M2450.0 381.32h66.2M2450.0 385.28h18.8M2450.0 389.23h80.1M2450.0 393.19h56.1M2450.0 397.14h89.4M2450.0 401.10h42.1M2450.0 405.06h105.7M2450.0 409.01h9.5M2450.0 412.97h67.7M2450.0 416.92h116.6M2450.0 420.88h85.6M2450.0 424.83h136.0M2450.0 428.79h42.9M2450.0 432.74h12.6M2450.0 436.70h96.4M2450.0 440.66h54.5M2450.0 444.61h118.2M2450.0 448.57h39.0M2450.0 452.52h25.8M2450.0 456.48h115.1M2450.0 460.43h81.7M2450.0 464.39h164.0M2450.0 468.34h142.2M2450.0 472.30h106.5M2450.0 476.26h184.9M2450.0 480.21h244.7M2450.0 484.17h311.5M2450.0 488.12h210.6M2450.0 492.08h233.5M2450.0 496.03h89.4M2450.0 499.99h49.1M2450.0 503.94h56.1M2450.0 507.90h181.1M2450.0 511.86h146.1M2450.0 515.81h160.9M2450.0 519.77h206.7M2450.0 523.72h262.6M2450.0 527.68h309.9M2450.0 531.63h330.9M2450.0 535.59h261.0M2450.0 539.54h290.5M2450.0 543.50h172.5M2450.0 547.46h194.3M2450.0 551.41h206.7M2450.0 555.37h164.0M2450.0 559.32h143.8M2450.0 563.28h25.8M2450.0 567.23h181.8M2450.0 571.19h56.1M2450.0 575.14h108.1M2450.0 579.10h59.9M2450.0 583.06h143.8M2450.0 587.01h219.1M2450.0 590.97h176.4M2450.0 594.92h305.3M2450.0 598.88h254.0M2450.0 602.83h365.1M2450.0 606.79h178.0M2450.0 610.74h341.8M2450.0 614.70h209.8M2450.0 618.66h23.4M2450.0 622.61h19.6M2450.0 630.52h23.4M2450.0 634.48h85.6M2450.0 638.43h58.4M2450.0 642.39h112.7M2450.0 646.34h72.4M2450.0 650.30h36.6M2450.0 654.26h96.4M2450.0 658.21h95.7M2450.0 662.17h9.5M2450.0 666.12h38.2M2450.0 670.08h10.3M2450.0 674.03h53.0M2450.0 677.99h51.4" stroke="#ef3339" stroke-width="4.11"/>
<path d="M2450.0 709.63h111.2M2450.0 713.59h173.3M2450.0 717.54h285.1M2450.0 721.50h172.5M2450.0 725.46h298.3M2450.0 729.41h101.9M2450.0 733.37h246.3M2450.0 737.32h167.9M2450.0 741.28h167.1M2450.0 745.23h146.1M2450.0 749.19h284.3M2450.0 753.14h90.2M2450.0 757.10h91.8M2450.0 761.06h94.1M2450.0 765.01h171.0M2450.0 768.97h291.3M2450.0 772.92h143.8M2450.0 776.88h246.3M2450.0 780.83h302.2M2450.0 784.79h285.9M2450.0 788.74h323.9M2450.0 792.70h116.6M2450.0 796.66h190.4M2450.0 800.61h246.3M2450.0 804.57h230.0M2450.0 808.52h187.3M2450.0 812.48h229.2M2450.0 816.43h125.9M2450.0 820.39h113.5M2450.0 824.34h122.1M2450.0 828.30h158.5M2450.0 832.26h160.1M2450.0 836.21h139.9M2450.0 840.17h135.3M2450.0 844.12h62.3M2450.0 848.08h112.7M2450.0 852.03h56.1M2450.0 855.99h118.6M2450.0 859.94h115.1M2450.0 863.90h143.8M2450.0 867.86h27.3M2450.0 871.81h55.3M2450.0 875.77h102.6M2450.0 879.72h146.1M2450.0 883.68h11.8M2450.0 887.63h130.6M2450.0 891.59h73.1M2450.0 895.54h102.6M2450.0 899.50h134.5M2450.0 903.46h120.5M2450.0 907.41h168.6M2450.0 911.37h152.3M2450.0 915.32h108.9M2450.0 919.28h128.3M2450.0 923.23h20.3M2450.0 927.19h23.4M2450.0 931.14h84.0M2450.0 935.10h119.7M2450.0 939.06h115.1M2450.0 943.01h97.2M2450.0 946.97h80.9M2450.0 950.92h70.0M2450.0 954.88h45.2M2450.0 958.83h113.5M2450.0 962.79h18.0M2450.0 966.74h29.7M2450.0 970.70h15.7M2450.0 1010.26h48.3M2450.0 1014.21h25.0M2450.0 1022.12h14.9M2450.0 1026.08h149.2M2450.0 1030.03h59.9M2450.0 1033.99h35.9M2450.0 1037.94h55.3M2450.0 1049.81h84.0M2450.0 1057.72h100.3M2450.0 1061.68h35.9M2450.0 1065.63h41.3M2450.0 1069.59h105.7M2450.0 1073.54h47.5M2450.0 1077.50h100.3M2450.0 1081.46h109.3M2450.0 1085.41h42.9M2450.0 1093.32h51.4M2450.0 1097.28h96.4M2450.0 1105.19h101.9M2450.0 1109.14h85.6M2450.0 1113.10h129.0M2450.0 1117.06h87.9M2450.0 1121.01h97.2M2450.0 1124.97h174.1M2450.0 1128.92h78.6M2450.0 1132.88h115.8M2450.0 1136.83h16.5M2450.0 1140.79h49.8M2450.0 1144.74h20.3M2450.0 1148.70h132.9M2450.0 1152.66h70.0M2450.0 1156.61h32.8M2450.0 1160.57h32.8M2450.0 1164.52h132.1" stroke="#149d81" stroke-width="4.11"/></g>
<path d="M2453.0 680.0 L2454.4 678.0 L2455.9 674.0 L2456.1 670.1 L2457.2 666.1 L2457.4 662.2 L2460.1 658.2 L2462.8 654.3 L2463.8 650.3 L2465.8 646.3 L2468.9 642.4 L2470.5 638.4 L2472.9 634.5 L2473.5 630.5 L2473.5 626.6 L2474.1 622.6 L2474.7 618.7 L2480.6 614.7 L2490.2 610.7 L2495.2 606.8 L2505.5 602.8 L2512.7 598.9 L2521.3 594.9 L2526.3 591.0 L2532.4 587.0 L2536.5 583.1 L2538.1 579.1 L2541.2 575.1 L2542.7 571.2 L2547.8 567.2 L2548.5 563.3 L2552.5 559.3 L2557.1 555.4 L2563.0 551.4 L2568.4 547.5 L2573.3 543.5 L2581.5 539.5 L2588.8 535.6 L2598.2 531.6 L2606.9 527.7 L2614.3 523.7 L2620.1 519.8 L2624.6 515.8 L2628.7 511.9 L2633.8 507.9 L2635.4 503.9 L2636.7 500.0 L2639.2 496.0 L2645.8 492.1 L2651.7 488.1 L2660.5 484.2 L2667.4 480.2 L2672.6 476.3 L2675.6 472.3 L2679.6 468.3 L2684.2 464.4 L2686.4 460.4 L2689.7 456.5 L2690.4 452.5 L2691.4 448.6 L2694.7 444.6 L2696.2 440.7 L2698.9 436.7 L2699.2 432.7 L2700.4 428.8 L2704.2 424.8 L2706.6 420.9 L2709.9 416.9 L2711.8 413.0 L2712.0 409.0 L2714.9 405.1 L2716.1 401.1 L2718.6 397.1 L2720.1 393.2 L2722.4 389.2 L2722.9 385.3 L2724.7 381.3 L2725.2 377.4 L2726.4 373.4 L2726.9 369.5 L2727.6 365.5 L2729.8 361.5 L2731.3 357.6 L2734.5 353.6 L2736.7 349.7 L2741.3 345.7 L2743.2 341.8 L2743.5 337.8 L2743.6 333.9 L2747.5 329.9 L2749.9 325.9 L2750.8 322.0 L2750.8 318.0 L2752.5 314.1 L2753.7 310.1 L2755.5 306.2 L2757.4 302.2 L2757.9 298.3 L2759.3 294.3 L2759.3 290.3 L2759.7 286.4 L2759.7 282.4 L2763.1 278.5 L2765.1 274.5 L2767.6 270.6 L2771.3 266.6 L2772.7 262.7 L2775.2 258.7 L2776.9 254.7 L2778.8 250.8 L2781.2 246.8 L2781.2 242.9 L2784.0 238.9 L2784.0 235.0 L2785.8 231.0 L2786.7 227.1 L2786.7 223.1 L2788.1 219.1 L2788.1 215.2 L2788.1 211.2 L2791.0 207.3 L2792.4 203.3 L2795.2 199.4 L2795.5 195.4 L2796.5 191.5 L2796.5 187.5 L2799.4 183.5 L2800.5 179.6 L2801.5 175.6 L2801.5 171.7 L2803.7 167.7 L2804.3 163.8 L2806.1 159.8 L2806.7 155.9 L2806.7 151.9 L2806.7 147.9 L2806.7 144.0 L2807.3 140.0 L2808.2 136.1 L2809.1 132.1 L2810.8 128.2 L2811.1 124.2 L2815.0 120.3 L2815.3 116.3 L2815.3 112.3 L2815.3 108.4 L2816.0 104.4 L2817.3 100.5 L2817.3 98.5" stroke="#f8401f" stroke-width="2.2" fill="none" stroke-linejoin="round"/>
<path d="M2453.0 707.7 L2456.1 709.6 L2461.0 713.6 L2469.0 717.5 L2473.9 721.5 L2482.3 725.5 L2485.1 729.4 L2492.1 733.4 L2496.8 737.3 L2501.5 741.3 L2505.6 745.2 L2513.6 749.2 L2516.1 753.1 L2518.7 757.1 L2521.3 761.1 L2526.1 765.0 L2534.3 769.0 L2538.3 772.9 L2545.3 776.9 L2553.8 780.8 L2561.9 784.8 L2571.0 788.7 L2574.3 792.7 L2579.6 796.7 L2586.6 800.6 L2593.0 804.6 L2598.3 808.5 L2604.8 812.5 L2608.3 816.4 L2611.5 820.4 L2614.9 824.3 L2619.3 828.3 L2623.8 832.3 L2627.8 836.2 L2631.5 840.2 L2633.3 844.1 L2636.4 848.1 L2638.0 852.0 L2641.3 856.0 L2644.5 859.9 L2648.5 863.9 L2649.3 867.9 L2650.8 871.8 L2653.7 875.8 L2657.8 879.7 L2658.1 883.7 L2661.7 887.6 L2663.8 891.6 L2666.6 895.5 L2670.4 899.5 L2673.8 903.5 L2678.5 907.4 L2682.8 911.4 L2685.8 915.3 L2689.4 919.3 L2690.0 923.2 L2690.6 927.2 L2692.9 931.1 L2696.3 935.1 L2699.5 939.1 L2702.2 943.0 L2704.5 947.0 L2706.4 950.9 L2707.7 954.9 L2710.8 958.8 L2711.3 962.8 L2712.1 966.7 L2712.5 970.7 L2712.5 974.7 L2712.5 978.6 L2712.5 982.6 L2712.5 986.5 L2712.5 990.5 L2712.5 994.4 L2712.5 998.4 L2712.5 1002.3 L2712.5 1006.3 L2713.8 1010.3 L2714.5 1014.2 L2714.5 1018.2 L2714.9 1022.1 L2719.1 1026.1 L2720.7 1030.0 L2721.7 1034.0 L2723.2 1037.9 L2723.2 1041.9 L2723.2 1045.9 L2725.6 1049.8 L2725.6 1053.8 L2728.4 1057.7 L2729.4 1061.7 L2730.5 1065.6 L2733.4 1069.6 L2734.8 1073.5 L2737.6 1077.5 L2740.6 1081.5 L2741.8 1085.4 L2741.8 1089.4 L2743.2 1093.3 L2745.9 1097.3 L2745.9 1101.2 L2748.7 1105.2 L2751.1 1109.1 L2754.7 1113.1 L2757.2 1117.1 L2759.9 1121.0 L2764.8 1125.0 L2767.0 1128.9 L2770.2 1132.9 L2770.7 1136.8 L2772.0 1140.8 L2772.6 1144.7 L2776.3 1148.7 L2778.2 1152.7 L2779.1 1156.6 L2780.0 1160.6 L2783.7 1164.5 L2783.7 1166.5" stroke="#6cc04f" stroke-width="2.2" fill="none" stroke-linejoin="round"/>
<rect x="2451.5" y="98.5" width="1.5" height="1068" fill="#8a6a5a" opacity="0.6"/>
<text x="2452.7" y="93.5" font-size="21" fill="#3a4b69" text-anchor="middle">$0</text>
<text x="2595.0" y="93.5" font-size="21" fill="#3a4b69" text-anchor="middle">$20B</text>
<text x="2737.4" y="93.5" font-size="21" fill="#3a4b69" text-anchor="middle">$40B</text>
<text x="2452.6" y="1189.7" font-size="21" fill="#3a4b69" text-anchor="middle">$0</text>
<text x="2578.9" y="1189.7" font-size="21" fill="#3a4b69" text-anchor="middle">$0.5B</text>
<text x="2704.7" y="1189.7" font-size="21" fill="#3a4b69" text-anchor="middle">$1B</text>
<text x="2830.9" y="1189.7" font-size="21" fill="#3a4b69" text-anchor="middle">$1.5B</text>
<text x="2549.5" y="1241.8" font-size="24.5" fill="#4d5d7a" textLength="188.7" lengthAdjust="spacing">Liquidation Map</text>
</g>
<path d="M204.8 1208.6H208.4V1212.0H204.8ZM208.0 1208.6H211.7V1216.9H208.0ZM211.3 1208.6H214.9V1220.2H211.3ZM214.5 1208.6H218.1V1221.8H214.5ZM217.7 1208.6H221.3V1222.7H217.7ZM220.9 1208.6H224.6V1222.3H220.9ZM224.2 1208.6H227.8V1223.3H224.2ZM227.4 1208.6H231.0V1222.4H227.4ZM230.6 1208.6H234.2V1223.1H230.6ZM233.8 1208.6H237.5V1220.0H233.8ZM237.1 1208.6H240.7V1223.5H237.1ZM240.3 1208.6H243.9V1220.9H240.3ZM243.5 1208.6H247.1V1220.9H243.5ZM246.7 1208.6H250.4V1219.2H246.7ZM250.0 1208.6H253.6V1218.2H250.0ZM253.2 1208.6H256.8V1218.3H253.2ZM256.4 1208.6H260.0V1217.9H256.4ZM259.6 1208.6H263.3V1215.9H259.6ZM262.9 1208.6H266.5V1215.7H262.9ZM266.1 1208.6H269.7V1218.4H266.1ZM269.3 1208.6H272.9V1218.5H269.3ZM272.5 1208.6H276.2V1219.6H272.5ZM275.8 1208.6H279.4V1223.5H275.8ZM279.0 1208.6H282.6V1224.2H279.0ZM282.2 1208.6H285.8V1224.6H282.2ZM285.4 1208.6H289.1V1226.7H285.4ZM288.7 1208.6H292.3V1227.3H288.7ZM291.9 1208.6H295.5V1226.8H291.9ZM295.1 1208.6H298.7V1226.7H295.1ZM298.3 1208.6H302.0V1228.7H298.3ZM301.6 1208.6H305.2V1229.8H301.6ZM304.8 1208.6H308.4V1228.9H304.8ZM308.0 1208.6H311.6V1228.5H308.0ZM311.2 1208.6H314.9V1230.0H311.2ZM314.5 1208.6H318.1V1230.7H314.5ZM317.7 1208.6H321.3V1229.8H317.7ZM320.9 1208.6H324.5V1231.0H320.9ZM324.1 1208.6H327.8V1231.4H324.1ZM327.4 1208.6H331.0V1229.7H327.4ZM330.6 1208.6H334.2V1228.7H330.6ZM333.8 1208.6H337.4V1229.7H333.8ZM337.0 1208.6H340.7V1229.2H337.0ZM340.3 1208.6H343.9V1229.8H340.3ZM343.5 1208.6H347.1V1226.9H343.5ZM346.7 1208.6H350.3V1227.3H346.7ZM349.9 1208.6H353.6V1226.7H349.9ZM353.2 1208.6H356.8V1225.6H353.2ZM356.4 1208.6H360.0V1227.8H356.4ZM359.6 1208.6H363.2V1228.4H359.6ZM362.8 1208.6H366.5V1227.1H362.8ZM366.1 1208.6H369.7V1229.6H366.1ZM369.3 1208.6H372.9V1229.1H369.3ZM372.5 1208.6H376.1V1229.1H372.5ZM375.7 1208.6H379.4V1229.0H375.7ZM379.0 1208.6H382.6V1229.7H379.0ZM382.2 1208.6H385.8V1227.3H382.2ZM385.4 1208.6H389.1V1229.6H385.4ZM388.7 1208.6H392.3V1229.8H388.7ZM391.9 1208.6H395.5V1226.7H391.9ZM395.1 1208.6H398.7V1227.9H395.1ZM398.3 1208.6H402.0V1226.2H398.3ZM401.6 1208.6H405.2V1226.2H401.6ZM404.8 1208.6H408.4V1223.8H404.8ZM408.0 1208.6H411.6V1223.1H408.0ZM411.2 1208.6H414.9V1222.4H411.2ZM414.5 1208.6H418.1V1219.5H414.5ZM417.7 1208.6H421.3V1219.4H417.7ZM420.9 1208.6H424.5V1216.9H420.9ZM424.1 1208.6H427.8V1213.1H424.1ZM449.9 1208.6H453.6V1208.4H449.9ZM453.2 1208.6H456.8V1222.9H453.2ZM456.4 1208.6H460.0V1221.8H456.4ZM459.6 1208.6H463.2V1220.6H459.6ZM462.8 1208.6H466.5V1219.0H462.8ZM466.1 1208.6H469.7V1220.8H466.1ZM469.3 1208.6H472.9V1217.5H469.3ZM472.5 1208.6H476.1V1218.9H472.5ZM475.7 1208.6H479.4V1219.1H475.7ZM479.0 1208.6H482.6V1216.5H479.0ZM482.2 1208.6H485.8V1218.6H482.2ZM485.4 1208.6H489.0V1218.1H485.4ZM488.6 1208.6H492.3V1220.5H488.6ZM491.9 1208.6H495.5V1222.5H491.9ZM495.1 1208.6H498.7V1223.7H495.1ZM498.3 1208.6H501.9V1219.8H498.3ZM501.5 1208.6H505.2V1220.7H501.5ZM504.8 1208.6H508.4V1221.6H504.8ZM508.0 1208.6H511.6V1222.1H508.0ZM511.2 1208.6H514.8V1220.4H511.2ZM514.4 1208.6H518.1V1218.7H514.4ZM517.7 1208.6H521.3V1219.4H517.7ZM520.9 1208.6H524.5V1218.0H520.9ZM524.1 1208.6H527.7V1216.6H524.1ZM527.3 1208.6H531.0V1214.8H527.3ZM530.6 1208.6H534.2V1214.8H530.6ZM533.8 1208.6H537.4V1212.2H533.8ZM591.9 1208.6H595.5V1211.0H591.9ZM595.1 1208.6H598.7V1216.0H595.1ZM598.3 1208.6H601.9V1218.9H598.3ZM601.5 1208.6H605.2V1221.2H601.5ZM604.8 1208.6H608.4V1223.3H604.8ZM608.0 1208.6H611.6V1224.1H608.0ZM611.2 1208.6H614.8V1222.8H611.2ZM614.4 1208.6H618.1V1223.6H614.4ZM617.7 1208.6H621.3V1221.9H617.7ZM620.9 1208.6H624.5V1222.5H620.9ZM624.1 1208.6H627.7V1219.6H624.1ZM627.3 1208.6H631.0V1220.0H627.3ZM630.6 1208.6H634.2V1222.0H630.6ZM633.8 1208.6H637.4V1220.0H633.8ZM637.0 1208.6H640.6V1220.9H637.0ZM640.2 1208.6H643.9V1220.4H640.2ZM643.5 1208.6H647.1V1220.8H643.5ZM646.7 1208.6H650.3V1219.7H646.7ZM649.9 1208.6H653.5V1219.5H649.9ZM653.1 1208.6H656.8V1217.8H653.1ZM656.4 1208.6H660.0V1217.2H656.4ZM659.6 1208.6H663.2V1218.0H659.6ZM662.8 1208.6H666.4V1219.0H662.8ZM666.0 1208.6H669.7V1219.1H666.0ZM669.3 1208.6H672.9V1220.6H669.3ZM672.5 1208.6H676.1V1221.9H672.5ZM675.7 1208.6H679.3V1223.1H675.7ZM678.9 1208.6H682.6V1223.2H678.9ZM682.2 1208.6H685.8V1222.3H682.2ZM685.4 1208.6H689.0V1225.1H685.4ZM688.6 1208.6H692.2V1226.3H688.6ZM691.8 1208.6H695.5V1227.1H691.8ZM695.1 1208.6H698.7V1226.2H695.1ZM698.3 1208.6H701.9V1224.6H698.3ZM701.5 1208.6H705.1V1224.2H701.5ZM704.7 1208.6H708.4V1226.8H704.7ZM708.0 1208.6H711.6V1225.1H708.0ZM711.2 1208.6H714.8V1226.0H711.2ZM714.4 1208.6H718.0V1226.0H714.4ZM717.6 1208.6H721.3V1222.4H717.6ZM720.9 1208.6H724.5V1223.4H720.9ZM724.1 1208.6H727.7V1223.2H724.1ZM727.3 1208.6H730.9V1223.0H727.3ZM730.5 1208.6H734.2V1222.6H730.5ZM733.8 1208.6H737.4V1222.0H733.8ZM737.0 1208.6H740.6V1221.7H737.0ZM740.2 1208.6H743.8V1219.6H740.2ZM743.4 1208.6H747.1V1220.8H743.4ZM746.7 1208.6H750.3V1220.0H746.7ZM749.9 1208.6H753.5V1220.7H749.9ZM753.1 1208.6H756.8V1219.8H753.1ZM756.4 1208.6H760.0V1220.7H756.4ZM759.6 1208.6H763.2V1220.7H759.6ZM762.8 1208.6H766.4V1219.9H762.8ZM766.0 1208.6H769.7V1219.6H766.0ZM769.3 1208.6H772.9V1219.1H769.3ZM772.5 1208.6H776.1V1218.3H772.5ZM775.7 1208.6H779.3V1218.4H775.7ZM778.9 1208.6H782.6V1217.8H778.9ZM782.2 1208.6H785.8V1218.5H782.2ZM785.4 1208.6H789.0V1217.8H785.4ZM788.6 1208.6H792.2V1218.4H788.6ZM791.8 1208.6H795.5V1216.5H791.8ZM795.1 1208.6H798.7V1219.3H795.1ZM798.3 1208.6H801.9V1217.7H798.3ZM801.5 1208.6H805.1V1218.0H801.5ZM804.7 1208.6H808.4V1218.9H804.7ZM808.0 1208.6H811.6V1218.7H808.0ZM811.2 1208.6H814.8V1219.9H811.2ZM814.4 1208.6H818.0V1219.3H814.4ZM817.6 1208.6H821.3V1219.0H817.6ZM820.9 1208.6H824.5V1219.5H820.9ZM824.1 1208.6H827.7V1222.1H824.1ZM827.3 1208.6H830.9V1221.0H827.3ZM830.5 1208.6H834.2V1220.0H830.5ZM833.8 1208.6H837.4V1221.5H833.8ZM837.0 1208.6H840.6V1220.1H837.0ZM840.2 1208.6H843.8V1223.7H840.2ZM843.4 1208.6H847.1V1219.8H843.4ZM846.7 1208.6H850.3V1221.6H846.7ZM849.9 1208.6H853.5V1221.4H849.9ZM853.1 1208.6H856.7V1218.9H853.1ZM856.3 1208.6H860.0V1220.5H856.3ZM859.6 1208.6H863.2V1220.9H859.6ZM862.8 1208.6H866.4V1220.0H862.8ZM866.0 1208.6H869.6V1219.5H866.0ZM869.2 1208.6H872.9V1219.9H869.2ZM872.5 1208.6H876.1V1218.7H872.5ZM875.7 1208.6H879.3V1218.6H875.7ZM878.9 1208.6H882.5V1217.7H878.9ZM882.1 1208.6H885.8V1218.2H882.1ZM885.4 1208.6H889.0V1216.1H885.4ZM888.6 1208.6H892.2V1217.6H888.6ZM891.8 1208.6H895.4V1215.8H891.8ZM895.0 1208.6H898.7V1214.7H895.0ZM898.3 1208.6H901.9V1215.9H898.3ZM901.5 1208.6H905.1V1217.0H901.5ZM904.7 1208.6H908.3V1215.8H904.7ZM907.9 1208.6H911.6V1213.8H907.9ZM911.2 1208.6H914.8V1214.7H911.2ZM914.4 1208.6H918.0V1213.0H914.4ZM917.6 1208.6H921.2V1213.8H917.6ZM920.8 1208.6H924.5V1214.8H920.8ZM924.1 1208.6H927.7V1213.0H924.1ZM927.3 1208.6H930.9V1216.5H927.3ZM930.5 1208.6H934.2V1216.0H930.5ZM933.8 1208.6H937.4V1217.2H933.8ZM937.0 1208.6H940.6V1217.1H937.0ZM940.2 1208.6H943.8V1217.9H940.2ZM943.4 1208.6H947.1V1222.5H943.4ZM946.7 1208.6H950.3V1229.9H946.7ZM949.9 1208.6H953.5V1236.2H949.9ZM953.1 1208.6H956.7V1239.7H953.1ZM956.3 1208.6H960.0V1243.5H956.3ZM959.6 1208.6H963.2V1243.6H959.6ZM962.8 1208.6H966.4V1243.4H962.8ZM966.0 1208.6H969.6V1247.3H966.0ZM969.2 1208.6H972.9V1247.4H969.2ZM972.5 1208.6H976.1V1245.6H972.5ZM975.7 1208.6H979.3V1245.6H975.7ZM978.9 1208.6H982.5V1245.1H978.9ZM982.1 1208.6H985.8V1242.7H982.1ZM985.4 1208.6H989.0V1241.3H985.4ZM988.6 1208.6H992.2V1241.8H988.6ZM991.8 1208.6H995.4V1241.0H991.8ZM995.0 1208.6H998.7V1243.4H995.0ZM998.3 1208.6H1001.9V1248.1H998.3ZM1001.5 1208.6H1005.1V1252.1H1001.5ZM1004.7 1208.6H1008.3V1253.0H1004.7ZM1007.9 1208.6H1011.6V1257.5H1007.9ZM1011.2 1208.6H1014.8V1259.1H1011.2ZM1014.4 1208.6H1018.0V1258.6H1014.4ZM1017.6 1208.6H1021.2V1258.7H1017.6ZM1020.8 1208.6H1024.5V1256.8H1020.8ZM1024.1 1208.6H1027.7V1257.8H1024.1ZM1027.3 1208.6H1030.9V1258.9H1027.3ZM1030.5 1208.6H1034.1V1257.3H1030.5ZM1033.7 1208.6H1037.4V1255.5H1033.7ZM1037.0 1208.6H1040.6V1257.4H1037.0ZM1040.2 1208.6H1043.8V1259.4H1040.2ZM1043.4 1208.6H1047.0V1259.6H1043.4ZM1046.6 1208.6H1050.3V1259.8H1046.6ZM1049.9 1208.6H1053.5V1263.3H1049.9ZM1053.1 1208.6H1056.7V1261.0H1053.1ZM1056.3 1208.6H1059.9V1262.7H1056.3ZM1059.5 1208.6H1063.2V1261.8H1059.5ZM1062.8 1208.6H1066.4V1260.3H1062.8ZM1066.0 1208.6H1069.6V1262.7H1066.0ZM1069.2 1208.6H1072.8V1261.4H1069.2ZM1072.4 1208.6H1076.1V1259.5H1072.4ZM1075.7 1208.6H1079.3V1261.2H1075.7ZM1078.9 1208.6H1082.5V1260.5H1078.9ZM1082.1 1208.6H1085.7V1260.9H1082.1ZM1085.3 1208.6H1089.0V1264.1H1085.3ZM1088.6 1208.6H1092.2V1267.1H1088.6ZM1091.8 1208.6H1095.4V1269.5H1091.8ZM1095.0 1208.6H1098.6V1270.9H1095.0ZM1098.2 1208.6H1101.9V1272.7H1098.2ZM1101.5 1208.6H1105.1V1273.1H1101.5ZM1104.7 1208.6H1108.3V1271.7H1104.7ZM1107.9 1208.6H1111.6V1272.5H1107.9ZM1111.2 1208.6H1114.8V1270.6H1111.2ZM1114.4 1208.6H1118.0V1270.1H1114.4ZM1117.6 1208.6H1121.2V1269.6H1117.6ZM1120.8 1208.6H1124.5V1267.2H1120.8ZM1124.1 1208.6H1127.7V1266.8H1124.1ZM1127.3 1208.6H1130.9V1268.6H1127.3ZM1130.5 1208.6H1134.1V1266.5H1130.5ZM1133.7 1208.6H1137.4V1265.2H1133.7ZM1137.0 1208.6H1140.6V1265.1H1137.0ZM1140.2 1208.6H1143.8V1264.2H1140.2ZM1143.4 1208.6H1147.0V1265.2H1143.4ZM1146.6 1208.6H1150.3V1264.4H1146.6ZM1149.9 1208.6H1153.5V1265.6H1149.9ZM1153.1 1208.6H1156.7V1263.7H1153.1ZM1156.3 1208.6H1159.9V1267.1H1156.3ZM1159.5 1208.6H1163.2V1265.3H1159.5ZM1162.8 1208.6H1166.4V1264.3H1162.8ZM1166.0 1208.6H1169.6V1265.9H1166.0ZM1169.2 1208.6H1172.8V1266.0H1169.2ZM1172.4 1208.6H1176.1V1266.7H1172.4ZM1175.7 1208.6H1179.3V1265.5H1175.7ZM1178.9 1208.6H1182.5V1269.4H1178.9ZM1182.1 1208.6H1185.7V1275.3H1182.1ZM1185.3 1208.6H1189.0V1272.4H1185.3ZM1188.6 1208.6H1192.2V1276.6H1188.6ZM1191.8 1208.6H1195.4V1278.3H1191.8ZM1195.0 1208.6H1198.6V1282.7H1195.0ZM1198.2 1208.6H1201.9V1285.3H1198.2ZM1201.5 1208.6H1205.1V1290.9H1201.5ZM1204.7 1208.6H1208.3V1297.5H1204.7ZM1207.9 1208.6H1211.5V1301.8H1207.9ZM1211.1 1208.6H1214.8V1307.3H1211.1ZM1214.4 1208.6H1218.0V1305.8H1214.4ZM1217.6 1208.6H1221.2V1307.8H1217.6ZM1220.8 1208.6H1224.4V1311.9H1220.8ZM1224.0 1208.6H1227.7V1311.4H1224.0ZM1227.3 1208.6H1230.9V1319.7H1227.3ZM1230.5 1208.6H1234.1V1329.0H1230.5ZM1233.7 1208.6H1237.3V1337.1H1233.7ZM1236.9 1208.6H1240.6V1337.2H1236.9ZM1240.2 1208.6H1243.8V1335.5H1240.2ZM1243.4 1208.6H1247.0V1333.6H1243.4ZM1246.6 1208.6H1250.2V1333.7H1246.6ZM1249.8 1208.6H1253.5V1335.2H1249.8ZM1253.1 1208.6H1256.7V1332.1H1253.1ZM1256.3 1208.6H1259.9V1326.0H1256.3ZM1259.5 1208.6H1263.1V1327.3H1259.5ZM1262.7 1208.6H1266.4V1324.9H1262.7ZM1266.0 1208.6H1269.6V1325.0H1266.0ZM1269.2 1208.6H1272.8V1323.3H1269.2ZM1272.4 1208.6H1276.0V1324.8H1272.4ZM1275.6 1208.6H1279.3V1322.9H1275.6ZM1278.9 1208.6H1282.5V1322.1H1278.9ZM1282.1 1208.6H1285.7V1320.5H1282.1ZM1285.3 1208.6H1289.0V1320.4H1285.3ZM1288.5 1208.6H1292.2V1321.3H1288.5ZM1291.8 1208.6H1295.4V1322.8H1291.8ZM1295.0 1208.6H1298.6V1322.4H1295.0ZM1298.2 1208.6H1301.9V1321.9H1298.2ZM1301.5 1208.6H1305.1V1324.9H1301.5ZM1304.7 1208.6H1308.3V1324.9H1304.7ZM1307.9 1208.6H1311.5V1325.8H1307.9ZM1311.1 1208.6H1314.8V1326.2H1311.1ZM1314.4 1208.6H1318.0V1327.7H1314.4ZM1317.6 1208.6H1321.2V1328.2H1317.6ZM1320.8 1208.6H1324.4V1326.0H1320.8ZM1324.0 1208.6H1327.7V1330.5H1324.0ZM1327.3 1208.6H1330.9V1330.3H1327.3ZM1330.5 1208.6H1334.1V1329.7H1330.5ZM1333.7 1208.6H1337.3V1331.3H1333.7ZM1336.9 1208.6H1340.6V1330.9H1336.9ZM1340.2 1208.6H1343.8V1331.1H1340.2ZM1343.4 1208.6H1347.0V1326.5H1343.4ZM1346.6 1208.6H1350.2V1327.0H1346.6ZM1349.8 1208.6H1353.5V1325.8H1349.8ZM1353.1 1208.6H1356.7V1325.0H1353.1ZM1356.3 1208.6H1359.9V1323.2H1356.3ZM1359.5 1208.6H1363.1V1323.2H1359.5ZM1362.7 1208.6H1366.4V1323.6H1362.7ZM1366.0 1208.6H1369.6V1325.7H1366.0ZM1369.2 1208.6H1372.8V1332.0H1369.2ZM1372.4 1208.6H1376.0V1334.6H1372.4ZM1375.6 1208.6H1379.3V1338.9H1375.6ZM1378.9 1208.6H1382.5V1340.9H1378.9ZM1382.1 1208.6H1385.7V1341.3H1382.1ZM1385.3 1208.6H1388.9V1339.0H1385.3ZM1388.5 1208.6H1392.2V1340.6H1388.5ZM1391.8 1208.6H1395.4V1339.2H1391.8ZM1395.0 1208.6H1398.6V1339.6H1395.0ZM1398.2 1208.6H1401.8V1339.3H1398.2ZM1401.4 1208.6H1405.1V1338.2H1401.4ZM1404.7 1208.6H1408.3V1338.2H1404.7ZM1407.9 1208.6H1411.5V1337.4H1407.9ZM1411.1 1208.6H1414.7V1337.6H1411.1ZM1414.3 1208.6H1418.0V1336.6H1414.3ZM1417.6 1208.6H1421.2V1334.8H1417.6ZM1420.8 1208.6H1424.4V1334.1H1420.8ZM1424.0 1208.6H1427.6V1335.9H1424.0ZM1427.2 1208.6H1430.9V1333.2H1427.2ZM1430.5 1208.6H1434.1V1333.7H1430.5ZM1433.7 1208.6H1437.3V1332.4H1433.7ZM1436.9 1208.6H1440.5V1330.6H1436.9ZM1440.1 1208.6H1443.8V1329.8H1440.1ZM1443.4 1208.6H1447.0V1330.4H1443.4ZM1446.6 1208.6H1450.2V1330.1H1446.6ZM1449.8 1208.6H1453.4V1330.1H1449.8ZM1453.0 1208.6H1456.7V1327.7H1453.0ZM1456.3 1208.6H1459.9V1328.1H1456.3ZM1459.5 1208.6H1463.1V1330.2H1459.5ZM1462.7 1208.6H1466.3V1333.7H1462.7ZM1465.9 1208.6H1469.6V1331.0H1465.9ZM1469.2 1208.6H1472.8V1335.6H1469.2ZM1472.4 1208.6H1476.0V1335.6H1472.4ZM1475.6 1208.6H1479.3V1337.8H1475.6ZM1478.9 1208.6H1482.5V1337.8H1478.9ZM1482.1 1208.6H1485.7V1339.8H1482.1ZM1485.3 1208.6H1488.9V1342.2H1485.3ZM1488.5 1208.6H1492.2V1342.0H1488.5ZM1491.8 1208.6H1495.4V1343.1H1491.8ZM1495.0 1208.6H1498.6V1343.9H1495.0ZM1498.2 1208.6H1501.8V1341.6H1498.2ZM1501.4 1208.6H1505.1V1341.9H1501.4ZM1504.7 1208.6H1508.3V1340.0H1504.7ZM1507.9 1208.6H1511.5V1338.3H1507.9ZM1511.1 1208.6H1514.7V1338.1H1511.1ZM1514.3 1208.6H1518.0V1336.8H1514.3ZM1517.6 1208.6H1521.2V1336.8H1517.6ZM1520.8 1208.6H1524.4V1334.9H1520.8ZM1524.0 1208.6H1527.6V1333.5H1524.0ZM1527.2 1208.6H1530.9V1334.9H1527.2ZM1530.5 1208.6H1534.1V1333.6H1530.5ZM1533.7 1208.6H1537.3V1333.1H1533.7ZM1536.9 1208.6H1540.5V1331.6H1536.9ZM1540.1 1208.6H1543.8V1330.0H1540.1ZM1543.4 1208.6H1547.0V1328.8H1543.4ZM1546.6 1208.6H1550.2V1328.4H1546.6ZM1549.8 1208.6H1553.4V1330.0H1549.8ZM1553.0 1208.6H1556.7V1329.4H1553.0ZM1556.3 1208.6H1559.9V1327.9H1556.3ZM1559.5 1208.6H1563.1V1329.8H1559.5ZM1562.7 1208.6H1566.3V1328.5H1562.7ZM1565.9 1208.6H1569.6V1330.5H1565.9ZM1569.2 1208.6H1572.8V1329.3H1569.2ZM1572.4 1208.6H1576.0V1329.1H1572.4ZM1575.6 1208.6H1579.2V1329.5H1575.6ZM1578.8 1208.6H1582.5V1328.2H1578.8ZM1582.1 1208.6H1585.7V1325.4H1582.1ZM1585.3 1208.6H1588.9V1327.0H1585.3ZM1588.5 1208.6H1592.1V1327.5H1588.5ZM1591.7 1208.6H1595.4V1322.4H1591.7ZM1595.0 1208.6H1598.6V1325.0H1595.0ZM1598.2 1208.6H1601.8V1321.1H1598.2ZM1601.4 1208.6H1605.0V1320.3H1601.4ZM1604.6 1208.6H1608.3V1319.5H1604.6ZM1607.9 1208.6H1611.5V1317.1H1607.9ZM1611.1 1208.6H1614.7V1319.0H1611.1ZM1614.3 1208.6H1617.9V1317.0H1614.3ZM1617.5 1208.6H1621.2V1314.6H1617.5ZM1620.8 1208.6H1624.4V1314.1H1620.8ZM1624.0 1208.6H1627.6V1311.8H1624.0ZM1627.2 1208.6H1630.8V1312.6H1627.2ZM1630.4 1208.6H1634.1V1313.5H1630.4ZM1633.7 1208.6H1637.3V1310.0H1633.7ZM1636.9 1208.6H1640.5V1310.9H1636.9ZM1640.1 1208.6H1643.7V1311.0H1640.1ZM1643.3 1208.6H1647.0V1311.4H1643.3ZM1646.6 1208.6H1650.2V1311.2H1646.6ZM1649.8 1208.6H1653.4V1311.5H1649.8ZM1653.0 1208.6H1656.7V1316.9H1653.0ZM1656.3 1208.6H1659.9V1323.8H1656.3ZM1659.5 1208.6H1663.1V1322.4H1659.5ZM1662.7 1208.6H1666.3V1320.4H1662.7ZM1665.9 1208.6H1669.6V1319.9H1665.9ZM1669.2 1208.6H1672.8V1318.6H1669.2ZM1672.4 1208.6H1676.0V1315.0H1672.4ZM1675.6 1208.6H1679.2V1313.0H1675.6ZM1678.8 1208.6H1682.5V1312.9H1678.8ZM1682.1 1208.6H1685.7V1309.2H1682.1ZM1685.3 1208.6H1688.9V1310.3H1685.3ZM1688.5 1208.6H1692.1V1308.2H1688.5ZM1691.7 1208.6H1695.4V1311.0H1691.7ZM1695.0 1208.6H1698.6V1308.2H1695.0ZM1698.2 1208.6H1701.8V1308.0H1698.2ZM1701.4 1208.6H1705.0V1308.3H1701.4ZM1704.6 1208.6H1708.3V1306.4H1704.6ZM1707.9 1208.6H1711.5V1310.6H1707.9ZM1711.1 1208.6H1714.7V1312.3H1711.1ZM1714.3 1208.6H1717.9V1310.3H1714.3ZM1717.5 1208.6H1721.2V1312.6H1717.5ZM1720.8 1208.6H1724.4V1313.4H1720.8ZM1724.0 1208.6H1727.6V1311.7H1724.0ZM1727.2 1208.6H1730.8V1315.3H1727.2ZM1730.4 1208.6H1734.1V1316.5H1730.4ZM1733.7 1208.6H1737.3V1316.1H1733.7ZM1736.9 1208.6H1740.5V1316.6H1736.9ZM1740.1 1208.6H1743.7V1318.3H1740.1ZM1743.3 1208.6H1747.0V1316.2H1743.3ZM1746.6 1208.6H1750.2V1317.7H1746.6ZM1749.8 1208.6H1753.4V1318.5H1749.8ZM1753.0 1208.6H1756.6V1315.7H1753.0ZM1756.2 1208.6H1759.9V1317.9H1756.2ZM1759.5 1208.6H1763.1V1316.1H1759.5ZM1762.7 1208.6H1766.3V1314.0H1762.7ZM1765.9 1208.6H1769.5V1315.9H1765.9ZM1769.1 1208.6H1772.8V1314.6H1769.1ZM1772.4 1208.6H1776.0V1315.5H1772.4ZM1775.6 1208.6H1779.2V1313.3H1775.6ZM1778.8 1208.6H1782.4V1315.2H1778.8ZM1782.0 1208.6H1785.7V1312.7H1782.0ZM1785.3 1208.6H1788.9V1313.3H1785.3ZM1788.5 1208.6H1792.1V1311.8H1788.5ZM1791.7 1208.6H1795.3V1311.5H1791.7ZM1794.9 1208.6H1798.6V1313.0H1794.9ZM1798.2 1208.6H1801.8V1312.2H1798.2ZM1801.4 1208.6H1805.0V1311.7H1801.4ZM1804.6 1208.6H1808.2V1311.0H1804.6ZM1807.8 1208.6H1811.5V1313.9H1807.8ZM1811.1 1208.6H1814.7V1313.6H1811.1ZM1814.3 1208.6H1817.9V1312.7H1814.3ZM1817.5 1208.6H1821.1V1313.6H1817.5ZM1820.7 1208.6H1824.4V1312.4H1820.7ZM1824.0 1208.6H1827.6V1312.7H1824.0ZM1827.2 1208.6H1830.8V1313.5H1827.2ZM1830.4 1208.6H1834.1V1315.3H1830.4ZM1833.7 1208.6H1837.3V1315.8H1833.7ZM1836.9 1208.6H1840.5V1315.2H1836.9ZM1840.1 1208.6H1843.7V1317.4H1840.1ZM1843.3 1208.6H1847.0V1318.0H1843.3ZM1846.6 1208.6H1850.2V1317.9H1846.6ZM1849.8 1208.6H1853.4V1319.4H1849.8ZM1853.0 1208.6H1856.6V1318.5H1853.0ZM1856.2 1208.6H1859.9V1318.7H1856.2ZM1859.5 1208.6H1863.1V1319.4H1859.5ZM1862.7 1208.6H1866.3V1318.8H1862.7ZM1865.9 1208.6H1869.5V1319.7H1865.9ZM1869.1 1208.6H1872.8V1317.5H1869.1ZM1872.4 1208.6H1876.0V1320.4H1872.4ZM1875.6 1208.6H1879.2V1318.0H1875.6ZM1878.8 1208.6H1882.4V1318.7H1878.8ZM1882.0 1208.6H1885.7V1317.3H1882.0ZM1885.3 1208.6H1888.9V1319.5H1885.3ZM1888.5 1208.6H1892.1V1320.2H1888.5ZM1891.7 1208.6H1895.3V1320.0H1891.7ZM1894.9 1208.6H1898.6V1319.8H1894.9ZM1898.2 1208.6H1901.8V1317.1H1898.2ZM1901.4 1208.6H1905.0V1318.0H1901.4ZM1904.6 1208.6H1908.2V1318.3H1904.6ZM1907.8 1208.6H1911.5V1317.8H1907.8ZM1911.1 1208.6H1914.7V1320.1H1911.1ZM1914.3 1208.6H1917.9V1319.0H1914.3ZM1917.5 1208.6H1921.1V1318.8H1917.5ZM1920.7 1208.6H1924.4V1319.4H1920.7ZM1924.0 1208.6H1927.6V1317.8H1924.0ZM1927.2 1208.6H1930.8V1317.8H1927.2ZM1930.4 1208.6H1934.0V1317.8H1930.4ZM1933.6 1208.6H1937.3V1318.7H1933.6ZM1936.9 1208.6H1940.5V1317.9H1936.9ZM1940.1 1208.6H1943.7V1317.5H1940.1ZM1943.3 1208.6H1946.9V1317.4H1943.3ZM1946.5 1208.6H1950.2V1314.1H1946.5ZM1949.8 1208.6H1953.4V1314.3H1949.8ZM1953.0 1208.6H1956.6V1314.4H1953.0ZM1956.2 1208.6H1959.8V1311.9H1956.2ZM1959.4 1208.6H1963.1V1310.5H1959.4ZM1962.7 1208.6H1966.3V1310.0H1962.7ZM1965.9 1208.6H1969.5V1307.8H1965.9ZM1969.1 1208.6H1972.7V1305.5H1969.1ZM1972.3 1208.6H1976.0V1302.1H1972.3ZM1975.6 1208.6H1979.2V1299.6H1975.6ZM1978.8 1208.6H1982.4V1299.8H1978.8ZM1982.0 1208.6H1985.6V1297.9H1982.0ZM1985.2 1208.6H1988.9V1298.3H1985.2ZM1988.5 1208.6H1992.1V1299.1H1988.5ZM1991.7 1208.6H1995.3V1296.9H1991.7ZM1994.9 1208.6H1998.5V1296.3H1994.9ZM1998.1 1208.6H2001.8V1296.7H1998.1ZM2001.4 1208.6H2005.0V1299.5H2001.4ZM2004.6 1208.6H2008.2V1301.8H2004.6ZM2007.8 1208.6H2011.5V1303.8H2007.8ZM2011.0 1208.6H2014.7V1306.7H2011.0ZM2014.3 1208.6H2017.9V1306.7H2014.3ZM2017.5 1208.6H2021.1V1307.2H2017.5ZM2020.7 1208.6H2024.4V1306.2H2020.7ZM2024.0 1208.6H2027.6V1302.8H2024.0ZM2027.2 1208.6H2030.8V1300.2H2027.2ZM2030.4 1208.6H2034.0V1298.2H2030.4ZM2033.6 1208.6H2037.3V1296.4H2033.6ZM2036.9 1208.6H2040.5V1295.0H2036.9ZM2040.1 1208.6H2043.7V1291.9H2040.1ZM2043.3 1208.6H2046.9V1293.1H2043.3ZM2046.5 1208.6H2050.2V1295.5H2046.5ZM2049.8 1208.6H2053.4V1294.3H2049.8ZM2053.0 1208.6H2056.6V1296.6H2053.0ZM2056.2 1208.6H2059.8V1296.3H2056.2ZM2059.4 1208.6H2063.1V1295.5H2059.4ZM2062.7 1208.6H2066.3V1297.2H2062.7ZM2065.9 1208.6H2069.5V1296.1H2065.9ZM2069.1 1208.6H2072.7V1297.8H2069.1ZM2072.3 1208.6H2076.0V1295.4H2072.3ZM2075.6 1208.6H2079.2V1297.9H2075.6ZM2078.8 1208.6H2082.4V1296.8H2078.8ZM2082.0 1208.6H2085.6V1293.7H2082.0ZM2085.2 1208.6H2088.9V1297.2H2085.2ZM2088.5 1208.6H2092.1V1299.5H2088.5ZM2091.7 1208.6H2095.3V1298.2H2091.7ZM2094.9 1208.6H2098.5V1301.6H2094.9ZM2098.1 1208.6H2101.8V1299.9H2098.1ZM2101.4 1208.6H2105.0V1303.1H2101.4ZM2104.6 1208.6H2108.2V1299.6H2104.6ZM2107.8 1208.6H2111.4V1300.5H2107.8ZM2111.0 1208.6H2114.7V1296.6H2111.0ZM2114.3 1208.6H2117.9V1294.2H2114.3ZM2117.5 1208.6H2121.1V1296.1H2117.5ZM2120.7 1208.6H2124.3V1297.5H2120.7ZM2123.9 1208.6H2127.6V1297.1H2123.9ZM2127.2 1208.6H2130.8V1301.4H2127.2ZM2130.4 1208.6H2134.0V1303.4H2130.4ZM2133.6 1208.6H2137.2V1305.7H2133.6ZM2136.8 1208.6H2140.5V1309.8H2136.8ZM2140.1 1208.6H2143.7V1314.1H2140.1ZM2143.3 1208.6H2146.9V1314.2H2143.3ZM2146.5 1208.6H2150.1V1319.4H2146.5ZM2149.7 1208.6H2153.4V1322.4H2149.7ZM2153.0 1208.6H2156.6V1323.1H2153.0ZM2156.2 1208.6H2159.8V1327.7H2156.2ZM2159.4 1208.6H2163.0V1329.3H2159.4ZM2162.6 1208.6H2166.3V1327.3H2162.6ZM2165.9 1208.6H2169.5V1331.4H2165.9ZM2169.1 1208.6H2172.7V1330.8H2169.1ZM2172.3 1208.6H2175.9V1334.2H2172.3ZM2175.5 1208.6H2179.2V1339.8H2175.5ZM2178.8 1208.6H2182.4V1342.2H2178.8ZM2182.0 1208.6H2185.6V1346.0H2182.0ZM2185.2 1208.6H2188.8V1345.8H2185.2ZM2188.4 1208.6H2192.1V1344.0H2188.4ZM2191.7 1208.6H2195.3V1341.9H2191.7ZM2194.9 1208.6H2198.5V1337.8H2194.9ZM2198.1 1208.6H2201.8V1336.8H2198.1ZM2201.4 1208.6H2205.0V1338.9H2201.4ZM2204.6 1208.6H2208.2V1335.9H2204.6ZM2207.8 1208.6H2211.4V1336.3H2207.8ZM2211.0 1208.6H2214.7V1334.1H2211.0ZM2214.3 1208.6H2217.9V1334.3H2214.3ZM2217.5 1208.6H2221.1V1332.3H2217.5ZM2220.7 1208.6H2224.3V1334.7H2220.7ZM2223.9 1208.6H2227.6V1331.2H2223.9ZM2227.2 1208.6H2230.8V1331.7H2227.2ZM2230.4 1208.6H2234.0V1331.1H2230.4ZM2233.6 1208.6H2237.2V1332.1H2233.6ZM2236.8 1208.6H2240.5V1328.6H2236.8ZM2240.1 1208.6H2243.7V1329.6H2240.1ZM2243.3 1208.6H2246.9V1328.9H2243.3ZM2246.5 1208.6H2250.1V1329.2H2246.5ZM2249.7 1208.6H2253.4V1328.6H2249.7ZM2253.0 1208.6H2256.6V1327.0H2253.0ZM2256.2 1208.6H2259.8V1327.2H2256.2ZM2259.4 1208.6H2263.0V1326.3H2259.4ZM2262.6 1208.6H2266.3V1328.5H2262.6ZM2265.9 1208.6H2269.5V1329.2H2265.9ZM2269.1 1208.6H2272.7V1329.9H2269.1ZM2272.3 1208.6H2275.9V1331.9H2272.3ZM2275.5 1208.6H2279.2V1333.6H2275.5ZM2278.8 1208.6H2282.4V1337.0H2278.8ZM2282.0 1208.6H2285.6V1334.3H2282.0ZM2285.2 1208.6H2288.8V1334.7H2285.2ZM2288.4 1208.6H2292.1V1335.5H2288.4ZM2291.7 1208.6H2295.3V1331.1H2291.7ZM2294.9 1208.6H2298.5V1331.1H2294.9ZM2298.1 1208.6H2301.7V1331.2H2298.1ZM2301.3 1208.6H2305.0V1331.9H2301.3ZM2304.6 1208.6H2308.2V1334.3H2304.6ZM2307.8 1208.6H2311.4V1331.6H2307.8ZM2311.0 1208.6H2314.6V1332.0H2311.0ZM2314.2 1208.6H2317.9V1329.9H2314.2ZM2317.5 1208.6H2321.1V1326.9H2317.5ZM2320.7 1208.6H2324.3V1326.5H2320.7ZM2323.9 1208.6H2327.5V1330.3H2323.9ZM2327.1 1208.6H2330.8V1331.0H2327.1ZM2330.4 1208.6H2334.0V1330.9H2330.4ZM2333.6 1208.6H2337.2V1335.2H2333.6ZM2336.8 1208.6H2340.4V1333.9H2336.8ZM2340.0 1208.6H2343.7V1338.4H2340.0ZM2343.3 1208.6H2346.9V1338.3H2343.3ZM2346.5 1208.6H2350.1V1335.4H2346.5ZM2349.7 1208.6H2353.3V1334.6H2349.7ZM2352.9 1208.6H2356.6V1336.3H2352.9ZM2356.2 1208.6H2359.8V1333.7H2356.2ZM2359.4 1208.6H2363.0V1335.4H2359.4ZM2362.6 1208.6H2366.2V1332.7H2362.6ZM2365.8 1208.6H2369.5V1334.4H2365.8ZM2369.1 1208.6H2372.7V1333.2H2369.1Z" fill="#ee2b2b"/>
<path d="M427.4 1208.6H431.0V1201.8H427.4ZM430.6 1208.6H434.2V1202.0H430.6ZM433.8 1208.6H437.4V1199.9H433.8ZM437.0 1208.6H440.7V1197.5H437.0ZM440.3 1208.6H443.9V1200.8H440.3ZM443.5 1208.6H447.1V1204.2H443.5ZM446.7 1208.6H450.3V1207.6H446.7ZM537.0 1208.6H540.6V1205.3H537.0ZM540.2 1208.6H543.9V1200.4H540.2ZM543.5 1208.6H547.1V1200.1H543.5ZM546.7 1208.6H550.3V1201.8H546.7ZM549.9 1208.6H553.5V1204.5H549.9ZM553.1 1208.6H556.8V1203.8H553.1ZM556.4 1208.6H560.0V1203.3H556.4ZM559.6 1208.6H563.2V1207.2H559.6ZM562.8 1208.6H566.4V1206.2H562.8ZM566.1 1208.6H569.7V1206.9H566.1ZM569.3 1208.6H572.9V1203.6H569.3ZM572.5 1208.6H576.1V1201.3H572.5ZM575.7 1208.6H579.4V1196.3H575.7ZM579.0 1208.6H582.6V1195.4H579.0ZM582.2 1208.6H585.8V1198.8H582.2ZM585.4 1208.6H589.0V1198.3H585.4ZM588.6 1208.6H592.3V1203.5H588.6Z" fill="#149d81"/>
<text x="1282.7" y="1197.8" font-size="29.5" font-weight="bold" fill="#000" textLength="241.6" lengthAdjust="spacingAndGlyphs">Net Delta Position</text>
<text x="2377" y="1217.2" font-size="21" fill="#3a4b69">$0</text>
<text x="2377" y="1271.5" font-size="21" fill="#3a4b69">$−1B</text>
<text x="2377" y="1325.8" font-size="21" fill="#3a4b69">$−2B</text>
<path d="M206.6 1448.8v-4.9M209.8 1448.8v-3.5M213.1 1448.8v-3.0M229.2 1448.8v-11.0M232.4 1448.8v-3.3M235.6 1448.8v-5.1M248.5 1448.8v-2.0M251.8 1448.8v-3.8M255.0 1448.8v-8.1M264.7 1448.8v-25.1M280.8 1448.8v-19.3M287.2 1448.8v-18.7M300.2 1448.8v-21.8M326.0 1448.8v-6.8M329.2 1448.8v-14.5M335.6 1448.8v-22.4M342.1 1448.8v-16.6M351.8 1448.8v-23.9M355.0 1448.8v-24.2M358.2 1448.8v-17.2M364.7 1448.8v-12.7M371.1 1448.8v-17.4M374.3 1448.8v-3.3M384.0 1448.8v-2.0M387.2 1448.8v-5.9M393.7 1448.8v-26.3M396.9 1448.8v-21.7M403.4 1448.8v-18.1M406.6 1448.8v-11.7M409.8 1448.8v-4.8M416.3 1448.8v-40.9M429.2 1448.8v-49.9M432.4 1448.8v-33.7M442.1 1448.8v-11.8M445.3 1448.8v-12.8M448.5 1448.8v-2.8M451.7 1448.8v-3.7M461.4 1448.8v-24.1M471.1 1448.8v-14.6M474.3 1448.8v-3.8M480.8 1448.8v-2.0M484.0 1448.8v-7.6M487.2 1448.8v-2.1M490.5 1448.8v-5.1M503.4 1448.8v-5.0M506.6 1448.8v-16.6M509.8 1448.8v-18.1M513.0 1448.8v-7.7M516.3 1448.8v-11.7M519.5 1448.8v-20.0M522.7 1448.8v-9.0M525.9 1448.8v-3.6M529.2 1448.8v-6.1M535.6 1448.8v-20.9M538.8 1448.8v-5.9M545.3 1448.8v-25.1M548.5 1448.8v-10.9M551.7 1448.8v-14.3M555.0 1448.8v-16.3M564.6 1448.8v-27.3M567.9 1448.8v-4.3M574.3 1448.8v-30.7M577.5 1448.8v-13.2M580.8 1448.8v-17.7M593.7 1448.8v-14.8M603.3 1448.8v-2.3M606.6 1448.8v-5.2M609.8 1448.8v-6.3M613.0 1448.8v-2.6M635.6 1448.8v-10.2M638.8 1448.8v-2.8M642.0 1448.8v-2.1M648.5 1448.8v-2.9M651.7 1448.8v-16.6M677.5 1448.8v-7.3M680.8 1448.8v-8.3M687.2 1448.8v-3.3M700.1 1448.8v-8.3M703.3 1448.8v-4.5M716.2 1448.8v-8.4M719.5 1448.8v-4.2M729.1 1448.8v-2.2M735.6 1448.8v-2.4M742.0 1448.8v-5.1M748.5 1448.8v-5.3M758.2 1448.8v-2.5M761.4 1448.8v-2.1M764.6 1448.8v-7.2M767.8 1448.8v-14.4M777.5 1448.8v-3.4M780.7 1448.8v-3.6M787.2 1448.8v-8.2M793.6 1448.8v-5.8M800.1 1448.8v-5.1M803.3 1448.8v-16.9M806.5 1448.8v-2.9M822.7 1448.8v-2.1M838.8 1448.8v-5.5M842.0 1448.8v-6.0M845.3 1448.8v-3.6M854.9 1448.8v-3.4M864.6 1448.8v-2.4M874.3 1448.8v-7.3M880.7 1448.8v-2.6M884.0 1448.8v-8.8M887.2 1448.8v-3.2M890.4 1448.8v-16.6M903.3 1448.8v-2.0M906.5 1448.8v-5.3M909.8 1448.8v-6.0M913.0 1448.8v-14.1M916.2 1448.8v-20.3M922.7 1448.8v-10.6M925.9 1448.8v-2.3M935.6 1448.8v-16.8M945.2 1448.8v-20.6M948.5 1448.8v-23.0M954.9 1448.8v-4.1M961.4 1448.8v-18.3M967.8 1448.8v-21.7M974.3 1448.8v-16.6M983.9 1448.8v-11.6M993.6 1448.8v-32.4M1000.1 1448.8v-10.8M1003.3 1448.8v-26.4M1013.0 1448.8v-14.8M1019.4 1448.8v-2.2M1022.7 1448.8v-16.1M1029.1 1448.8v-23.0M1042.0 1448.8v-4.3M1051.7 1448.8v-20.0M1058.1 1448.8v-2.0M1061.4 1448.8v-20.0M1064.6 1448.8v-29.3M1071.0 1448.8v-17.4M1074.3 1448.8v-4.2M1080.7 1448.8v-6.3M1087.2 1448.8v-17.0M1093.6 1448.8v-9.5M1096.8 1448.8v-2.2M1100.1 1448.8v-23.0M1103.3 1448.8v-7.7M1106.5 1448.8v-30.0M1109.7 1448.8v-13.2M1116.2 1448.8v-3.0M1122.6 1448.8v-20.9M1125.9 1448.8v-27.1M1129.1 1448.8v-15.2M1167.8 1448.8v-14.5M1180.7 1448.8v-7.9M1190.4 1448.8v-51.6M1196.8 1448.8v-21.7M1200.1 1448.8v-21.7M1203.3 1448.8v-23.5M1209.7 1448.8v-25.1M1216.2 1448.8v-13.2M1219.4 1448.8v-28.6M1232.3 1448.8v-33.3M1235.5 1448.8v-9.2M1238.8 1448.8v-30.7M1248.4 1448.8v-6.4M1251.7 1448.8v-18.9M1254.9 1448.8v-3.5M1264.6 1448.8v-25.1M1277.5 1448.8v-3.9M1293.6 1448.8v-20.6M1296.8 1448.8v-6.3M1306.5 1448.8v-12.4M1312.9 1448.8v-13.2M1319.4 1448.8v-2.2M1322.6 1448.8v-15.2M1325.8 1448.8v-11.0M1329.1 1448.8v-3.2M1332.3 1448.8v-16.5M1345.2 1448.8v-44.4M1354.9 1448.8v-28.5M1361.3 1448.8v-5.0M1364.5 1448.8v-25.3M1374.2 1448.8v-2.9M1383.9 1448.8v-13.8M1387.1 1448.8v-20.3M1390.4 1448.8v-26.1M1393.6 1448.8v-29.2M1396.8 1448.8v-2.1M1400.0 1448.8v-8.0M1403.3 1448.8v-8.9M1409.7 1448.8v-16.6M1412.9 1448.8v-4.6M1442.0 1448.8v-3.4M1445.2 1448.8v-2.0M1448.4 1448.8v-21.7M1451.6 1448.8v-13.9M1467.8 1448.8v-3.4M1471.0 1448.8v-25.2M1474.2 1448.8v-5.0M1477.4 1448.8v-12.8M1480.7 1448.8v-9.9M1490.3 1448.8v-25.0M1496.8 1448.8v-12.9M1506.5 1448.8v-14.9M1509.7 1448.8v-5.6M1512.9 1448.8v-32.4M1516.1 1448.8v-4.6M1522.6 1448.8v-36.7M1525.8 1448.8v-9.7M1541.9 1448.8v-6.3M1574.2 1448.8v-4.2M1577.4 1448.8v-4.2M1580.7 1448.8v-26.4M1609.7 1448.8v-8.7M1619.4 1448.8v-17.1M1629.0 1448.8v-2.9M1632.3 1448.8v-17.1M1635.5 1448.8v-10.8M1638.7 1448.8v-4.1M1651.6 1448.8v-72.1M1661.3 1448.8v-15.6M1664.5 1448.8v-7.2M1667.7 1448.8v-2.5M1674.2 1448.8v-25.1M1677.4 1448.8v-2.7M1680.6 1448.8v-13.2M1690.3 1448.8v-2.5M1696.8 1448.8v-5.0M1700.0 1448.8v-3.7M1703.2 1448.8v-7.1M1706.4 1448.8v-3.2M1709.7 1448.8v-2.7M1719.3 1448.8v-4.3M1722.6 1448.8v-2.9M1741.9 1448.8v-5.0M1745.2 1448.8v-11.1M1748.4 1448.8v-4.6M1751.6 1448.8v-6.2M1761.3 1448.8v-2.4M1764.5 1448.8v-4.3M1767.7 1448.8v-2.5M1771.0 1448.8v-3.6M1774.2 1448.8v-7.6M1790.3 1448.8v-5.4M1793.5 1448.8v-2.1M1796.8 1448.8v-8.2M1803.2 1448.8v-4.6M1812.9 1448.8v-2.7M1822.6 1448.8v-4.9M1825.8 1448.8v-2.5M1829.0 1448.8v-20.1M1835.5 1448.8v-2.0M1841.9 1448.8v-2.9M1845.1 1448.8v-10.1M1854.8 1448.8v-5.9M1861.3 1448.8v-2.2M1870.9 1448.8v-3.0M1874.2 1448.8v-10.3M1877.4 1448.8v-3.1M1890.3 1448.8v-5.5M1893.5 1448.8v-2.4M1896.7 1448.8v-2.4M1903.2 1448.8v-10.5M1906.4 1448.8v-6.5M1909.6 1448.8v-2.9M1929.0 1448.8v-4.4M1941.9 1448.8v-2.1M1945.1 1448.8v-3.4M1948.4 1448.8v-13.0M1954.8 1448.8v-2.4M1961.3 1448.8v-21.7M1967.7 1448.8v-22.0M1970.9 1448.8v-6.4M1977.4 1448.8v-20.2M1980.6 1448.8v-7.4M1983.8 1448.8v-3.6M1990.3 1448.8v-3.8M1993.5 1448.8v-12.8M1996.7 1448.8v-8.3M2003.2 1448.8v-14.6M2009.6 1448.8v-22.5M2019.3 1448.8v-5.1M2022.5 1448.8v-7.5M2025.8 1448.8v-34.4M2032.2 1448.8v-6.8M2035.4 1448.8v-2.8M2038.7 1448.8v-38.8M2051.6 1448.8v-5.3M2058.0 1448.8v-3.8M2067.7 1448.8v-3.0M2070.9 1448.8v-9.3M2074.1 1448.8v-2.6M2077.4 1448.8v-21.3M2080.6 1448.8v-2.4M2083.8 1448.8v-7.9M2087.0 1448.8v-2.7M2096.7 1448.8v-2.2M2106.4 1448.8v-2.1M2116.1 1448.8v-12.2M2125.8 1448.8v-42.2M2138.7 1448.8v-21.8M2141.9 1448.8v-16.3M2145.1 1448.8v-4.7M2148.3 1448.8v-2.1M2154.8 1448.8v-28.1M2161.2 1448.8v-2.9M2167.7 1448.8v-4.8M2180.6 1448.8v-2.2M2183.8 1448.8v-3.6M2187.0 1448.8v-4.7M2190.3 1448.8v-21.0M2196.7 1448.8v-28.1M2203.2 1448.8v-17.4M2219.3 1448.8v-3.8M2222.5 1448.8v-15.7M2225.7 1448.8v-39.2M2229.0 1448.8v-16.9M2235.4 1448.8v-6.2M2241.9 1448.8v-6.0M2245.1 1448.8v-15.6M2248.3 1448.8v-11.0M2258.0 1448.8v-16.3M2264.4 1448.8v-2.5M2267.7 1448.8v-28.4M2274.1 1448.8v-14.7M2280.6 1448.8v-14.8M2283.8 1448.8v-4.9M2299.9 1448.8v-6.7M2309.6 1448.8v-32.8M2312.8 1448.8v-2.6M2316.1 1448.8v-5.1M2319.3 1448.8v-6.0M2322.5 1448.8v-5.8M2325.7 1448.8v-2.5M2329.0 1448.8v-2.0M2332.2 1448.8v-7.6M2335.4 1448.8v-2.1M2338.6 1448.8v-4.5M2341.9 1448.8v-3.7M2345.1 1448.8v-4.0M2351.5 1448.8v-14.7M2370.9 1448.8v-9.3" stroke="#149d81" stroke-width="3.4" fill="none"/>
<path d="M216.3 1447.2v25.6M219.5 1447.2v15.2M222.7 1447.2v3.2M226.0 1447.2v2.7M238.9 1447.2v28.6M242.1 1447.2v2.1M245.3 1447.2v21.2M258.2 1447.2v7.3M261.4 1447.2v15.8M267.9 1447.2v8.9M271.1 1447.2v3.6M274.3 1447.2v26.4M277.6 1447.2v21.0M284.0 1447.2v2.3M290.5 1447.2v3.5M293.7 1447.2v2.7M296.9 1447.2v21.8M303.4 1447.2v13.3M306.6 1447.2v3.9M309.8 1447.2v3.2M313.1 1447.2v6.1M316.3 1447.2v3.0M319.5 1447.2v23.4M322.7 1447.2v21.8M332.4 1447.2v3.2M338.9 1447.2v6.8M345.3 1447.2v3.2M348.5 1447.2v23.4M361.4 1447.2v2.5M367.9 1447.2v14.6M377.6 1447.2v12.1M380.8 1447.2v3.7M390.5 1447.2v8.3M400.1 1447.2v14.9M413.0 1447.2v10.6M419.5 1447.2v16.2M422.7 1447.2v32.8M425.9 1447.2v24.0M429.2 1447.2v26.8M435.6 1447.2v9.6M438.8 1447.2v4.1M455.0 1447.2v62.7M458.2 1447.2v3.4M464.6 1447.2v9.6M467.9 1447.2v18.6M477.6 1447.2v19.2M493.7 1447.2v21.0M496.9 1447.2v2.1M500.1 1447.2v14.8M532.4 1447.2v17.5M542.1 1447.2v32.2M545.3 1447.2v29.8M558.2 1447.2v27.7M561.4 1447.2v22.5M571.1 1447.2v15.3M584.0 1447.2v38.4M587.2 1447.2v3.7M590.4 1447.2v2.8M593.7 1447.2v31.1M596.9 1447.2v7.7M600.1 1447.2v28.6M616.2 1447.2v4.2M619.5 1447.2v2.4M622.7 1447.2v9.2M625.9 1447.2v8.2M629.1 1447.2v23.3M632.4 1447.2v2.3M645.3 1447.2v11.1M654.9 1447.2v2.3M658.2 1447.2v11.8M661.4 1447.2v2.9M664.6 1447.2v7.1M667.9 1447.2v2.9M671.1 1447.2v15.2M674.3 1447.2v2.1M684.0 1447.2v6.7M690.4 1447.2v25.6M693.7 1447.2v9.2M696.9 1447.2v2.1M706.6 1447.2v3.9M709.8 1447.2v4.3M713.0 1447.2v4.5M722.7 1447.2v2.9M725.9 1447.2v11.5M732.4 1447.2v4.0M738.8 1447.2v2.3M745.3 1447.2v2.3M751.7 1447.2v3.1M754.9 1447.2v6.1M771.1 1447.2v6.9M774.3 1447.2v5.4M784.0 1447.2v2.7M790.4 1447.2v28.6M796.9 1447.2v2.1M809.8 1447.2v2.1M813.0 1447.2v2.1M816.2 1447.2v14.2M819.4 1447.2v3.1M825.9 1447.2v13.1M829.1 1447.2v4.4M832.3 1447.2v4.2M835.6 1447.2v13.5M848.5 1447.2v19.2M851.7 1447.2v2.5M858.2 1447.2v2.1M861.4 1447.2v4.8M867.8 1447.2v5.5M871.1 1447.2v3.5M877.5 1447.2v3.7M893.6 1447.2v2.8M896.9 1447.2v6.3M900.1 1447.2v4.2M919.4 1447.2v2.8M929.1 1447.2v2.8M932.3 1447.2v3.7M938.8 1447.2v8.9M942.0 1447.2v3.3M948.5 1447.2v28.6M951.7 1447.2v9.2M958.1 1447.2v44.8M964.6 1447.2v13.8M971.0 1447.2v5.3M977.5 1447.2v4.4M980.7 1447.2v4.5M987.2 1447.2v18.5M990.4 1447.2v8.1M996.8 1447.2v20.1M1006.5 1447.2v35.0M1009.7 1447.2v32.0M1016.2 1447.2v18.0M1025.9 1447.2v30.9M1032.3 1447.2v3.7M1035.6 1447.2v17.4M1038.8 1447.2v3.8M1045.2 1447.2v13.3M1048.5 1447.2v25.6M1054.9 1447.2v3.5M1061.4 1447.2v14.6M1067.8 1447.2v14.9M1077.5 1447.2v2.2M1083.9 1447.2v24.2M1090.4 1447.2v9.7M1100.1 1447.2v50.3M1113.0 1447.2v2.4M1119.4 1447.2v13.2M1125.9 1447.2v16.5M1132.3 1447.2v6.7M1135.5 1447.2v14.2M1138.8 1447.2v10.9M1142.0 1447.2v2.3M1145.2 1447.2v6.8M1148.4 1447.2v2.5M1151.7 1447.2v12.9M1154.9 1447.2v2.3M1158.1 1447.2v4.6M1161.3 1447.2v8.7M1164.6 1447.2v6.7M1171.0 1447.2v8.0M1174.2 1447.2v8.7M1177.5 1447.2v5.8M1183.9 1447.2v14.2M1187.1 1447.2v48.2M1193.6 1447.2v5.9M1196.8 1447.2v46.1M1206.5 1447.2v32.8M1213.0 1447.2v64.0M1222.6 1447.2v19.2M1225.9 1447.2v12.6M1229.1 1447.2v12.0M1232.3 1447.2v82.4M1242.0 1447.2v19.3M1245.2 1447.2v19.2M1251.7 1447.2v18.9M1258.1 1447.2v7.3M1261.3 1447.2v6.1M1267.8 1447.2v2.1M1271.0 1447.2v22.1M1274.2 1447.2v19.8M1280.7 1447.2v32.5M1283.9 1447.2v10.0M1287.1 1447.2v22.0M1290.4 1447.2v15.2M1300.0 1447.2v14.0M1303.3 1447.2v32.6M1309.7 1447.2v4.3M1316.2 1447.2v16.6M1335.5 1447.2v29.8M1338.7 1447.2v4.3M1342.0 1447.2v4.9M1348.4 1447.2v3.8M1351.6 1447.2v29.4M1358.1 1447.2v3.4M1367.8 1447.2v28.3M1371.0 1447.2v36.2M1377.4 1447.2v2.7M1380.7 1447.2v41.8M1393.6 1447.2v27.7M1406.5 1447.2v2.4M1416.2 1447.2v17.0M1419.4 1447.2v21.9M1422.6 1447.2v23.7M1425.8 1447.2v17.1M1429.1 1447.2v9.4M1432.3 1447.2v8.5M1435.5 1447.2v4.0M1438.7 1447.2v14.6M1454.9 1447.2v6.6M1458.1 1447.2v3.2M1461.3 1447.2v2.8M1464.5 1447.2v22.6M1483.9 1447.2v23.1M1487.1 1447.2v24.3M1493.6 1447.2v10.2M1500.0 1447.2v24.0M1503.2 1447.2v3.7M1519.4 1447.2v32.8M1529.0 1447.2v5.3M1532.3 1447.2v19.9M1535.5 1447.2v7.9M1538.7 1447.2v22.5M1545.2 1447.2v13.3M1548.4 1447.2v2.0M1551.6 1447.2v2.3M1554.8 1447.2v15.3M1558.1 1447.2v16.8M1561.3 1447.2v8.7M1564.5 1447.2v5.7M1567.8 1447.2v7.2M1571.0 1447.2v24.0M1583.9 1447.2v15.6M1587.1 1447.2v3.4M1590.3 1447.2v2.0M1593.6 1447.2v7.8M1596.8 1447.2v17.2M1600.0 1447.2v4.7M1603.2 1447.2v3.1M1606.5 1447.2v7.6M1612.9 1447.2v6.0M1616.1 1447.2v2.8M1622.6 1447.2v3.3M1625.8 1447.2v4.9M1641.9 1447.2v11.5M1645.2 1447.2v2.1M1648.4 1447.2v26.4M1654.8 1447.2v17.5M1658.1 1447.2v39.7M1671.0 1447.2v8.3M1683.9 1447.2v16.5M1687.1 1447.2v8.3M1693.5 1447.2v10.9M1712.9 1447.2v12.5M1716.1 1447.2v3.9M1725.8 1447.2v9.2M1729.0 1447.2v3.1M1732.2 1447.2v3.9M1735.5 1447.2v5.7M1738.7 1447.2v18.3M1754.8 1447.2v4.6M1758.1 1447.2v5.2M1777.4 1447.2v9.8M1780.6 1447.2v2.2M1783.9 1447.2v2.7M1787.1 1447.2v2.1M1800.0 1447.2v5.3M1806.4 1447.2v4.2M1809.7 1447.2v6.9M1816.1 1447.2v3.4M1819.3 1447.2v2.3M1832.2 1447.2v6.0M1838.7 1447.2v5.2M1848.4 1447.2v2.2M1851.6 1447.2v10.2M1858.0 1447.2v3.0M1864.5 1447.2v2.4M1867.7 1447.2v2.6M1880.6 1447.2v2.5M1883.8 1447.2v6.1M1887.1 1447.2v10.4M1900.0 1447.2v4.0M1912.9 1447.2v18.9M1916.1 1447.2v3.0M1919.3 1447.2v5.8M1922.6 1447.2v5.0M1925.8 1447.2v4.6M1932.2 1447.2v10.7M1935.5 1447.2v4.0M1938.7 1447.2v3.3M1951.6 1447.2v2.3M1958.0 1447.2v3.9M1961.3 1447.2v14.0M1964.5 1447.2v15.1M1974.2 1447.2v12.0M1987.1 1447.2v2.7M2000.0 1447.2v18.9M2006.4 1447.2v2.1M2012.9 1447.2v8.8M2016.1 1447.2v29.8M2029.0 1447.2v6.4M2041.9 1447.2v5.7M2045.1 1447.2v8.8M2048.3 1447.2v22.6M2054.8 1447.2v10.8M2061.2 1447.2v23.9M2064.5 1447.2v23.9M2090.3 1447.2v8.4M2093.5 1447.2v28.6M2099.9 1447.2v16.7M2103.2 1447.2v4.9M2109.6 1447.2v8.2M2112.9 1447.2v10.8M2119.3 1447.2v7.3M2122.5 1447.2v6.9M2129.0 1447.2v26.8M2132.2 1447.2v5.1M2135.4 1447.2v8.9M2151.6 1447.2v32.8M2158.0 1447.2v10.2M2164.5 1447.2v7.8M2170.9 1447.2v2.8M2174.1 1447.2v8.6M2177.4 1447.2v53.3M2190.3 1447.2v15.1M2193.5 1447.2v10.6M2199.9 1447.2v11.2M2206.4 1447.2v22.9M2209.6 1447.2v13.5M2212.8 1447.2v19.1M2216.1 1447.2v8.0M2232.2 1447.2v22.6M2238.6 1447.2v17.3M2251.5 1447.2v6.2M2254.8 1447.2v5.0M2261.2 1447.2v5.0M2270.9 1447.2v6.6M2277.3 1447.2v16.9M2280.6 1447.2v32.8M2287.0 1447.2v12.6M2290.3 1447.2v8.7M2293.5 1447.2v2.1M2296.7 1447.2v2.7M2303.2 1447.2v2.5M2306.4 1447.2v2.5M2348.3 1447.2v3.5M2354.8 1447.2v17.6M2358.0 1447.2v2.2M2361.2 1447.2v4.8M2364.4 1447.2v6.1M2367.7 1447.2v4.6" stroke="#ee2b2b" stroke-width="3.4" fill="none"/>
<text x="1274" y="1395.4" font-size="29.5" font-weight="bold" fill="#000" textLength="258.5" lengthAdjust="spacingAndGlyphs">Open Interest Delta</text>
<text x="2377" y="1401.1" font-size="21" fill="#3a4b69">$200M</text>
<text x="2377" y="1456.5" font-size="21" fill="#3a4b69">$0</text>
<text x="2377" y="1511.9" font-size="21" fill="#3a4b69">$−200M</text>
<text x="327.6" y="1562.5" font-size="21" fill="#3a4b69" text-anchor="middle">Sep 26</text>
<text x="637.3" y="1562.5" font-size="21" fill="#3a4b69" text-anchor="middle">Sep 28</text>
<text x="947.0" y="1562.5" font-size="21" fill="#3a4b69" text-anchor="middle">Sep 30</text>
<text x="1256.7" y="1562.5" font-size="21" fill="#3a4b69" text-anchor="middle">Oct 2</text>
<text x="1566.4" y="1562.5" font-size="21" fill="#3a4b69" text-anchor="middle">Oct 4</text>
<text x="1876.1" y="1562.5" font-size="21" fill="#3a4b69" text-anchor="middle">Oct 6</text>
<text x="2185.8" y="1562.5" font-size="21" fill="#3a4b69" text-anchor="middle">Oct 8</text>
<text x="327.6" y="1591.5" font-size="21" fill="#3a4b69" text-anchor="middle">2024</text>
<g id="logo">
<path d="M 2493.6 1470.3 L 2514.2 1404.3 L 2522.0 1404.3 L 2524.3 1413.9 L 2513.9 1444.9 C 2518.4 1440.5 2521.3 1439.0 2523.7 1438.1 L 2527.5 1444.9 C 2518.4 1448.6 2511.7 1456.7 2504.8 1469.0 Z" fill="url(#lg2)"/>
<path d="M 2514.2 1404.3 L 2523.1 1404.3 L 2549.6 1470.3 L 2536.8 1466.7 Z" fill="url(#lg1)"/>
<path d="M 2527.2 1404.3 L 2549.3 1404.3 C 2572.2 1404.3 2572.2 1442.0 2549.3 1442.0 L 2540.8 1442.0 L 2538.3 1434.9 L 2548.2 1434.9 C 2560.8 1434.3 2560.8 1411.7 2548.2 1411.7 L 2530.9 1411.7 Z" fill="url(#lg3)"/>
<text x="2574.4" y="1458.2" font-size="48.5" fill="#222" stroke="#fff" stroke-width="0.9" textLength="259" lengthAdjust="spacingAndGlyphs">Alphractal</text>
</g>
</svg></body></html>
